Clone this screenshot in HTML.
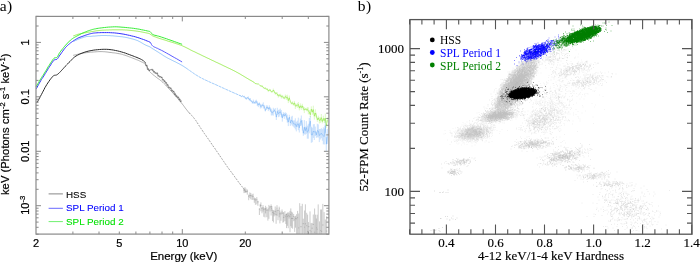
<!DOCTYPE html>
<html><head><meta charset="utf-8"><style>
html,body{margin:0;padding:0;background:#fff;width:700px;height:262px;overflow:hidden}
svg{display:block;filter:blur(0.3px)}
</style></head><body>
<svg width="700" height="262" viewBox="0 0 700 262">
<rect width="700" height="262" fill="#fff"/>
<polyline points="73.3,41.5 74.3,41.1 75.3,40.6 76.3,40.2 77.3,39.7 78.3,39.3 79.3,38.9 80.3,38.5 81.3,38.1 82.3,37.8 83.3,37.4 84.3,37.1 85.3,36.9 86.3,36.6 87.3,36.5 88.3,36.4 89.3,36.4 90.3,36.4 91.3,36.3 92.3,36.2 93.3,36.1 94.3,36.1 95.3,36.0 96.3,35.9 97.3,35.8 98.3,35.7 99.3,35.7 100.3,35.6 101.3,35.5 102.3,35.5 103.3,35.5 104.3,35.5 105.3,35.5 106.3,35.5 107.3,35.6 108.3,35.6 109.3,35.6 110.3,35.7 111.3,35.8 112.3,35.8 113.3,35.9 114.3,36.0 115.3,36.1 116.3,36.2 117.3,36.3 118.3,36.4 119.3,36.5 120.3,36.6 121.3,36.7 122.3,36.8 123.3,37.0 124.3,37.1 125.3,37.3 126.3,37.5 127.3,37.7 128.3,37.9 129.3,38.2 130.3,38.4 131.3,38.7 132.3,38.9 133.3,39.2 134.3,39.5 135.3,39.8 136.3,40.2 137.3,40.5 138.3,41.0 139.3,41.5 140.3,42.0 141.3,42.6 142.3,43.2 143.3,43.8 144.3,44.4 145.3,44.9 146.3,45.4 147.3,45.8 148.3,46.2 149.3,46.6 150.3,47.1 151.3,47.8 152.3,48.5 153.3,49.1 154.3,49.7 155.3,50.4 156.3,51.0 157.3,51.6 158.3,52.2 159.3,52.9 160.3,53.5 161.3,54.1 162.3,54.8 163.3,55.5 164.3,56.1 165.3,56.7 166.3,57.3 167.3,57.9 168.3,58.4 169.3,58.9 170.3,59.4 171.3,59.9 172.3,60.4 173.3,60.9 174.3,61.4 175.3,61.8 176.3,62.4 177.3,62.9 178.3,63.4 179.3,63.9 180.3,64.5 181.3,65.0 182.3,65.6 183.3,66.2 184.3,66.9 185.3,67.5 186.3,68.2" fill="none" stroke="#4c9cf4" stroke-width="0.7" stroke-opacity="0.8"/><polyline points="186.3,68.2 187.3,68.9 188.3,69.6 189.3,70.3 190.3,71.0 191.3,71.7 192.3,72.4 193.3,73.1 194.3,73.8 195.3,74.5 196.3,75.1 197.3,75.7 198.3,76.3 199.3,76.9 200.3,77.5 201.3,78.0 202.3,78.5 203.3,79.0 204.3,79.5 205.3,80.0 206.3,80.4 207.3,80.9 208.3,81.4 209.3,81.8 210.3,82.3 211.3,82.7 212.3,83.2 213.3,83.6 214.3,84.0 215.3,84.5 216.3,84.9 217.3,85.4 218.3,85.8 219.3,86.3 220.3,86.8 221.3,87.2 222.3,87.7 223.3,88.1 224.3,88.6 225.3,89.0 226.3,89.5 227.3,89.9 228.3,90.4 229.3,90.8 230.3,91.3 231.3,91.7 232.3,92.2 233.3,92.6 234.3,93.1 235.3,93.5 236.3,93.9 237.3,94.4 238.3,94.8 239.3,95.3 240.3,95.5" fill="none" stroke="#4c9cf4" stroke-width="0.7" stroke-opacity="0.8" stroke-dasharray="3 0.7"/><polyline points="240.3,95.5 241.3,96.9 242.3,95.8 243.3,96.7 244.3,96.6 245.3,98.1 246.3,98.6 247.3,97.8 248.3,97.9 249.3,99.5 250.3,99.7 251.3,101.0 252.3,102.5 253.3,101.6 254.3,102.8 255.3,102.2 256.3,101.4 257.3,103.7 258.3,105.1 259.3,103.5 260.3,106.2 261.3,106.4 262.3,105.1 263.3,105.4 264.3,106.7 265.3,110.5 266.3,107.6 267.3,107.1 268.3,109.1 269.3,107.5 270.3,109.6 271.3,112.1 272.3,113.0 273.3,111.7 274.3,110.4 275.3,111.3 276.3,117.1 277.3,111.4 278.3,113.5 279.3,113.0 280.3,111.7 281.3,113.6 282.3,117.9 283.3,114.4 284.3,115.8 285.3,114.3 286.3,116.3 287.3,118.6 288.3,122.1 289.3,117.1 290.3,122.9 291.3,120.5 292.3,120.7 293.3,123.6 294.3,124.1 295.3,123.9 296.3,126.6 297.3,124.0 298.3,123.9 299.3,127.8 300.3,122.3 301.3,120.5 302.3,125.4 303.3,133.2 304.3,127.2 305.3,130.7 306.3,127.5 307.3,132.2 308.3,131.3 309.3,125.7 310.3,121.2 311.3,134.8 312.3,135.0 313.3,131.1 314.3,132.1 315.3,131.3 316.3,134.9 317.3,130.6 318.3,130.9 319.3,135.6 320.3,134.3 321.3,133.2 322.3,134.9 323.3,135.8 324.3,136.5 325.3,125.6 326.3,144.2 327.3,136.4" fill="none" stroke="#4c9cf4" stroke-width="0.59" stroke-opacity="0.60"/><path d="M240.3 95.0V95.9M241.3 96.7V97.2M242.3 95.3V96.3M243.3 96.3V97.2M244.3 95.8V97.4M245.3 97.3V98.9M246.3 97.5V99.8M247.3 97.0V98.6M248.3 96.4V99.4M249.3 98.3V100.7M250.3 98.0V101.4M251.3 100.3V101.7M252.3 101.2V103.7M253.3 99.6V103.6M254.3 101.8V103.8M255.3 100.5V103.9M256.3 99.7V103.1M257.3 101.3V106.0M258.3 103.1V107.1M259.3 102.3V104.7M260.3 103.8V108.5M261.3 104.7V108.2M262.3 103.8V106.3M263.3 102.4V108.5M264.3 104.9V108.5M265.3 109.5V111.5M266.3 105.4V109.9M267.3 105.4V108.8M268.3 107.2V111.1M269.3 105.3V109.7M270.3 107.4V111.7M271.3 108.7V115.5M272.3 110.7V115.3M273.3 107.8V115.6M274.3 108.9V111.9M275.3 108.1V114.4M276.3 114.2V120.0M277.3 107.8V115.0M278.3 109.9V117.2M279.3 109.5V116.6M280.3 108.6V114.8M281.3 110.0V117.3M282.3 114.2V121.6M283.3 112.1V116.7M284.3 112.9V118.8M285.3 112.3V116.3M286.3 112.9V119.8M287.3 114.6V122.6M288.3 118.0V126.1M289.3 114.8V119.4M290.3 119.8V125.9M291.3 116.6V124.4M292.3 115.8V125.7M293.3 120.5V126.6M294.3 120.4V127.8M295.3 118.3V129.4M296.3 121.8V131.4M297.3 120.7V127.2M298.3 117.7V130.2M299.3 123.2V132.5M300.3 118.6V126.0M301.3 115.5V125.5M302.3 120.2V130.7M303.3 130.5V135.8M304.3 120.1V134.4M305.3 126.7V134.7M306.3 121.1V133.8M307.3 125.7V138.7M308.3 123.8V138.7M309.3 118.0V133.3M310.3 115.9V126.5M311.3 126.8V142.8M312.3 127.7V142.2M313.3 124.3V137.9M314.3 124.1V140.0M315.3 126.6V136.0M316.3 132.1V137.8M317.3 123.8V137.4M318.3 124.4V137.5M319.3 129.0V142.1M320.3 129.0V139.5M321.3 128.1V138.2M322.3 129.2V140.7M323.3 127.3V144.3M324.3 128.5V144.5M325.3 118.4V132.8M326.3 137.2V151.3M327.3 128.9V143.9" stroke="#4c9cf4" stroke-width="0.4" stroke-opacity="0.75" fill="none"/>
<polyline points="73.3,35.9 74.3,35.6 75.3,35.2 76.3,34.9 77.3,34.5 78.3,34.2 79.3,34.0 80.3,33.7 81.3,33.5 82.3,33.3 83.3,33.1 84.3,32.9 85.3,32.8 86.3,32.6 87.3,32.4 88.3,32.2 89.3,32.1 90.3,31.9 91.3,31.7 92.3,31.5 93.3,31.4 94.3,31.2 95.3,31.0 96.3,30.8 97.3,30.7 98.3,30.6 99.3,30.5 100.3,30.4 101.3,30.3 102.3,30.2 103.3,30.2 104.3,30.1 105.3,30.1 106.3,30.0 107.3,30.0 108.3,30.0 109.3,29.9 110.3,29.9 111.3,29.9 112.3,29.8 113.3,29.8 114.3,29.8 115.3,29.8 116.3,29.8 117.3,29.8 118.3,29.8 119.3,29.8 120.3,29.8 121.3,29.8 122.3,29.8 123.3,29.9 124.3,29.9 125.3,30.0 126.3,30.0 127.3,30.1 128.3,30.2 129.3,30.3 130.3,30.4 131.3,30.5 132.3,30.6 133.3,30.7 134.3,30.8 135.3,30.9 136.3,31.1 137.3,31.2 138.3,31.4 139.3,31.5 140.3,31.7 141.3,31.9 142.3,32.1 143.3,32.3 144.3,32.5 145.3,32.7 146.3,32.9 147.3,33.1 148.3,33.3 149.3,33.6 150.3,34.0 151.3,35.0 152.3,35.7 153.3,36.2 154.3,36.6 155.3,36.9 156.3,37.3 157.3,37.7 158.3,38.0 159.3,38.4 160.3,38.7 161.3,39.0 162.3,39.3 163.3,39.6 164.3,39.9 165.3,40.2 166.3,40.5 167.3,40.9 168.3,41.2 169.3,41.5 170.3,41.8 171.3,42.1 172.3,42.4 173.3,42.7 174.3,43.0 175.3,43.3 176.3,43.7 177.3,44.0 178.3,44.3 179.3,44.7 180.3,45.0 181.3,45.4 182.3,45.8 183.3,46.3 184.3,46.7 185.3,47.2 186.3,47.7 187.3,48.2 188.3,48.7 189.3,49.2 190.3,49.8 191.3,50.3 192.3,50.8 193.3,51.3 194.3,51.7 195.3,52.2 196.3,52.7 197.3,53.2 198.3,53.7 199.3,54.1 200.3,54.6 201.3,55.1 202.3,55.6 203.3,56.1 204.3,56.5 205.3,57.0 206.3,57.5 207.3,58.0 208.3,58.4 209.3,58.9 210.3,59.4 211.3,59.9 212.3,60.4 213.3,60.8 214.3,61.3 215.3,61.8 216.3,62.3 217.3,62.7 218.3,63.2 219.3,63.7 220.3,64.1 221.3,64.6 222.3,65.1 223.3,65.6 224.3,66.1 225.3,66.5 226.3,67.0 227.3,67.5 228.3,68.0 229.3,68.4 230.3,68.9 231.3,69.4 232.3,69.9 233.3,70.4 234.3,70.9 235.3,71.4 236.3,72.0 237.3,72.5 238.3,73.1 239.3,73.6 240.3,74.2 241.3,74.8 242.3,75.4 243.3,76.0 244.3,76.6 245.3,77.2 246.3,77.8 247.3,78.4 248.3,79.0 249.3,79.6 250.3,80.2 251.3,80.7 252.3,81.3 253.3,81.9 254.3,82.5 255.3,83.6" fill="none" stroke="#8ee83c" stroke-width="0.85" stroke-opacity="1.0"/><polyline points="255.3,83.6 256.3,83.7 257.3,84.0 258.3,83.9 259.3,84.8 260.3,85.8 261.3,86.1 262.3,86.2 263.3,87.5 264.3,88.3 265.3,88.2 266.3,89.1 267.3,89.1 268.3,91.0 269.3,90.0 270.3,90.1 271.3,91.8 272.3,91.7 273.3,90.0 274.3,91.9 275.3,93.4 276.3,93.2 277.3,94.1 278.3,95.9 279.3,95.3 280.3,95.4 281.3,96.7 282.3,96.4 283.3,97.4 284.3,98.4 285.3,96.4 286.3,97.7 287.3,97.0 288.3,100.7 289.3,97.8 290.3,101.4 291.3,103.5 292.3,102.6 293.3,104.5 294.3,102.8 295.3,106.1 296.3,105.5 297.3,105.5 298.3,104.4 299.3,108.1 300.3,105.8 301.3,107.6 302.3,105.9 303.3,108.4 304.3,110.1 305.3,109.0 306.3,109.6 307.3,109.2 308.3,110.9 309.3,112.0 310.3,114.8 311.3,109.1 312.3,112.1 313.3,109.6 314.3,116.2 315.3,113.0 316.3,115.4 317.3,119.8 318.3,117.9 319.3,120.4 320.3,120.2 321.3,117.6 322.3,121.6 323.3,118.4 324.3,120.6 325.3,118.1 326.3,125.9 327.3,119.9" fill="none" stroke="#8ee83c" stroke-width="0.72" stroke-opacity="0.75"/><path d="M255.3 83.4V83.9M256.3 83.3V84.2M257.3 83.5V84.4M258.3 83.6V84.2M259.3 84.5V85.1M260.3 85.2V86.4M261.3 85.4V86.7M262.3 85.3V87.2M263.3 86.7V88.3M264.3 87.7V88.8M265.3 87.1V89.4M266.3 88.4V89.7M267.3 88.2V90.0M268.3 89.8V92.1M269.3 88.9V91.1M270.3 89.0V91.2M271.3 91.1V92.5M272.3 90.9V92.5M273.3 88.6V91.3M274.3 90.4V93.4M275.3 92.0V94.7M276.3 92.2V94.3M277.3 92.4V95.9M278.3 94.1V97.6M279.3 94.0V96.5M280.3 93.8V97.0M281.3 94.8V98.6M282.3 94.9V97.9M283.3 95.8V99.0M284.3 97.4V99.3M285.3 94.5V98.4M286.3 95.4V99.9M287.3 94.7V99.2M288.3 98.2V103.1M289.3 95.6V100.0M290.3 100.5V102.2M291.3 102.6V104.5M292.3 101.3V103.8M293.3 103.4V105.6M294.3 100.9V104.6M295.3 103.2V109.0M296.3 104.1V106.8M297.3 103.1V107.9M298.3 102.0V106.9M299.3 105.9V110.4M300.3 103.4V108.3M301.3 105.4V109.9M302.3 103.8V108.1M303.3 106.2V110.5M304.3 107.2V113.1M305.3 107.9V110.0M306.3 108.1V111.2M307.3 107.2V111.3M308.3 107.4V114.4M309.3 110.0V114.0M310.3 112.3V117.2M311.3 106.4V111.7M312.3 109.4V114.9M313.3 105.7V113.5M314.3 112.9V119.6M315.3 109.4V116.6M316.3 112.8V118.1M317.3 117.8V121.8M318.3 115.7V120.1M319.3 117.3V123.5M320.3 117.5V122.9M321.3 114.0V121.1M322.3 119.7V123.4M323.3 115.7V121.0M324.3 118.1V123.0M325.3 113.6V122.6M326.3 124.0V127.8M327.3 117.3V122.5" stroke="#8ee83c" stroke-width="0.4" stroke-opacity="0.75" fill="none"/>
<polyline points="73.0,55.4 73.4,55.3 74.0,55.2 74.6,55.0 75.3,54.9 76.1,54.7 76.9,54.5 77.7,54.3 78.5,54.1 79.3,54.0 80.0,53.8 80.7,53.7 81.3,53.5 81.9,53.4 82.5,53.3 83.1,53.2 83.8,53.0 84.5,52.9 85.2,52.8 86.1,52.7 87.0,52.6 88.1,52.5 89.3,52.4 90.6,52.2 91.9,52.1 93.3,52.0 94.7,51.9 96.1,51.8 97.5,51.7 98.8,51.6 100.0,51.6 101.1,51.6 102.2,51.6 103.2,51.7 104.1,51.7 105.1,51.8 106.0,51.9 107.0,52.0 108.0,52.1 109.0,52.3 110.0,52.4 111.1,52.5 112.2,52.7 113.3,52.8 114.5,52.9 115.6,53.1 116.8,53.3 117.9,53.5 119.1,53.7 120.2,53.9 121.4,54.2 122.6,54.5 123.7,54.9 124.9,55.2 126.1,55.6 127.2,56.0 128.4,56.5 129.5,56.9 130.7,57.3 131.8,57.8 132.9,58.2 134.0,58.6 135.2,59.1 136.3,59.6 137.5,60.0 138.6,60.5 139.7,61.0 140.7,61.5 141.6,61.9 142.5,62.3 143.2,62.7 143.8,63.0 144.2,63.3 144.6,63.6 144.9,63.9 145.1,64.1 145.3,64.4 145.4,64.6 145.6,64.9 145.8,65.2 146.0,65.5 146.3,65.9 146.5,66.2 146.8,66.7 147.1,67.1 147.3,67.5 147.6,68.0 147.8,68.4 148.1,68.8 148.3,69.2 148.5,69.5 148.7,69.8 148.8,70.1 148.9,70.3 149.0,70.5 149.0,70.7 149.1,70.9 149.3,71.1 149.4,71.4 149.7,71.7 150.0,72.0 150.4,72.4 150.9,72.8 151.4,73.3 152.0,73.8 152.7,74.3 153.3,74.9 154.0,75.4 154.7,75.9 155.3,76.5 156.0,77.0 156.6,77.5 157.3,78.0 157.9,78.5 158.6,78.9 159.3,79.4 159.9,79.9 160.6,80.5 161.4,81.0 162.1,81.7 162.9,82.4 163.7,83.2 164.6,84.0 165.5,84.9 166.4,85.9 167.3,86.9 168.2,87.9 169.2,88.9 170.1,89.9 171.1,91.0 172.0,92.0 172.9,93.0 173.9,94.1 174.9,95.3 175.9,96.4 176.9,97.5 177.8,98.7 178.8,99.8 179.7,100.9 180.6,101.9 181.4,102.9 182.2,103.9 182.9,104.8 183.6,105.7 184.2,106.5 184.8,107.4 185.4,108.2 186.0,109.0 186.7,109.8 187.3,110.6 187.9,111.4 188.5,112.1 189.2,112.8 189.8,113.5" fill="none" stroke="#a0a0a0" stroke-width="0.85"/>
<polyline points="189.2,112.8 189.8,113.5 190.4,114.1 191.0,114.8 191.7,115.4 192.3,116.1 192.9,116.8 193.6,117.6 194.3,118.5 195.0,119.5 195.8,120.5 196.5,121.6 197.3,122.8 198.1,124.0 198.8,125.2 199.6,126.4 200.4,127.6 201.2,128.8 202.0,130.0 202.8,131.1 203.5,132.3 204.3,133.4 205.1,134.5 205.9,135.6 206.6,136.7 207.4,137.8 208.3,139.0 209.1,140.2 210.0,141.5 210.9,142.8 211.9,144.3 212.9,145.8 214.0,147.3 215.1,148.8 216.1,150.4 217.2,151.9 218.2,153.3 219.1,154.7 220.0,156.0 220.8,157.2 221.6,158.4 222.4,159.5 223.1,160.6 223.8,161.6 224.5,162.6 225.2,163.6 225.8,164.5 226.5,165.5 227.1,166.4 227.7,167.3 228.3,168.1 228.9,168.9 229.5,169.7 230.0,170.4 230.5,171.1 231.1,171.9 231.7,172.6 232.3,173.4 232.9,174.3 233.6,175.2 234.3,176.2 235.0,177.2 235.7,178.2 236.5,179.2 237.2,180.2 237.9,181.2 238.6,182.2 239.3,183.1 240.0,184.0 240.7,184.9 241.3,185.7 242.0,186.6 242.7,187.5 243.3,188.3 243.9,189.1 244.5,189.8 244.9,190.4 245.4,191.0 245.7,191.4" fill="none" stroke="#8c8c8c" stroke-width="0.8" stroke-dasharray="2 1.1"/>
<path d="M243.5 190.4h1.1M244.0 187.8V193.1M244.5 190.8h1.1M245.0 187.2V192.9M245.3 191.5h1.4M246.0 188.6V193.0M246.6 191.2h1.4M247.3 189.5V194.7M248.1 196.2h1.2M248.7 194.6V200.2M249.3 195.6h1.0M249.8 192.4V198.1M250.1 195.6h1.4M250.8 193.0V199.3M251.5 196.1h1.1M252.1 194.4V200.0M252.5 196.6h1.2M253.1 193.7V199.7M253.7 199.2h1.2M254.3 197.5V202.8M254.7 199.9h1.4M255.4 198.1V204.8M256.2 199.8h1.2M256.8 197.1V204.4M257.1 201.9h1.6M257.9 200.8V205.8M258.9 209.3h0.9M259.4 208.1V215.0M259.8 205.3h0.8M260.2 204.2V207.3M260.4 205.5h1.1M260.9 202.4V211.3M261.4 208.6h1.1M262.0 207.2V213.3M262.6 207.6h0.8M263.0 205.1V211.6M263.2 209.2h1.2M263.8 207.5V216.8M264.6 209.3h0.7M265.0 208.0V217.4M265.0 208.9h1.2M265.6 205.8V213.4M266.1 210.2h1.2M266.8 207.3V217.2M267.5 210.2h1.0M267.9 209.1V220.6M268.3 208.8h1.2M268.9 204.9V218.8M269.4 207.1h1.2M270.0 206.0V211.5M270.7 206.5h0.8M271.1 204.4V215.5M271.4 208.3h0.8M271.8 206.0V211.1M272.1 212.4h0.9M272.6 209.6V221.0M273.1 212.8h0.7M273.4 210.3V222.4M273.5 213.8h1.2M274.1 210.4V216.4M274.7 211.5h1.0M275.2 206.5V215.4M275.7 214.6h0.9M276.1 209.5V223.8M276.4 208.2h1.1M277.0 205.2V215.9M277.4 210.5h1.2M278.0 209.5V220.2M278.9 208.8h0.7M279.2 206.7V217.3M279.3 213.8h1.2M279.9 210.5V223.4M280.5 213.9h1.1M281.0 212.0V220.8M281.6 211.8h1.0M282.0 209.4V214.1M282.5 213.3h0.8M282.9 212.2V222.7M283.1 217.4h1.3M283.7 212.2V222.1M284.5 215.8h0.9M284.9 211.1V221.1M285.4 216.7h0.7M285.8 214.1V224.0M286.0 214.5h0.9M286.5 213.5V228.1M286.9 216.4h0.9M287.4 212.7V225.8M287.8 215.3h0.9M288.2 212.3V228.2M288.7 216.2h0.9M289.1 212.7V218.6M289.6 216.2h0.8M290.0 210.9V232.2M290.3 214.5h0.8M290.8 208.4V226.2M291.0 218.5h1.1M291.6 211.7V227.9M292.0 218.5h1.2M292.6 212.5V228.7M293.2 216.5h1.1M293.7 214.0V221.2M294.3 219.8h0.9M294.7 216.6V231.9M295.0 218.4h1.2M295.5 215.8V227.7M296.1 218.8h1.0M296.6 214.2V234.0M297.0 217.7h1.1M297.6 210.9V234.0M298.2 227.9h1.0M298.7 213.5V234.0M299.7 203.2V234.0M300.3 226.7h1.4M301.0 206.1V234.0M302.3 203.8V234.0M302.6 223.7h1.4M303.3 218.7V233.7M304.2 227.2h0.8M304.6 210.5V234.0M304.8 223.8h1.3M305.4 204.3V233.8M306.2 225.7h1.0M306.7 212.8V234.0M307.1 231.4h1.0M307.6 214.6V234.0M307.9 226.7h1.5M308.6 222.1V234.0M309.4 230.4h1.2M310.0 211.4V234.0M310.5 231.8h1.1M311.1 223.1V234.0M311.5 228.2h1.3M312.1 222.9V234.0M312.6 224.4h1.4M313.3 214.5V234.0M314.1 232.2h1.1M314.6 208.5V234.0M315.6 214.7V234.0M316.0 227.8h0.8M316.4 218.5V234.0M316.7 229.2h1.0M317.2 214.7V234.0M318.2 204.4V234.0M319.5 221.4V234.0M320.2 230.4h0.9M320.6 209.5V234.0M320.8 231.3h1.4M321.5 209.5V234.0M322.1 225.0h1.4M322.8 203.9V234.0M324.1 212.1V234.0M325.4 219.5V234.0M325.9 231.1h1.4M326.6 216.2V234.0" stroke="#8c8c8c" stroke-width="0.45" fill="none"/>
<path d="M146.5 64.6V66.3M148.0 68.4V69.7M149.5 69.6V71.0M151.0 69.1V69.9M152.5 68.8V70.9M154.0 70.8V72.6M155.5 72.3V73.6M157.0 72.1V74.6M158.5 75.3V76.2M160.0 76.2V77.2M161.5 76.6V77.9M163.0 79.3V80.1M164.5 80.0V82.1M166.0 82.1V83.5M167.5 84.1V85.6M169.0 86.9V87.6M170.5 87.6V88.6M172.0 89.8V90.9M173.5 90.8V92.3M175.0 92.8V95.4M176.5 95.1V97.0M178.0 96.5V98.0M179.5 98.2V100.4M181.0 100.5V102.0" stroke="#777" stroke-width="0.45" fill="none"/>
<polyline points="145.5,63.0 145.9,65.8 147.1,65.2 147.4,69.5 148.6,68.9 148.9,70.7 150.1,70.1 150.4,69.9 151.6,69.3 151.9,70.3 153.1,69.7 153.4,72.1 154.6,71.5 154.9,73.3 156.1,72.7 156.4,73.7 157.6,73.1 157.9,76.2 159.1,75.6 159.4,77.1 160.6,76.5 160.9,77.7 162.1,77.1 162.4,80.1 163.6,79.5 163.9,81.5 165.1,80.9 165.4,83.2 166.6,82.6 166.9,85.3 168.1,84.7 168.4,87.7 169.6,87.1 169.9,88.5 171.1,87.9 171.4,90.8 172.6,90.2 172.9,92.0 174.1,91.4 174.4,94.5 175.6,93.9 175.9,96.4 177.1,95.8 177.4,97.6 178.6,97.0 178.9,99.7 180.1,99.1 180.4,101.6 181.6,101.0" fill="none" stroke="#555" stroke-width="0.65"/>
<polyline points="36.3,88.8 36.7,88.1 37.2,87.1 37.9,85.8 38.6,84.5 39.3,83.2 40.0,82.0 40.7,80.8 41.4,79.6 42.2,78.4 43.0,77.2 43.7,76.0 44.5,74.8 45.2,73.6 46.0,72.4 46.7,71.2 47.5,69.9 48.2,68.7 49.0,67.5 49.8,66.2 50.7,64.9 51.5,63.5 52.4,62.2 53.2,61.1 53.9,60.3 54.5,59.8 55.1,59.6 55.6,59.6 56.0,59.6 56.5,59.5 57.0,59.2 57.5,58.7 57.9,58.2 58.3,57.5 58.8,56.8 59.3,55.9 60.0,55.0 60.8,53.9 61.7,52.6 62.7,51.2 63.7,49.8 64.7,48.5 65.7,47.3 66.7,46.3 67.6,45.4 68.6,44.5 69.6,43.7 70.5,42.9 71.5,42.2 72.5,41.5 73.4,40.8 74.4,40.2 75.3,39.6 76.3,39.0 77.2,38.5 78.1,38.0 79.1,37.6 80.0,37.2 81.0,36.9 81.9,36.5 82.9,36.2 83.9,35.8 84.8,35.5 85.8,35.1 86.8,34.8 87.7,34.5 88.7,34.2 89.6,33.9 90.5,33.7 91.4,33.5 92.3,33.3 93.3,33.1 94.4,33.0 95.6,32.9 96.9,32.8 98.3,32.7 99.7,32.7 101.3,32.6 102.9,32.6 104.6,32.6 106.5,32.6 108.4,32.6 110.4,32.7 112.4,32.8 114.3,32.9 116.2,33.1 118.1,33.3 120.0,33.6 122.0,33.9 123.9,34.2 125.8,34.6 127.7,35.0 129.6,35.4 131.5,35.9 133.4,36.3 135.3,36.8 137.2,37.4 139.2,38.0 141.4,38.8 143.5,39.5 145.5,40.3 147.2,41.0 148.6,41.5 149.5,41.9 150.0,42.1 150.2,42.2 150.2,42.4 150.3,42.5 150.5,42.8 150.8,43.2" fill="none" stroke="#3030ff" stroke-width="1.0"/>
<polyline points="150.5,42.8 150.8,43.2 151.0,43.6 151.2,44.0 151.5,44.5 151.7,44.9 152.0,45.3 152.3,45.6 152.5,45.8 152.7,46.0 153.0,46.2 153.4,46.5 154.0,46.8 154.7,47.2 155.6,47.5 156.5,48.0 157.6,48.4 158.7,49.0 160.0,49.6 161.4,50.3 163.0,51.1 164.6,52.0 166.4,53.0 168.2,54.0 170.0,55.0 172.0,56.2 174.3,57.5 176.7,58.8 178.9,60.1 180.8,61.2 182.1,62.0" fill="none" stroke="#4040ff" stroke-width="0.85"/>
<polyline points="36.1,86.8 36.5,86.1 37.1,85.0 37.8,83.8 38.5,82.5 39.3,81.2 40.0,80.0 40.7,78.9 41.5,77.7 42.2,76.5 43.0,75.4 43.7,74.2 44.5,73.0 45.2,71.8 46.0,70.5 46.7,69.3 47.5,68.0 48.2,66.7 49.0,65.5 49.8,64.2 50.7,62.9 51.5,61.6 52.4,60.3 53.2,59.2 53.9,58.4 54.5,57.9 55.1,57.7 55.6,57.7 56.0,57.7 56.5,57.6 57.0,57.3 57.5,56.7 57.9,56.0 58.3,55.1 58.8,54.2 59.3,53.2 60.0,52.2 60.8,51.1 61.7,49.9 62.7,48.7 63.7,47.4 64.7,46.2 65.7,45.1 66.7,44.0 67.6,43.0 68.6,42.0 69.6,41.0 70.5,40.1 71.5,39.3 72.5,38.6 73.4,38.0 74.4,37.4 75.3,36.9 76.3,36.4 77.2,35.9 78.1,35.4 79.1,34.9 80.0,34.4 81.0,33.9 81.9,33.4 82.9,33.0 83.9,32.6 84.8,32.2 85.8,31.8 86.8,31.4 87.7,31.0 88.7,30.7 89.6,30.4 90.5,30.1 91.4,29.8 92.3,29.5 93.3,29.3 94.4,29.0 95.6,28.8 96.9,28.5 98.3,28.3 99.7,28.1 101.3,27.9 102.9,27.7 104.6,27.5 106.5,27.3 108.4,27.1 110.4,27.0 112.4,26.9 114.3,26.8 116.2,26.8 118.1,26.9 120.0,27.0 122.0,27.2 123.9,27.3 125.8,27.5 127.7,27.7 129.6,27.9 131.5,28.1 133.4,28.3 135.3,28.6 137.2,28.9 139.2,29.2 141.4,29.7 143.5,30.1 145.5,30.5 147.2,30.9 148.6,31.2 149.5,31.4 149.9,31.5 150.1,31.6 150.2,31.7 150.3,31.8 150.5,32.0 150.8,32.3 151.1,32.8 151.4,33.2 151.8,33.7 152.3,34.2 153.0,34.6 153.9,35.0 154.9,35.3 156.0,35.5 157.3,35.9 158.6,36.2 160.0,36.6 161.5,37.1 163.0,37.6 164.7,38.2 166.4,38.7 168.2,39.4 170.0,40.0 172.0,40.7 174.3,41.5 176.7,42.4 178.9,43.2 180.8,43.8 182.1,44.3" fill="none" stroke="#38ee38" stroke-width="1.0"/>
<polyline points="36.9,102.8 37.4,101.9 38.1,100.7 38.9,99.2 39.7,97.6 40.6,96.0 41.5,94.4 42.3,92.8 43.2,91.1 44.1,89.4 44.9,87.7 45.9,86.1 46.8,84.5 47.8,83.0 48.9,81.4 50.0,79.8 51.1,78.4 52.1,77.2 52.9,76.3 53.5,75.7 54.0,75.4 54.5,75.3 54.8,75.3 55.1,75.3 55.5,75.2 55.8,75.1 56.1,75.0 56.4,75.0 56.7,74.9 57.0,74.7 57.5,74.4 58.1,73.9 58.9,73.2 59.7,72.4 60.5,71.6 61.3,70.7 62.0,70.0 62.6,69.3 63.2,68.7 63.7,68.1 64.2,67.5 64.8,66.9 65.4,66.2 66.1,65.5 66.8,64.7 67.5,64.0 68.3,63.2 69.1,62.3 70.0,61.5 70.9,60.6 71.7,59.7 72.6,58.7 73.6,57.8 74.7,56.9 76.0,56.0 77.5,55.2 79.2,54.3 81.0,53.5 83.0,52.8 84.9,52.1 86.9,51.5 88.9,51.0 91.1,50.6 93.2,50.2 95.4,49.9 97.5,49.7 99.5,49.5 101.4,49.4 103.1,49.3 104.8,49.3 106.5,49.3 108.2,49.4 110.0,49.6 111.8,49.8 113.7,50.1 115.6,50.5 117.6,50.9 119.5,51.4 121.4,51.9 123.4,52.5 125.4,53.1 127.4,53.9 129.4,54.6 131.2,55.3 132.9,55.9 134.4,56.5 135.7,57.0 137.0,57.5 138.1,58.0 139.1,58.4 140.0,58.8 140.8,59.2 141.4,59.5 141.9,59.7 142.3,60.0 142.8,60.3 143.2,60.6 143.6,61.0 144.1,61.3 144.5,61.7 144.8,62.1 145.2,62.5 145.5,63.0" fill="none" stroke="#2a2a2a" stroke-width="1.0"/>
<rect x="36.0" y="16.4" width="292.9" height="217.7" fill="none" stroke="#8a8a8a" stroke-width="1.2"/>
<path d="M72.9 234.1v-2.6M72.9 16.4v2.6M99.0 234.1v-2.6M99.0 16.4v2.6M119.3 234.1v-2.6M119.3 16.4v2.6M135.9 234.1v-2.6M135.9 16.4v2.6M149.9 234.1v-2.6M149.9 16.4v2.6M162.0 234.1v-2.6M162.0 16.4v2.6M172.7 234.1v-2.6M172.7 16.4v2.6M182.3 234.1v-5M182.3 16.4v5M245.3 234.1v-2.6M245.3 16.4v2.6M282.2 234.1v-2.6M282.2 16.4v2.6M308.3 234.1v-2.6M308.3 16.4v2.6M36.0 234.2h2.6M328.9 234.2h-2.6M36.0 227.3h2.6M328.9 227.3h-2.6M36.0 222.1h2.6M328.9 222.1h-2.6M36.0 217.8h2.6M328.9 217.8h-2.6M36.0 214.1h2.6M328.9 214.1h-2.6M36.0 211.0h2.6M328.9 211.0h-2.6M36.0 208.2h2.6M328.9 208.2h-2.6M36.0 205.7h5M328.9 205.7h-5M36.0 189.3h2.6M328.9 189.3h-2.6M36.0 179.7h2.6M328.9 179.7h-2.6M36.0 172.9h2.6M328.9 172.9h-2.6M36.0 167.6h2.6M328.9 167.6h-2.6M36.0 163.3h2.6M328.9 163.3h-2.6M36.0 159.7h2.6M328.9 159.7h-2.6M36.0 156.5h2.6M328.9 156.5h-2.6M36.0 153.8h2.6M328.9 153.8h-2.6M36.0 151.3h5M328.9 151.3h-5M36.0 134.9h2.6M328.9 134.9h-2.6M36.0 125.3h2.6M328.9 125.3h-2.6M36.0 118.5h2.6M328.9 118.5h-2.6M36.0 113.2h2.6M328.9 113.2h-2.6M36.0 108.9h2.6M328.9 108.9h-2.6M36.0 105.3h2.6M328.9 105.3h-2.6M36.0 102.1h2.6M328.9 102.1h-2.6M36.0 99.3h2.6M328.9 99.3h-2.6M36.0 96.8h5M328.9 96.8h-5M36.0 80.4h2.6M328.9 80.4h-2.6M36.0 70.9h2.6M328.9 70.9h-2.6M36.0 64.1h2.6M328.9 64.1h-2.6M36.0 58.8h2.6M328.9 58.8h-2.6M36.0 54.5h2.6M328.9 54.5h-2.6M36.0 50.8h2.6M328.9 50.8h-2.6M36.0 47.7h2.6M328.9 47.7h-2.6M36.0 44.9h2.6M328.9 44.9h-2.6M36.0 42.4h5M328.9 42.4h-5M36.0 26.0h2.6M328.9 26.0h-2.6M36.0 16.4h2.6M328.9 16.4h-2.6" stroke="#8a8a8a" stroke-width="1" fill="none"/>
<g transform="scale(0.5)"><path d="M1076 112h2m-9 3h2m-10 2h2m0 0h2m-5 1h2m-9 1h2m0 0h2m1 0h2m3 0h2m0 0h2m1 0h2m-28 1h2m17 0h2m-1 0h2m3 0h2m-12 1h2m3 0h2m-2 0h2m2 0h2m0 0h2m5 0h2m-26 1h2m5 0h2m1 0h2m-1 0h2m-1 0h2m-22 1h2m-1 0h2m0 0h2m-1 0h2m-1 0h2m1 0h2m1 0h2m10 0h2m1 0h2m-19 1h2m6 0h2m0 0h2m0 0h2m1 0h2m-16 1h2m1 0h2m3 0h2m-1 0h2m4 0h2m6 0h2m-39 1h2m5 0h2m0 0h2m1 0h2m0 0h2m0 0h2m6 0h2m3 0h2m1 0h2m2 0h2m-35 1h2m-1 0h2m4 0h2m-1 0h2m0 0h2m-2 0h2m18 0h2m-18 1h2m3 0h2m0 0h2m6 0h2m5 0h2m-38 1h2m3 0h2m0 0h2m5 0h2m4 0h2m2 0h2m-2 0h2m3 0h2m-19 1h2m5 0h2m2 0h2m1 0h2m-29 1h2m3 0h2m4 0h2m0 0h2m1 0h2m0 0h2m-2 0h2m-1 0h2m2 0h2m2 0h2m0 0h2m-32 1h2m0 0h2m-1 0h2m7 0h2m2 0h2m-1 0h2m-1 0h2m-1 0h2m-1 0h2m-2 0h2m2 0h2m-1 0h2m-1 0h2m2 0h2m1 0h2m-40 1h2m0 0h2m-2 0h2m4 0h2m4 0h2m1 0h2m-1 0h2m5 0h2m6 0h2m-2 0h2m-1 0h2m-26 1h2m2 0h2m1 0h2m6 0h2m0 0h2m4 0h2m-1 0h2m3 0h2m-39 1h2m-1 0h2m1 0h2m2 0h2m0 0h2m0 0h2m0 0h2m2 0h2m-1 0h2m-1 0h2m-1 0h2m0 0h2m0 0h2m1 0h2m7 0h2m0 0h2m-53 1h2m15 0h2m6 0h2m3 0h2m2 0h2m-1 0h2m5 0h2m-2 0h2m4 0h2m-38 1h2m-1 0h2m7 0h2m3 0h2m8 0h2m-1 0h2m5 0h2m-37 1h2m-2 0h2m-2 0h2m6 0h2m-1 0h2m-1 0h2m-2 0h2m5 0h2m-2 0h2m1 0h2m-2 0h2m2 0h2m2 0h2m-23 1h2m-1 0h2m1 0h2m2 0h2m3 0h2m0 0h2m4 0h2m0 0h2m-2 0h2m3 0h2m-2 0h2m-1 0h2m-44 1h2m-1 0h2m7 0h2m3 0h2m-1 0h2m3 0h2m0 0h2m-2 0h2m1 0h2m1 0h2m-2 0h2m1 0h2m1 0h2m-1 0h2m-39 1h2m9 0h2m-1 0h2m-2 0h2m11 0h2m-1 0h2m-2 0h2m0 0h2m-2 0h2m-1 0h2m8 0h2m-36 1h2m1 0h2m7 0h2m-1 0h2m0 0h2m4 0h2m0 0h2m-1 0h2m-1 0h2m-2 0h2m-1 0h2m-1 0h2m-2 0h2m-1 0h2m-2 0h2m-30 1h2m-2 0h2m1 0h2m1 0h2m0 0h2m-1 0h2m0 0h2m2 0h2m-2 0h2m0 0h2m2 0h2m-38 1h2m4 0h2m0 0h2m-2 0h2m0 0h2m0 0h2m10 0h2m-1 0h2m6 0h2m-2 0h2m3 0h2m10 0h2m-2 0h2m-1 0h2m-1 0h2m-47 1h2m2 0h2m3 0h2m-1 0h2m2 0h2m-1 0h2m3 0h2m1 0h2m1 0h2m-2 0h2m5 0h2m0 0h2m1 0h2m0 0h2m-1 0h2m3 0h2m-51 1h2m-1 0h2m1 0h2m0 0h2m3 0h2m1 0h2m-1 0h2m4 0h2m7 0h2m-1 0h2m-1 0h2m-2 0h2m3 0h2m-2 0h2m5 0h2m-47 1h2m12 0h2m8 0h2m1 0h2m4 0h2m2 0h2m5 0h2m1 0h2m-50 1h2m5 0h2m1 0h2m2 0h2m-2 0h2m-2 0h2m2 0h2m0 0h2m-2 0h2m-1 0h2m0 0h2m3 0h2m4 0h2m-1 0h2m0 0h2m3 0h2m-1 0h2m-46 1h2m4 0h2m-2 0h2m1 0h2m0 0h2m-1 0h2m1 0h2m2 0h2m0 0h2m0 0h2m11 0h2m-1 0h2m1 0h2m-2 0h2m6 0h2m-44 1h2m-1 0h2m6 0h2m-1 0h2m2 0h2m-1 0h2m0 0h2m9 0h2m-2 0h2m0 0h2m4 0h2m-40 1h2m-1 0h2m1 0h2m2 0h2m-2 0h2m1 0h2m-1 0h2m-2 0h2m-2 0h2m-1 0h2m-1 0h2m-2 0h2m-1 0h2m-1 0h2m1 0h2m-1 0h2m0 0h2m0 0h2m-1 0h2m4 0h2m0 0h2m-2 0h2m4 0h2m-1 0h2m1 0h2m-52 1h2m5 0h2m0 0h2m-1 0h2m-1 0h2m0 0h2m10 0h2m-1 0h2m1 0h2m13 0h2m2 0h2m0 0h2m-37 1h2m0 0h2m0 0h2m-2 0h2m-1 0h2m-2 0h2m-1 0h2m-1 0h2m-1 0h2m-2 0h2m-1 0h2m4 0h2m4 0h2m0 0h2m0 0h2m1 0h2m0 0h2m-45 1h2m7 0h2m4 0h2m-2 0h2m-1 0h2m-2 0h2m2 0h2m-2 0h2m2 0h2m-2 0h2m-1 0h2m-1 0h2m-2 0h2m-1 0h2m-1 0h2m-1 0h2m0 0h2m0 0h2m8 0h2m2 0h2m-50 1h2m7 0h2m4 0h2m-1 0h2m0 0h2m1 0h2m1 0h2m-1 0h2m-1 0h2m-1 0h2m2 0h2m-1 0h2m6 0h2m2 0h2m0 0h2m-49 1h2m-1 0h2m1 0h2m0 0h2m-2 0h2m1 0h2m6 0h2m-2 0h2m-1 0h2m-1 0h2m-1 0h2m-1 0h2m2 0h2m-1 0h2m1 0h2m3 0h2m0 0h2m4 0h2m2 0h2m-1 0h2m-1 0h2m-54 1h2m7 0h2m1 0h2m5 0h2m1 0h2m-2 0h2m0 0h2m0 0h2m3 0h2m-2 0h2m0 0h2m0 0h2m9 0h2m2 0h2m-49 1h2m6 0h2m1 0h2m-2 0h2m-1 0h2m-1 0h2m-1 0h2m-1 0h2m-2 0h2m-1 0h2m-1 0h2m0 0h2m-1 0h2m-1 0h2m-1 0h2m-1 0h2m-2 0h2m0 0h2m4 0h2m2 0h2m2 0h2m2 0h2m1 0h2m4 0h2m-48 1h2m-1 0h2m2 0h2m-1 0h2m-2 0h2m0 0h2m-2 0h2m1 0h2m1 0h2m0 0h2m-1 0h2m0 0h2m2 0h2m1 0h2m-1 0h2m0 0h2m-1 0h2m-1 0h2m4 0h2m5 0h2m-58 1h2m2 0h2m1 0h2m6 0h2m2 0h2m-1 0h2m1 0h2m-2 0h2m-1 0h2m-1 0h2m-2 0h2m-2 0h2m-1 0h2m-1 0h2m-1 0h2m-1 0h2m2 0h2m-1 0h2m-2 0h2m-2 0h2m-1 0h2m-2 0h2m-1 0h2m0 0h2m1 0h2m0 0h2m-1 0h2m-2 0h2m6 0h2m-50 1h2m0 0h2m-1 0h2m2 0h2m0 0h2m7 0h2m-2 0h2m-1 0h2m0 0h2m0 0h2m0 0h2m-1 0h2m2 0h2m0 0h2m-1 0h2m9 0h2m-48 1h2m7 0h2m-1 0h2m0 0h2m0 0h2m0 0h2m1 0h2m-1 0h2m-1 0h2m-1 0h2m-1 0h2m0 0h2m2 0h2m0 0h2m-1 0h2m-1 0h2m-1 0h2m1 0h2m1 0h2m-2 0h2m2 0h2m0 0h2m-2 0h2m-44 1h2m3 0h2m1 0h2m6 0h2m-2 0h2m2 0h2m0 0h2m1 0h2m-1 0h2m-2 0h2m-2 0h2m0 0h2m-2 0h2m10 0h2m-38 1h2m-2 0h2m3 0h2m2 0h2m-1 0h2m-2 0h2m-1 0h2m-1 0h2m-2 0h2m0 0h2m6 0h2m2 0h2m1 0h2m0 0h2m-2 0h2m2 0h2m-1 0h2m5 0h2m-2 0h2m-53 1h2m3 0h2m1 0h2m0 0h2m1 0h2m1 0h2m-1 0h2m-1 0h2m0 0h2m-1 0h2m-2 0h2m-2 0h2m-2 0h2m-2 0h2m-1 0h2m-2 0h2m-1 0h2m-1 0h2m-1 0h2m0 0h2m4 0h2m4 0h2m-1 0h2m-1 0h2m1 0h2m-2 0h2m4 0h2m-58 1h2m0 0h2m1 0h2m0 0h2m6 0h2m-1 0h2m-2 0h2m-2 0h2m0 0h2m-2 0h2m-1 0h2m1 0h2m1 0h2m0 0h2m-1 0h2m-2 0h2m-1 0h2m-1 0h2m-2 0h2m2 0h2m-2 0h2m1 0h2m-1 0h2m-2 0h2m-1 0h2m0 0h2m-1 0h2m-1 0h2m0 0h2m-43 1h2m4 0h2m-1 0h2m3 0h2m-1 0h2m-1 0h2m0 0h2m-2 0h2m-2 0h2m3 0h2m-2 0h2m-1 0h2m1 0h2m-1 0h2m-2 0h2m3 0h2m12 0h2m3 0h2m-50 1h2m-1 0h2m2 0h2m0 0h2m4 0h2m-1 0h2m2 0h2m-1 0h2m-1 0h2m-1 0h2m-2 0h2m0 0h2m3 0h2m2 0h2m0 0h2m-2 0h2m1 0h2m-2 0h2m2 0h2m-1 0h2m1 0h2m3 0h2m-53 1h2m4 0h2m-2 0h2m2 0h2m2 0h2m-1 0h2m-1 0h2m-1 0h2m-1 0h2m-1 0h2m-2 0h2m-1 0h2m-2 0h2m-1 0h2m6 0h2m-2 0h2m-1 0h2m1 0h2m-1 0h2m-2 0h2m3 0h2m-2 0h2m-1 0h2m-48 1h2m7 0h2m1 0h2m2 0h2m-2 0h2m0 0h2m-2 0h2m0 0h2m2 0h2m-1 0h2m-1 0h2m-2 0h2m0 0h2m-1 0h2m-1 0h2m-1 0h2m-2 0h2m-2 0h2m-1 0h2m5 0h2m0 0h2m0 0h2m-1 0h2m-2 0h2m0 0h2m-46 1h2m10 0h2m4 0h2m0 0h2m1 0h2m-2 0h2m-1 0h2m-1 0h2m0 0h2m0 0h2m0 0h2m-2 0h2m0 0h2m-2 0h2m-2 0h2m2 0h2m0 0h2m-2 0h2m-1 0h2m-2 0h2m-43 1h2m4 0h2m0 0h2m3 0h2m-2 0h2m-1 0h2m-1 0h2m-1 0h2m4 0h2m-2 0h2m1 0h2m-2 0h2m-2 0h2m-1 0h2m-2 0h2m-2 0h2m2 0h2m7 0h2m8 0h2m-48 1h2m-1 0h2m5 0h2m-1 0h2m-1 0h2m-1 0h2m-1 0h2m5 0h2m-2 0h2m-1 0h2m-1 0h2m0 0h2m-2 0h2m2 0h2m-1 0h2m0 0h2m-1 0h2m9 0h2m-44 1h2m3 0h2m1 0h2m0 0h2m-1 0h2m1 0h2m-1 0h2m-1 0h2m0 0h2m2 0h2m-1 0h2m-1 0h2m-2 0h2m-1 0h2m-1 0h2m0 0h2m0 0h2m0 0h2m-1 0h2m8 0h2m-46 1h2m2 0h2m3 0h2m0 0h2m-1 0h2m-2 0h2m0 0h2m0 0h2m-1 0h2m1 0h2m-1 0h2m-1 0h2m-2 0h2m1 0h2m1 0h2m1 0h2m-1 0h2m2 0h2m2 0h2m0 0h2m-2 0h2m-48 1h2m-2 0h2m1 0h2m4 0h2m0 0h2m2 0h2m-1 0h2m-1 0h2m-2 0h2m-1 0h2m-1 0h2m-1 0h2m-1 0h2m-1 0h2m-1 0h2m-2 0h2m0 0h2m3 0h2m-1 0h2m6 0h2m1 0h2m-1 0h2m-2 0h2m-1 0h2m-2 0h2m-47 1h2m-1 0h2m4 0h2m-1 0h2m-1 0h2m1 0h2m0 0h2m3 0h2m-2 0h2m3 0h2m0 0h2m0 0h2m-2 0h2m0 0h2m0 0h2m4 0h2m-1 0h2m6 0h2m-49 1h2m0 0h2m-2 0h2m0 0h2m-2 0h2m3 0h2m1 0h2m0 0h2m2 0h2m0 0h2m-2 0h2m-2 0h2m0 0h2m-1 0h2m0 0h2m4 0h2m9 0h2m4 0h2m0 0h2m-52 1h2m-1 0h2m8 0h2m-1 0h2m-1 0h2m-2 0h2m-1 0h2m-1 0h2m0 0h2m0 0h2m0 0h2m1 0h2m-2 0h2m-2 0h2m-1 0h2m0 0h2m0 0h2m1 0h2m4 0h2m7 0h2m-54 1h2m3 0h2m-2 0h2m0 0h2m-2 0h2m0 0h2m-2 0h2m5 0h2m-1 0h2m0 0h2m0 0h2m-1 0h2m-1 0h2m1 0h2m0 0h2m-1 0h2m-1 0h2m2 0h2m2 0h2m0 0h2m0 0h2m-1 0h2m5 0h2m-1 0h2m-42 1h2m0 0h2m-2 0h2m-1 0h2m-2 0h2m5 0h2m-1 0h2m-2 0h2m0 0h2m-2 0h2m1 0h2m1 0h2m1 0h2m-1 0h2m-1 0h2m-2 0h2m-1 0h2m0 0h2m2 0h2m-1 0h2m1 0h2m-1 0h2m-47 1h2m0 0h2m-1 0h2m0 0h2m-2 0h2m1 0h2m-1 0h2m-2 0h2m-1 0h2m-1 0h2m0 0h2m4 0h2m-2 0h2m2 0h2m-2 0h2m-2 0h2m-2 0h2m0 0h2m4 0h2m-2 0h2m0 0h2m-1 0h2m-1 0h2m1 0h2m0 0h2m4 0h2m-2 0h2m-49 1h2m10 0h2m4 0h2m-1 0h2m0 0h2m-1 0h2m-1 0h2m-1 0h2m2 0h2m-1 0h2m-2 0h2m5 0h2m0 0h2m-1 0h2m-41 1h2m2 0h2m-1 0h2m-2 0h2m2 0h2m2 0h2m1 0h2m0 0h2m2 0h2m-2 0h2m0 0h2m-2 0h2m-1 0h2m2 0h2m1 0h2m1 0h2m5 0h2m3 0h2m-44 1h2m-1 0h2m10 0h2m-1 0h2m0 0h2m-2 0h2m3 0h2m-2 0h2m0 0h2m1 0h2m2 0h2m4 0h2m2 0h2m0 0h2m-1 0h2m-54 1h2m1 0h2m2 0h2m-1 0h2m0 0h2m0 0h2m1 0h2m5 0h2m-1 0h2m0 0h2m-1 0h2m0 0h2m-2 0h2m-1 0h2m-1 0h2m0 0h2m0 0h2m-1 0h2m1 0h2m-2 0h2m0 0h2m0 0h2m6 0h2m-44 1h2m1 0h2m-2 0h2m2 0h2m1 0h2m-2 0h2m1 0h2m-1 0h2m-1 0h2m-2 0h2m5 0h2m1 0h2m-2 0h2m5 0h2m4 0h2m-31 1h2m1 0h2m2 0h2m-1 0h2m0 0h2m0 0h2m0 0h2m12 0h2m0 0h2m6 0h2m-47 1h2m-1 0h2m3 0h2m3 0h2m0 0h2m-2 0h2m0 0h2m-1 0h2m0 0h2m1 0h2m-1 0h2m-1 0h2m-1 0h2m8 0h2m-2 0h2m6 0h2m-44 1h2m-1 0h2m0 0h2m-1 0h2m1 0h2m4 0h2m-1 0h2m-2 0h2m-1 0h2m1 0h2m0 0h2m0 0h2m1 0h2m1 0h2m-2 0h2m3 0h2m-1 0h2m-41 1h2m-1 0h2m2 0h2m1 0h2m-1 0h2m1 0h2m5 0h2m-1 0h2m-2 0h2m0 0h2m0 0h2m-2 0h2m-1 0h2m0 0h2m-1 0h2m3 0h2m2 0h2m-1 0h2m-1 0h2m-1 0h2m-1 0h2m-46 1h2m2 0h2m-1 0h2m1 0h2m-1 0h2m1 0h2m-1 0h2m0 0h2m0 0h2m1 0h2m0 0h2m-1 0h2m2 0h2m-2 0h2m1 0h2m0 0h2m1 0h2m-1 0h2m1 0h2m-2 0h2m-33 1h2m0 0h2m0 0h2m-1 0h2m0 0h2m-1 0h2m5 0h2m10 0h2m-1 0h2m0 0h2m-42 1h2m-2 0h2m16 0h2m4 0h2m-1 0h2m2 0h2m2 0h2m4 0h2m1 0h2m-1 0h2m-35 1h2m-1 0h2m2 0h2m-1 0h2m-2 0h2m0 0h2m7 0h2m-2 0h2m0 0h2m-1 0h2m-2 0h2m-1 0h2m-1 0h2m0 0h2m-1 0h2m-2 0h2m2 0h2m-2 0h2m-38 1h2m-2 0h2m-2 0h2m3 0h2m4 0h2m1 0h2m0 0h2m-2 0h2m0 0h2m9 0h2m3 0h2m0 0h2m1 0h2m-49 1h2m9 0h2m1 0h2m-1 0h2m-1 0h2m0 0h2m-1 0h2m-2 0h2m-1 0h2m-2 0h2m-1 0h2m-1 0h2m-1 0h2m1 0h2m0 0h2m3 0h2m1 0h2m0 0h2m3 0h2m1 0h2m-2 0h2m-48 1h2m2 0h2m1 0h2m1 0h2m5 0h2m-1 0h2m-1 0h2m4 0h2m0 0h2m3 0h2m2 0h2m0 0h2m-1 0h2m-1 0h2m8 0h2m-44 1h2m12 0h2m0 0h2m2 0h2m10 0h2m0 0h2m-45 1h2m5 0h2m7 0h2m6 0h2m8 0h2m-1 0h2m0 0h2m0 0h2m1 0h2m-41 1h2m4 0h2m7 0h2m-1 0h2m0 0h2m-2 0h2m1 0h2m-1 0h2m2 0h2m-1 0h2m6 0h2m-33 1h2m-1 0h2m-1 0h2m1 0h2m12 0h2m0 0h2m1 0h2m2 0h2m-2 0h2m4 0h2m-35 1h2m2 0h2m4 0h2m3 0h2m2 0h2m2 0h2m0 0h2m2 0h2m1 0h2m-32 1h2m-1 0h2m5 0h2m0 0h2m0 0h2m-15 1h2m5 0h2m-2 0h2m0 0h2m-1 0h2m0 0h2m-2 0h2m1 0h2m0 0h2m-28 1h2m7 0h2m0 0h2m-1 0h2m1 0h2m1 0h2m5 0h2m15 0h2m-37 1h2m8 0h2m-1 0h2m-1 0h2m5 0h2m-2 0h2m0 0h2m-1 0h2m0 0h2m-2 0h2m-1 0h2m-1 0h2m-33 1h2m8 0h2m1 0h2m0 0h2m3 0h2m2 0h2m5 0h2m-1 0h2m-36 1h2m7 0h2m1 0h2m18 0h2m0 0h2m-39 1h2m6 0h2m16 0h2m0 0h2m1 0h2m-24 1h2m0 0h2m3 0h2m-1 0h2m0 0h2m0 0h2m0 0h2m0 0h2m7 0h2m0 0h2m-29 1h2m11 0h2m5 0h2m-19 1h2m-2 0h2m2 0h2m-1 0h2m2 0h2m0 0h2m-20 1h2m5 0h2m7 0h2m6 0h2m-24 1h2m2 0h2m-2 0h2m10 0h2m0 0h2m0 0h2m-24 1h2m1 0h2m3 0h2m-2 0h2m9 0h2m-1 0h2m4 0h2m-29 1h2m7 0h2m11 0h2m-17 1h2m1 0h2m0 0h2m5 0h2m-15 1h2m1 0h2m6 0h2m0 0h2m-16 2h2m-1 1h2m-2 1h2m-1 3h2" stroke="#bfbfbf" stroke-opacity="0.16" stroke-width="2.0" fill="none"/><path d="M1061 112h2m2 2h2m-8 2h2m2 0h2m3 0h2m-20 1h2m8 0h2m8 0h2m-13 1h2m0 0h2m6 0h2m4 0h2m-28 2h2m14 0h2m1 0h2m6 0h2m-25 1h2m5 0h2m2 0h2m0 0h2m3 0h2m-23 1h2m1 0h2m4 0h2m2 0h2m4 0h2m-2 0h2m-27 1h2m7 0h2m-1 0h2m10 0h2m11 0h2m-34 1h2m22 0h2m-29 1h2m4 0h2m10 0h2m-1 0h2m1 0h2m-25 1h2m12 0h2m1 0h2m1 0h2m2 0h2m-23 1h2m4 0h2m0 0h2m3 0h2m-19 1h2m1 0h2m-1 0h2m4 0h2m2 0h2m3 0h2m-1 0h2m2 0h2m0 0h2m-28 1h2m-1 0h2m2 0h2m1 0h2m1 0h2m0 0h2m-1 0h2m3 0h2m0 0h2m-24 1h2m4 0h2m-2 0h2m0 0h2m-1 0h2m1 0h2m5 0h2m0 0h2m4 0h2m-1 0h2m-37 1h2m11 0h2m3 0h2m-2 0h2m-1 0h2m-2 0h2m1 0h2m-2 0h2m1 0h2m0 0h2m2 0h2m-1 0h2m1 0h2m-2 0h2m0 0h2m-2 0h2m-40 1h2m2 0h2m-1 0h2m5 0h2m0 0h2m9 0h2m5 0h2m-1 0h2m-37 1h2m15 0h2m7 0h2m1 0h2m7 0h2m-39 1h2m3 0h2m-1 0h2m1 0h2m4 0h2m2 0h2m-2 0h2m6 0h2m-2 0h2m2 0h2m1 0h2m0 0h2m-1 0h2m-1 0h2m-34 1h2m5 0h2m0 0h2m-2 0h2m-1 0h2m-1 0h2m0 0h2m3 0h2m-2 0h2m0 0h2m0 0h2m-1 0h2m0 0h2m1 0h2m0 0h2m2 0h2m0 0h2m-43 1h2m-2 0h2m-1 0h2m0 0h2m7 0h2m3 0h2m4 0h2m6 0h2m-1 0h2m0 0h2m-2 0h2m-35 1h2m1 0h2m-2 0h2m-1 0h2m0 0h2m7 0h2m-1 0h2m1 0h2m2 0h2m-1 0h2m5 0h2m1 0h2m-29 1h2m2 0h2m-2 0h2m0 0h2m-2 0h2m-2 0h2m0 0h2m7 0h2m0 0h2m2 0h2m-2 0h2m2 0h2m0 0h2m-37 1h2m0 0h2m0 0h2m2 0h2m-1 0h2m1 0h2m-1 0h2m-2 0h2m-2 0h2m5 0h2m3 0h2m4 0h2m-2 0h2m2 0h2m-38 1h2m5 0h2m5 0h2m10 0h2m13 0h2m-46 1h2m1 0h2m7 0h2m-1 0h2m8 0h2m-1 0h2m0 0h2m7 0h2m-39 1h2m3 0h2m-1 0h2m10 0h2m0 0h2m-1 0h2m3 0h2m0 0h2m1 0h2m-2 0h2m1 0h2m1 0h2m-44 1h2m9 0h2m-1 0h2m0 0h2m1 0h2m3 0h2m1 0h2m1 0h2m-1 0h2m-2 0h2m0 0h2m2 0h2m5 0h2m3 0h2m-49 1h2m5 0h2m1 0h2m-1 0h2m-1 0h2m2 0h2m-1 0h2m0 0h2m-1 0h2m-1 0h2m0 0h2m2 0h2m-1 0h2m-2 0h2m-1 0h2m-1 0h2m1 0h2m4 0h2m-2 0h2m7 0h2m-52 1h2m6 0h2m-2 0h2m-1 0h2m5 0h2m-2 0h2m-2 0h2m14 0h2m2 0h2m4 0h2m-30 1h2m-1 0h2m-1 0h2m8 0h2m1 0h2m0 0h2m0 0h2m4 0h2m-36 1h2m3 0h2m3 0h2m4 0h2m2 0h2m-1 0h2m-1 0h2m-1 0h2m2 0h2m1 0h2m4 0h2m5 0h2m-51 1h2m6 0h2m1 0h2m7 0h2m-1 0h2m0 0h2m1 0h2m8 0h2m-1 0h2m-1 0h2m2 0h2m-1 0h2m-45 1h2m3 0h2m-1 0h2m-1 0h2m-2 0h2m1 0h2m-1 0h2m3 0h2m0 0h2m4 0h2m0 0h2m0 0h2m-1 0h2m0 0h2m-2 0h2m0 0h2m-1 0h2m0 0h2m-2 0h2m1 0h2m-27 1h2m0 0h2m1 0h2m-2 0h2m1 0h2m4 0h2m1 0h2m-1 0h2m-1 0h2m3 0h2m1 0h2m-41 1h2m0 0h2m3 0h2m1 0h2m3 0h2m-1 0h2m-1 0h2m1 0h2m-2 0h2m-1 0h2m1 0h2m-2 0h2m2 0h2m2 0h2m-1 0h2m-2 0h2m4 0h2m-1 0h2m-1 0h2m-44 1h2m0 0h2m3 0h2m0 0h2m6 0h2m-2 0h2m0 0h2m2 0h2m-1 0h2m-2 0h2m1 0h2m2 0h2m-2 0h2m-1 0h2m-1 0h2m-1 0h2m4 0h2m1 0h2m-2 0h2m-43 1h2m1 0h2m2 0h2m-1 0h2m2 0h2m-2 0h2m1 0h2m-2 0h2m1 0h2m1 0h2m3 0h2m-1 0h2m-1 0h2m-1 0h2m-2 0h2m0 0h2m-1 0h2m-1 0h2m8 0h2m-1 0h2m-52 1h2m-2 0h2m-2 0h2m1 0h2m-1 0h2m1 0h2m4 0h2m-1 0h2m-2 0h2m2 0h2m-1 0h2m-1 0h2m-1 0h2m-2 0h2m0 0h2m-1 0h2m4 0h2m-2 0h2m-1 0h2m-2 0h2m-2 0h2m-1 0h2m8 0h2m5 0h2m-53 1h2m4 0h2m9 0h2m1 0h2m-2 0h2m-1 0h2m0 0h2m9 0h2m0 0h2m3 0h2m-42 1h2m2 0h2m3 0h2m2 0h2m-2 0h2m0 0h2m1 0h2m-1 0h2m-2 0h2m-1 0h2m-2 0h2m-2 0h2m-1 0h2m0 0h2m-2 0h2m-2 0h2m3 0h2m0 0h2m-2 0h2m-1 0h2m-2 0h2m2 0h2m0 0h2m2 0h2m-48 1h2m12 0h2m0 0h2m5 0h2m-1 0h2m-1 0h2m0 0h2m4 0h2m0 0h2m0 0h2m-2 0h2m2 0h2m-2 0h2m5 0h2m-1 0h2m-49 1h2m-2 0h2m2 0h2m2 0h2m0 0h2m0 0h2m-2 0h2m5 0h2m-1 0h2m2 0h2m0 0h2m-1 0h2m-2 0h2m6 0h2m2 0h2m-1 0h2m6 0h2m-49 1h2m-1 0h2m0 0h2m1 0h2m0 0h2m5 0h2m-1 0h2m0 0h2m1 0h2m-1 0h2m-2 0h2m2 0h2m-1 0h2m0 0h2m-2 0h2m-1 0h2m2 0h2m0 0h2m1 0h2m5 0h2m-37 1h2m1 0h2m-1 0h2m0 0h2m-1 0h2m-1 0h2m-1 0h2m-2 0h2m-2 0h2m-1 0h2m0 0h2m-1 0h2m1 0h2m-1 0h2m0 0h2m5 0h2m1 0h2m0 0h2m-46 1h2m1 0h2m-1 0h2m0 0h2m4 0h2m-1 0h2m-1 0h2m-2 0h2m-2 0h2m-1 0h2m2 0h2m-1 0h2m3 0h2m-1 0h2m0 0h2m6 0h2m0 0h2m-2 0h2m-1 0h2m5 0h2m-48 1h2m11 0h2m-1 0h2m-1 0h2m-1 0h2m-1 0h2m-2 0h2m-1 0h2m0 0h2m-1 0h2m-1 0h2m-2 0h2m-1 0h2m-1 0h2m-2 0h2m-2 0h2m0 0h2m-2 0h2m1 0h2m5 0h2m2 0h2m0 0h2m-2 0h2m1 0h2m1 0h2m-49 1h2m-1 0h2m1 0h2m6 0h2m1 0h2m0 0h2m-2 0h2m0 0h2m-1 0h2m-2 0h2m0 0h2m-2 0h2m-2 0h2m-1 0h2m-1 0h2m-1 0h2m-1 0h2m-2 0h2m-1 0h2m-1 0h2m0 0h2m1 0h2m-1 0h2m-1 0h2m3 0h2m-2 0h2m4 0h2m-50 1h2m0 0h2m4 0h2m1 0h2m-1 0h2m0 0h2m-1 0h2m0 0h2m0 0h2m0 0h2m1 0h2m-1 0h2m-2 0h2m-2 0h2m-1 0h2m-1 0h2m1 0h2m-2 0h2m5 0h2m4 0h2m-1 0h2m2 0h2m-43 1h2m3 0h2m0 0h2m-1 0h2m-1 0h2m-2 0h2m0 0h2m-2 0h2m0 0h2m-1 0h2m-2 0h2m-2 0h2m2 0h2m0 0h2m0 0h2m2 0h2m-1 0h2m2 0h2m-1 0h2m1 0h2m-1 0h2m-46 1h2m4 0h2m3 0h2m-2 0h2m-1 0h2m2 0h2m-1 0h2m1 0h2m-2 0h2m-1 0h2m-2 0h2m-2 0h2m-2 0h2m-1 0h2m-1 0h2m-1 0h2m-2 0h2m-2 0h2m-2 0h2m-1 0h2m-2 0h2m-1 0h2m1 0h2m0 0h2m0 0h2m6 0h2m8 0h2m-58 1h2m10 0h2m-1 0h2m4 0h2m-2 0h2m-1 0h2m-1 0h2m-2 0h2m-1 0h2m-2 0h2m-1 0h2m-1 0h2m-1 0h2m-2 0h2m-1 0h2m1 0h2m-2 0h2m1 0h2m-2 0h2m-1 0h2m-2 0h2m-2 0h2m-2 0h2m-1 0h2m-1 0h2m-2 0h2m2 0h2m0 0h2m0 0h2m4 0h2m2 0h2m1 0h2m-53 1h2m1 0h2m1 0h2m-2 0h2m-2 0h2m8 0h2m2 0h2m0 0h2m0 0h2m-2 0h2m1 0h2m-1 0h2m-2 0h2m4 0h2m1 0h2m1 0h2m-2 0h2m-1 0h2m1 0h2m-1 0h2m-47 1h2m3 0h2m1 0h2m0 0h2m-1 0h2m-1 0h2m-1 0h2m-2 0h2m-1 0h2m-1 0h2m-2 0h2m0 0h2m-1 0h2m-2 0h2m2 0h2m-2 0h2m-2 0h2m-1 0h2m-2 0h2m0 0h2m-2 0h2m-1 0h2m-2 0h2m-1 0h2m-1 0h2m-2 0h2m6 0h2m-2 0h2m-1 0h2m-1 0h2m-2 0h2m-2 0h2m0 0h2m1 0h2m0 0h2m-51 1h2m3 0h2m3 0h2m-1 0h2m0 0h2m-1 0h2m0 0h2m1 0h2m-1 0h2m0 0h2m1 0h2m-2 0h2m-2 0h2m-1 0h2m-1 0h2m-2 0h2m1 0h2m-1 0h2m2 0h2m-2 0h2m-1 0h2m-2 0h2m2 0h2m-1 0h2m0 0h2m-41 1h2m-1 0h2m1 0h2m0 0h2m2 0h2m0 0h2m0 0h2m-1 0h2m-2 0h2m0 0h2m-2 0h2m1 0h2m-2 0h2m0 0h2m1 0h2m-1 0h2m0 0h2m-2 0h2m-1 0h2m3 0h2m-2 0h2m2 0h2m-1 0h2m-1 0h2m2 0h2m-52 1h2m8 0h2m-1 0h2m-2 0h2m1 0h2m0 0h2m-2 0h2m2 0h2m2 0h2m2 0h2m-1 0h2m0 0h2m-2 0h2m3 0h2m-1 0h2m-1 0h2m3 0h2m0 0h2m-1 0h2m-2 0h2m-48 1h2m-1 0h2m2 0h2m-1 0h2m-2 0h2m-1 0h2m1 0h2m1 0h2m0 0h2m0 0h2m-1 0h2m-1 0h2m1 0h2m-2 0h2m-1 0h2m-1 0h2m-1 0h2m-2 0h2m-1 0h2m-2 0h2m7 0h2m0 0h2m0 0h2m1 0h2m3 0h2m1 0h2m-54 1h2m9 0h2m6 0h2m1 0h2m-1 0h2m-1 0h2m-1 0h2m-1 0h2m0 0h2m0 0h2m-2 0h2m-1 0h2m-2 0h2m-1 0h2m-1 0h2m0 0h2m-2 0h2m-2 0h2m-2 0h2m7 0h2m-1 0h2m-50 1h2m-1 0h2m10 0h2m4 0h2m-1 0h2m-2 0h2m-2 0h2m0 0h2m1 0h2m0 0h2m0 0h2m0 0h2m-1 0h2m-1 0h2m3 0h2m3 0h2m0 0h2m4 0h2m1 0h2m-53 1h2m0 0h2m2 0h2m-1 0h2m-1 0h2m4 0h2m0 0h2m1 0h2m-2 0h2m-1 0h2m-1 0h2m0 0h2m1 0h2m1 0h2m0 0h2m0 0h2m3 0h2m0 0h2m0 0h2m-2 0h2m1 0h2m0 0h2m-2 0h2m-47 1h2m-1 0h2m8 0h2m1 0h2m-2 0h2m2 0h2m0 0h2m-1 0h2m-2 0h2m0 0h2m-1 0h2m0 0h2m-2 0h2m0 0h2m0 0h2m-2 0h2m-1 0h2m-1 0h2m1 0h2m2 0h2m-1 0h2m2 0h2m-49 1h2m2 0h2m2 0h2m-1 0h2m5 0h2m-1 0h2m2 0h2m-2 0h2m-2 0h2m-1 0h2m3 0h2m0 0h2m-1 0h2m-2 0h2m-1 0h2m-1 0h2m-1 0h2m2 0h2m0 0h2m-1 0h2m2 0h2m0 0h2m2 0h2m-52 1h2m2 0h2m3 0h2m0 0h2m1 0h2m-2 0h2m0 0h2m-1 0h2m1 0h2m-2 0h2m-1 0h2m-2 0h2m-2 0h2m-1 0h2m0 0h2m-2 0h2m-1 0h2m2 0h2m7 0h2m4 0h2m-1 0h2m0 0h2m-48 1h2m-1 0h2m2 0h2m-1 0h2m-1 0h2m0 0h2m-2 0h2m6 0h2m-1 0h2m-2 0h2m1 0h2m-1 0h2m-1 0h2m0 0h2m-1 0h2m1 0h2m0 0h2m-2 0h2m2 0h2m0 0h2m1 0h2m1 0h2m-36 1h2m-1 0h2m0 0h2m-2 0h2m1 0h2m2 0h2m-2 0h2m0 0h2m0 0h2m-1 0h2m-2 0h2m-1 0h2m-1 0h2m2 0h2m1 0h2m5 0h2m-1 0h2m-49 1h2m1 0h2m-2 0h2m-1 0h2m7 0h2m-2 0h2m-2 0h2m-1 0h2m0 0h2m-2 0h2m-1 0h2m-1 0h2m0 0h2m0 0h2m-1 0h2m-2 0h2m-1 0h2m-1 0h2m2 0h2m-2 0h2m-1 0h2m-1 0h2m-2 0h2m2 0h2m0 0h2m4 0h2m-1 0h2m-1 0h2m-41 1h2m5 0h2m2 0h2m-2 0h2m-1 0h2m-1 0h2m1 0h2m-1 0h2m-1 0h2m-2 0h2m4 0h2m-1 0h2m-30 1h2m2 0h2m-2 0h2m10 0h2m3 0h2m0 0h2m-2 0h2m-2 0h2m-1 0h2m1 0h2m2 0h2m-1 0h2m4 0h2m0 0h2m-1 0h2m0 0h2m-2 0h2m-52 1h2m5 0h2m3 0h2m1 0h2m1 0h2m2 0h2m0 0h2m0 0h2m-2 0h2m2 0h2m-1 0h2m1 0h2m-1 0h2m2 0h2m0 0h2m8 0h2m-49 1h2m19 0h2m0 0h2m0 0h2m5 0h2m0 0h2m-1 0h2m0 0h2m4 0h2m-46 1h2m1 0h2m0 0h2m9 0h2m-2 0h2m-1 0h2m2 0h2m1 0h2m2 0h2m3 0h2m0 0h2m0 0h2m4 0h2m0 0h2m-43 1h2m0 0h2m0 0h2m4 0h2m0 0h2m0 0h2m-2 0h2m-1 0h2m-1 0h2m1 0h2m-2 0h2m0 0h2m0 0h2m-1 0h2m-1 0h2m-2 0h2m-2 0h2m-1 0h2m5 0h2m4 0h2m-39 1h2m4 0h2m1 0h2m7 0h2m1 0h2m2 0h2m1 0h2m0 0h2m0 0h2m-2 0h2m0 0h2m-39 1h2m-1 0h2m-1 0h2m9 0h2m-2 0h2m-1 0h2m2 0h2m6 0h2m-1 0h2m0 0h2m3 0h2m-1 0h2m7 0h2m-43 1h2m0 0h2m5 0h2m1 0h2m0 0h2m0 0h2m2 0h2m2 0h2m0 0h2m1 0h2m4 0h2m3 0h2m-46 1h2m0 0h2m-2 0h2m1 0h2m1 0h2m0 0h2m2 0h2m-1 0h2m1 0h2m2 0h2m-1 0h2m0 0h2m-1 0h2m6 0h2m-1 0h2m-38 1h2m0 0h2m5 0h2m2 0h2m4 0h2m8 0h2m2 0h2m4 0h2m-1 0h2m-46 1h2m-1 0h2m-1 0h2m4 0h2m-2 0h2m-1 0h2m0 0h2m6 0h2m10 0h2m3 0h2m-32 1h2m-1 0h2m6 0h2m-1 0h2m0 0h2m2 0h2m1 0h2m2 0h2m-29 1h2m-2 0h2m4 0h2m0 0h2m6 0h2m2 0h2m3 0h2m3 0h2m0 0h2m2 0h2m-39 1h2m0 0h2m-1 0h2m0 0h2m-2 0h2m1 0h2m-1 0h2m-2 0h2m-1 0h2m-1 0h2m-2 0h2m-2 0h2m2 0h2m0 0h2m0 0h2m-2 0h2m7 0h2m-2 0h2m-1 0h2m0 0h2m-1 0h2m1 0h2m-34 1h2m3 0h2m2 0h2m0 0h2m4 0h2m-2 0h2m4 0h2m-2 0h2m-1 0h2m0 0h2m3 0h2m-2 0h2m-36 1h2m2 0h2m0 0h2m0 0h2m0 0h2m-2 0h2m-1 0h2m-1 0h2m4 0h2m-1 0h2m-2 0h2m1 0h2m-1 0h2m1 0h2m-1 0h2m-1 0h2m7 0h2m-34 1h2m7 0h2m-1 0h2m-2 0h2m-2 0h2m1 0h2m-1 0h2m-1 0h2m0 0h2m6 0h2m0 0h2m1 0h2m-33 1h2m2 0h2m2 0h2m7 0h2m9 0h2m-33 1h2m1 0h2m-1 0h2m0 0h2m0 0h2m-1 0h2m-2 0h2m1 0h2m9 0h2m3 0h2m0 0h2m0 0h2m-33 1h2m3 0h2m1 0h2m-1 0h2m-1 0h2m2 0h2m3 0h2m0 0h2m1 0h2m-1 0h2m-1 0h2m-35 1h2m2 0h2m4 0h2m1 0h2m1 0h2m10 0h2m6 0h2m-1 0h2m-44 1h2m2 0h2m4 0h2m8 0h2m2 0h2m0 0h2m2 0h2m0 0h2m-2 0h2m-1 0h2m0 0h2m-26 1h2m9 0h2m2 0h2m0 0h2m-1 0h2m4 0h2m6 0h2m-39 1h2m1 0h2m-1 0h2m3 0h2m4 0h2m-2 0h2m-2 0h2m0 0h2m-20 1h2m7 0h2m-1 0h2m0 0h2m-2 0h2m-2 0h2m5 0h2m-2 0h2m1 0h2m0 0h2m6 0h2m-32 1h2m4 0h2m0 0h2m2 0h2m-2 0h2m5 0h2m-2 0h2m2 0h2m-1 0h2m1 0h2m-24 1h2m2 0h2m2 0h2m6 0h2m-2 0h2m2 0h2m1 0h2m0 0h2m-29 1h2m5 0h2m2 0h2m1 0h2m0 0h2m2 0h2m2 0h2m-1 0h2m-28 1h2m2 0h2m1 0h2m-1 0h2m-1 0h2m0 0h2m0 0h2m4 0h2m-2 0h2m-1 0h2m-1 0h2m-24 1h2m0 0h2m16 0h2m-8 1h2m12 0h2m-21 1h2m-1 0h2m6 0h2m-1 0h2m-2 0h2m-6 1h2m4 0h2m-2 0h2m-20 1h2m0 0h2m-2 0h2m1 0h2m-2 0h2m-1 0h2m0 0h2m0 1h2m-1 2h2m-3 1h2m-7 2h2m-3 1h2" stroke="#bfbfbf" stroke-opacity="0.16" stroke-width="2.0" fill="none"/><path d="M1065 113h2m-3 3h2m5 0h2m1 1h2m-18 1h2m3 0h2m1 0h2m1 0h2m-12 1h2m0 1h2m0 0h2m-19 1h2m7 0h2m8 0h2m0 0h2m4 0h2m-25 1h2m3 0h2m4 0h2m-1 0h2m6 0h2m4 0h2m-27 1h2m1 0h2m13 0h2m-28 1h2m7 0h2m2 0h2m0 0h2m1 0h2m0 0h2m-2 0h2m1 0h2m-1 0h2m-2 0h2m8 0h2m-25 1h2m1 0h2m-1 0h2m0 0h2m1 0h2m-1 0h2m-1 0h2m1 0h2m-1 0h2m-25 1h2m1 0h2m4 0h2m-2 0h2m0 0h2m2 0h2m0 0h2m4 0h2m4 0h2m-41 1h2m0 0h2m8 0h2m1 0h2m5 0h2m0 0h2m1 0h2m-24 1h2m2 0h2m5 0h2m1 0h2m0 0h2m2 0h2m3 0h2m0 0h2m1 0h2m-1 0h2m-35 1h2m5 0h2m3 0h2m4 0h2m11 0h2m-1 0h2m-1 0h2m-37 1h2m6 0h2m0 0h2m6 0h2m5 0h2m3 0h2m-34 1h2m3 0h2m8 0h2m-2 0h2m0 0h2m2 0h2m1 0h2m12 0h2m-35 1h2m6 0h2m0 0h2m3 0h2m-2 0h2m4 0h2m-1 0h2m0 0h2m-1 0h2m2 0h2m-2 0h2m-1 0h2m-1 0h2m-36 1h2m0 0h2m7 0h2m-1 0h2m2 0h2m-1 0h2m-2 0h2m-1 0h2m0 0h2m6 0h2m-27 1h2m1 0h2m3 0h2m-1 0h2m-1 0h2m1 0h2m2 0h2m-2 0h2m0 0h2m-2 0h2m-1 0h2m5 0h2m6 0h2m-44 1h2m0 0h2m5 0h2m3 0h2m-2 0h2m5 0h2m0 0h2m8 0h2m7 0h2m-45 1h2m6 0h2m3 0h2m1 0h2m3 0h2m5 0h2m-29 1h2m12 0h2m5 0h2m2 0h2m-1 0h2m-27 1h2m3 0h2m2 0h2m-1 0h2m0 0h2m-2 0h2m0 0h2m6 0h2m0 0h2m-1 0h2m-2 0h2m0 0h2m-1 0h2m3 0h2m-36 1h2m-1 0h2m3 0h2m1 0h2m2 0h2m2 0h2m-2 0h2m2 0h2m3 0h2m7 0h2m0 0h2m0 0h2m-39 1h2m-1 0h2m-2 0h2m0 0h2m12 0h2m0 0h2m-1 0h2m1 0h2m2 0h2m-1 0h2m-1 0h2m0 0h2m1 0h2m-43 1h2m4 0h2m0 0h2m0 0h2m-1 0h2m1 0h2m-1 0h2m-1 0h2m-1 0h2m-1 0h2m3 0h2m8 0h2m0 0h2m-1 0h2m1 0h2m3 0h2m-43 1h2m-1 0h2m1 0h2m-2 0h2m6 0h2m-1 0h2m-1 0h2m-1 0h2m-1 0h2m-1 0h2m10 0h2m4 0h2m-38 1h2m4 0h2m-2 0h2m-1 0h2m-1 0h2m2 0h2m3 0h2m4 0h2m-1 0h2m-2 0h2m2 0h2m-1 0h2m8 0h2m-45 1h2m4 0h2m9 0h2m4 0h2m7 0h2m0 0h2m-1 0h2m2 0h2m-42 1h2m0 0h2m-1 0h2m0 0h2m5 0h2m-2 0h2m6 0h2m3 0h2m-1 0h2m2 0h2m4 0h2m-1 0h2m1 0h2m-43 1h2m3 0h2m-1 0h2m2 0h2m-2 0h2m-2 0h2m-1 0h2m-1 0h2m4 0h2m-1 0h2m2 0h2m2 0h2m0 0h2m1 0h2m-2 0h2m1 0h2m-2 0h2m2 0h2m-1 0h2m-2 0h2m0 0h2m1 0h2m4 0h2m-52 1h2m-1 0h2m12 0h2m6 0h2m-2 0h2m0 0h2m3 0h2m0 0h2m2 0h2m0 0h2m-1 0h2m-48 1h2m4 0h2m1 0h2m0 0h2m2 0h2m-2 0h2m-2 0h2m-1 0h2m-2 0h2m2 0h2m1 0h2m-2 0h2m3 0h2m1 0h2m-2 0h2m0 0h2m-1 0h2m1 0h2m-1 0h2m2 0h2m-1 0h2m5 0h2m0 0h2m-54 1h2m0 0h2m2 0h2m-1 0h2m2 0h2m0 0h2m-1 0h2m4 0h2m-2 0h2m6 0h2m-2 0h2m-2 0h2m0 0h2m1 0h2m-1 0h2m0 0h2m0 0h2m0 0h2m-1 0h2m1 0h2m4 0h2m-48 1h2m2 0h2m0 0h2m4 0h2m-1 0h2m-2 0h2m0 0h2m0 0h2m-2 0h2m2 0h2m-2 0h2m-2 0h2m-1 0h2m0 0h2m2 0h2m-2 0h2m-2 0h2m-1 0h2m2 0h2m7 0h2m0 0h2m0 0h2m-50 1h2m0 0h2m1 0h2m-1 0h2m-1 0h2m0 0h2m-2 0h2m-2 0h2m1 0h2m2 0h2m2 0h2m0 0h2m-2 0h2m1 0h2m3 0h2m3 0h2m9 0h2m-48 1h2m-1 0h2m3 0h2m0 0h2m2 0h2m3 0h2m1 0h2m-1 0h2m1 0h2m-1 0h2m0 0h2m1 0h2m-1 0h2m3 0h2m0 0h2m0 0h2m-2 0h2m-2 0h2m4 0h2m-1 0h2m-47 1h2m0 0h2m2 0h2m2 0h2m-1 0h2m-1 0h2m0 0h2m-1 0h2m0 0h2m2 0h2m-1 0h2m-1 0h2m-1 0h2m5 0h2m2 0h2m-1 0h2m4 0h2m0 0h2m-48 1h2m4 0h2m4 0h2m-1 0h2m2 0h2m-2 0h2m-1 0h2m-1 0h2m-2 0h2m0 0h2m1 0h2m0 0h2m-2 0h2m1 0h2m-1 0h2m-2 0h2m3 0h2m0 0h2m2 0h2m-46 1h2m2 0h2m2 0h2m2 0h2m1 0h2m-2 0h2m0 0h2m-2 0h2m1 0h2m7 0h2m3 0h2m-2 0h2m-1 0h2m1 0h2m8 0h2m-49 1h2m0 0h2m4 0h2m-2 0h2m3 0h2m1 0h2m-2 0h2m-2 0h2m-1 0h2m-1 0h2m-2 0h2m5 0h2m-1 0h2m-1 0h2m0 0h2m0 0h2m2 0h2m0 0h2m0 0h2m-1 0h2m1 0h2m-47 1h2m0 0h2m-1 0h2m1 0h2m0 0h2m-2 0h2m-2 0h2m-1 0h2m3 0h2m-1 0h2m0 0h2m-1 0h2m-1 0h2m-1 0h2m0 0h2m0 0h2m-1 0h2m-1 0h2m-2 0h2m-1 0h2m1 0h2m-2 0h2m-2 0h2m-1 0h2m8 0h2m0 0h2m-50 1h2m3 0h2m2 0h2m2 0h2m0 0h2m0 0h2m-1 0h2m6 0h2m1 0h2m-2 0h2m-2 0h2m0 0h2m-2 0h2m-1 0h2m-2 0h2m-1 0h2m7 0h2m-40 1h2m10 0h2m3 0h2m4 0h2m-1 0h2m-1 0h2m-1 0h2m-2 0h2m-2 0h2m-1 0h2m-1 0h2m4 0h2m0 0h2m4 0h2m-2 0h2m-44 1h2m0 0h2m-1 0h2m-1 0h2m10 0h2m2 0h2m2 0h2m-2 0h2m-1 0h2m1 0h2m1 0h2m-2 0h2m0 0h2m-2 0h2m-2 0h2m-1 0h2m0 0h2m2 0h2m-1 0h2m-2 0h2m0 0h2m1 0h2m-54 1h2m8 0h2m-1 0h2m-2 0h2m-1 0h2m-2 0h2m-2 0h2m0 0h2m-1 0h2m1 0h2m-1 0h2m-1 0h2m0 0h2m3 0h2m-1 0h2m1 0h2m0 0h2m1 0h2m3 0h2m3 0h2m-2 0h2m-43 1h2m5 0h2m-2 0h2m0 0h2m-1 0h2m1 0h2m-2 0h2m-1 0h2m-1 0h2m-2 0h2m-2 0h2m1 0h2m-1 0h2m1 0h2m-1 0h2m-2 0h2m0 0h2m-2 0h2m-2 0h2m-1 0h2m-2 0h2m-1 0h2m5 0h2m-1 0h2m-2 0h2m5 0h2m-1 0h2m1 0h2m-51 1h2m2 0h2m-1 0h2m3 0h2m5 0h2m-1 0h2m-2 0h2m4 0h2m-1 0h2m1 0h2m-2 0h2m-1 0h2m0 0h2m-1 0h2m-1 0h2m0 0h2m5 0h2m0 0h2m-2 0h2m-1 0h2m-44 1h2m4 0h2m-1 0h2m-1 0h2m-2 0h2m2 0h2m-1 0h2m-2 0h2m-2 0h2m-1 0h2m-2 0h2m1 0h2m1 0h2m-1 0h2m-1 0h2m-1 0h2m-2 0h2m0 0h2m0 0h2m0 0h2m4 0h2m0 0h2m2 0h2m3 0h2m-56 1h2m7 0h2m1 0h2m6 0h2m0 0h2m3 0h2m-1 0h2m1 0h2m4 0h2m-2 0h2m-1 0h2m-1 0h2m-2 0h2m1 0h2m1 0h2m0 0h2m-1 0h2m-47 1h2m6 0h2m2 0h2m-2 0h2m-2 0h2m2 0h2m-1 0h2m0 0h2m-1 0h2m0 0h2m-1 0h2m0 0h2m-2 0h2m0 0h2m-1 0h2m4 0h2m0 0h2m0 0h2m0 0h2m7 0h2m-48 1h2m-2 0h2m0 0h2m5 0h2m-1 0h2m-2 0h2m-1 0h2m1 0h2m-1 0h2m-1 0h2m-1 0h2m0 0h2m-2 0h2m-1 0h2m-1 0h2m-1 0h2m-2 0h2m3 0h2m-2 0h2m-1 0h2m0 0h2m0 0h2m0 0h2m4 0h2m-2 0h2m1 0h2m0 0h2m0 0h2m-49 1h2m1 0h2m0 0h2m-2 0h2m3 0h2m0 0h2m1 0h2m0 0h2m-2 0h2m1 0h2m-1 0h2m-2 0h2m0 0h2m-1 0h2m-2 0h2m-2 0h2m-1 0h2m1 0h2m2 0h2m5 0h2m0 0h2m-48 1h2m-1 0h2m-1 0h2m5 0h2m1 0h2m3 0h2m1 0h2m0 0h2m-2 0h2m-1 0h2m-2 0h2m0 0h2m1 0h2m-1 0h2m-2 0h2m1 0h2m4 0h2m-1 0h2m-39 1h2m1 0h2m-2 0h2m2 0h2m-2 0h2m-1 0h2m2 0h2m4 0h2m-1 0h2m-2 0h2m-1 0h2m-1 0h2m-1 0h2m-1 0h2m7 0h2m-2 0h2m0 0h2m3 0h2m-40 1h2m3 0h2m1 0h2m0 0h2m0 0h2m2 0h2m0 0h2m-1 0h2m-2 0h2m-1 0h2m-2 0h2m-2 0h2m-2 0h2m0 0h2m-2 0h2m-2 0h2m0 0h2m-2 0h2m-2 0h2m2 0h2m4 0h2m0 0h2m1 0h2m-2 0h2m6 0h2m-1 0h2m-54 1h2m1 0h2m0 0h2m-1 0h2m0 0h2m1 0h2m4 0h2m-1 0h2m0 0h2m0 0h2m1 0h2m-2 0h2m-2 0h2m1 0h2m0 0h2m-1 0h2m-1 0h2m-2 0h2m4 0h2m3 0h2m2 0h2m-47 1h2m0 0h2m8 0h2m1 0h2m-2 0h2m0 0h2m-2 0h2m5 0h2m2 0h2m-1 0h2m0 0h2m2 0h2m-2 0h2m0 0h2m-2 0h2m3 0h2m4 0h2m-55 1h2m5 0h2m1 0h2m1 0h2m0 0h2m-1 0h2m0 0h2m-1 0h2m-2 0h2m0 0h2m2 0h2m-2 0h2m-2 0h2m-2 0h2m-1 0h2m1 0h2m-2 0h2m-1 0h2m-1 0h2m1 0h2m-1 0h2m0 0h2m4 0h2m3 0h2m5 0h2m-58 1h2m0 0h2m0 0h2m9 0h2m0 0h2m3 0h2m-1 0h2m-1 0h2m0 0h2m-2 0h2m0 0h2m-1 0h2m-1 0h2m-2 0h2m-1 0h2m-1 0h2m-1 0h2m-1 0h2m-1 0h2m3 0h2m-2 0h2m0 0h2m-2 0h2m6 0h2m4 0h2m-60 1h2m6 0h2m-2 0h2m-1 0h2m3 0h2m-1 0h2m-1 0h2m-1 0h2m-2 0h2m2 0h2m0 0h2m-1 0h2m-1 0h2m-1 0h2m-2 0h2m-2 0h2m0 0h2m-2 0h2m-1 0h2m0 0h2m-2 0h2m-1 0h2m4 0h2m-1 0h2m4 0h2m0 0h2m3 0h2m-47 1h2m5 0h2m-1 0h2m4 0h2m0 0h2m-1 0h2m-2 0h2m3 0h2m-2 0h2m-1 0h2m-2 0h2m0 0h2m-1 0h2m-2 0h2m0 0h2m1 0h2m-2 0h2m2 0h2m-1 0h2m-2 0h2m-1 0h2m2 0h2m-53 1h2m9 0h2m-1 0h2m0 0h2m1 0h2m-2 0h2m0 0h2m1 0h2m-1 0h2m0 0h2m3 0h2m2 0h2m-1 0h2m-1 0h2m-1 0h2m-2 0h2m-2 0h2m-1 0h2m-1 0h2m-1 0h2m2 0h2m-2 0h2m4 0h2m-45 1h2m-1 0h2m1 0h2m-1 0h2m0 0h2m1 0h2m2 0h2m4 0h2m-1 0h2m-1 0h2m-1 0h2m-1 0h2m-1 0h2m-2 0h2m-1 0h2m0 0h2m-2 0h2m5 0h2m1 0h2m-1 0h2m3 0h2m-47 1h2m0 0h2m1 0h2m-2 0h2m0 0h2m-2 0h2m2 0h2m-1 0h2m5 0h2m-1 0h2m-2 0h2m0 0h2m0 0h2m0 0h2m-1 0h2m-1 0h2m-2 0h2m-1 0h2m-2 0h2m3 0h2m-1 0h2m4 0h2m-38 1h2m-1 0h2m-2 0h2m-1 0h2m-2 0h2m-1 0h2m0 0h2m0 0h2m1 0h2m0 0h2m0 0h2m-2 0h2m1 0h2m-2 0h2m1 0h2m-1 0h2m4 0h2m9 0h2m2 0h2m-52 1h2m-1 0h2m-2 0h2m3 0h2m4 0h2m0 0h2m5 0h2m0 0h2m-2 0h2m0 0h2m2 0h2m-1 0h2m-32 1h2m-1 0h2m14 0h2m2 0h2m-1 0h2m0 0h2m0 0h2m-1 0h2m-1 0h2m-1 0h2m8 0h2m2 0h2m-1 0h2m-47 1h2m1 0h2m0 0h2m3 0h2m0 0h2m3 0h2m-1 0h2m1 0h2m-2 0h2m-1 0h2m-1 0h2m-2 0h2m-1 0h2m0 0h2m4 0h2m-2 0h2m0 0h2m-2 0h2m0 0h2m-1 0h2m4 0h2m-43 1h2m0 0h2m9 0h2m-2 0h2m-1 0h2m-1 0h2m0 0h2m5 0h2m1 0h2m2 0h2m-2 0h2m1 0h2m10 0h2m-56 1h2m0 0h2m4 0h2m1 0h2m1 0h2m-2 0h2m3 0h2m-2 0h2m0 0h2m-1 0h2m-1 0h2m1 0h2m0 0h2m0 0h2m-2 0h2m-2 0h2m5 0h2m7 0h2m-40 1h2m0 0h2m-2 0h2m13 0h2m4 0h2m-1 0h2m1 0h2m-1 0h2m3 0h2m-2 0h2m-1 0h2m2 0h2m-2 0h2m0 0h2m-45 1h2m2 0h2m-1 0h2m2 0h2m0 0h2m6 0h2m-2 0h2m0 0h2m3 0h2m0 0h2m-2 0h2m-1 0h2m5 0h2m0 0h2m1 0h2m-1 0h2m-43 1h2m2 0h2m14 0h2m-1 0h2m-2 0h2m-1 0h2m0 0h2m1 0h2m-1 0h2m1 0h2m7 0h2m2 0h2m-41 1h2m-1 0h2m-2 0h2m-1 0h2m3 0h2m8 0h2m2 0h2m-2 0h2m0 0h2m-1 0h2m0 0h2m4 0h2m-33 1h2m3 0h2m12 0h2m2 0h2m-2 0h2m-1 0h2m1 0h2m-1 0h2m-1 0h2m0 0h2m-39 1h2m3 0h2m-1 0h2m2 0h2m0 0h2m0 0h2m9 0h2m2 0h2m0 0h2m-1 0h2m3 0h2m3 0h2m-46 1h2m0 0h2m-1 0h2m0 0h2m0 0h2m-2 0h2m2 0h2m-2 0h2m4 0h2m-1 0h2m6 0h2m-1 0h2m-1 0h2m3 0h2m0 0h2m-1 0h2m-1 0h2m-40 1h2m5 0h2m1 0h2m0 0h2m6 0h2m1 0h2m-1 0h2m2 0h2m6 0h2m0 0h2m3 0h2m-41 1h2m2 0h2m-1 0h2m8 0h2m2 0h2m0 0h2m-2 0h2m3 0h2m3 0h2m-1 0h2m5 0h2m-46 1h2m-2 0h2m8 0h2m3 0h2m5 0h2m-2 0h2m3 0h2m-1 0h2m-2 0h2m5 0h2m-1 0h2m-40 1h2m-1 0h2m4 0h2m-1 0h2m-1 0h2m1 0h2m0 0h2m13 0h2m5 0h2m-38 1h2m1 0h2m9 0h2m0 0h2m0 0h2m6 0h2m0 0h2m2 0h2m4 0h2m0 0h2m-40 1h2m0 0h2m-1 0h2m-2 0h2m-2 0h2m0 0h2m13 0h2m5 0h2m-1 0h2m-1 0h2m3 0h2m2 0h2m-39 1h2m-1 0h2m5 0h2m0 0h2m8 0h2m0 0h2m0 0h2m2 0h2m-33 1h2m4 0h2m0 0h2m-1 0h2m-1 0h2m-1 0h2m4 0h2m5 0h2m0 0h2m3 0h2m-2 0h2m0 0h2m-1 0h2m-1 0h2m-2 0h2m0 0h2m-1 0h2m-43 1h2m2 0h2m-2 0h2m1 0h2m-2 0h2m0 0h2m1 0h2m3 0h2m1 0h2m0 0h2m0 0h2m1 0h2m2 0h2m-1 0h2m7 0h2m-36 1h2m0 0h2m-1 0h2m1 0h2m1 0h2m-1 0h2m1 0h2m21 0h2m-43 1h2m-1 0h2m1 0h2m-1 0h2m-1 0h2m1 0h2m11 0h2m1 0h2m-18 1h2m0 0h2m-2 0h2m1 0h2m3 0h2m1 0h2m-2 0h2m11 0h2m-39 1h2m-1 0h2m2 0h2m3 0h2m-1 0h2m-1 0h2m-1 0h2m1 0h2m5 0h2m-2 0h2m-1 0h2m0 0h2m-28 1h2m2 0h2m7 0h2m1 0h2m0 0h2m-1 0h2m3 0h2m-1 0h2m2 0h2m6 0h2m-37 1h2m0 0h2m-1 0h2m1 0h2m-1 0h2m10 0h2m0 0h2m4 0h2m0 0h2m-32 1h2m-1 0h2m1 0h2m-2 0h2m6 0h2m1 0h2m0 0h2m-2 0h2m-1 0h2m2 0h2m0 0h2m0 0h2m-29 1h2m1 0h2m4 0h2m1 0h2m0 0h2m-2 0h2m-1 0h2m-2 0h2m2 0h2m1 0h2m0 0h2m2 0h2m-22 1h2m-2 0h2m13 0h2m6 0h2m-1 0h2m0 0h2m-30 1h2m6 0h2m0 0h2m-1 0h2m6 0h2m-1 0h2m5 0h2m-29 1h2m6 0h2m-1 0h2m-18 1h2m0 0h2m3 0h2m-1 0h2m15 0h2m-23 1h2m0 0h2m6 0h2m-1 0h2m-8 1h2m1 0h2m-1 0h2m9 0h2m-17 1h2m4 0h2m0 0h2m2 0h2m4 0h2m-23 1h2m-2 0h2m-7 1h2m0 0h2m2 0h2m-1 0h2m2 0h2m-5 1h2m1 1h2m-4 1h2m5 0h2" stroke="#bfbfbf" stroke-opacity="0.16" stroke-width="2.0" fill="none"/><path d="M1054 115h2m-1 1h2m0 0h2m9 0h2m1 0h2m-26 1h2m8 0h2m3 0h2m6 1h2m0 0h2m-1 1h2m-13 1h2m3 0h2m5 0h2m-22 1h2m-1 0h2m-1 0h2m-1 0h2m2 0h2m-1 0h2m-11 1h2m-2 0h2m-2 0h2m0 0h2m-1 0h2m0 0h2m7 0h2m-2 0h2m0 0h2m-5 1h2m-1 0h2m3 0h2m-33 1h2m9 0h2m0 0h2m8 0h2m-24 1h2m0 0h2m5 0h2m-1 0h2m9 0h2m-1 0h2m1 0h2m-21 1h2m0 0h2m3 0h2m2 0h2m6 0h2m-28 1h2m1 0h2m1 0h2m3 0h2m10 0h2m-2 0h2m2 0h2m-2 0h2m2 0h2m-24 1h2m-1 0h2m-2 0h2m-1 0h2m-1 0h2m-1 0h2m0 0h2m-2 0h2m-1 0h2m-2 0h2m0 0h2m0 0h2m-1 0h2m1 0h2m5 0h2m-26 1h2m3 0h2m6 0h2m-1 0h2m-2 0h2m-2 0h2m4 0h2m-29 1h2m0 0h2m1 0h2m2 0h2m-2 0h2m0 0h2m4 0h2m12 0h2m-30 1h2m4 0h2m10 0h2m-1 0h2m-1 0h2m-1 0h2m1 0h2m-29 1h2m9 0h2m-2 0h2m4 0h2m1 0h2m-29 1h2m2 0h2m3 0h2m-1 0h2m-1 0h2m0 0h2m3 0h2m1 0h2m13 0h2m-41 1h2m1 0h2m1 0h2m0 0h2m4 0h2m-2 0h2m-2 0h2m5 0h2m8 0h2m3 0h2m-1 0h2m3 0h2m-33 1h2m0 0h2m0 0h2m0 0h2m0 0h2m0 0h2m1 0h2m-2 0h2m6 0h2m0 0h2m5 0h2m-38 1h2m1 0h2m2 0h2m-1 0h2m2 0h2m1 0h2m1 0h2m-2 0h2m1 0h2m2 0h2m-1 0h2m-2 0h2m5 0h2m-2 0h2m-2 0h2m1 0h2m-42 1h2m-1 0h2m3 0h2m-1 0h2m4 0h2m6 0h2m2 0h2m0 0h2m1 0h2m1 0h2m0 0h2m0 0h2m-1 0h2m-41 1h2m9 0h2m-1 0h2m5 0h2m-1 0h2m11 0h2m-1 0h2m-2 0h2m0 0h2m-40 1h2m2 0h2m3 0h2m-1 0h2m3 0h2m3 0h2m1 0h2m0 0h2m-1 0h2m6 0h2m-41 1h2m11 0h2m0 0h2m2 0h2m-2 0h2m-1 0h2m-2 0h2m1 0h2m-2 0h2m-2 0h2m2 0h2m3 0h2m1 0h2m-1 0h2m-2 0h2m0 0h2m-41 1h2m1 0h2m3 0h2m2 0h2m1 0h2m-2 0h2m-1 0h2m0 0h2m2 0h2m0 0h2m-1 0h2m0 0h2m0 0h2m-1 0h2m0 0h2m1 0h2m-1 0h2m6 0h2m-44 1h2m5 0h2m5 0h2m-2 0h2m2 0h2m-1 0h2m4 0h2m-2 0h2m-2 0h2m0 0h2m0 0h2m2 0h2m1 0h2m2 0h2m-1 0h2m-1 0h2m-38 1h2m3 0h2m1 0h2m-1 0h2m0 0h2m1 0h2m0 0h2m-1 0h2m0 0h2m6 0h2m-2 0h2m0 0h2m-2 0h2m4 0h2m-38 1h2m-1 0h2m3 0h2m-2 0h2m0 0h2m-1 0h2m-2 0h2m3 0h2m-2 0h2m2 0h2m1 0h2m5 0h2m-1 0h2m1 0h2m-1 0h2m-1 0h2m-1 0h2m-1 0h2m-43 1h2m10 0h2m0 0h2m-1 0h2m-1 0h2m-1 0h2m-1 0h2m-1 0h2m2 0h2m1 0h2m0 0h2m-1 0h2m0 0h2m1 0h2m-1 0h2m5 0h2m-41 1h2m7 0h2m2 0h2m3 0h2m2 0h2m-1 0h2m0 0h2m0 0h2m3 0h2m3 0h2m3 0h2m-41 1h2m3 0h2m2 0h2m-1 0h2m2 0h2m-2 0h2m0 0h2m-1 0h2m1 0h2m-2 0h2m3 0h2m-2 0h2m0 0h2m0 0h2m-2 0h2m-1 0h2m-2 0h2m0 0h2m-48 1h2m-1 0h2m-1 0h2m2 0h2m4 0h2m2 0h2m0 0h2m0 0h2m1 0h2m-2 0h2m0 0h2m-1 0h2m-2 0h2m6 0h2m0 0h2m-1 0h2m5 0h2m2 0h2m-2 0h2m-44 1h2m2 0h2m2 0h2m1 0h2m-1 0h2m-2 0h2m0 0h2m-2 0h2m2 0h2m1 0h2m-1 0h2m0 0h2m2 0h2m-1 0h2m1 0h2m3 0h2m-2 0h2m-2 0h2m-46 1h2m1 0h2m1 0h2m-2 0h2m0 0h2m1 0h2m0 0h2m2 0h2m1 0h2m-1 0h2m-2 0h2m3 0h2m-1 0h2m-2 0h2m3 0h2m-1 0h2m-2 0h2m-1 0h2m-1 0h2m15 0h2m-45 1h2m-1 0h2m-1 0h2m-1 0h2m6 0h2m1 0h2m0 0h2m-1 0h2m3 0h2m0 0h2m-2 0h2m-2 0h2m-2 0h2m1 0h2m-1 0h2m-2 0h2m-1 0h2m2 0h2m0 0h2m-44 1h2m4 0h2m4 0h2m-1 0h2m-2 0h2m3 0h2m0 0h2m0 0h2m-2 0h2m-1 0h2m6 0h2m2 0h2m1 0h2m2 0h2m2 0h2m1 0h2m-51 1h2m-2 0h2m0 0h2m-2 0h2m0 0h2m2 0h2m-1 0h2m7 0h2m2 0h2m4 0h2m-1 0h2m-1 0h2m0 0h2m2 0h2m-1 0h2m-41 1h2m6 0h2m-1 0h2m-1 0h2m-1 0h2m0 0h2m5 0h2m-1 0h2m-2 0h2m2 0h2m-2 0h2m-2 0h2m-1 0h2m-1 0h2m-2 0h2m0 0h2m0 0h2m-2 0h2m1 0h2m0 0h2m3 0h2m2 0h2m-2 0h2m-46 1h2m-1 0h2m4 0h2m-2 0h2m0 0h2m-1 0h2m-2 0h2m8 0h2m-1 0h2m-2 0h2m-1 0h2m-2 0h2m0 0h2m-1 0h2m-1 0h2m1 0h2m1 0h2m-1 0h2m0 0h2m6 0h2m-39 1h2m1 0h2m-1 0h2m-2 0h2m-1 0h2m1 0h2m0 0h2m1 0h2m0 0h2m-2 0h2m-1 0h2m-1 0h2m-1 0h2m-1 0h2m1 0h2m-2 0h2m3 0h2m1 0h2m-2 0h2m-1 0h2m2 0h2m-2 0h2m-43 1h2m13 0h2m-2 0h2m-2 0h2m0 0h2m0 0h2m0 0h2m-1 0h2m-2 0h2m4 0h2m6 0h2m0 0h2m-1 0h2m0 0h2m-52 1h2m3 0h2m0 0h2m-1 0h2m3 0h2m-2 0h2m-2 0h2m-1 0h2m-2 0h2m1 0h2m3 0h2m1 0h2m0 0h2m-1 0h2m-2 0h2m2 0h2m-1 0h2m10 0h2m-1 0h2m-2 0h2m2 0h2m-45 1h2m4 0h2m-1 0h2m2 0h2m-1 0h2m2 0h2m3 0h2m-2 0h2m-1 0h2m1 0h2m-2 0h2m0 0h2m1 0h2m-2 0h2m4 0h2m1 0h2m-44 1h2m5 0h2m-1 0h2m0 0h2m1 0h2m-1 0h2m-2 0h2m0 0h2m0 0h2m-2 0h2m3 0h2m-1 0h2m1 0h2m-2 0h2m-2 0h2m-1 0h2m-1 0h2m0 0h2m2 0h2m-2 0h2m-1 0h2m3 0h2m4 0h2m-2 0h2m-50 1h2m1 0h2m-2 0h2m0 0h2m-1 0h2m5 0h2m-2 0h2m0 0h2m-2 0h2m6 0h2m-1 0h2m-1 0h2m-1 0h2m-1 0h2m-2 0h2m-1 0h2m0 0h2m-2 0h2m3 0h2m2 0h2m10 0h2m-46 1h2m-1 0h2m2 0h2m2 0h2m-2 0h2m-1 0h2m-2 0h2m-1 0h2m0 0h2m-2 0h2m-2 0h2m-1 0h2m0 0h2m1 0h2m-1 0h2m-2 0h2m-2 0h2m-1 0h2m-2 0h2m1 0h2m0 0h2m-2 0h2m-1 0h2m-1 0h2m2 0h2m0 0h2m0 0h2m-1 0h2m4 0h2m-51 1h2m-2 0h2m0 0h2m5 0h2m-2 0h2m-2 0h2m0 0h2m0 0h2m-1 0h2m-1 0h2m0 0h2m0 0h2m-2 0h2m-1 0h2m-1 0h2m2 0h2m-1 0h2m-1 0h2m3 0h2m0 0h2m-1 0h2m-2 0h2m-1 0h2m3 0h2m-1 0h2m1 0h2m-47 1h2m-1 0h2m2 0h2m1 0h2m2 0h2m-1 0h2m6 0h2m-2 0h2m2 0h2m2 0h2m2 0h2m-1 0h2m13 0h2m-40 1h2m-2 0h2m0 0h2m1 0h2m-1 0h2m-2 0h2m-2 0h2m-1 0h2m0 0h2m-2 0h2m-1 0h2m-2 0h2m-1 0h2m-2 0h2m2 0h2m0 0h2m12 0h2m1 0h2m-2 0h2m-45 1h2m1 0h2m-2 0h2m3 0h2m2 0h2m0 0h2m1 0h2m0 0h2m-2 0h2m-2 0h2m-1 0h2m-2 0h2m-1 0h2m0 0h2m-2 0h2m-2 0h2m0 0h2m7 0h2m3 0h2m1 0h2m-42 1h2m1 0h2m-2 0h2m-2 0h2m0 0h2m-2 0h2m-1 0h2m-1 0h2m-1 0h2m1 0h2m-1 0h2m-1 0h2m-2 0h2m0 0h2m-2 0h2m-2 0h2m-1 0h2m-2 0h2m-2 0h2m3 0h2m-1 0h2m1 0h2m-1 0h2m3 0h2m3 0h2m1 0h2m-46 1h2m1 0h2m5 0h2m2 0h2m-1 0h2m1 0h2m-1 0h2m-1 0h2m-2 0h2m-2 0h2m-1 0h2m-1 0h2m-2 0h2m-2 0h2m-2 0h2m1 0h2m-2 0h2m22 0h2m-61 1h2m0 0h2m5 0h2m-2 0h2m0 0h2m-1 0h2m1 0h2m0 0h2m-1 0h2m1 0h2m-2 0h2m-1 0h2m-1 0h2m0 0h2m-1 0h2m-1 0h2m-1 0h2m-1 0h2m-1 0h2m0 0h2m-1 0h2m-2 0h2m-2 0h2m0 0h2m-2 0h2m-1 0h2m-2 0h2m1 0h2m-2 0h2m-1 0h2m-1 0h2m3 0h2m10 0h2m-57 1h2m6 0h2m0 0h2m2 0h2m-1 0h2m3 0h2m-1 0h2m0 0h2m-1 0h2m0 0h2m-1 0h2m-2 0h2m0 0h2m-2 0h2m-1 0h2m-2 0h2m-1 0h2m1 0h2m-1 0h2m-2 0h2m-2 0h2m-2 0h2m-2 0h2m0 0h2m1 0h2m-1 0h2m5 0h2m0 0h2m-48 1h2m6 0h2m0 0h2m-1 0h2m-2 0h2m0 0h2m1 0h2m0 0h2m0 0h2m-1 0h2m-2 0h2m1 0h2m-1 0h2m-1 0h2m3 0h2m-2 0h2m-2 0h2m-1 0h2m2 0h2m-2 0h2m0 0h2m-48 1h2m2 0h2m0 0h2m-1 0h2m1 0h2m0 0h2m-1 0h2m0 0h2m-1 0h2m-1 0h2m-1 0h2m2 0h2m-1 0h2m-1 0h2m0 0h2m1 0h2m1 0h2m-1 0h2m-2 0h2m0 0h2m1 0h2m-2 0h2m0 0h2m-1 0h2m5 0h2m-2 0h2m0 0h2m-1 0h2m-47 1h2m-2 0h2m0 0h2m-2 0h2m6 0h2m7 0h2m-1 0h2m-2 0h2m1 0h2m0 0h2m-1 0h2m-2 0h2m-1 0h2m11 0h2m-1 0h2m5 0h2m-53 1h2m3 0h2m-1 0h2m-1 0h2m1 0h2m-1 0h2m-1 0h2m0 0h2m2 0h2m-2 0h2m-1 0h2m-1 0h2m-1 0h2m-2 0h2m-2 0h2m1 0h2m-1 0h2m2 0h2m-1 0h2m-2 0h2m0 0h2m15 0h2m1 0h2m-1 0h2m-52 1h2m6 0h2m-1 0h2m1 0h2m0 0h2m-1 0h2m-1 0h2m-1 0h2m2 0h2m1 0h2m1 0h2m-1 0h2m10 0h2m-2 0h2m3 0h2m-44 1h2m6 0h2m1 0h2m1 0h2m1 0h2m-2 0h2m-1 0h2m-1 0h2m-2 0h2m-1 0h2m-1 0h2m-2 0h2m1 0h2m5 0h2m1 0h2m0 0h2m-1 0h2m-41 1h2m-1 0h2m-2 0h2m2 0h2m4 0h2m-2 0h2m0 0h2m-1 0h2m0 0h2m0 0h2m1 0h2m-1 0h2m-2 0h2m-1 0h2m-1 0h2m-1 0h2m1 0h2m-2 0h2m1 0h2m-1 0h2m-1 0h2m-2 0h2m-1 0h2m-2 0h2m-28 1h2m1 0h2m-1 0h2m1 0h2m1 0h2m-2 0h2m-1 0h2m-2 0h2m-2 0h2m-1 0h2m3 0h2m-1 0h2m4 0h2m2 0h2m-47 1h2m2 0h2m0 0h2m7 0h2m1 0h2m1 0h2m-2 0h2m-1 0h2m-1 0h2m-1 0h2m-2 0h2m0 0h2m-2 0h2m2 0h2m-1 0h2m4 0h2m-1 0h2m-1 0h2m3 0h2m-40 1h2m1 0h2m0 0h2m4 0h2m4 0h2m-2 0h2m0 0h2m10 0h2m-2 0h2m3 0h2m-1 0h2m0 0h2m-2 0h2m0 0h2m1 0h2m-2 0h2m-1 0h2m-1 0h2m-54 1h2m4 0h2m8 0h2m-1 0h2m-1 0h2m0 0h2m0 0h2m-1 0h2m-1 0h2m-1 0h2m0 0h2m0 0h2m9 0h2m-2 0h2m2 0h2m6 0h2m-56 1h2m1 0h2m0 0h2m3 0h2m4 0h2m1 0h2m0 0h2m0 0h2m-1 0h2m5 0h2m-2 0h2m1 0h2m3 0h2m-1 0h2m8 0h2m-39 1h2m0 0h2m7 0h2m-2 0h2m1 0h2m-2 0h2m0 0h2m-2 0h2m-1 0h2m-1 0h2m0 0h2m0 0h2m-2 0h2m-1 0h2m2 0h2m0 0h2m1 0h2m2 0h2m0 0h2m-52 1h2m4 0h2m-1 0h2m6 0h2m-2 0h2m1 0h2m1 0h2m-1 0h2m-2 0h2m-1 0h2m5 0h2m0 0h2m0 0h2m13 0h2m-49 1h2m-1 0h2m-1 0h2m-1 0h2m0 0h2m3 0h2m-1 0h2m7 0h2m-2 0h2m0 0h2m0 0h2m-1 0h2m0 0h2m-2 0h2m8 0h2m1 0h2m-43 1h2m1 0h2m5 0h2m-2 0h2m-2 0h2m1 0h2m-1 0h2m9 0h2m-1 0h2m2 0h2m0 0h2m1 0h2m-1 0h2m-1 0h2m0 0h2m1 0h2m-47 1h2m8 0h2m0 0h2m-1 0h2m7 0h2m8 0h2m-1 0h2m13 0h2m-52 1h2m0 0h2m0 0h2m-1 0h2m-1 0h2m0 0h2m0 0h2m-1 0h2m2 0h2m2 0h2m4 0h2m1 0h2m0 0h2m-2 0h2m8 0h2m-2 0h2m0 0h2m-2 0h2m6 0h2m-50 1h2m-1 0h2m0 0h2m6 0h2m0 0h2m-1 0h2m-2 0h2m2 0h2m-2 0h2m5 0h2m0 0h2m-2 0h2m-1 0h2m-2 0h2m0 0h2m-1 0h2m-1 0h2m5 0h2m-36 1h2m2 0h2m10 0h2m-1 0h2m1 0h2m0 0h2m4 0h2m4 0h2m7 0h2m1 0h2m-49 1h2m-1 0h2m-1 0h2m0 0h2m-1 0h2m-1 0h2m0 0h2m-1 0h2m20 0h2m2 0h2m2 0h2m-36 1h2m1 0h2m-1 0h2m-1 0h2m-2 0h2m-2 0h2m-2 0h2m1 0h2m2 0h2m-2 0h2m0 0h2m4 0h2m2 0h2m-2 0h2m6 0h2m-1 0h2m-2 0h2m-1 0h2m-44 1h2m-1 0h2m-2 0h2m-1 0h2m-1 0h2m0 0h2m-1 0h2m3 0h2m1 0h2m-1 0h2m0 0h2m0 0h2m3 0h2m-1 0h2m-1 0h2m3 0h2m-1 0h2m0 0h2m-34 1h2m3 0h2m0 0h2m-1 0h2m1 0h2m1 0h2m0 0h2m-2 0h2m2 0h2m0 0h2m6 0h2m-2 0h2m1 0h2m0 0h2m-2 0h2m-37 1h2m-1 0h2m-1 0h2m5 0h2m-2 0h2m-2 0h2m-1 0h2m-2 0h2m-2 0h2m-1 0h2m-2 0h2m0 0h2m-2 0h2m6 0h2m1 0h2m2 0h2m4 0h2m0 0h2m-44 1h2m3 0h2m0 0h2m3 0h2m2 0h2m-1 0h2m2 0h2m-1 0h2m1 0h2m-25 1h2m5 0h2m3 0h2m1 0h2m9 0h2m0 0h2m0 0h2m4 0h2m-1 0h2m-35 1h2m14 0h2m-2 0h2m2 0h2m-2 0h2m-1 0h2m1 0h2m1 0h2m6 0h2m-49 1h2m0 0h2m4 0h2m0 0h2m1 0h2m2 0h2m-2 0h2m0 0h2m-2 0h2m0 0h2m8 0h2m2 0h2m10 0h2m-1 0h2m-47 1h2m3 0h2m4 0h2m3 0h2m-1 0h2m-1 0h2m1 0h2m1 0h2m-2 0h2m-1 0h2m0 0h2m-2 0h2m-1 0h2m1 0h2m7 0h2m-44 1h2m5 0h2m6 0h2m1 0h2m5 0h2m-1 0h2m5 0h2m-1 0h2m-2 0h2m-1 0h2m0 0h2m1 0h2m-31 1h2m-1 0h2m-2 0h2m0 0h2m5 0h2m-1 0h2m6 0h2m-2 0h2m-1 0h2m0 0h2m6 0h2m-34 1h2m14 0h2m1 0h2m0 0h2m3 0h2m-31 1h2m4 0h2m-1 0h2m-2 0h2m1 0h2m-2 0h2m-2 0h2m1 0h2m0 0h2m0 0h2m1 0h2m-1 0h2m12 0h2m0 0h2m-41 1h2m5 0h2m-1 0h2m0 0h2m6 0h2m-1 0h2m-2 0h2m1 0h2m7 0h2m0 0h2m-38 1h2m2 0h2m2 0h2m-1 0h2m-2 0h2m1 0h2m7 0h2m4 0h2m1 0h2m7 0h2m-29 1h2m4 0h2m2 0h2m3 0h2m4 0h2m-29 1h2m1 0h2m3 0h2m5 0h2m5 0h2m3 0h2m-1 0h2m-28 1h2m0 0h2m3 0h2m1 0h2m-1 0h2m-1 0h2m-19 1h2m1 0h2m2 0h2m-2 0h2m7 0h2m1 0h2m12 0h2m-32 1h2m-2 0h2m5 0h2m6 0h2m-1 0h2m0 0h2m-18 1h2m0 0h2m-1 0h2m1 0h2m2 0h2m1 0h2m-2 0h2m-1 0h2m6 0h2m-22 1h2m10 0h2m-21 1h2m3 0h2m1 0h2m8 0h2m-2 0h2m3 0h2m-1 0h2m1 0h2m-29 1h2m9 0h2m5 0h2m3 1h2m3 0h2m-18 1h2m1 0h2m3 0h2m3 0h2m-19 1h2m-1 0h2m-8 1h2m8 0h2m1 0h2m-23 1h2m8 2h2m1 0h2m-4 1h2m-11 2h2" stroke="#bfbfbf" stroke-opacity="0.16" stroke-width="2.0" fill="none"/><path d="M1070 113h2m3 0h2m-18 1h2m6 2h2m-10 1h2m0 0h2m7 0h2m-20 1h2m10 0h2m-1 0h2m0 0h2m6 0h2m-29 1h2m11 0h2m-13 1h2m15 0h2m-13 1h2m-1 0h2m1 0h2m1 0h2m-1 0h2m4 0h2m-19 1h2m3 0h2m-1 0h2m3 0h2m7 0h2m0 0h2m-31 1h2m0 0h2m2 0h2m-1 0h2m6 0h2m11 0h2m-26 1h2m2 0h2m0 0h2m-1 0h2m-2 0h2m-1 0h2m1 0h2m0 0h2m13 0h2m-38 1h2m8 0h2m0 0h2m4 0h2m-1 0h2m3 0h2m-29 1h2m2 0h2m5 0h2m0 0h2m1 0h2m2 0h2m0 0h2m3 0h2m4 0h2m-24 1h2m5 0h2m1 0h2m5 0h2m-1 0h2m-2 0h2m3 0h2m-24 1h2m-1 0h2m6 0h2m-21 1h2m0 0h2m-2 0h2m2 0h2m25 0h2m-36 1h2m-1 0h2m0 0h2m-2 0h2m-1 0h2m12 0h2m0 0h2m7 0h2m4 0h2m-38 1h2m8 0h2m4 0h2m0 0h2m7 0h2m2 0h2m-30 1h2m0 0h2m8 0h2m-1 0h2m3 0h2m0 0h2m-1 0h2m-1 0h2m0 0h2m-1 0h2m1 0h2m3 0h2m-42 1h2m10 0h2m-1 0h2m-1 0h2m-1 0h2m8 0h2m0 0h2m0 0h2m-1 0h2m-2 0h2m0 0h2m-27 1h2m14 0h2m-1 0h2m0 0h2m1 0h2m5 0h2m-1 0h2m-38 1h2m2 0h2m1 0h2m4 0h2m1 0h2m3 0h2m1 0h2m0 0h2m6 0h2m-27 1h2m3 0h2m3 0h2m0 0h2m-1 0h2m-1 0h2m1 0h2m1 0h2m-1 0h2m1 0h2m-39 1h2m5 0h2m-2 0h2m4 0h2m0 0h2m0 0h2m3 0h2m2 0h2m0 0h2m1 0h2m-1 0h2m-1 0h2m5 0h2m5 0h2m-48 1h2m2 0h2m-1 0h2m0 0h2m-1 0h2m-2 0h2m-1 0h2m-1 0h2m6 0h2m-1 0h2m-2 0h2m8 0h2m-1 0h2m5 0h2m-1 0h2m-44 1h2m-1 0h2m1 0h2m1 0h2m1 0h2m4 0h2m0 0h2m5 0h2m0 0h2m-2 0h2m5 0h2m-1 0h2m-1 0h2m2 0h2m-40 1h2m5 0h2m-2 0h2m-1 0h2m-2 0h2m0 0h2m5 0h2m1 0h2m2 0h2m-2 0h2m-1 0h2m-1 0h2m-1 0h2m2 0h2m1 0h2m-2 0h2m-2 0h2m-42 1h2m1 0h2m4 0h2m-1 0h2m3 0h2m1 0h2m0 0h2m-2 0h2m1 0h2m0 0h2m5 0h2m-1 0h2m3 0h2m0 0h2m0 0h2m-43 1h2m1 0h2m1 0h2m2 0h2m6 0h2m-1 0h2m0 0h2m-1 0h2m0 0h2m10 0h2m4 0h2m-48 1h2m1 0h2m1 0h2m7 0h2m0 0h2m2 0h2m-2 0h2m-1 0h2m0 0h2m4 0h2m-1 0h2m5 0h2m0 0h2m-1 0h2m4 0h2m3 0h2m-57 1h2m21 0h2m1 0h2m0 0h2m-2 0h2m-1 0h2m10 0h2m3 0h2m-1 0h2m-40 1h2m5 0h2m-2 0h2m-1 0h2m2 0h2m-1 0h2m2 0h2m1 0h2m-1 0h2m0 0h2m-2 0h2m-1 0h2m3 0h2m-36 1h2m0 0h2m2 0h2m2 0h2m2 0h2m0 0h2m1 0h2m4 0h2m5 0h2m4 0h2m-2 0h2m5 0h2m-2 0h2m-43 1h2m-1 0h2m1 0h2m2 0h2m0 0h2m0 0h2m0 0h2m-2 0h2m-2 0h2m0 0h2m2 0h2m1 0h2m4 0h2m2 0h2m3 0h2m-2 0h2m4 0h2m-54 1h2m7 0h2m1 0h2m0 0h2m-1 0h2m6 0h2m-1 0h2m-1 0h2m1 0h2m-1 0h2m7 0h2m3 0h2m-1 0h2m7 0h2m-55 1h2m0 0h2m0 0h2m0 0h2m2 0h2m8 0h2m2 0h2m-2 0h2m-2 0h2m4 0h2m-1 0h2m0 0h2m0 0h2m-1 0h2m1 0h2m5 0h2m-49 1h2m0 0h2m1 0h2m1 0h2m6 0h2m0 0h2m0 0h2m-1 0h2m0 0h2m0 0h2m0 0h2m-2 0h2m1 0h2m-2 0h2m0 0h2m-1 0h2m0 0h2m1 0h2m-2 0h2m-1 0h2m0 0h2m-1 0h2m-1 0h2m-1 0h2m-1 0h2m-48 1h2m1 0h2m14 0h2m1 0h2m3 0h2m0 0h2m-1 0h2m3 0h2m0 0h2m1 0h2m0 0h2m1 0h2m-1 0h2m-39 1h2m1 0h2m-1 0h2m-1 0h2m-2 0h2m3 0h2m-2 0h2m1 0h2m-1 0h2m-1 0h2m-1 0h2m0 0h2m3 0h2m5 0h2m0 0h2m1 0h2m-42 1h2m3 0h2m6 0h2m1 0h2m0 0h2m-1 0h2m0 0h2m0 0h2m-2 0h2m7 0h2m2 0h2m3 0h2m0 0h2m-2 0h2m-50 1h2m6 0h2m-1 0h2m-2 0h2m2 0h2m-1 0h2m0 0h2m-1 0h2m0 0h2m0 0h2m4 0h2m-2 0h2m-1 0h2m1 0h2m-1 0h2m0 0h2m0 0h2m3 0h2m-2 0h2m8 0h2m-2 0h2m-52 1h2m5 0h2m5 0h2m5 0h2m3 0h2m3 0h2m-1 0h2m-1 0h2m1 0h2m0 0h2m-1 0h2m2 0h2m-46 1h2m0 0h2m4 0h2m-2 0h2m5 0h2m-2 0h2m5 0h2m6 0h2m-1 0h2m-1 0h2m1 0h2m0 0h2m3 0h2m0 0h2m-48 1h2m3 0h2m0 0h2m1 0h2m2 0h2m1 0h2m-1 0h2m0 0h2m0 0h2m0 0h2m-2 0h2m-1 0h2m-2 0h2m2 0h2m-1 0h2m2 0h2m10 0h2m-2 0h2m3 0h2m-51 1h2m0 0h2m-1 0h2m-2 0h2m5 0h2m1 0h2m3 0h2m1 0h2m-1 0h2m0 0h2m-2 0h2m-1 0h2m-2 0h2m-2 0h2m0 0h2m3 0h2m3 0h2m0 0h2m-1 0h2m-1 0h2m5 0h2m-48 1h2m0 0h2m-1 0h2m0 0h2m0 0h2m-2 0h2m-1 0h2m1 0h2m-1 0h2m1 0h2m-2 0h2m0 0h2m0 0h2m-2 0h2m-1 0h2m-2 0h2m-1 0h2m-2 0h2m0 0h2m2 0h2m-1 0h2m-2 0h2m0 0h2m-1 0h2m0 0h2m-1 0h2m3 0h2m-43 1h2m-1 0h2m0 0h2m-1 0h2m2 0h2m1 0h2m-1 0h2m-1 0h2m0 0h2m-1 0h2m0 0h2m-2 0h2m9 0h2m-2 0h2m3 0h2m0 0h2m-1 0h2m1 0h2m-46 1h2m1 0h2m11 0h2m-1 0h2m-2 0h2m3 0h2m-1 0h2m0 0h2m1 0h2m2 0h2m1 0h2m-2 0h2m-1 0h2m-1 0h2m-39 1h2m7 0h2m2 0h2m1 0h2m-2 0h2m0 0h2m0 0h2m-2 0h2m3 0h2m-1 0h2m-2 0h2m1 0h2m-1 0h2m-1 0h2m-1 0h2m3 0h2m1 0h2m-2 0h2m-1 0h2m-44 1h2m1 0h2m4 0h2m-1 0h2m-1 0h2m2 0h2m4 0h2m-2 0h2m-1 0h2m-1 0h2m-2 0h2m-2 0h2m-2 0h2m0 0h2m-1 0h2m-2 0h2m0 0h2m-1 0h2m-1 0h2m1 0h2m-1 0h2m2 0h2m-1 0h2m-1 0h2m2 0h2m-41 1h2m3 0h2m-2 0h2m-1 0h2m-2 0h2m0 0h2m1 0h2m2 0h2m-2 0h2m-2 0h2m-2 0h2m-1 0h2m-2 0h2m-1 0h2m-1 0h2m-1 0h2m-2 0h2m-1 0h2m-2 0h2m-2 0h2m0 0h2m2 0h2m0 0h2m-1 0h2m9 0h2m5 0h2m-56 1h2m-2 0h2m0 0h2m2 0h2m2 0h2m1 0h2m4 0h2m0 0h2m0 0h2m2 0h2m-1 0h2m-1 0h2m1 0h2m0 0h2m-2 0h2m6 0h2m2 0h2m-1 0h2m-1 0h2m-57 1h2m10 0h2m-2 0h2m1 0h2m-1 0h2m-1 0h2m-2 0h2m-1 0h2m2 0h2m2 0h2m2 0h2m0 0h2m-1 0h2m-2 0h2m-1 0h2m-1 0h2m-1 0h2m-1 0h2m-1 0h2m0 0h2m2 0h2m4 0h2m1 0h2m2 0h2m-46 1h2m-1 0h2m-2 0h2m1 0h2m2 0h2m-1 0h2m-2 0h2m-2 0h2m0 0h2m-2 0h2m-2 0h2m0 0h2m1 0h2m-2 0h2m-1 0h2m0 0h2m-2 0h2m2 0h2m-2 0h2m0 0h2m-2 0h2m-1 0h2m0 0h2m-2 0h2m-1 0h2m-1 0h2m-2 0h2m-2 0h2m-1 0h2m-2 0h2m-2 0h2m-1 0h2m0 0h2m-38 1h2m1 0h2m1 0h2m-1 0h2m1 0h2m-1 0h2m-2 0h2m-1 0h2m-1 0h2m0 0h2m-2 0h2m-2 0h2m-1 0h2m-1 0h2m-2 0h2m-2 0h2m-1 0h2m1 0h2m-1 0h2m-2 0h2m3 0h2m-1 0h2m3 0h2m-1 0h2m3 0h2m-1 0h2m5 0h2m-59 1h2m1 0h2m1 0h2m1 0h2m2 0h2m2 0h2m-1 0h2m-1 0h2m2 0h2m-2 0h2m-2 0h2m-1 0h2m0 0h2m-1 0h2m0 0h2m-1 0h2m-2 0h2m-2 0h2m1 0h2m-1 0h2m-1 0h2m0 0h2m-2 0h2m1 0h2m-2 0h2m0 0h2m7 0h2m-50 1h2m6 0h2m5 0h2m-2 0h2m0 0h2m0 0h2m-2 0h2m2 0h2m-1 0h2m2 0h2m0 0h2m-1 0h2m5 0h2m1 0h2m0 0h2m-40 1h2m-2 0h2m-2 0h2m1 0h2m-2 0h2m-1 0h2m-1 0h2m1 0h2m2 0h2m-2 0h2m2 0h2m-2 0h2m-1 0h2m-2 0h2m-1 0h2m3 0h2m-1 0h2m0 0h2m-1 0h2m5 0h2m4 0h2m-47 1h2m-1 0h2m0 0h2m0 0h2m0 0h2m1 0h2m1 0h2m-1 0h2m3 0h2m-2 0h2m-2 0h2m-1 0h2m-1 0h2m-1 0h2m1 0h2m-1 0h2m-2 0h2m0 0h2m-2 0h2m-2 0h2m-1 0h2m-2 0h2m0 0h2m-2 0h2m3 0h2m2 0h2m6 0h2m-1 0h2m-54 1h2m5 0h2m2 0h2m-2 0h2m-2 0h2m-1 0h2m-1 0h2m-2 0h2m3 0h2m-1 0h2m-1 0h2m-1 0h2m0 0h2m-2 0h2m-1 0h2m-1 0h2m-1 0h2m-2 0h2m1 0h2m0 0h2m-1 0h2m0 0h2m2 0h2m0 0h2m-2 0h2m-35 1h2m-2 0h2m4 0h2m-1 0h2m0 0h2m1 0h2m-1 0h2m4 0h2m-1 0h2m-1 0h2m-2 0h2m5 0h2m-1 0h2m-1 0h2m8 0h2m2 0h2m-49 1h2m-2 0h2m-2 0h2m-2 0h2m3 0h2m6 0h2m0 0h2m-2 0h2m-1 0h2m-1 0h2m-1 0h2m-2 0h2m-2 0h2m1 0h2m0 0h2m-2 0h2m-1 0h2m-1 0h2m-2 0h2m-1 0h2m-2 0h2m0 0h2m0 0h2m-1 0h2m6 0h2m1 0h2m2 0h2m-43 1h2m0 0h2m0 0h2m0 0h2m1 0h2m0 0h2m-1 0h2m-1 0h2m3 0h2m-1 0h2m-1 0h2m-1 0h2m0 0h2m-1 0h2m-1 0h2m1 0h2m1 0h2m2 0h2m-43 1h2m-2 0h2m-1 0h2m-1 0h2m0 0h2m0 0h2m-2 0h2m-1 0h2m-1 0h2m3 0h2m-1 0h2m5 0h2m0 0h2m-1 0h2m1 0h2m0 0h2m1 0h2m1 0h2m-1 0h2m1 0h2m0 0h2m-49 1h2m4 0h2m5 0h2m-2 0h2m0 0h2m0 0h2m0 0h2m-1 0h2m0 0h2m1 0h2m-1 0h2m-1 0h2m1 0h2m-1 0h2m3 0h2m-1 0h2m3 0h2m4 0h2m-53 1h2m15 0h2m-1 0h2m1 0h2m-1 0h2m-1 0h2m-1 0h2m4 0h2m-2 0h2m-2 0h2m-1 0h2m-1 0h2m-2 0h2m3 0h2m-2 0h2m0 0h2m-1 0h2m2 0h2m-1 0h2m5 0h2m-2 0h2m-39 1h2m-1 0h2m2 0h2m1 0h2m-1 0h2m-2 0h2m3 0h2m0 0h2m-1 0h2m-1 0h2m-2 0h2m3 0h2m-1 0h2m0 0h2m-2 0h2m1 0h2m0 0h2m-36 1h2m0 0h2m0 0h2m-2 0h2m5 0h2m-2 0h2m-2 0h2m0 0h2m1 0h2m-2 0h2m-2 0h2m0 0h2m-1 0h2m-2 0h2m0 0h2m-1 0h2m0 0h2m-2 0h2m-2 0h2m0 0h2m0 0h2m2 0h2m-33 1h2m-1 0h2m3 0h2m-1 0h2m0 0h2m-2 0h2m-1 0h2m0 0h2m2 0h2m0 0h2m0 0h2m4 0h2m-2 0h2m-2 0h2m5 0h2m0 0h2m-42 1h2m1 0h2m7 0h2m2 0h2m2 0h2m1 0h2m-1 0h2m-1 0h2m2 0h2m0 0h2m0 0h2m10 0h2m-55 1h2m1 0h2m1 0h2m-2 0h2m4 0h2m1 0h2m1 0h2m0 0h2m-2 0h2m3 0h2m-1 0h2m-1 0h2m2 0h2m1 0h2m-1 0h2m-1 0h2m4 0h2m-2 0h2m-2 0h2m-44 1h2m2 0h2m0 0h2m1 0h2m0 0h2m-1 0h2m1 0h2m1 0h2m5 0h2m-1 0h2m-1 0h2m0 0h2m-1 0h2m-1 0h2m-1 0h2m3 0h2m3 0h2m-1 0h2m-44 1h2m3 0h2m-1 0h2m6 0h2m3 0h2m-2 0h2m0 0h2m-1 0h2m-1 0h2m-1 0h2m-1 0h2m-1 0h2m3 0h2m4 0h2m7 0h2m-52 1h2m4 0h2m-1 0h2m4 0h2m3 0h2m0 0h2m11 0h2m3 0h2m1 0h2m-2 0h2m4 0h2m-1 0h2m-2 0h2m-44 1h2m1 0h2m8 0h2m-1 0h2m-2 0h2m0 0h2m1 0h2m-1 0h2m-1 0h2m0 0h2m10 0h2m0 0h2m5 0h2m-1 0h2m0 0h2m-59 1h2m6 0h2m0 0h2m0 0h2m2 0h2m-2 0h2m-2 0h2m-1 0h2m0 0h2m0 0h2m7 0h2m-1 0h2m1 0h2m-1 0h2m0 0h2m0 0h2m-1 0h2m0 0h2m2 0h2m2 0h2m-51 1h2m10 0h2m4 0h2m0 0h2m-1 0h2m-1 0h2m0 0h2m5 0h2m3 0h2m0 0h2m-1 0h2m-1 0h2m-37 1h2m7 0h2m-2 0h2m-1 0h2m2 0h2m-2 0h2m-1 0h2m6 0h2m0 0h2m2 0h2m-1 0h2m-2 0h2m-1 0h2m-1 0h2m1 0h2m2 0h2m-2 0h2m-41 1h2m5 0h2m-1 0h2m1 0h2m-1 0h2m2 0h2m-1 0h2m0 0h2m3 0h2m2 0h2m3 0h2m5 0h2m1 0h2m-1 0h2m-43 1h2m4 0h2m-1 0h2m-2 0h2m12 0h2m13 0h2m0 0h2m-1 0h2m1 0h2m-53 1h2m11 0h2m-1 0h2m-2 0h2m0 0h2m0 0h2m-2 0h2m1 0h2m8 0h2m-2 0h2m6 0h2m1 0h2m1 0h2m3 0h2m3 0h2m-51 1h2m5 0h2m-1 0h2m0 0h2m-1 0h2m-1 0h2m12 0h2m2 0h2m6 0h2m-1 0h2m1 0h2m-43 1h2m5 0h2m0 0h2m3 0h2m4 0h2m-1 0h2m-2 0h2m1 0h2m3 0h2m4 0h2m-1 0h2m2 0h2m4 0h2m-52 1h2m4 0h2m-2 0h2m-2 0h2m0 0h2m-2 0h2m-2 0h2m7 0h2m-2 0h2m4 0h2m0 0h2m3 0h2m-1 0h2m5 0h2m0 0h2m3 0h2m-51 1h2m1 0h2m8 0h2m11 0h2m0 0h2m-2 0h2m0 0h2m-1 0h2m-2 0h2m-1 0h2m5 0h2m-36 1h2m4 0h2m-1 0h2m-1 0h2m-1 0h2m6 0h2m0 0h2m-1 0h2m-1 0h2m-2 0h2m-1 0h2m-2 0h2m-2 0h2m-2 0h2m5 0h2m10 0h2m-46 1h2m6 0h2m-1 0h2m1 0h2m1 0h2m0 0h2m-2 0h2m5 0h2m1 0h2m3 0h2m2 0h2m-1 0h2m1 0h2m-39 1h2m2 0h2m6 0h2m-1 0h2m10 0h2m3 0h2m-1 0h2m-2 0h2m-1 0h2m-2 0h2m-2 0h2m-1 0h2m-1 0h2m-1 0h2m-1 0h2m2 0h2m-43 1h2m0 0h2m1 0h2m0 0h2m1 0h2m-1 0h2m3 0h2m3 0h2m-1 0h2m14 0h2m-41 1h2m-1 0h2m0 0h2m-1 0h2m1 0h2m4 0h2m-1 0h2m-1 0h2m1 0h2m21 0h2m-50 1h2m7 0h2m1 0h2m1 0h2m9 0h2m1 0h2m-2 0h2m-2 0h2m-2 0h2m-1 0h2m3 0h2m-2 0h2m0 0h2m0 0h2m1 0h2m1 0h2m-39 1h2m0 0h2m7 0h2m0 0h2m2 0h2m4 0h2m-1 0h2m1 0h2m-29 1h2m0 0h2m-2 0h2m13 0h2m10 0h2m-32 1h2m4 0h2m0 0h2m7 0h2m-2 0h2m0 0h2m-2 0h2m2 0h2m-1 0h2m0 0h2m5 0h2m-15 1h2m5 0h2m5 0h2m-42 1h2m4 0h2m-1 0h2m11 0h2m4 0h2m7 0h2m-2 0h2m-25 1h2m0 0h2m0 0h2m12 0h2m3 0h2m-34 1h2m8 0h2m1 0h2m15 0h2m-2 0h2m-33 1h2m1 0h2m1 0h2m-1 0h2m2 0h2m-1 0h2m-1 0h2m0 0h2m-2 1h2m4 0h2m-1 0h2m9 0h2m-32 1h2m2 0h2m-2 0h2m3 0h2m4 0h2m-1 0h2m5 0h2m-24 1h2m7 0h2m0 0h2m-16 1h2m2 0h2m-2 0h2m-1 0h2m-2 0h2m0 0h2m2 0h2m2 0h2m-9 1h2m-1 0h2m2 0h2m-2 0h2m2 0h2m0 0h2m-17 1h2m11 0h2m2 1h2m-17 1h2m14 0h2m-24 1h2m12 2h2m4 1h2m-17 5h2" stroke="#bfbfbf" stroke-opacity="0.16" stroke-width="2.0" fill="none"/></g>
<g transform="scale(0.5)"><path d="M1045 133h2m16 0h2m2 2h2m-22 1h2m-2 0h2m2 0h2m14 3h2m-31 2h2m2 0h2m-6 1h2m17 1h2m-16 1h2m26 0h2m-25 1h2m1 0h2m-5 1h2m5 0h2m-15 1h2m-2 0h2m4 0h2m2 0h2m6 0h2m6 0h2m-29 1h2m2 0h2m-30 1h2m24 0h2m1 0h2m4 0h2m-1 1h2m-20 1h2m12 0h2m-2 0h2m-2 0h2m0 0h2m13 0h2m-41 1h2m-1 0h2m1 0h2m0 0h2m3 0h2m-2 0h2m-1 0h2m0 0h2m1 0h2m2 0h2m8 0h2m-45 1h2m22 0h2m1 0h2m-1 0h2m3 0h2m15 0h2m-1 0h2m-30 1h2m-1 0h2m20 0h2m-40 1h2m5 0h2m4 0h2m0 0h2m18 0h2m7 0h2m-44 1h2m19 0h2m-14 1h2m2 0h2m6 0h2m-17 1h2m-2 0h2m6 0h2m1 0h2m4 0h2m-22 1h2m0 0h2m3 0h2m12 0h2m2 0h2m-33 1h2m20 0h2m-25 1h2m7 0h2m2 0h2m-1 0h2m9 0h2m-21 1h2m1 0h2m3 0h2m-1 0h2m0 0h2m3 0h2m-1 0h2m-18 1h2m1 0h2m12 0h2m1 0h2m4 0h2m-45 1h2m5 0h2m-1 0h2m14 0h2m2 0h2m10 0h2m2 0h2m-52 1h2m9 0h2m7 0h2m-2 0h2m0 0h2m2 0h2m-11 1h2m0 0h2m1 0h2m-2 0h2m3 0h2m3 0h2m-1 0h2m-2 0h2m-17 1h2m-1 0h2m9 0h2m-1 0h2m4 0h2m0 0h2m-44 1h2m10 0h2m-1 0h2m-2 0h2m6 0h2m-1 0h2m4 0h2m1 0h2m6 0h2m4 0h2m-42 1h2m0 0h2m5 0h2m1 0h2m3 0h2m0 0h2m6 0h2m1 0h2m0 0h2m-27 1h2m-1 0h2m5 0h2m2 0h2m1 0h2m7 0h2m-25 1h2m1 0h2m2 0h2m-1 0h2m2 0h2m11 0h2m-43 1h2m2 0h2m9 0h2m1 0h2m0 0h2m2 0h2m-14 2h2m2 0h2m20 0h2m0 0h2m4 0h2m11 0h2m-57 1h2m10 0h2m4 0h2m-2 0h2m4 0h2m-18 1h2m1 0h2m-2 0h2m-2 0h2m8 0h2m-1 0h2m3 0h2m1 0h2m-1 0h2m4 0h2m-38 1h2m6 0h2m14 0h2m8 0h2m-27 1h2m4 0h2m0 0h2m1 0h2m7 0h2m-23 1h2m-1 0h2m27 0h2m-38 1h2m2 0h2m-1 0h2m12 0h2m2 1h2m1 0h2m11 0h2m-54 1h2m5 0h2m11 0h2m5 0h2m2 0h2m5 0h2m-1 0h2m-11 1h2m1 0h2m-41 1h2m31 0h2m2 0h2m-18 3h2m17 1h2m1 0h2m-27 1h2m7 0h2m5 0h2m-21 2h2m2 2h2m7 0h2m6 0h2m-23 1h2m24 2h2" stroke="#bfbfbf" stroke-opacity="0.25" stroke-width="2.0" fill="none"/><path d="M1071 132h2m-18 4h2m16 0h2m-21 1h2m-18 2h2m-11 1h2m20 0h2m-10 1h2m14 0h2m-31 1h2m3 0h2m17 0h2m-16 1h2m-4 1h2m4 1h2m2 0h2m-8 1h2m-10 1h2m2 0h2m11 0h2m-24 3h2m7 0h2m4 0h2m7 0h2m-25 1h2m2 0h2m3 0h2m18 0h2m11 0h2m-33 1h2m0 0h2m-1 0h2m0 0h2m-4 1h2m-17 1h2m17 0h2m-21 1h2m0 0h2m2 0h2m10 0h2m-21 1h2m11 0h2m3 0h2m2 0h2m-33 1h2m16 0h2m16 0h2m-36 1h2m-1 0h2m5 0h2m1 0h2m1 0h2m5 0h2m-40 1h2m17 0h2m-2 0h2m3 0h2m-1 0h2m-1 0h2m4 0h2m3 0h2m-1 0h2m0 0h2m10 0h2m4 0h2m-42 1h2m24 0h2m1 0h2m3 0h2m-48 1h2m21 0h2m17 0h2m-48 1h2m18 0h2m-2 0h2m5 0h2m0 0h2m0 0h2m-1 0h2m18 0h2m-47 1h2m5 0h2m5 0h2m0 0h2m-1 0h2m-1 0h2m-2 0h2m-1 0h2m-2 0h2m-1 0h2m1 0h2m0 0h2m-1 0h2m-21 1h2m0 0h2m6 0h2m-1 0h2m7 0h2m9 0h2m-44 1h2m15 0h2m3 0h2m3 0h2m-1 0h2m3 0h2m-34 1h2m9 0h2m11 0h2m2 0h2m-24 1h2m9 0h2m1 0h2m0 0h2m-2 0h2m0 0h2m-1 0h2m1 0h2m2 0h2m-26 1h2m-1 0h2m1 0h2m0 0h2m-2 0h2m8 0h2m0 0h2m2 0h2m4 0h2m-25 1h2m-1 0h2m2 0h2m1 0h2m0 0h2m-35 1h2m5 0h2m1 0h2m-2 0h2m2 0h2m4 0h2m-1 0h2m7 0h2m4 0h2m-1 0h2m0 0h2m-1 0h2m0 0h2m-32 1h2m4 0h2m15 0h2m-20 1h2m3 0h2m6 0h2m1 0h2m-1 0h2m2 0h2m-2 0h2m-17 1h2m-2 0h2m18 0h2m-28 1h2m-1 0h2m2 0h2m-2 0h2m12 0h2m1 0h2m3 0h2m-31 1h2m-1 0h2m4 0h2m-1 0h2m1 0h2m-27 1h2m13 0h2m-1 0h2m-1 0h2m0 0h2m10 0h2m12 0h2m-50 1h2m15 0h2m0 0h2m-1 0h2m1 0h2m1 0h2m0 1h2m-2 0h2m0 0h2m0 0h2m-1 0h2m-31 1h2m8 0h2m5 0h2m15 0h2m-15 1h2m0 0h2m5 0h2m-30 1h2m4 0h2m4 0h2m-1 0h2m7 0h2m3 0h2m6 0h2m0 0h2m-36 1h2m-1 0h2m-3 1h2m3 0h2m14 0h2m-14 1h2m35 0h2m-35 1h2m18 0h2m-28 2h2m-9 1h2m5 0h2m-3 1h2m-11 1h2m11 0h2m-14 1h2m14 2h2m-12 3h2m6 4h2m16 1h2m-45 1h2m16 1h2" stroke="#bfbfbf" stroke-opacity="0.25" stroke-width="2.0" fill="none"/><path d="M1051 128h2m-19 6h2m12 2h2m-12 3h2m3 0h2m15 0h2m-12 2h2m-20 2h2m5 0h2m2 0h2m13 0h2m-1 0h2m-31 1h2m3 0h2m5 1h2m-2 0h2m3 0h2m1 0h2m-17 1h2m6 0h2m7 2h2m-2 0h2m13 0h2m-28 1h2m5 1h2m9 0h2m-39 1h2m5 0h2m12 0h2m-30 1h2m19 0h2m-2 0h2m7 0h2m0 0h2m-1 0h2m-23 1h2m3 0h2m2 0h2m0 0h2m3 0h2m10 0h2m2 0h2m-30 1h2m2 0h2m0 0h2m8 0h2m-23 1h2m18 0h2m3 0h2m-21 1h2m2 0h2m0 0h2m-2 0h2m5 0h2m1 0h2m3 0h2m-35 1h2m8 0h2m-1 0h2m5 0h2m-2 0h2m-1 0h2m3 0h2m2 0h2m3 0h2m-26 1h2m0 0h2m1 0h2m5 0h2m-10 1h2m0 0h2m10 0h2m0 0h2m2 0h2m-48 1h2m20 0h2m4 0h2m-2 0h2m-2 0h2m13 0h2m-26 1h2m1 0h2m0 0h2m4 0h2m-26 1h2m7 0h2m5 0h2m-1 0h2m8 0h2m5 0h2m9 0h2m-49 1h2m2 0h2m7 0h2m-1 0h2m-1 0h2m-1 0h2m7 0h2m-14 1h2m-1 0h2m6 0h2m-1 0h2m0 0h2m0 0h2m3 0h2m-1 0h2m8 0h2m-40 1h2m3 0h2m-1 0h2m4 0h2m-1 0h2m4 0h2m4 0h2m4 0h2m0 0h2m-30 1h2m0 0h2m11 0h2m0 0h2m3 0h2m-1 0h2m-42 1h2m7 0h2m22 0h2m10 0h2m-25 1h2m0 0h2m-1 0h2m0 0h2m-1 0h2m-2 0h2m7 0h2m14 0h2m-36 1h2m1 0h2m-2 0h2m-1 0h2m1 0h2m16 0h2m-50 1h2m6 0h2m17 0h2m1 0h2m15 0h2m-47 1h2m18 0h2m5 0h2m0 0h2m-25 1h2m16 0h2m1 0h2m9 0h2m-24 1h2m12 0h2m-22 1h2m9 0h2m17 0h2m-20 1h2m3 0h2m2 0h2m4 0h2m-1 0h2m-26 1h2m3 0h2m0 0h2m-1 0h2m0 0h2m7 0h2m5 0h2m-40 1h2m4 0h2m1 0h2m-2 0h2m4 0h2m5 0h2m5 0h2m-33 1h2m4 0h2m1 0h2m0 0h2m0 0h2m24 0h2m-37 1h2m12 0h2m3 0h2m-2 0h2m3 0h2m1 0h2m1 0h2m3 0h2m-39 1h2m14 0h2m-18 1h2m9 0h2m1 0h2m3 1h2m7 0h2m-27 1h2m9 0h2m10 0h2m-8 1h2m-16 1h2m3 0h2m0 0h2m25 0h2m-27 1h2m8 0h2m4 0h2m-37 1h2m20 0h2m21 0h2m-49 1h2m24 0h2m1 0h2m-28 1h2m5 1h2m0 0h2m22 0h2m-41 1h2m12 1h2m-7 2h2m11 2h2m-12 2h2m-7 3h2" stroke="#bfbfbf" stroke-opacity="0.25" stroke-width="2.0" fill="none"/><path d="M1070 126h2m-15 8h2m-8 2h2m0 0h2m10 2h2m-30 3h2m3 1h2m15 0h2m-46 2h2m31 0h2m1 0h2m-24 1h2m4 0h2m28 0h2m-8 1h2m-1 0h2m-45 1h2m18 0h2m-1 0h2m3 0h2m2 0h2m-1 0h2m5 0h2m-1 0h2m-29 1h2m3 0h2m7 0h2m3 0h2m-33 1h2m2 0h2m7 0h2m20 0h2m-17 1h2m-2 0h2m6 0h2m-18 1h2m2 0h2m14 0h2m2 0h2m-24 1h2m11 0h2m7 0h2m-23 1h2m2 0h2m9 0h2m-12 1h2m9 0h2m-18 1h2m6 0h2m14 0h2m-29 1h2m1 0h2m2 0h2m-1 0h2m7 0h2m4 0h2m-26 1h2m0 0h2m8 0h2m0 0h2m-30 1h2m16 0h2m8 0h2m19 0h2m-2 0h2m-64 1h2m23 0h2m7 0h2m-2 0h2m18 0h2m-48 1h2m11 0h2m4 0h2m5 0h2m0 0h2m0 0h2m-1 0h2m-29 1h2m1 0h2m3 0h2m-2 0h2m8 0h2m6 0h2m14 0h2m-31 1h2m-1 0h2m-1 0h2m-1 0h2m-1 0h2m2 0h2m7 0h2m-25 1h2m3 0h2m-1 0h2m5 0h2m-1 0h2m6 0h2m-18 1h2m3 0h2m3 0h2m0 0h2m6 0h2m4 0h2m3 0h2m-40 1h2m-1 0h2m8 0h2m-1 0h2m-1 0h2m-1 0h2m1 0h2m-1 0h2m1 0h2m0 0h2m-2 0h2m6 0h2m-1 0h2m0 0h2m-1 0h2m-40 1h2m5 0h2m-1 0h2m5 0h2m1 0h2m6 0h2m-33 1h2m5 0h2m7 0h2m-1 0h2m3 0h2m1 0h2m5 0h2m-1 0h2m-1 0h2m-31 1h2m4 0h2m2 0h2m5 0h2m14 0h2m11 0h2m-52 1h2m12 0h2m-1 0h2m-22 1h2m-1 0h2m3 0h2m0 0h2m2 0h2m2 0h2m4 0h2m-2 0h2m-2 0h2m7 0h2m-1 0h2m-33 1h2m8 1h2m-1 0h2m5 0h2m1 0h2m-2 0h2m4 0h2m-31 1h2m16 0h2m0 0h2m1 0h2m3 0h2m4 0h2m-33 2h2m-1 0h2m2 0h2m13 0h2m11 0h2m-28 1h2m8 0h2m-37 1h2m13 0h2m5 0h2m6 0h2m-1 0h2m4 0h2m2 0h2m-24 1h2m16 0h2m0 0h2m-19 1h2m3 0h2m-32 1h2m12 0h2m14 0h2m2 0h2m4 0h2m4 0h2m-2 0h2m-20 1h2m12 0h2m-3 1h2m-1 0h2m-1 0h2m-22 1h2m-1 0h2m-1 0h2m-16 1h2m8 0h2m1 0h2m6 0h2m-9 1h2m1 1h2m-12 1h2m11 0h2m-40 1h2m42 1h2m-23 1h2m34 0h2m-21 1h2m1 0h2m6 1h2m-27 1h2m-14 1h2m-1 0h2m3 0h2m17 0h2m-13 1h2m8 3h2m-8 3h2m-2 3h2" stroke="#bfbfbf" stroke-opacity="0.25" stroke-width="2.0" fill="none"/></g>
<g transform="scale(0.5)"><path d="M1057 110h2m8 0h2m-1 5h2m-6 1h2m4 1h2m-22 5h2m14 4h2m-6 2h2m-18 2h2m9 0h2m1 1h2m-1 0h2m-3 1h2m-3 2h2m-12 1h2m4 0h2m2 0h2m-2 1h2m-13 1h2m2 1h2m-9 2h2m5 1h2m3 0h2m-25 1h2m4 0h2m2 1h2m10 0h2m0 0h2m0 0h2m-33 2h2m6 0h2m23 0h2m-15 1h2m5 0h2m-19 2h2m0 0h2m0 0h2m3 0h2m-7 1h2m14 0h2m0 0h2m-12 1h2m-18 1h2m9 0h2m-24 3h2m14 0h2m-13 1h2m-1 0h2m0 0h2m-13 1h2m11 0h2m-12 1h2m17 0h2m0 0h2m5 0h2m-18 1h2m2 0h2m-2 0h2m-11 1h2m0 0h2m-11 1h2m0 1h2m17 0h2m-24 4h2m0 0h2m8 0h2m4 1h2m7 0h2m-42 1h2m16 0h2m4 0h2m-20 2h2m8 0h2m-4 2h2m-3 4h2" stroke="#bfbfbf" stroke-opacity="0.25" stroke-width="2.0" fill="none"/><path d="M1068 105h2m-17 11h2m21 1h2m-13 2h2m-17 5h2m4 0h2m-11 1h2m15 0h2m5 1h2m-32 5h2m4 0h2m17 0h2m2 0h2m-11 1h2m-1 2h2m-19 1h2m-1 0h2m13 0h2m-17 1h2m-2 0h2m1 0h2m4 0h2m6 1h2m-26 1h2m11 0h2m-1 0h2m-11 1h2m6 1h2m7 0h2m9 0h2m-28 1h2m1 0h2m5 0h2m-1 0h2m-15 1h2m-1 0h2m7 0h2m1 0h2m4 0h2m-37 1h2m4 2h2m0 0h2m11 0h2m4 0h2m-21 1h2m8 0h2m2 0h2m3 0h2m-12 1h2m-4 1h2m10 0h2m-12 1h2m4 1h2m-6 1h2m0 1h2m-4 1h2m-6 1h2m1 0h2m-6 2h2m-1 0h2m-2 0h2m0 0h2m-16 4h2m2 0h2m1 0h2m-8 1h2m10 2h2m-13 1h2m-5 2h2m-6 3h2m-2 1h2m-11 8h2m3 2h2m11 3h2m-33 2h2" stroke="#bfbfbf" stroke-opacity="0.25" stroke-width="2.0" fill="none"/><path d="M1054 117h2m-1 0h2m-7 2h2m14 2h2m-17 3h2m3 2h2m-14 1h2m16 0h2m-20 1h2m8 0h2m2 1h2m-5 1h2m-12 2h2m7 1h2m-2 1h2m-12 1h2m10 0h2m-11 1h2m-5 1h2m6 0h2m5 0h2m-34 1h2m16 0h2m15 0h2m-22 1h2m17 0h2m-20 2h2m-11 1h2m2 1h2m0 0h2m10 0h2m-19 1h2m6 0h2m4 0h2m-7 1h2m6 0h2m-19 1h2m3 1h2m-2 0h2m1 0h2m9 1h2m-22 1h2m10 0h2m-29 1h2m21 0h2m3 1h2m3 0h2m-23 1h2m0 0h2m14 0h2m-22 1h2m4 0h2m-2 1h2m2 0h2m0 0h2m-19 1h2m3 1h2m9 1h2m-8 1h2m15 0h2m-26 1h2m10 0h2m2 0h2m4 1h2m-27 1h2m16 0h2m-6 3h2m-4 1h2m-12 1h2m2 1h2m8 0h2m8 0h2m-23 4h2m1 1h2m-13 4h2" stroke="#bfbfbf" stroke-opacity="0.25" stroke-width="2.0" fill="none"/><path d="M1049 116h2m3 3h2m3 0h2m17 1h2m-16 1h2m-16 1h2m19 0h2m-28 2h2m-3 1h2m14 0h2m-11 1h2m10 0h2m-9 1h2m5 1h2m1 1h2m3 1h2m-19 1h2m9 1h2m-14 1h2m2 0h2m9 0h2m-13 2h2m0 0h2m-22 1h2m6 1h2m16 0h2m-16 1h2m-6 1h2m-1 0h2m-11 1h2m-9 1h2m5 0h2m4 0h2m15 0h2m-20 1h2m2 0h2m0 0h2m-3 1h2m-15 1h2m11 0h2m-13 1h2m10 0h2m-12 2h2m21 0h2m-23 1h2m5 0h2m0 0h2m1 0h2m-18 1h2m2 0h2m-15 1h2m8 0h2m-14 1h2m10 0h2m2 0h2m0 0h2m-17 2h2m-3 2h2m12 0h2m1 0h2m2 0h2m-25 1h2m5 0h2m-9 1h2m3 0h2m7 0h2m6 2h2m-25 1h2m-1 2h2m-1 0h2m-9 2h2m-2 2h2m-1 0h2m13 3h2m-12 9h2" stroke="#bfbfbf" stroke-opacity="0.25" stroke-width="2.0" fill="none"/></g>
<g transform="scale(0.5)"><path d="M1029 174h2m15 0h2m13 2h2m-32 1h2m3 0h2m24 1h2m0 0h2m-39 4h2m-11 1h2m59 0h2m-36 1h2m15 0h2m-40 1h2m5 0h2m9 0h2m2 0h2m-31 1h2m5 0h2m22 0h2m12 0h2m-23 1h2m9 0h2m-40 1h2m34 0h2m-24 1h2m2 0h2m-27 1h2m36 0h2m1 0h2m-34 1h2m12 0h2m23 0h2m-25 1h2m0 0h2m4 0h2m0 0h2m5 0h2m-22 1h2m0 0h2m-25 1h2m11 0h2m-2 0h2m-1 0h2m1 0h2m3 0h2m-16 1h2m3 0h2m14 0h2m3 0h2m-40 1h2m17 0h2m-2 0h2m6 0h2m11 0h2m-35 1h2m0 0h2m-1 0h2m10 0h2m13 0h2m5 0h2m-41 1h2m4 0h2m8 0h2m-1 0h2m-1 0h2m0 0h2m-1 0h2m2 0h2m3 0h2m-22 1h2m7 0h2m0 0h2m-1 0h2m-1 0h2m20 0h2m-52 1h2m10 0h2m-1 0h2m-1 0h2m-1 0h2m-2 0h2m2 0h2m0 0h2m1 0h2m10 0h2m-32 1h2m2 0h2m-2 0h2m5 0h2m9 0h2m6 0h2m-38 1h2m8 0h2m-1 0h2m6 0h2m0 0h2m-1 0h2m9 0h2m1 0h2m-39 1h2m1 0h2m0 0h2m0 0h2m6 0h2m1 0h2m-1 0h2m-1 0h2m7 0h2m4 0h2m-58 1h2m20 0h2m10 0h2m5 0h2m-1 0h2m2 0h2m-27 1h2m6 0h2m5 0h2m3 0h2m-2 0h2m-1 0h2m-29 1h2m-2 0h2m7 0h2m-1 0h2m10 0h2m-2 0h2m-1 0h2m0 0h2m22 0h2m-50 1h2m13 0h2m-1 0h2m1 0h2m-1 0h2m1 0h2m-2 0h2m16 0h2m-44 1h2m6 0h2m-1 0h2m-1 0h2m-2 0h2m8 0h2m0 0h2m0 0h2m-2 0h2m4 0h2m-37 1h2m5 0h2m2 0h2m3 0h2m0 0h2m-2 0h2m5 0h2m5 0h2m-2 0h2m2 0h2m13 0h2m-61 1h2m3 0h2m6 0h2m2 0h2m2 0h2m21 0h2m11 0h2m-45 1h2m11 0h2m8 0h2m-30 1h2m2 0h2m7 0h2m1 0h2m-22 1h2m9 0h2m-35 1h2m22 0h2m10 0h2m12 0h2m-2 0h2m0 0h2m3 0h2m-15 1h2m8 0h2m-33 1h2m1 0h2m18 0h2m-37 1h2m5 1h2m4 0h2m2 1h2m27 0h2m-34 1h2m-8 1h2m11 0h2m-8 1h2m8 0h2m14 0h2m-18 1h2m-16 17h2" stroke="#bfbfbf" stroke-opacity="0.3" stroke-width="2.0" fill="none"/><path d="M1051 168h2m-33 3h2m19 6h2m-11 1h2m41 0h2m-29 1h2m6 1h2m-25 1h2m23 0h2m-20 3h2m-40 1h2m18 0h2m3 1h2m29 0h2m-58 1h2m26 0h2m2 0h2m1 0h2m-12 1h2m7 0h2m8 0h2m0 0h2m-1 0h2m-26 1h2m12 0h2m-25 1h2m12 0h2m7 0h2m7 0h2m-46 1h2m27 0h2m-15 1h2m3 0h2m6 0h2m1 0h2m0 0h2m-22 1h2m4 0h2m1 0h2m-1 0h2m4 0h2m8 0h2m-35 1h2m1 0h2m2 0h2m-1 0h2m7 0h2m2 0h2m-1 0h2m-2 0h2m3 0h2m8 0h2m-54 1h2m26 0h2m-2 0h2m7 0h2m-1 0h2m3 0h2m1 0h2m-19 1h2m-1 0h2m-2 0h2m2 0h2m4 0h2m-1 0h2m-24 1h2m9 0h2m8 0h2m11 0h2m-47 1h2m2 0h2m11 0h2m-2 0h2m1 0h2m0 0h2m-26 1h2m16 0h2m1 0h2m18 0h2m-38 1h2m7 0h2m-2 0h2m0 0h2m0 0h2m1 0h2m-1 0h2m6 0h2m0 0h2m10 0h2m-33 1h2m-2 0h2m1 0h2m-2 0h2m-1 0h2m1 0h2m-1 0h2m-35 1h2m6 0h2m40 0h2m-34 1h2m12 0h2m9 0h2m-1 0h2m-2 0h2m0 0h2m-41 1h2m0 0h2m0 0h2m7 0h2m4 0h2m5 0h2m-1 0h2m-1 0h2m-1 0h2m-27 1h2m6 0h2m-2 0h2m4 0h2m5 0h2m13 0h2m0 0h2m-44 1h2m-2 0h2m-1 0h2m-2 0h2m9 0h2m2 0h2m9 0h2m2 0h2m4 0h2m-54 1h2m4 0h2m15 0h2m1 0h2m5 0h2m7 0h2m-2 0h2m15 0h2m-30 1h2m5 0h2m0 0h2m-2 0h2m-42 1h2m19 0h2m3 0h2m0 0h2m0 0h2m0 0h2m6 0h2m9 0h2m6 0h2m-39 1h2m9 0h2m1 0h2m1 0h2m-2 0h2m-33 1h2m0 0h2m1 0h2m-1 0h2m10 0h2m3 0h2m20 0h2m-53 1h2m6 0h2m0 0h2m3 0h2m14 0h2m4 0h2m-22 1h2m5 0h2m5 0h2m-24 2h2m2 0h2m12 0h2m-1 0h2m5 0h2m8 0h2m-24 1h2m-30 1h2m9 0h2m19 0h2m7 0h2m-28 1h2m8 0h2m-5 1h2m12 0h2m-17 1h2m-32 1h2m33 0h2m27 0h2m-66 1h2m25 0h2m-27 1h2m31 0h2m-27 1h2m4 0h2m30 3h2m-29 1h2m-4 11h2" stroke="#bfbfbf" stroke-opacity="0.3" stroke-width="2.0" fill="none"/><path d="M1022 172h2m11 3h2m-3 2h2m-32 2h2m19 0h2m12 1h2m14 0h2m-3 1h2m-4 1h2m-25 2h2m-1 1h2m12 0h2m11 0h2m-41 1h2m21 0h2m7 0h2m-36 2h2m9 0h2m4 0h2m23 0h2m-60 1h2m56 0h2m-46 1h2m5 0h2m10 0h2m-17 1h2m9 0h2m13 0h2m-33 1h2m13 0h2m27 0h2m-76 1h2m33 0h2m3 0h2m-2 0h2m1 0h2m24 0h2m-27 1h2m16 0h2m17 0h2m-63 1h2m7 0h2m0 0h2m0 0h2m1 0h2m2 0h2m7 0h2m2 0h2m-2 0h2m-1 0h2m-36 1h2m1 0h2m9 0h2m-2 0h2m-2 0h2m8 0h2m7 0h2m6 0h2m-63 1h2m28 0h2m-2 0h2m12 0h2m4 0h2m4 0h2m-2 0h2m1 0h2m-34 1h2m10 0h2m-16 1h2m3 0h2m0 0h2m1 0h2m2 0h2m0 0h2m1 0h2m1 0h2m2 0h2m-1 0h2m5 0h2m-66 1h2m27 0h2m10 0h2m-2 0h2m0 0h2m10 0h2m-51 1h2m9 0h2m0 0h2m-1 0h2m3 0h2m21 0h2m7 0h2m16 0h2m-54 1h2m17 0h2m0 0h2m-18 1h2m13 0h2m1 0h2m-24 1h2m14 0h2m-16 1h2m0 0h2m2 0h2m-2 0h2m2 0h2m-1 0h2m2 0h2m3 0h2m9 0h2m-29 1h2m1 0h2m7 0h2m17 0h2m-44 1h2m27 0h2m2 0h2m0 0h2m5 0h2m-46 1h2m-2 0h2m-1 0h2m0 0h2m2 0h2m8 0h2m6 0h2m1 0h2m3 0h2m3 0h2m-60 1h2m21 0h2m0 0h2m5 0h2m-1 0h2m17 0h2m-44 1h2m2 0h2m6 0h2m14 0h2m1 0h2m9 0h2m4 0h2m-34 1h2m4 0h2m2 0h2m4 0h2m11 0h2m-57 1h2m24 0h2m6 0h2m9 0h2m-28 1h2m8 0h2m0 0h2m1 0h2m5 0h2m0 0h2m-18 1h2m2 0h2m3 0h2m2 0h2m9 0h2m6 0h2m-49 1h2m21 0h2m4 0h2m3 0h2m-38 1h2m7 0h2m5 0h2m0 0h2m0 0h2m2 0h2m-28 1h2m4 0h2m23 0h2m19 0h2m-42 1h2m0 0h2m10 0h2m8 0h2m23 0h2m-64 1h2m24 0h2m-14 1h2m12 0h2m7 0h2m-30 2h2m7 0h2m-6 1h2m14 0h2m-1 1h2m-20 2h2m-17 3h2m1 0h2m32 0h2m-29 2h2m-22 1h2m23 2h2m-3 3h2" stroke="#bfbfbf" stroke-opacity="0.3" stroke-width="2.0" fill="none"/><path d="M1045 167h2m-6 9h2m-7 1h2m-5 2h2m1 1h2m-5 2h2m7 0h2m-21 1h2m6 0h2m0 0h2m9 0h2m-24 2h2m9 0h2m3 0h2m7 0h2m1 0h2m-43 1h2m11 0h2m2 0h2m3 0h2m18 0h2m-29 2h2m4 0h2m1 1h2m1 0h2m-1 0h2m-1 0h2m8 0h2m3 0h2m-30 1h2m6 0h2m21 0h2m-47 1h2m8 0h2m-20 1h2m10 0h2m2 0h2m3 0h2m1 0h2m13 0h2m-23 1h2m3 0h2m2 0h2m0 1h2m7 0h2m9 0h2m-1 0h2m1 0h2m2 0h2m-40 1h2m7 0h2m2 0h2m0 0h2m0 0h2m18 0h2m-62 1h2m37 0h2m3 0h2m-45 1h2m1 0h2m6 0h2m-1 0h2m10 0h2m-1 0h2m13 0h2m-48 1h2m8 0h2m2 0h2m-1 0h2m-1 0h2m8 0h2m2 0h2m9 0h2m5 0h2m16 0h2m-66 1h2m4 0h2m21 0h2m-1 0h2m5 0h2m11 0h2m-47 1h2m2 0h2m4 0h2m6 0h2m1 0h2m2 0h2m23 0h2m-47 1h2m3 0h2m4 0h2m6 0h2m0 0h2m6 0h2m-27 1h2m0 0h2m1 0h2m-2 0h2m-1 0h2m0 0h2m-1 0h2m1 0h2m1 0h2m11 0h2m10 0h2m-51 1h2m0 0h2m1 0h2m1 0h2m7 0h2m1 0h2m1 0h2m7 0h2m-46 1h2m7 0h2m3 0h2m-1 0h2m-1 0h2m8 0h2m-14 1h2m5 0h2m5 0h2m-2 0h2m5 0h2m2 0h2m-25 1h2m7 0h2m1 0h2m0 0h2m0 0h2m43 0h2m-81 1h2m11 0h2m-1 0h2m4 0h2m17 0h2m-19 1h2m4 0h2m20 0h2m-45 1h2m2 0h2m11 0h2m7 0h2m1 0h2m0 0h2m10 0h2m-30 1h2m0 0h2m5 0h2m3 0h2m0 0h2m1 0h2m1 0h2m1 0h2m-20 1h2m20 0h2m-50 1h2m-1 0h2m22 0h2m0 0h2m-25 1h2m15 0h2m16 0h2m-1 0h2m-41 1h2m8 0h2m2 0h2m0 0h2m6 0h2m-23 1h2m0 0h2m0 0h2m2 0h2m30 0h2m-47 1h2m-18 1h2m12 0h2m22 0h2m0 0h2m-2 0h2m-19 1h2m6 0h2m2 0h2m0 0h2m3 0h2m-33 1h2m13 0h2m2 0h2m-21 1h2m21 0h2m-10 1h2m2 0h2m-31 1h2m24 0h2m-2 1h2m6 0h2m0 1h2m-39 1h2m1 10h2m35 1h2" stroke="#bfbfbf" stroke-opacity="0.3" stroke-width="2.0" fill="none"/></g>
<g transform="scale(0.5)"><path d="M1010 214h2m2 2h2m10 1h2m6 0h2m-68 1h2m43 0h2m-19 1h2m3 0h2m-2 0h2m3 0h2m16 0h2m-49 1h2m9 0h2m4 0h2m-2 0h2m5 0h2m2 0h2m3 0h2m8 0h2m1 0h2m-45 1h2m6 0h2m3 0h2m-2 0h2m8 0h2m3 0h2m12 0h2m1 0h2m-43 1h2m3 0h2m4 0h2m-1 0h2m2 0h2m-1 0h2m-2 0h2m-1 0h2m-1 0h2m1 0h2m-2 0h2m-2 0h2m1 0h2m0 0h2m2 0h2m-42 1h2m6 0h2m15 0h2m2 0h2m-1 0h2m0 0h2m-1 0h2m2 0h2m0 0h2m-1 0h2m10 0h2m13 0h2m-62 1h2m0 0h2m3 0h2m-2 0h2m-2 0h2m0 0h2m2 0h2m-2 0h2m0 0h2m-1 0h2m3 0h2m0 0h2m-1 0h2m0 0h2m-1 0h2m2 0h2m2 0h2m6 0h2m5 0h2m-77 1h2m17 0h2m1 0h2m8 0h2m-1 0h2m-1 0h2m6 0h2m-2 0h2m2 0h2m-1 0h2m-2 0h2m-1 0h2m-2 0h2m-1 0h2m-1 0h2m-1 0h2m-2 0h2m0 0h2m-1 0h2m-1 0h2m2 0h2m-1 0h2m-2 0h2m-2 0h2m-2 0h2m-1 0h2m-1 0h2m4 0h2m1 0h2m-52 1h2m0 0h2m2 0h2m3 0h2m6 0h2m0 0h2m-2 0h2m-2 0h2m0 0h2m-1 0h2m0 0h2m-2 0h2m4 0h2m-2 0h2m-1 0h2m-2 0h2m-1 0h2m-2 0h2m-2 0h2m-2 0h2m0 0h2m3 0h2m0 0h2m-2 0h2m-1 0h2m8 0h2m7 0h2m-81 1h2m3 0h2m8 0h2m3 0h2m11 0h2m-2 0h2m-1 0h2m-1 0h2m0 0h2m-2 0h2m-1 0h2m-2 0h2m4 0h2m-2 0h2m-2 0h2m-1 0h2m-2 0h2m-2 0h2m0 0h2m0 0h2m-1 0h2m-2 0h2m-1 0h2m-2 0h2m-1 0h2m-2 0h2m0 0h2m-2 0h2m-1 0h2m-1 0h2m2 0h2m-61 1h2m0 0h2m1 0h2m5 0h2m0 0h2m0 0h2m-1 0h2m1 0h2m-1 0h2m-1 0h2m0 0h2m0 0h2m-2 0h2m0 0h2m-1 0h2m-1 0h2m-2 0h2m0 0h2m-2 0h2m-1 0h2m0 0h2m-1 0h2m-1 0h2m-2 0h2m-1 0h2m-1 0h2m1 0h2m-1 0h2m-1 0h2m0 0h2m-2 0h2m-2 0h2m-1 0h2m-1 0h2m-1 0h2m3 0h2m2 0h2m1 0h2m-1 0h2m-53 1h2m10 0h2m2 0h2m0 0h2m-1 0h2m-1 0h2m-1 0h2m-1 0h2m-1 0h2m1 0h2m-2 0h2m0 0h2m-2 0h2m-1 0h2m-2 0h2m-2 0h2m-2 0h2m-2 0h2m0 0h2m0 0h2m-2 0h2m-2 0h2m-1 0h2m-1 0h2m-1 0h2m-1 0h2m1 0h2m-1 0h2m-1 0h2m-1 0h2m-1 0h2m2 0h2m7 0h2m16 0h2m-85 1h2m4 0h2m1 0h2m0 0h2m-1 0h2m-1 0h2m2 0h2m-2 0h2m-1 0h2m-2 0h2m-1 0h2m-1 0h2m-1 0h2m0 0h2m0 0h2m-1 0h2m-2 0h2m-1 0h2m-1 0h2m-1 0h2m-1 0h2m-1 0h2m-2 0h2m-1 0h2m0 0h2m-2 0h2m-2 0h2m-1 0h2m1 0h2m0 0h2m-1 0h2m4 0h2m0 0h2m3 0h2m-50 1h2m-1 0h2m1 0h2m-2 0h2m0 0h2m1 0h2m1 0h2m-1 0h2m-1 0h2m0 0h2m-2 0h2m-1 0h2m-2 0h2m-2 0h2m-2 0h2m-1 0h2m-2 0h2m-1 0h2m-1 0h2m-1 0h2m-1 0h2m-1 0h2m-2 0h2m-1 0h2m-1 0h2m-2 0h2m-1 0h2m-1 0h2m-2 0h2m-1 0h2m-2 0h2m-1 0h2m-2 0h2m-2 0h2m-1 0h2m-2 0h2m-2 0h2m-2 0h2m-1 0h2m-1 0h2m-2 0h2m-1 0h2m2 0h2m-2 0h2m-2 0h2m0 0h2m-1 0h2m-2 0h2m-2 0h2m-2 0h2m-1 0h2m-1 0h2m3 0h2m12 0h2m-60 1h2m-1 0h2m-1 0h2m-1 0h2m2 0h2m-2 0h2m-1 0h2m-1 0h2m-1 0h2m-2 0h2m-1 0h2m-2 0h2m0 0h2m-1 0h2m-2 0h2m-2 0h2m-2 0h2m0 0h2m-2 0h2m-2 0h2m-1 0h2m-2 0h2m1 0h2m-1 0h2m2 0h2m-2 0h2m-1 0h2m-1 0h2m0 0h2m-1 0h2m-1 0h2m-2 0h2m0 0h2m1 0h2m1 0h2m6 0h2m4 0h2m-68 1h2m0 0h2m-1 0h2m0 0h2m0 0h2m6 0h2m-1 0h2m-1 0h2m-1 0h2m-2 0h2m0 0h2m-1 0h2m0 0h2m1 0h2m0 0h2m-2 0h2m0 0h2m-2 0h2m-1 0h2m4 0h2m-2 0h2m-1 0h2m1 0h2m-1 0h2m14 0h2m0 0h2m5 0h2m-69 1h2m1 0h2m-2 0h2m2 0h2m2 0h2m0 0h2m-1 0h2m-1 0h2m-1 0h2m-1 0h2m1 0h2m-2 0h2m-1 0h2m-2 0h2m-1 0h2m-2 0h2m-1 0h2m0 0h2m-2 0h2m3 0h2m-1 0h2m-1 0h2m-1 0h2m-2 0h2m-1 0h2m-1 0h2m-1 0h2m-1 0h2m-1 0h2m-1 0h2m0 0h2m0 0h2m0 0h2m-2 0h2m-1 0h2m-1 0h2m-1 0h2m13 0h2m-69 1h2m0 0h2m5 0h2m2 0h2m-1 0h2m0 0h2m0 0h2m-1 0h2m-2 0h2m-1 0h2m0 0h2m-2 0h2m-1 0h2m-2 0h2m1 0h2m-2 0h2m2 0h2m1 0h2m-1 0h2m-1 0h2m2 0h2m1 0h2m-1 0h2m-2 0h2m-1 0h2m-1 0h2m-2 0h2m-1 0h2m-2 0h2m-1 0h2m-2 0h2m-2 0h2m-1 0h2m-1 0h2m0 0h2m1 0h2m0 0h2m-1 0h2m-2 0h2m-1 0h2m7 0h2m-59 1h2m1 0h2m2 0h2m-1 0h2m1 0h2m-1 0h2m-1 0h2m1 0h2m1 0h2m-2 0h2m0 0h2m-2 0h2m2 0h2m-1 0h2m0 0h2m1 0h2m0 0h2m3 0h2m3 0h2m5 0h2m-53 1h2m4 0h2m0 0h2m0 0h2m0 0h2m-1 0h2m-1 0h2m-1 0h2m-2 0h2m0 0h2m-1 0h2m-2 0h2m-2 0h2m-2 0h2m-2 0h2m2 0h2m0 0h2m-2 0h2m0 0h2m-1 0h2m-1 0h2m-1 0h2m0 0h2m-1 0h2m-1 0h2m2 0h2m0 0h2m1 0h2m0 0h2m1 0h2m0 0h2m-51 1h2m1 0h2m1 0h2m5 0h2m-2 0h2m0 0h2m-1 0h2m2 0h2m-2 0h2m-1 0h2m-1 0h2m3 0h2m2 0h2m-1 0h2m1 0h2m5 0h2m1 0h2m-1 0h2m0 0h2m-1 0h2m-44 1h2m-2 0h2m-2 0h2m1 0h2m1 0h2m-2 0h2m-1 0h2m1 0h2m1 0h2m6 0h2m3 0h2m-2 0h2m-1 0h2m1 0h2m-1 0h2m10 0h2m-2 0h2m-58 1h2m6 0h2m5 0h2m-1 0h2m2 0h2m-1 0h2m2 0h2m-2 0h2m3 0h2m0 0h2m-2 0h2m28 0h2m-66 1h2m-2 0h2m4 0h2m9 0h2m0 0h2m1 0h2m-1 0h2m-1 0h2m-1 0h2m2 0h2m-2 0h2m4 0h2m-2 0h2m5 0h2m0 0h2m15 0h2m-67 1h2m-2 0h2m18 0h2m7 0h2m2 0h2m0 0h2m2 0h2m11 0h2m-39 1h2m2 0h2m-1 0h2m3 0h2m-1 0h2m5 0h2m-27 1h2m13 0h2m11 0h2m-16 2h2m12 0h2" stroke="#bfbfbf" stroke-opacity="0.2" stroke-width="2.0" fill="none"/><path d="M1022 211h2m-13 2h2m22 0h2m-54 2h2m25 0h2m9 0h2m0 0h2m1 1h2m-16 1h2m-17 1h2m5 0h2m4 0h2m32 0h2m-52 1h2m4 0h2m1 0h2m5 0h2m13 0h2m10 0h2m-52 1h2m13 0h2m10 0h2m2 0h2m5 0h2m1 0h2m-1 0h2m-51 1h2m9 0h2m-2 0h2m12 0h2m-2 0h2m0 0h2m-1 0h2m6 0h2m-2 0h2m-1 0h2m-2 0h2m2 0h2m5 0h2m0 0h2m-58 1h2m6 0h2m11 0h2m-1 0h2m-2 0h2m1 0h2m2 0h2m5 0h2m-1 0h2m-1 0h2m-1 0h2m3 0h2m1 0h2m-43 1h2m4 0h2m1 0h2m0 0h2m-2 0h2m-1 0h2m-1 0h2m-1 0h2m3 0h2m0 0h2m3 0h2m-2 0h2m-1 0h2m1 0h2m-2 0h2m3 0h2m-2 0h2m21 0h2m-57 1h2m-2 0h2m-2 0h2m2 0h2m-2 0h2m0 0h2m2 0h2m-2 0h2m2 0h2m1 0h2m0 0h2m4 0h2m-2 0h2m3 0h2m2 0h2m-2 0h2m-53 1h2m8 0h2m6 0h2m-2 0h2m2 0h2m-2 0h2m-2 0h2m-1 0h2m-1 0h2m0 0h2m0 0h2m3 0h2m-1 0h2m-1 0h2m-2 0h2m-1 0h2m-2 0h2m0 0h2m2 0h2m-1 0h2m-1 0h2m6 0h2m-2 0h2m2 0h2m1 0h2m-2 0h2m-55 1h2m-2 0h2m4 0h2m3 0h2m-2 0h2m-1 0h2m0 0h2m-2 0h2m-1 0h2m0 0h2m-2 0h2m2 0h2m0 0h2m-1 0h2m-1 0h2m-1 0h2m1 0h2m-1 0h2m-1 0h2m-2 0h2m0 0h2m-1 0h2m-2 0h2m-2 0h2m1 0h2m-2 0h2m-1 0h2m-2 0h2m-1 0h2m-1 0h2m-2 0h2m-2 0h2m0 0h2m7 0h2m-1 0h2m1 0h2m0 0h2m-61 1h2m5 0h2m0 0h2m4 0h2m0 0h2m-2 0h2m-2 0h2m-1 0h2m-2 0h2m0 0h2m3 0h2m-1 0h2m-1 0h2m-2 0h2m-1 0h2m-1 0h2m-2 0h2m-1 0h2m-2 0h2m-2 0h2m-1 0h2m-2 0h2m-1 0h2m0 0h2m-1 0h2m-1 0h2m-2 0h2m2 0h2m-2 0h2m-1 0h2m-2 0h2m0 0h2m0 0h2m-1 0h2m-1 0h2m5 0h2m-58 1h2m7 0h2m2 0h2m1 0h2m-1 0h2m2 0h2m-1 0h2m-2 0h2m0 0h2m-2 0h2m-1 0h2m0 0h2m-2 0h2m-1 0h2m-2 0h2m-1 0h2m0 0h2m-1 0h2m-2 0h2m-1 0h2m-2 0h2m-2 0h2m2 0h2m-1 0h2m-1 0h2m-1 0h2m-2 0h2m0 0h2m-2 0h2m0 0h2m-2 0h2m-1 0h2m-1 0h2m-1 0h2m1 0h2m-1 0h2m-1 0h2m1 0h2m-2 0h2m6 0h2m0 0h2m-77 1h2m8 0h2m11 0h2m2 0h2m-1 0h2m-2 0h2m-1 0h2m0 0h2m-1 0h2m1 0h2m1 0h2m-2 0h2m-1 0h2m-2 0h2m0 0h2m-2 0h2m-2 0h2m-1 0h2m-1 0h2m-1 0h2m2 0h2m-1 0h2m2 0h2m-1 0h2m0 0h2m-1 0h2m1 0h2m-2 0h2m-1 0h2m0 0h2m1 0h2m2 0h2m-61 1h2m4 0h2m1 0h2m-1 0h2m-2 0h2m0 0h2m1 0h2m0 0h2m0 0h2m-2 0h2m1 0h2m-1 0h2m-1 0h2m-1 0h2m-1 0h2m-2 0h2m1 0h2m-1 0h2m-2 0h2m-1 0h2m0 0h2m0 0h2m4 0h2m5 0h2m-2 0h2m-1 0h2m-2 0h2m-1 0h2m0 0h2m0 0h2m-2 0h2m10 0h2m4 0h2m-76 1h2m0 0h2m4 0h2m-1 0h2m-1 0h2m3 0h2m-2 0h2m-1 0h2m-2 0h2m-1 0h2m5 0h2m-1 0h2m-1 0h2m-2 0h2m-2 0h2m-2 0h2m1 0h2m-2 0h2m-1 0h2m1 0h2m-1 0h2m-2 0h2m-2 0h2m-1 0h2m-1 0h2m-2 0h2m0 0h2m-2 0h2m16 0h2m16 0h2m-75 1h2m5 0h2m-1 0h2m-1 0h2m-1 0h2m-1 0h2m-1 0h2m4 0h2m-2 0h2m-1 0h2m-1 0h2m-2 0h2m-2 0h2m0 0h2m-2 0h2m-2 0h2m-1 0h2m0 0h2m-2 0h2m-2 0h2m1 0h2m-1 0h2m-2 0h2m-1 0h2m0 0h2m-2 0h2m0 0h2m-1 0h2m-1 0h2m-1 0h2m0 0h2m-2 0h2m-1 0h2m-2 0h2m0 0h2m-2 0h2m-1 0h2m2 0h2m7 0h2m-2 0h2m-71 1h2m20 0h2m-2 0h2m2 0h2m-1 0h2m-2 0h2m-1 0h2m-1 0h2m-1 0h2m-1 0h2m-1 0h2m-1 0h2m-1 0h2m-1 0h2m-1 0h2m-2 0h2m0 0h2m0 0h2m-1 0h2m-2 0h2m-1 0h2m-2 0h2m0 0h2m-2 0h2m-2 0h2m2 0h2m5 0h2m-1 0h2m-2 0h2m-1 0h2m1 0h2m-45 1h2m-1 0h2m8 0h2m-1 0h2m-1 0h2m-2 0h2m0 0h2m0 0h2m0 0h2m-2 0h2m-1 0h2m-2 0h2m0 0h2m-1 0h2m0 0h2m-1 0h2m2 0h2m-2 0h2m-2 0h2m-1 0h2m-1 0h2m-2 0h2m-1 0h2m2 0h2m-1 0h2m-1 0h2m0 0h2m-1 0h2m0 0h2m1 0h2m0 0h2m-1 0h2m-57 1h2m6 0h2m-2 0h2m-1 0h2m-2 0h2m0 0h2m0 0h2m-1 0h2m-1 0h2m-1 0h2m-1 0h2m0 0h2m0 0h2m0 0h2m-1 0h2m-2 0h2m-1 0h2m0 0h2m1 0h2m-2 0h2m2 0h2m-1 0h2m-2 0h2m-2 0h2m-1 0h2m7 0h2m-1 0h2m3 0h2m3 0h2m1 0h2m-1 0h2m-65 1h2m1 0h2m2 0h2m0 0h2m-1 0h2m1 0h2m-2 0h2m-1 0h2m0 0h2m-2 0h2m2 0h2m1 0h2m-1 0h2m2 0h2m1 0h2m-1 0h2m-1 0h2m0 0h2m-1 0h2m-2 0h2m-1 0h2m-1 0h2m0 0h2m-2 0h2m1 0h2m-2 0h2m1 0h2m-1 0h2m5 0h2m-54 1h2m2 0h2m-1 0h2m-2 0h2m4 0h2m-2 0h2m1 0h2m-2 0h2m-1 0h2m-1 0h2m-1 0h2m-2 0h2m0 0h2m4 0h2m1 0h2m-2 0h2m-1 0h2m1 0h2m-2 0h2m1 0h2m0 0h2m2 0h2m-2 0h2m-1 0h2m-2 0h2m-1 0h2m1 0h2m2 0h2m-56 1h2m-1 0h2m2 0h2m5 0h2m-2 0h2m-1 0h2m0 0h2m-2 0h2m-1 0h2m0 0h2m-2 0h2m-1 0h2m-2 0h2m6 0h2m-1 0h2m-1 0h2m-2 0h2m-1 0h2m3 0h2m-1 0h2m-2 0h2m-1 0h2m2 0h2m6 0h2m0 0h2m-1 0h2m-47 1h2m0 0h2m-1 0h2m4 0h2m11 0h2m5 0h2m0 0h2m-2 0h2m-1 0h2m0 0h2m9 0h2m-2 0h2m0 0h2m-48 1h2m1 0h2m13 0h2m-2 0h2m3 0h2m0 0h2m2 0h2m4 0h2m4 0h2m1 0h2m-59 1h2m1 0h2m0 0h2m-2 0h2m11 0h2m1 0h2m-1 0h2m-1 0h2m-1 0h2m-1 0h2m8 0h2m3 0h2m9 0h2m-47 1h2m5 0h2m0 0h2m-1 0h2m-1 0h2m0 0h2m0 0h2m-1 0h2m7 0h2m2 0h2m-2 0h2m-19 1h2m1 0h2m-2 0h2m6 0h2m2 0h2m4 0h2m-35 1h2m1 0h2m35 0h2m-23 1h2m16 0h2m-23 1h2m27 0h2m-58 1h2" stroke="#bfbfbf" stroke-opacity="0.2" stroke-width="2.0" fill="none"/><path d="M1006 215h2m15 0h2m-54 1h2m28 1h2m33 0h2m-60 1h2m27 0h2m14 0h2m-33 1h2m2 0h2m16 0h2m5 0h2m-41 1h2m6 0h2m6 0h2m-1 0h2m9 0h2m1 0h2m-35 1h2m11 0h2m2 0h2m-1 0h2m4 0h2m-1 0h2m0 0h2m0 0h2m-1 0h2m-2 0h2m3 0h2m10 0h2m3 0h2m-59 1h2m12 0h2m6 0h2m6 0h2m7 0h2m1 0h2m4 0h2m-47 1h2m5 0h2m3 0h2m1 0h2m5 0h2m-2 0h2m5 0h2m4 0h2m-2 0h2m8 0h2m-1 0h2m-47 1h2m0 0h2m0 0h2m3 0h2m0 0h2m1 0h2m-1 0h2m-2 0h2m2 0h2m2 0h2m2 0h2m3 0h2m-1 0h2m0 0h2m8 0h2m0 0h2m14 0h2m-63 1h2m2 0h2m0 0h2m-1 0h2m-2 0h2m1 0h2m-1 0h2m-1 0h2m1 0h2m1 0h2m-1 0h2m-2 0h2m-1 0h2m0 0h2m-1 0h2m0 0h2m-1 0h2m-1 0h2m-2 0h2m1 0h2m0 0h2m-1 0h2m0 0h2m3 0h2m-2 0h2m3 0h2m2 0h2m-79 1h2m18 0h2m-1 0h2m7 0h2m2 0h2m-2 0h2m0 0h2m6 0h2m-1 0h2m-1 0h2m-2 0h2m-2 0h2m-2 0h2m-2 0h2m0 0h2m1 0h2m0 0h2m-1 0h2m-2 0h2m0 0h2m-2 0h2m-2 0h2m1 0h2m2 0h2m3 0h2m2 0h2m0 0h2m7 0h2m-69 1h2m-2 0h2m-1 0h2m7 0h2m0 0h2m3 0h2m1 0h2m0 0h2m-2 0h2m0 0h2m-1 0h2m2 0h2m-1 0h2m-1 0h2m-1 0h2m-1 0h2m-2 0h2m0 0h2m-1 0h2m-1 0h2m-2 0h2m-1 0h2m-1 0h2m-2 0h2m-1 0h2m-2 0h2m-1 0h2m-1 0h2m0 0h2m1 0h2m4 0h2m1 0h2m-2 0h2m-1 0h2m15 0h2m-71 1h2m-1 0h2m1 0h2m-2 0h2m-1 0h2m0 0h2m-1 0h2m0 0h2m-2 0h2m0 0h2m-1 0h2m1 0h2m5 0h2m-2 0h2m0 0h2m1 0h2m1 0h2m-1 0h2m-2 0h2m-1 0h2m0 0h2m-1 0h2m0 0h2m-2 0h2m-2 0h2m-1 0h2m-1 0h2m-1 0h2m3 0h2m-1 0h2m-1 0h2m-2 0h2m9 0h2m-1 0h2m-69 1h2m-1 0h2m-1 0h2m2 0h2m-2 0h2m2 0h2m-1 0h2m0 0h2m2 0h2m-1 0h2m-2 0h2m0 0h2m-1 0h2m-2 0h2m0 0h2m-2 0h2m-1 0h2m-2 0h2m-1 0h2m-2 0h2m-1 0h2m0 0h2m-1 0h2m0 0h2m-2 0h2m-2 0h2m1 0h2m-2 0h2m0 0h2m0 0h2m-2 0h2m0 0h2m-2 0h2m-2 0h2m-2 0h2m-1 0h2m-2 0h2m-1 0h2m-1 0h2m-1 0h2m-1 0h2m-2 0h2m0 0h2m-1 0h2m-1 0h2m-1 0h2m2 0h2m-1 0h2m-1 0h2m5 0h2m6 0h2m-69 1h2m1 0h2m0 0h2m0 0h2m5 0h2m-2 0h2m0 0h2m-2 0h2m-2 0h2m-2 0h2m-2 0h2m-1 0h2m-1 0h2m-1 0h2m-1 0h2m0 0h2m-1 0h2m-1 0h2m-1 0h2m-1 0h2m-2 0h2m0 0h2m-1 0h2m-1 0h2m-2 0h2m-1 0h2m-2 0h2m-1 0h2m0 0h2m-1 0h2m0 0h2m0 0h2m-2 0h2m-1 0h2m1 0h2m-1 0h2m-2 0h2m-2 0h2m0 0h2m3 0h2m-1 0h2m1 0h2m1 0h2m-67 1h2m-1 0h2m1 0h2m1 0h2m-1 0h2m1 0h2m-2 0h2m-1 0h2m2 0h2m-2 0h2m-2 0h2m-1 0h2m-2 0h2m-2 0h2m-1 0h2m-2 0h2m-2 0h2m0 0h2m-1 0h2m-2 0h2m2 0h2m-2 0h2m-1 0h2m-1 0h2m0 0h2m0 0h2m-2 0h2m-1 0h2m-2 0h2m-2 0h2m0 0h2m1 0h2m-2 0h2m-1 0h2m-2 0h2m-1 0h2m0 0h2m-1 0h2m-1 0h2m-1 0h2m-1 0h2m1 0h2m4 0h2m4 0h2m0 0h2m-62 1h2m4 0h2m-2 0h2m-2 0h2m-1 0h2m0 0h2m-1 0h2m-1 0h2m-1 0h2m0 0h2m-2 0h2m-1 0h2m-2 0h2m-2 0h2m0 0h2m-1 0h2m-2 0h2m0 0h2m-2 0h2m-1 0h2m-1 0h2m-1 0h2m-1 0h2m-2 0h2m-1 0h2m-1 0h2m-2 0h2m2 0h2m-2 0h2m-2 0h2m0 0h2m-1 0h2m0 0h2m0 0h2m-1 0h2m-1 0h2m6 0h2m7 0h2m8 0h2m-69 1h2m-2 0h2m5 0h2m-2 0h2m-1 0h2m0 0h2m4 0h2m-2 0h2m-1 0h2m-1 0h2m0 0h2m-2 0h2m4 0h2m-1 0h2m-1 0h2m-2 0h2m-2 0h2m-1 0h2m-1 0h2m-2 0h2m-1 0h2m-1 0h2m0 0h2m0 0h2m-2 0h2m-1 0h2m-2 0h2m2 0h2m-2 0h2m-2 0h2m0 0h2m-1 0h2m-2 0h2m-2 0h2m-2 0h2m-1 0h2m0 0h2m-2 0h2m-1 0h2m-1 0h2m0 0h2m5 0h2m1 0h2m-56 1h2m6 0h2m-2 0h2m-1 0h2m1 0h2m-1 0h2m-2 0h2m-1 0h2m-2 0h2m-1 0h2m-2 0h2m-2 0h2m1 0h2m-2 0h2m-2 0h2m-2 0h2m-2 0h2m2 0h2m0 0h2m-2 0h2m-1 0h2m-2 0h2m-1 0h2m-2 0h2m1 0h2m-1 0h2m-1 0h2m0 0h2m-1 0h2m-1 0h2m0 0h2m5 0h2m12 0h2m-74 1h2m2 0h2m4 0h2m-2 0h2m11 0h2m0 0h2m0 0h2m1 0h2m-1 0h2m-1 0h2m-2 0h2m0 0h2m-1 0h2m-1 0h2m-1 0h2m-2 0h2m0 0h2m-2 0h2m-2 0h2m-1 0h2m0 0h2m-2 0h2m-1 0h2m-1 0h2m-2 0h2m-1 0h2m0 0h2m-2 0h2m4 0h2m0 0h2m0 0h2m-1 0h2m2 0h2m-57 1h2m5 0h2m1 0h2m0 0h2m-1 0h2m-2 0h2m-1 0h2m-2 0h2m-1 0h2m-1 0h2m0 0h2m0 0h2m-1 0h2m0 0h2m0 0h2m-1 0h2m-2 0h2m0 0h2m2 0h2m2 0h2m3 0h2m2 0h2m6 0h2m-1 0h2m1 0h2m0 0h2m-80 1h2m28 0h2m3 0h2m-2 0h2m-2 0h2m2 0h2m0 0h2m-1 0h2m0 0h2m-2 0h2m-2 0h2m-1 0h2m-1 0h2m4 0h2m2 0h2m2 0h2m-2 0h2m3 0h2m-1 0h2m0 0h2m1 0h2m3 0h2m-63 1h2m0 0h2m4 0h2m9 0h2m2 0h2m-2 0h2m3 0h2m0 0h2m4 0h2m3 0h2m-1 0h2m4 0h2m4 0h2m-65 1h2m1 0h2m-2 0h2m-1 0h2m2 0h2m3 0h2m-2 0h2m0 0h2m7 0h2m-2 0h2m2 0h2m1 0h2m2 0h2m-1 0h2m2 0h2m2 0h2m12 0h2m-48 1h2m17 0h2m-1 0h2m-1 0h2m-1 0h2m1 0h2m1 0h2m3 0h2m6 0h2m1 0h2m1 0h2m1 0h2m-65 1h2m16 0h2m0 0h2m-1 0h2m4 0h2m-1 0h2m1 0h2m-1 0h2m0 0h2m4 0h2m4 0h2m5 0h2m-1 0h2m-41 1h2m7 0h2m7 0h2m4 0h2m4 0h2m1 0h2m-2 0h2m-36 1h2m5 0h2m3 0h2m4 0h2m13 0h2m-1 0h2m-36 1h2m15 0h2m5 0h2m-5 1h2m-21 1h2m36 0h2m-27 1h2" stroke="#bfbfbf" stroke-opacity="0.2" stroke-width="2.0" fill="none"/><path d="M1004 214h2m-1 1h2m8 0h2m-36 1h2m16 0h2m12 0h2m-31 1h2m47 0h2m11 0h2m-48 1h2m3 0h2m1 0h2m6 0h2m5 0h2m-2 0h2m12 0h2m-42 1h2m10 0h2m3 0h2m5 0h2m5 0h2m-1 0h2m-1 0h2m-52 1h2m10 0h2m0 0h2m2 0h2m2 0h2m-1 0h2m2 0h2m-2 0h2m2 0h2m1 0h2m-21 1h2m8 0h2m6 0h2m0 0h2m0 0h2m0 0h2m-2 0h2m-1 0h2m-52 1h2m17 0h2m-1 0h2m-2 0h2m3 0h2m3 0h2m1 0h2m-1 0h2m0 0h2m-1 0h2m-1 0h2m5 0h2m2 0h2m2 0h2m20 0h2m-71 1h2m1 0h2m1 0h2m-1 0h2m4 0h2m5 0h2m2 0h2m-1 0h2m0 0h2m3 0h2m-2 0h2m2 0h2m21 0h2m-1 0h2m-49 1h2m-2 0h2m-2 0h2m-1 0h2m2 0h2m2 0h2m0 0h2m-2 0h2m-1 0h2m10 0h2m-1 0h2m-2 0h2m1 0h2m1 0h2m-1 0h2m-2 0h2m10 0h2m-55 1h2m0 0h2m2 0h2m-1 0h2m-2 0h2m-2 0h2m0 0h2m0 0h2m2 0h2m-2 0h2m-1 0h2m-2 0h2m-2 0h2m-2 0h2m-1 0h2m-2 0h2m0 0h2m-1 0h2m1 0h2m-2 0h2m-1 0h2m-2 0h2m0 0h2m0 0h2m2 0h2m4 0h2m-1 0h2m-1 0h2m-1 0h2m-2 0h2m-1 0h2m1 0h2m10 0h2m-64 1h2m5 0h2m2 0h2m-1 0h2m-2 0h2m1 0h2m-2 0h2m1 0h2m-2 0h2m1 0h2m-1 0h2m-2 0h2m-1 0h2m2 0h2m-1 0h2m0 0h2m-2 0h2m-2 0h2m-1 0h2m1 0h2m-1 0h2m-1 0h2m7 0h2m-2 0h2m7 0h2m-65 1h2m10 0h2m3 0h2m-1 0h2m0 0h2m-1 0h2m0 0h2m-1 0h2m-2 0h2m-2 0h2m1 0h2m1 0h2m-2 0h2m-1 0h2m-2 0h2m1 0h2m0 0h2m1 0h2m-1 0h2m0 0h2m-2 0h2m-1 0h2m2 0h2m-1 0h2m-2 0h2m1 0h2m-1 0h2m0 0h2m-1 0h2m1 0h2m-2 0h2m-50 1h2m2 0h2m-1 0h2m-1 0h2m2 0h2m-2 0h2m-1 0h2m2 0h2m-2 0h2m0 0h2m-1 0h2m0 0h2m-1 0h2m-1 0h2m-2 0h2m-1 0h2m-1 0h2m0 0h2m1 0h2m-2 0h2m-1 0h2m2 0h2m-2 0h2m1 0h2m-1 0h2m1 0h2m0 0h2m0 0h2m3 0h2m-63 1h2m4 0h2m-1 0h2m4 0h2m2 0h2m1 0h2m-2 0h2m-2 0h2m0 0h2m-2 0h2m-2 0h2m0 0h2m-1 0h2m2 0h2m-2 0h2m-1 0h2m-2 0h2m-2 0h2m2 0h2m-1 0h2m1 0h2m-1 0h2m-2 0h2m-2 0h2m-1 0h2m-2 0h2m2 0h2m-2 0h2m-1 0h2m-2 0h2m-2 0h2m-1 0h2m0 0h2m-1 0h2m-1 0h2m0 0h2m0 0h2m-1 0h2m1 0h2m-1 0h2m-2 0h2m-58 1h2m8 0h2m0 0h2m0 0h2m-1 0h2m-1 0h2m2 0h2m0 0h2m-2 0h2m-1 0h2m-1 0h2m-1 0h2m-2 0h2m0 0h2m1 0h2m-2 0h2m-1 0h2m-2 0h2m0 0h2m-2 0h2m-2 0h2m-1 0h2m0 0h2m-2 0h2m-1 0h2m-2 0h2m-1 0h2m-2 0h2m-2 0h2m-2 0h2m0 0h2m-1 0h2m2 0h2m3 0h2m2 0h2m1 0h2m-1 0h2m-68 1h2m8 0h2m-2 0h2m0 0h2m2 0h2m-1 0h2m0 0h2m-1 0h2m7 0h2m-1 0h2m-1 0h2m-2 0h2m-2 0h2m-2 0h2m-1 0h2m1 0h2m-1 0h2m-1 0h2m0 0h2m-2 0h2m-1 0h2m-1 0h2m-1 0h2m3 0h2m-1 0h2m-2 0h2m-1 0h2m-2 0h2m-2 0h2m-1 0h2m3 0h2m1 0h2m11 0h2m7 0h2m-78 1h2m1 0h2m1 0h2m4 0h2m0 0h2m-1 0h2m2 0h2m-1 0h2m-2 0h2m-1 0h2m-2 0h2m-1 0h2m-1 0h2m-1 0h2m2 0h2m-1 0h2m-2 0h2m-1 0h2m-1 0h2m2 0h2m-1 0h2m-1 0h2m-1 0h2m-1 0h2m0 0h2m-1 0h2m1 0h2m-1 0h2m2 0h2m0 0h2m1 0h2m-1 0h2m0 0h2m9 0h2m-73 1h2m12 0h2m-1 0h2m0 0h2m3 0h2m-2 0h2m-2 0h2m-1 0h2m-1 0h2m-2 0h2m-1 0h2m0 0h2m-2 0h2m0 0h2m-1 0h2m-2 0h2m0 0h2m-2 0h2m-1 0h2m-2 0h2m4 0h2m-2 0h2m-2 0h2m-1 0h2m-2 0h2m0 0h2m-1 0h2m-2 0h2m1 0h2m-2 0h2m-1 0h2m-2 0h2m-1 0h2m8 0h2m4 0h2m-71 1h2m9 0h2m-1 0h2m-1 0h2m-1 0h2m-1 0h2m0 0h2m-1 0h2m-1 0h2m-2 0h2m-2 0h2m-2 0h2m1 0h2m-2 0h2m-1 0h2m-2 0h2m-1 0h2m1 0h2m-2 0h2m-1 0h2m-1 0h2m1 0h2m-2 0h2m-1 0h2m-1 0h2m-1 0h2m0 0h2m0 0h2m-2 0h2m-1 0h2m0 0h2m-2 0h2m0 0h2m-2 0h2m-1 0h2m-1 0h2m1 0h2m-2 0h2m0 0h2m-1 0h2m-2 0h2m2 0h2m-1 0h2m3 0h2m2 0h2m9 0h2m-85 1h2m17 0h2m1 0h2m-1 0h2m-2 0h2m-1 0h2m-2 0h2m-2 0h2m1 0h2m-1 0h2m1 0h2m-2 0h2m-1 0h2m-2 0h2m-1 0h2m-1 0h2m2 0h2m-1 0h2m-2 0h2m-1 0h2m-2 0h2m-1 0h2m2 0h2m-2 0h2m-1 0h2m-1 0h2m-2 0h2m-2 0h2m-1 0h2m0 0h2m-2 0h2m3 0h2m-2 0h2m-1 0h2m-1 0h2m0 0h2m0 0h2m-2 0h2m4 0h2m-1 0h2m10 0h2m-85 1h2m4 0h2m0 0h2m-1 0h2m4 0h2m-1 0h2m4 0h2m2 0h2m7 0h2m0 0h2m-2 0h2m-2 0h2m-1 0h2m2 0h2m0 0h2m0 0h2m-2 0h2m1 0h2m-2 0h2m-1 0h2m-1 0h2m-1 0h2m-2 0h2m-1 0h2m-1 0h2m-2 0h2m0 0h2m-2 0h2m0 0h2m0 0h2m-1 0h2m4 0h2m4 0h2m-1 0h2m-42 1h2m6 0h2m-2 0h2m3 0h2m4 0h2m-1 0h2m2 0h2m0 0h2m-1 0h2m0 0h2m-2 0h2m-44 1h2m-1 0h2m7 0h2m3 0h2m2 0h2m1 0h2m-1 0h2m0 0h2m-1 0h2m4 0h2m8 0h2m18 0h2m-80 1h2m16 0h2m1 0h2m-1 0h2m5 0h2m-1 0h2m0 0h2m-1 0h2m2 0h2m-1 0h2m2 0h2m-1 0h2m-2 0h2m19 0h2m-56 1h2m0 0h2m1 0h2m6 0h2m1 0h2m1 0h2m2 0h2m2 0h2m-1 0h2m0 0h2m6 0h2m8 0h2m-75 1h2m20 0h2m1 0h2m4 0h2m0 0h2m3 0h2m-1 0h2m3 0h2m1 0h2m0 0h2m-1 0h2m2 0h2m-2 0h2m-1 0h2m-51 1h2m21 0h2m10 0h2m4 0h2m13 0h2m-34 1h2m1 0h2m0 0h2m2 0h2m-1 0h2m2 0h2m1 0h2m11 0h2m0 0h2m-22 1h2m-1 0h2m7 0h2m1 0h2m3 0h2m-47 1h2m27 0h2m-1 0h2m-1 0h2m-14 1h2m2 1h2m1 0h2m16 0h2m-15 1h2m-4 1h2m-14 2h2" stroke="#bfbfbf" stroke-opacity="0.2" stroke-width="2.0" fill="none"/></g>
<g transform="scale(0.5)"><path d="M944 243h2m23 1h2m-33 3h2m1 0h2m5 0h2m-23 1h2m1 0h2m25 0h2m3 0h2m3 0h2m-23 1h2m12 0h2m-39 1h2m7 0h2m31 0h2m6 0h2m13 0h2m-60 1h2m11 0h2m0 0h2m42 0h2m-51 1h2m7 0h2m5 0h2m-1 0h2m16 0h2m6 0h2m-56 1h2m0 0h2m18 0h2m6 0h2m-14 1h2m4 0h2m16 0h2m1 0h2m-1 0h2m-38 1h2m3 0h2m-2 0h2m19 0h2m4 0h2m2 0h2m4 0h2m-73 1h2m16 0h2m7 0h2m-1 0h2m5 0h2m-2 0h2m-1 0h2m0 0h2m1 0h2m-2 0h2m3 0h2m1 0h2m0 0h2m9 0h2m4 0h2m-1 0h2m-76 1h2m19 0h2m14 0h2m-2 0h2m-1 0h2m-2 0h2m-1 0h2m5 0h2m2 0h2m-2 0h2m9 0h2m1 0h2m-55 1h2m9 0h2m0 0h2m6 0h2m0 0h2m-1 0h2m1 0h2m3 0h2m6 0h2m-2 0h2m0 0h2m1 0h2m0 0h2m10 0h2m3 0h2m-63 1h2m9 0h2m-1 0h2m-1 0h2m-1 0h2m-1 0h2m0 0h2m-1 0h2m1 0h2m-1 0h2m-1 0h2m0 0h2m-1 0h2m-2 0h2m0 0h2m1 0h2m-1 0h2m1 0h2m1 0h2m1 0h2m-2 0h2m-1 0h2m-1 0h2m5 0h2m-1 0h2m1 0h2m-2 0h2m-1 0h2m27 0h2m-82 1h2m5 0h2m0 0h2m1 0h2m-1 0h2m4 0h2m3 0h2m-1 0h2m0 0h2m-2 0h2m-2 0h2m-1 0h2m0 0h2m1 0h2m-1 0h2m0 0h2m1 0h2m3 0h2m2 0h2m-2 0h2m-1 0h2m6 0h2m2 0h2m-69 1h2m4 0h2m5 0h2m2 0h2m-2 0h2m0 0h2m-1 0h2m-1 0h2m-2 0h2m-1 0h2m4 0h2m-2 0h2m-2 0h2m-1 0h2m1 0h2m2 0h2m18 0h2m1 0h2m4 0h2m-62 1h2m0 0h2m1 0h2m0 0h2m4 0h2m0 0h2m5 0h2m2 0h2m0 0h2m0 0h2m-1 0h2m3 0h2m-1 0h2m10 0h2m2 0h2m-64 1h2m13 0h2m1 0h2m3 0h2m-2 0h2m3 0h2m-2 0h2m-1 0h2m0 0h2m-2 0h2m1 0h2m-2 0h2m-2 0h2m0 0h2m-2 0h2m-1 0h2m-1 0h2m-1 0h2m-1 0h2m1 0h2m2 0h2m0 0h2m3 0h2m3 0h2m1 0h2m2 0h2m-63 1h2m9 0h2m10 0h2m0 0h2m-1 0h2m-1 0h2m0 0h2m0 0h2m1 0h2m-2 0h2m-1 0h2m0 0h2m-1 0h2m-2 0h2m0 0h2m8 0h2m-71 1h2m22 0h2m3 0h2m2 0h2m-1 0h2m-1 0h2m-2 0h2m1 0h2m2 0h2m-1 0h2m5 0h2m-1 0h2m-1 0h2m-2 0h2m-1 0h2m-1 0h2m-1 0h2m0 0h2m0 0h2m0 0h2m-1 0h2m-2 0h2m-1 0h2m2 0h2m7 0h2m-74 1h2m15 0h2m3 0h2m3 0h2m1 0h2m-1 0h2m0 0h2m4 0h2m0 0h2m-1 0h2m2 0h2m-2 0h2m1 0h2m-2 0h2m1 0h2m6 0h2m-1 0h2m-1 0h2m-2 0h2m0 0h2m9 0h2m3 0h2m-70 1h2m1 0h2m14 0h2m-1 0h2m-1 0h2m-1 0h2m-1 0h2m0 0h2m-1 0h2m3 0h2m-1 0h2m-1 0h2m3 0h2m-1 0h2m-1 0h2m-1 0h2m1 0h2m7 0h2m3 0h2m3 0h2m-62 1h2m3 0h2m-1 0h2m4 0h2m0 0h2m-2 0h2m3 0h2m0 0h2m-1 0h2m0 0h2m-2 0h2m0 0h2m3 0h2m-1 0h2m-2 0h2m-1 0h2m-1 0h2m-1 0h2m1 0h2m0 0h2m-1 0h2m-2 0h2m-2 0h2m-1 0h2m5 0h2m3 0h2m-55 1h2m0 0h2m-1 0h2m-2 0h2m5 0h2m-2 0h2m1 0h2m0 0h2m-1 0h2m0 0h2m1 0h2m0 0h2m-2 0h2m-1 0h2m-2 0h2m-2 0h2m0 0h2m1 0h2m-1 0h2m-2 0h2m-1 0h2m-1 0h2m-2 0h2m9 0h2m9 0h2m-72 1h2m10 0h2m1 0h2m3 0h2m-2 0h2m2 0h2m0 0h2m5 0h2m0 0h2m-2 0h2m-2 0h2m-1 0h2m-1 0h2m0 0h2m1 0h2m3 0h2m2 0h2m1 0h2m-1 0h2m-1 0h2m-2 0h2m-1 0h2m-1 0h2m3 0h2m-2 0h2m-2 0h2m-1 0h2m-56 1h2m-2 0h2m0 0h2m5 0h2m-1 0h2m0 0h2m-1 0h2m-2 0h2m2 0h2m3 0h2m0 0h2m3 0h2m2 0h2m-2 0h2m-2 0h2m-2 0h2m-1 0h2m-1 0h2m1 0h2m1 0h2m0 0h2m-1 0h2m0 0h2m-2 0h2m0 0h2m-40 1h2m-1 0h2m1 0h2m-1 0h2m1 0h2m2 0h2m-1 0h2m2 0h2m-1 0h2m-1 0h2m-1 0h2m-1 0h2m0 0h2m1 0h2m1 0h2m-1 0h2m0 0h2m0 0h2m8 0h2m-1 0h2m1 0h2m5 0h2m-77 1h2m15 0h2m6 0h2m5 0h2m-2 0h2m3 0h2m1 0h2m-1 0h2m-1 0h2m7 0h2m-1 0h2m-1 0h2m0 0h2m2 0h2m14 0h2m-70 1h2m1 0h2m4 0h2m-2 0h2m7 0h2m0 0h2m-1 0h2m2 0h2m1 0h2m2 0h2m4 0h2m11 0h2m-2 0h2m5 0h2m1 0h2m1 0h2m-64 1h2m3 0h2m4 0h2m2 0h2m2 0h2m0 0h2m-1 0h2m13 0h2m-1 0h2m3 0h2m4 0h2m5 0h2m-40 1h2m4 0h2m7 0h2m-1 0h2m0 0h2m11 0h2m10 0h2m-52 1h2m3 0h2m8 0h2m-1 0h2m12 0h2m-28 1h2m6 0h2m-1 0h2m7 0h2m5 0h2m1 0h2m7 0h2m-39 1h2m-2 0h2m9 0h2m6 0h2m7 0h2m-2 0h2m-38 1h2m-2 0h2m4 0h2m1 0h2m5 0h2m-2 0h2m15 0h2m1 0h2m-36 1h2m21 0h2m5 0h2m10 0h2m-54 1h2m20 0h2m-1 0h2m-2 0h2m3 1h2m-9 1h2m2 0h2m13 0h2m16 0h2m-59 2h2m11 0h2m-12 2h2m5 2h2m19 2h2" stroke="#bfbfbf" stroke-opacity="0.16" stroke-width="2.0" fill="none"/><path d="M938 244h2m21 0h2m1 0h2m12 1h2m-19 3h2m-2 0h2m2 0h2m-13 1h2m8 0h2m-14 1h2m13 0h2m12 0h2m3 0h2m0 0h2m-63 1h2m0 0h2m14 0h2m13 0h2m-21 1h2m1 0h2m-2 0h2m1 0h2m0 0h2m4 0h2m3 0h2m-1 0h2m5 0h2m-31 1h2m2 0h2m6 0h2m2 0h2m2 0h2m7 0h2m-1 0h2m-38 1h2m10 0h2m3 0h2m1 0h2m4 0h2m4 0h2m-1 0h2m4 0h2m0 0h2m-62 1h2m11 0h2m5 0h2m2 0h2m-1 0h2m0 0h2m-1 0h2m2 0h2m0 0h2m-2 0h2m0 0h2m-1 0h2m-2 0h2m8 0h2m23 0h2m-44 1h2m-2 0h2m13 0h2m4 0h2m0 0h2m16 0h2m-1 0h2m-64 1h2m8 0h2m6 0h2m0 0h2m-1 0h2m7 0h2m-2 0h2m1 0h2m-1 0h2m2 0h2m-2 0h2m4 0h2m1 0h2m-1 0h2m4 0h2m-61 1h2m8 0h2m3 0h2m1 0h2m-1 0h2m3 0h2m-2 0h2m-1 0h2m3 0h2m-2 0h2m3 0h2m1 0h2m1 0h2m-1 0h2m0 0h2m-1 0h2m6 0h2m9 0h2m-54 1h2m-2 0h2m-2 0h2m1 0h2m-1 0h2m2 0h2m-1 0h2m2 0h2m4 0h2m0 0h2m1 0h2m1 0h2m0 0h2m-2 0h2m0 0h2m-2 0h2m4 0h2m9 0h2m5 0h2m-63 1h2m6 0h2m3 0h2m-1 0h2m0 0h2m0 0h2m0 0h2m-1 0h2m0 0h2m-2 0h2m0 0h2m-2 0h2m0 0h2m0 0h2m3 0h2m3 0h2m2 0h2m8 0h2m-53 1h2m4 0h2m0 0h2m0 0h2m-1 0h2m1 0h2m2 0h2m-1 0h2m7 0h2m8 0h2m6 0h2m39 0h2m-103 1h2m-1 0h2m6 0h2m4 0h2m1 0h2m-1 0h2m0 0h2m7 0h2m1 0h2m0 0h2m-1 0h2m-1 0h2m-2 0h2m-2 0h2m2 0h2m-1 0h2m-1 0h2m0 0h2m-2 0h2m-2 0h2m4 0h2m0 0h2m-47 1h2m6 0h2m-2 0h2m-2 0h2m2 0h2m4 0h2m5 0h2m-2 0h2m-1 0h2m0 0h2m-2 0h2m2 0h2m-2 0h2m2 0h2m-1 0h2m-2 0h2m0 0h2m6 0h2m4 0h2m0 0h2m-78 1h2m23 0h2m3 0h2m-1 0h2m0 0h2m-1 0h2m-2 0h2m-2 0h2m0 0h2m0 0h2m-2 0h2m-1 0h2m4 0h2m5 0h2m-2 0h2m-2 0h2m-1 0h2m0 0h2m1 0h2m0 0h2m-1 0h2m-1 0h2m2 0h2m0 0h2m-62 1h2m6 0h2m0 0h2m4 0h2m6 0h2m0 0h2m-2 0h2m-2 0h2m0 0h2m-1 0h2m-1 0h2m-1 0h2m-1 0h2m1 0h2m-1 0h2m2 0h2m-1 0h2m-2 0h2m-1 0h2m0 0h2m-2 0h2m1 0h2m0 0h2m2 0h2m-1 0h2m-1 0h2m-2 0h2m11 0h2m2 0h2m-64 1h2m3 0h2m1 0h2m-1 0h2m-1 0h2m0 0h2m-1 0h2m7 0h2m4 0h2m-2 0h2m0 0h2m-2 0h2m-1 0h2m0 0h2m-2 0h2m5 0h2m-2 0h2m-1 0h2m1 0h2m1 0h2m-2 0h2m5 0h2m0 0h2m0 0h2m-77 1h2m0 0h2m6 0h2m5 0h2m5 0h2m-1 0h2m0 0h2m0 0h2m2 0h2m1 0h2m2 0h2m-1 0h2m-1 0h2m-1 0h2m1 0h2m-1 0h2m0 0h2m-2 0h2m-1 0h2m-2 0h2m1 0h2m-1 0h2m0 0h2m-2 0h2m-1 0h2m-2 0h2m-2 0h2m2 0h2m15 0h2m17 0h2m-113 1h2m21 0h2m4 0h2m5 0h2m-2 0h2m-1 0h2m4 0h2m-2 0h2m-1 0h2m-2 0h2m-2 0h2m1 0h2m0 0h2m-1 0h2m-1 0h2m-1 0h2m-1 0h2m-2 0h2m0 0h2m4 0h2m3 0h2m-1 0h2m-2 0h2m0 0h2m-2 0h2m0 0h2m0 0h2m1 0h2m-2 0h2m7 0h2m-2 0h2m-48 1h2m3 0h2m-2 0h2m-1 0h2m0 0h2m0 0h2m-2 0h2m-1 0h2m-2 0h2m-2 0h2m1 0h2m1 0h2m-1 0h2m-1 0h2m2 0h2m2 0h2m-1 0h2m-1 0h2m-2 0h2m1 0h2m-1 0h2m2 0h2m1 0h2m1 0h2m-49 1h2m-1 0h2m0 0h2m1 0h2m-2 0h2m-1 0h2m3 0h2m-1 0h2m2 0h2m0 0h2m0 0h2m0 0h2m0 0h2m-2 0h2m2 0h2m-1 0h2m1 0h2m-2 0h2m-1 0h2m-1 0h2m0 0h2m4 0h2m6 0h2m-72 1h2m17 0h2m-1 0h2m-1 0h2m3 0h2m2 0h2m0 0h2m-2 0h2m0 0h2m0 0h2m-1 0h2m1 0h2m-1 0h2m2 0h2m-1 0h2m-2 0h2m1 0h2m-1 0h2m2 0h2m-1 0h2m0 0h2m-2 0h2m5 0h2m9 0h2m-60 1h2m-1 0h2m1 0h2m3 0h2m-1 0h2m7 0h2m-1 0h2m-2 0h2m2 0h2m-1 0h2m1 0h2m-1 0h2m-2 0h2m9 0h2m-2 0h2m-1 0h2m2 0h2m-56 1h2m9 0h2m4 0h2m-1 0h2m2 0h2m-2 0h2m-1 0h2m-2 0h2m0 0h2m-2 0h2m0 0h2m2 0h2m4 0h2m3 0h2m1 0h2m12 0h2m2 0h2m6 0h2m-62 1h2m-1 0h2m-2 0h2m-1 0h2m4 0h2m0 0h2m1 0h2m5 0h2m3 0h2m-2 0h2m4 0h2m2 0h2m1 0h2m1 0h2m10 0h2m-69 1h2m20 0h2m5 0h2m1 0h2m-2 0h2m1 0h2m-2 0h2m-1 0h2m1 0h2m2 0h2m0 0h2m5 0h2m-40 1h2m2 0h2m-1 0h2m9 0h2m33 0h2m-51 1h2m4 0h2m-1 0h2m2 0h2m8 0h2m6 0h2m15 0h2m-43 1h2m2 0h2m-2 0h2m9 0h2m-1 0h2m-34 1h2m6 0h2m10 0h2m1 0h2m10 0h2m-1 0h2m-27 1h2m15 0h2m10 0h2m-42 1h2m1 0h2m20 0h2m10 0h2m12 0h2m-53 1h2m-7 1h2m4 0h2m23 0h2m4 0h2m7 0h2m27 0h2m-68 3h2m9 2h2" stroke="#bfbfbf" stroke-opacity="0.16" stroke-width="2.0" fill="none"/><path d="M956 235h2m-6 6h2m20 1h2m-43 2h2m15 1h2m2 1h2m15 0h2m8 0h2m-25 1h2m1 0h2m6 0h2m-25 1h2m-1 0h2m15 0h2m7 0h2m-32 1h2m-7 1h2m1 0h2m26 0h2m-34 1h2m-1 0h2m9 0h2m4 0h2m9 0h2m6 0h2m-30 1h2m0 0h2m6 0h2m28 0h2m-43 1h2m0 0h2m-1 0h2m5 0h2m-31 1h2m20 0h2m10 0h2m4 0h2m-2 0h2m5 0h2m14 0h2m-71 1h2m21 0h2m1 0h2m9 0h2m11 0h2m3 0h2m12 0h2m-76 1h2m20 0h2m2 0h2m0 0h2m1 0h2m-2 0h2m7 0h2m-1 0h2m0 0h2m1 0h2m-2 0h2m-1 0h2m11 0h2m1 0h2m-50 1h2m1 0h2m-1 0h2m-1 0h2m-2 0h2m-1 0h2m-2 0h2m2 0h2m-1 0h2m0 0h2m0 0h2m2 0h2m0 0h2m2 0h2m-2 0h2m2 0h2m8 0h2m7 0h2m0 0h2m-1 0h2m-66 1h2m6 0h2m8 0h2m-1 0h2m0 0h2m-1 0h2m3 0h2m0 0h2m0 0h2m-1 0h2m2 0h2m6 0h2m2 0h2m-1 0h2m-2 0h2m5 0h2m-1 0h2m-1 0h2m-50 1h2m-2 0h2m8 0h2m1 0h2m0 0h2m-2 0h2m1 0h2m2 0h2m2 0h2m1 0h2m3 0h2m-1 0h2m-1 0h2m2 0h2m3 0h2m-60 1h2m1 0h2m3 0h2m-1 0h2m0 0h2m-2 0h2m8 0h2m-1 0h2m-1 0h2m5 0h2m-1 0h2m-1 0h2m-2 0h2m0 0h2m1 0h2m-2 0h2m-2 0h2m-1 0h2m-2 0h2m0 0h2m-1 0h2m6 0h2m-1 0h2m8 0h2m-44 1h2m7 0h2m-1 0h2m1 0h2m-1 0h2m-2 0h2m-1 0h2m2 0h2m3 0h2m-1 0h2m-1 0h2m1 0h2m6 0h2m12 0h2m-1 0h2m-71 1h2m-1 0h2m8 0h2m3 0h2m-1 0h2m-1 0h2m0 0h2m3 0h2m-1 0h2m-2 0h2m3 0h2m4 0h2m4 0h2m-1 0h2m-1 0h2m3 0h2m4 0h2m2 0h2m-70 1h2m14 0h2m6 0h2m0 0h2m-1 0h2m-1 0h2m-2 0h2m-1 0h2m-1 0h2m-1 0h2m-2 0h2m0 0h2m-1 0h2m0 0h2m0 0h2m1 0h2m-1 0h2m-2 0h2m0 0h2m0 0h2m1 0h2m-1 0h2m-2 0h2m0 0h2m1 0h2m0 0h2m-1 0h2m0 0h2m5 0h2m23 0h2m-79 1h2m0 0h2m2 0h2m10 0h2m0 0h2m1 0h2m2 0h2m-1 0h2m-2 0h2m0 0h2m3 0h2m-1 0h2m-1 0h2m-2 0h2m7 0h2m-1 0h2m2 0h2m1 0h2m-1 0h2m-68 1h2m0 0h2m2 0h2m2 0h2m2 0h2m1 0h2m2 0h2m-2 0h2m0 0h2m3 0h2m2 0h2m1 0h2m-2 0h2m-2 0h2m-1 0h2m-2 0h2m-2 0h2m1 0h2m0 0h2m1 0h2m3 0h2m-2 0h2m2 0h2m3 0h2m-50 1h2m-2 0h2m6 0h2m1 0h2m-1 0h2m0 0h2m3 0h2m-1 0h2m-2 0h2m0 0h2m1 0h2m4 0h2m0 0h2m-2 0h2m3 0h2m1 0h2m8 0h2m5 0h2m-71 1h2m4 0h2m1 0h2m-1 0h2m1 0h2m-1 0h2m-1 0h2m5 0h2m-1 0h2m-2 0h2m0 0h2m1 0h2m-1 0h2m1 0h2m1 0h2m1 0h2m0 0h2m0 0h2m0 0h2m0 0h2m-1 0h2m0 0h2m-1 0h2m2 0h2m-1 0h2m1 0h2m3 0h2m-54 1h2m2 0h2m-1 0h2m-1 0h2m4 0h2m-1 0h2m1 0h2m-1 0h2m-1 0h2m3 0h2m1 0h2m-2 0h2m-1 0h2m-1 0h2m-1 0h2m-2 0h2m0 0h2m0 0h2m1 0h2m4 0h2m0 0h2m-2 0h2m-2 0h2m3 0h2m11 0h2m-62 1h2m-1 0h2m-1 0h2m-1 0h2m1 0h2m0 0h2m-1 0h2m-1 0h2m1 0h2m4 0h2m0 0h2m-2 0h2m-1 0h2m-2 0h2m-1 0h2m-2 0h2m1 0h2m1 0h2m-1 0h2m-1 0h2m-2 0h2m-1 0h2m4 0h2m7 0h2m-55 1h2m8 0h2m-1 0h2m7 0h2m-2 0h2m1 0h2m4 0h2m7 0h2m3 0h2m8 0h2m2 0h2m-2 0h2m-61 1h2m0 0h2m-2 0h2m0 0h2m-2 0h2m-1 0h2m0 0h2m9 0h2m1 0h2m5 0h2m-1 0h2m1 0h2m-2 0h2m3 0h2m-2 0h2m5 0h2m12 0h2m9 0h2m-78 1h2m1 0h2m7 0h2m1 0h2m-1 0h2m3 0h2m1 0h2m0 0h2m-1 0h2m0 0h2m0 0h2m-1 0h2m2 0h2m3 0h2m0 0h2m-1 0h2m1 0h2m-1 0h2m0 0h2m6 0h2m7 0h2m-69 1h2m4 0h2m-1 0h2m-2 0h2m3 0h2m4 0h2m0 0h2m-1 0h2m-1 0h2m4 0h2m-2 0h2m-1 0h2m-2 0h2m3 0h2m0 0h2m-1 0h2m3 0h2m-2 0h2m-1 0h2m-1 0h2m1 0h2m-2 0h2m13 0h2m-55 1h2m-2 0h2m0 0h2m8 0h2m1 0h2m-2 0h2m0 0h2m-2 0h2m0 0h2m0 0h2m-1 0h2m0 0h2m8 0h2m-2 0h2m4 0h2m2 0h2m0 0h2m1 0h2m6 0h2m1 0h2m-71 1h2m5 0h2m-1 0h2m0 0h2m-1 0h2m3 0h2m9 0h2m0 0h2m-2 0h2m-1 0h2m0 0h2m1 0h2m0 0h2m11 0h2m1 0h2m-1 0h2m-2 0h2m0 0h2m-49 1h2m1 0h2m2 0h2m2 0h2m3 0h2m0 0h2m4 0h2m1 0h2m-1 0h2m-1 0h2m5 0h2m2 0h2m-2 0h2m0 0h2m0 0h2m2 0h2m-43 1h2m3 0h2m3 0h2m5 0h2m2 0h2m-1 0h2m1 0h2m15 0h2m11 0h2m-41 1h2m-2 0h2m1 0h2m0 0h2m0 0h2m6 0h2m6 0h2m-50 1h2m8 0h2m6 0h2m18 0h2m-61 1h2m11 0h2m39 0h2m3 0h2m0 0h2m-32 2h2m37 0h2m-43 1h2m13 0h2m-4 1h2m3 0h2m34 1h2m-36 1h2m-12 3h2" stroke="#bfbfbf" stroke-opacity="0.16" stroke-width="2.0" fill="none"/><path d="M956 243h2m21 0h2m-56 2h2m21 0h2m21 1h2m3 1h2m-38 2h2m-1 0h2m12 0h2m-17 1h2m23 0h2m19 0h2m-57 1h2m1 0h2m18 0h2m-22 1h2m0 0h2m6 0h2m8 0h2m5 0h2m4 0h2m2 0h2m7 0h2m-61 1h2m3 0h2m4 0h2m6 0h2m4 0h2m4 0h2m6 0h2m19 0h2m0 0h2m-51 1h2m5 0h2m0 0h2m0 0h2m5 0h2m-1 0h2m1 0h2m0 0h2m-1 0h2m5 0h2m-53 1h2m12 0h2m4 0h2m8 0h2m0 0h2m4 0h2m13 0h2m0 0h2m7 0h2m-2 0h2m0 0h2m6 0h2m-57 1h2m6 0h2m1 0h2m0 0h2m2 0h2m0 0h2m-1 0h2m2 0h2m-1 0h2m-2 0h2m5 0h2m0 0h2m0 0h2m4 0h2m4 0h2m-65 1h2m-1 0h2m2 0h2m13 0h2m0 0h2m1 0h2m0 0h2m3 0h2m2 0h2m-1 0h2m-1 0h2m14 0h2m-45 1h2m-2 0h2m0 0h2m3 0h2m0 0h2m-2 0h2m5 0h2m-1 0h2m4 0h2m-2 0h2m0 0h2m1 0h2m-1 0h2m1 0h2m8 0h2m-54 1h2m15 0h2m-1 0h2m0 0h2m0 0h2m0 0h2m2 0h2m5 0h2m1 0h2m-1 0h2m0 0h2m3 0h2m0 0h2m19 0h2m-76 1h2m-1 0h2m12 0h2m0 0h2m-1 0h2m0 0h2m-1 0h2m-1 0h2m1 0h2m-1 0h2m0 0h2m2 0h2m0 0h2m2 0h2m5 0h2m-1 0h2m3 0h2m-1 0h2m6 0h2m4 0h2m-94 1h2m8 0h2m20 0h2m-2 0h2m5 0h2m1 0h2m-2 0h2m3 0h2m0 0h2m0 0h2m-1 0h2m-1 0h2m-1 0h2m-1 0h2m2 0h2m-2 0h2m1 0h2m-2 0h2m-1 0h2m4 0h2m2 0h2m-2 0h2m1 0h2m-2 0h2m1 0h2m2 0h2m13 0h2m4 0h2m-85 1h2m3 0h2m2 0h2m4 0h2m2 0h2m0 0h2m6 0h2m-1 0h2m-2 0h2m0 0h2m0 0h2m1 0h2m-2 0h2m-2 0h2m2 0h2m8 0h2m0 0h2m1 0h2m4 0h2m-2 0h2m0 0h2m3 0h2m-61 1h2m1 0h2m-1 0h2m5 0h2m-2 0h2m8 0h2m1 0h2m0 0h2m-1 0h2m-2 0h2m1 0h2m-2 0h2m0 0h2m-2 0h2m5 0h2m-1 0h2m-1 0h2m9 0h2m9 0h2m-59 1h2m4 0h2m0 0h2m-2 0h2m-1 0h2m1 0h2m1 0h2m0 0h2m-1 0h2m4 0h2m0 0h2m-1 0h2m-1 0h2m-2 0h2m0 0h2m-2 0h2m0 0h2m-1 0h2m0 0h2m-1 0h2m0 0h2m-1 0h2m-1 0h2m3 0h2m2 0h2m-2 0h2m-64 1h2m18 0h2m-1 0h2m-1 0h2m-1 0h2m0 0h2m1 0h2m-1 0h2m-1 0h2m-1 0h2m0 0h2m0 0h2m3 0h2m0 0h2m2 0h2m-2 0h2m-1 0h2m7 0h2m1 0h2m6 0h2m-1 0h2m-82 1h2m23 0h2m2 0h2m1 0h2m-1 0h2m-1 0h2m-1 0h2m1 0h2m3 0h2m-1 0h2m2 0h2m6 0h2m-1 0h2m0 0h2m3 0h2m1 0h2m14 0h2m-96 1h2m22 0h2m2 0h2m-1 0h2m0 0h2m1 0h2m1 0h2m7 0h2m0 0h2m0 0h2m0 0h2m3 0h2m3 0h2m-2 0h2m-2 0h2m-1 0h2m0 0h2m0 0h2m-1 0h2m-2 0h2m-1 0h2m1 0h2m0 0h2m-1 0h2m-1 0h2m4 0h2m-2 0h2m-61 1h2m6 0h2m2 0h2m1 0h2m1 0h2m-2 0h2m-1 0h2m4 0h2m-1 0h2m-2 0h2m-2 0h2m2 0h2m0 0h2m1 0h2m0 0h2m-1 0h2m4 0h2m9 0h2m8 0h2m-70 1h2m8 0h2m11 0h2m0 0h2m1 0h2m-1 0h2m1 0h2m2 0h2m1 0h2m0 0h2m0 0h2m-2 0h2m-1 0h2m-2 0h2m-2 0h2m-1 0h2m2 0h2m-1 0h2m3 0h2m6 0h2m2 0h2m-53 1h2m2 0h2m-2 0h2m-1 0h2m-2 0h2m0 0h2m-2 0h2m-1 0h2m3 0h2m-1 0h2m0 0h2m-1 0h2m3 0h2m-2 0h2m-1 0h2m2 0h2m-2 0h2m-1 0h2m0 0h2m5 0h2m-47 1h2m2 0h2m1 0h2m-2 0h2m-2 0h2m2 0h2m-2 0h2m2 0h2m2 0h2m-2 0h2m2 0h2m-2 0h2m-1 0h2m5 0h2m1 0h2m2 0h2m1 0h2m2 0h2m2 0h2m5 0h2m-68 1h2m1 0h2m2 0h2m1 0h2m12 0h2m3 0h2m-1 0h2m-2 0h2m3 0h2m1 0h2m3 0h2m1 0h2m6 0h2m1 0h2m-58 1h2m6 0h2m3 0h2m2 0h2m-2 0h2m1 0h2m-2 0h2m4 0h2m-2 0h2m3 0h2m-2 0h2m0 0h2m2 0h2m-2 0h2m-1 0h2m-2 0h2m-1 0h2m-1 0h2m1 0h2m0 0h2m0 0h2m6 0h2m-1 0h2m-2 0h2m-54 1h2m5 0h2m1 0h2m8 0h2m0 0h2m0 0h2m1 0h2m-1 0h2m3 0h2m6 0h2m1 0h2m3 0h2m-53 1h2m15 0h2m-2 0h2m5 0h2m6 0h2m2 0h2m3 0h2m0 0h2m-45 1h2m5 0h2m2 0h2m0 0h2m-1 0h2m-1 0h2m-1 0h2m0 0h2m0 0h2m3 0h2m0 0h2m1 0h2m-2 0h2m4 0h2m-1 0h2m6 0h2m-1 0h2m3 0h2m-1 0h2m3 0h2m-53 1h2m2 0h2m4 0h2m0 0h2m5 0h2m0 0h2m-1 0h2m0 0h2m0 0h2m7 0h2m-2 0h2m-37 1h2m3 0h2m7 0h2m-1 0h2m9 0h2m4 0h2m2 0h2m-2 0h2m-18 1h2m1 0h2m-1 0h2m18 0h2m-2 0h2m-52 1h2m3 0h2m7 0h2m1 0h2m12 0h2m0 0h2m4 0h2m12 0h2m-36 1h2m-1 0h2m7 0h2m14 0h2m13 0h2m-32 1h2m5 0h2m-1 0h2m21 0h2m-65 1h2m42 0h2m-53 1h2m-2 0h2m43 0h2m28 0h2m-52 1h2m21 0h2m0 1h2m-55 3h2m48 1h2" stroke="#bfbfbf" stroke-opacity="0.16" stroke-width="2.0" fill="none"/></g>
<g transform="scale(0.5)"><path d="M1095 210h2m-33 4h2m0 6h2m37 0h2m-17 1h2m-43 3h2m51 0h2m-21 3h2m-41 1h2m28 0h2m2 0h2m6 0h2m2 0h2m23 0h2m-49 2h2m9 0h2m5 0h2m5 0h2m6 0h2m-21 1h2m29 0h2m-68 1h2m12 0h2m16 0h2m-6 1h2m0 0h2m32 0h2m-34 1h2m5 0h2m3 0h2m10 0h2m-27 1h2m9 0h2m3 0h2m0 0h2m-51 1h2m29 0h2m25 0h2m-59 1h2m23 0h2m3 0h2m-10 1h2m1 0h2m6 0h2m0 0h2m-6 1h2m0 0h2m-1 1h2m1 0h2m23 0h2m-63 1h2m16 0h2m-2 0h2m-1 0h2m5 0h2m11 0h2m-26 1h2m3 0h2m0 1h2m30 0h2m-47 1h2m9 0h2m10 0h2m10 0h2m-32 1h2m1 0h2m-13 1h2m-1 0h2m10 0h2m19 0h2m6 0h2m2 0h2m-39 1h2m-2 0h2m0 0h2m0 0h2m-2 0h2m4 0h2m-2 0h2m-2 0h2m29 0h2m-45 1h2m2 0h2m7 1h2m-1 0h2m-20 1h2m2 1h2m-12 1h2m21 0h2m-12 1h2m4 0h2m-4 1h2m4 0h2m37 0h2m-76 2h2m24 0h2m3 0h2m15 0h2m-22 1h2m4 1h2m5 0h2m2 1h2m-5 1h2m-24 1h2m15 0h2m-10 1h2m-23 1h2m26 0h2m-21 1h2m17 0h2m8 1h2m-35 9h2m35 2h2" stroke="#bfbfbf" stroke-opacity="0.22" stroke-width="2.0" fill="none"/><path d="M1076 209h2m39 9h2m-49 2h2m16 2h2m-13 1h2m-7 1h2m-4 1h2m7 0h2m0 0h2m0 0h2m-4 1h2m-7 1h2m-8 1h2m-1 0h2m-1 0h2m8 0h2m18 0h2m-10 1h2m5 0h2m-30 1h2m26 0h2m-16 1h2m15 0h2m-35 1h2m6 0h2m-5 1h2m13 0h2m-9 1h2m3 0h2m-20 1h2m-5 1h2m-2 0h2m-5 1h2m11 0h2m4 0h2m3 0h2m-27 1h2m4 0h2m7 0h2m5 0h2m-33 1h2m8 0h2m18 0h2m10 0h2m-40 1h2m11 0h2m0 0h2m18 0h2m6 0h2m2 0h2m-48 1h2m11 0h2m12 0h2m25 0h2m-61 1h2m27 0h2m-33 1h2m15 0h2m-1 0h2m6 0h2m4 0h2m-24 1h2m13 0h2m8 0h2m-21 1h2m-1 0h2m1 0h2m1 0h2m-1 0h2m-29 1h2m14 1h2m10 0h2m6 0h2m-25 1h2m21 0h2m-15 1h2m21 0h2m3 0h2m-39 1h2m3 0h2m6 0h2m-38 1h2m31 0h2m23 0h2m-44 1h2m18 0h2m-14 1h2m3 1h2m1 0h2m15 0h2m-55 1h2m3 0h2m14 1h2m8 0h2m-2 0h2m-18 1h2m4 0h2m18 1h2m-1 0h2m17 0h2m-34 1h2m6 0h2m24 0h2m-28 1h2m11 2h2m3 0h2m6 1h2m-52 1h2m16 2h2m19 0h2m-29 2h2m23 1h2m16 7h2" stroke="#bfbfbf" stroke-opacity="0.22" stroke-width="2.0" fill="none"/><path d="M1086 219h2m20 0h2m-6 1h2m6 0h2m6 0h2m-57 1h2m34 0h2m-68 1h2m7 1h2m18 0h2m31 2h2m-38 1h2m28 1h2m5 1h2m-31 1h2m-25 1h2m61 0h2m-28 1h2m-26 1h2m25 0h2m-27 1h2m11 0h2m37 0h2m2 0h2m-41 1h2m4 0h2m32 1h2m-59 1h2m23 0h2m18 0h2m-33 1h2m7 0h2m2 0h2m0 0h2m7 0h2m-32 1h2m20 0h2m-1 0h2m-1 0h2m4 0h2m-18 1h2m9 0h2m6 0h2m-42 1h2m2 0h2m-1 0h2m10 1h2m0 0h2m10 0h2m15 0h2m-43 1h2m8 0h2m6 0h2m-34 1h2m9 0h2m-1 0h2m5 0h2m1 0h2m42 0h2m-59 1h2m0 0h2m0 0h2m14 0h2m-6 1h2m14 0h2m-54 1h2m13 0h2m4 0h2m0 0h2m-10 1h2m22 0h2m8 0h2m11 0h2m-41 2h2m0 0h2m2 0h2m10 0h2m-21 1h2m1 0h2m1 0h2m-1 0h2m11 1h2m-34 1h2m10 0h2m10 0h2m18 0h2m-22 1h2m26 0h2m-51 1h2m24 0h2m10 0h2m-22 1h2m-1 0h2m34 1h2m-37 1h2m-19 1h2m6 0h2m12 1h2m-2 0h2m-41 1h2m17 0h2m-5 1h2m-1 1h2m10 0h2m-4 2h2m-4 1h2m-8 1h2m7 1h2m-33 7h2m0 3h2m5 0h2m-19 2h2" stroke="#bfbfbf" stroke-opacity="0.22" stroke-width="2.0" fill="none"/><path d="M1108 209h2m-28 9h2m-4 2h2m6 1h2m0 1h2m-18 2h2m15 0h2m10 0h2m2 1h2m-8 3h2m-33 1h2m13 1h2m-42 1h2m33 0h2m6 0h2m-1 0h2m0 0h2m-1 0h2m-30 1h2m9 0h2m-8 2h2m59 0h2m-53 1h2m25 0h2m-50 2h2m17 0h2m4 0h2m-15 2h2m-1 0h2m13 0h2m0 0h2m-18 1h2m0 0h2m5 0h2m6 0h2m-39 1h2m3 0h2m4 0h2m9 0h2m-21 1h2m23 0h2m9 0h2m-26 1h2m37 0h2m-48 1h2m11 0h2m6 0h2m-2 0h2m0 0h2m-1 0h2m0 0h2m-1 0h2m1 0h2m-30 1h2m8 0h2m5 0h2m-2 0h2m23 0h2m-41 1h2m6 0h2m18 0h2m1 0h2m12 0h2m-46 1h2m-2 0h2m-13 1h2m1 0h2m1 0h2m2 0h2m12 0h2m4 0h2m-32 1h2m12 0h2m7 0h2m-1 0h2m7 0h2m-1 0h2m-23 1h2m18 0h2m-1 0h2m8 0h2m-47 1h2m2 0h2m1 0h2m18 0h2m0 0h2m-13 1h2m6 0h2m-36 1h2m52 0h2m-44 1h2m7 0h2m15 0h2m-15 1h2m4 0h2m2 0h2m0 0h2m-2 1h2m-6 1h2m-49 1h2m7 0h2m6 0h2m7 0h2m6 0h2m-31 1h2m52 0h2m-53 1h2m2 0h2m45 0h2m-43 1h2m13 5h2m-10 7h2" stroke="#bfbfbf" stroke-opacity="0.22" stroke-width="2.0" fill="none"/></g>
<g transform="scale(0.5)"><path d="M1122 196h2m-7 8h2m-20 2h2m12 4h2m-15 1h2m13 4h2m17 0h2m5 0h2m-32 1h2m-4 3h2m40 0h2m-33 2h2m8 2h2m-8 1h2m3 1h2m-18 1h2m18 0h2m28 0h2m-68 1h2m-29 1h2m26 1h2m-26 2h2m39 0h2m68 3h2m-93 2h2m28 0h2m5 2h2m-69 2h2m34 1h2m26 0h2m6 0h2m0 0h2m-6 1h2m2 0h2m-39 5h2m83 0h2m-115 1h2m4 0h2m47 2h2m-36 2h2m8 1h2m-23 1h2m5 0h2m16 3h2m6 3h2m10 9h2m-11 5h2m3 9h2m-29 2h2m31 1h2" stroke="#bfbfbf" stroke-opacity="0.18" stroke-width="2.0" fill="none"/><path d="M1101 183h2m-11 10h2m22 0h2m-5 1h2m-3 1h2m-54 4h2m61 3h2m0 3h2m-34 3h2m31 2h2m-28 3h2m-37 1h2m33 0h2m9 0h2m52 0h2m-85 3h2m24 0h2m6 0h2m13 2h2m-48 1h2m3 0h2m4 0h2m4 2h2m11 0h2m-40 1h2m20 1h2m20 1h2m-3 2h2m3 1h2m8 0h2m-14 1h2m-27 2h2m7 1h2m-1 1h2m19 0h2m-45 3h2m28 0h2m-18 3h2m12 0h2m-26 3h2m28 3h2m-33 1h2m21 1h2m30 1h2m-60 2h2m33 10h2m-5 3h2m34 0h2m-72 1h2m20 11h2" stroke="#bfbfbf" stroke-opacity="0.18" stroke-width="2.0" fill="none"/><path d="M1100 196h2m14 3h2m-46 1h2m41 0h2m-12 3h2m12 1h2m1 1h2m5 1h2m-16 2h2m9 2h2m4 0h2m-27 2h2m19 2h2m12 3h2m-42 1h2m-7 1h2m7 1h2m-13 1h2m9 0h2m-40 1h2m51 0h2m-8 1h2m2 0h2m4 0h2m28 0h2m-45 1h2m16 2h2m14 0h2m-44 1h2m33 1h2m10 1h2m-47 3h2m-20 2h2m34 0h2m-71 2h2m53 1h2m-4 4h2m-20 1h2m-31 1h2m35 0h2m-1 0h2m-28 1h2m9 1h2m2 1h2m29 1h2m-19 2h2m18 2h2m-20 3h2m-21 1h2m7 4h2" stroke="#bfbfbf" stroke-opacity="0.18" stroke-width="2.0" fill="none"/><path d="M1036 183h2m102 0h2m-44 4h2m19 2h2m-4 4h2m-18 2h2m-3 1h2m38 7h2m-18 4h2m-16 1h2m-11 2h2m20 0h2m13 0h2m-30 1h2m-11 6h2m-9 1h2m6 7h2m13 0h2m27 5h2m-70 1h2m45 2h2m28 0h2m-62 1h2m29 0h2m-30 1h2m56 1h2m-69 2h2m2 1h2m8 0h2m31 0h2m-26 1h2m6 0h2m-45 1h2m20 1h2m58 0h2m-58 5h2m-17 1h2m-13 1h2m33 4h2m2 0h2m-33 1h2m28 1h2m-4 2h2m4 0h2m-14 1h2m0 0h2m-42 4h2m28 5h2m1 2h2m23 12h2" stroke="#bfbfbf" stroke-opacity="0.18" stroke-width="2.0" fill="none"/></g>
<g transform="scale(0.5)"><path d="M1061 279h2m-3 1h2m12 0h2m-25 1h2m17 0h2m3 0h2m-9 1h2m2 0h2m17 0h2m-64 1h2m8 0h2m-1 0h2m20 0h2m0 0h2m5 0h2m1 0h2m11 0h2m15 0h2m-56 1h2m4 0h2m2 0h2m1 0h2m10 0h2m8 0h2m-1 0h2m3 0h2m-35 1h2m0 0h2m1 0h2m2 0h2m16 0h2m-1 0h2m-2 0h2m-27 1h2m6 0h2m14 0h2m12 0h2m5 0h2m-70 1h2m8 0h2m2 0h2m4 0h2m0 0h2m-1 0h2m-2 0h2m2 0h2m2 0h2m1 0h2m6 0h2m1 0h2m-2 0h2m17 0h2m-69 1h2m10 0h2m14 0h2m6 0h2m-1 0h2m5 0h2m5 0h2m18 0h2m-53 1h2m0 0h2m5 0h2m-1 0h2m0 0h2m0 0h2m0 0h2m-32 1h2m12 0h2m-1 0h2m3 0h2m7 0h2m0 0h2m1 0h2m-38 1h2m-1 0h2m7 0h2m1 0h2m3 0h2m2 0h2m4 0h2m12 0h2m2 0h2m-38 1h2m6 0h2m4 0h2m-43 1h2m14 0h2m22 0h2m1 0h2m0 0h2m1 0h2m8 0h2m-41 1h2m14 0h2m25 0h2m-1 0h2m-59 1h2m9 0h2m20 0h2m-1 0h2m12 0h2m13 0h2m17 0h2m-70 1h2m2 0h2m8 0h2m15 0h2m3 0h2m-16 1h2m-45 1h2m51 0h2m-33 4h2" stroke="#bfbfbf" stroke-opacity="0.3" stroke-width="2.0" fill="none"/><path d="M1058 277h2m24 2h2m-29 2h2m-2 0h2m24 0h2m0 0h2m8 0h2m-29 1h2m5 0h2m9 0h2m-48 1h2m9 0h2m12 0h2m2 0h2m15 0h2m17 0h2m-65 1h2m15 0h2m-2 0h2m0 0h2m4 0h2m4 0h2m12 0h2m-57 1h2m13 0h2m1 0h2m1 0h2m2 0h2m0 0h2m1 0h2m6 0h2m3 0h2m0 0h2m10 0h2m-34 1h2m3 0h2m-2 0h2m1 0h2m2 0h2m2 0h2m0 0h2m4 0h2m-39 1h2m2 0h2m5 0h2m1 0h2m3 0h2m2 0h2m-2 0h2m5 0h2m-1 0h2m12 0h2m-55 1h2m22 0h2m-1 0h2m-1 0h2m4 0h2m-1 0h2m-1 0h2m1 0h2m19 0h2m10 0h2m-66 1h2m13 0h2m5 0h2m5 0h2m-43 1h2m17 0h2m12 0h2m-1 0h2m1 0h2m4 0h2m3 0h2m1 0h2m-30 1h2m3 0h2m7 0h2m0 0h2m2 0h2m-1 0h2m7 0h2m-45 1h2m22 0h2m0 0h2m2 0h2m6 0h2m-2 0h2m13 0h2m-1 0h2m0 0h2m-62 1h2m7 0h2m1 0h2m2 0h2m4 0h2m2 0h2m11 0h2m3 0h2m4 0h2m11 0h2m15 0h2m-73 1h2m11 0h2m2 0h2m-25 1h2m-1 0h2m20 0h2m-2 0h2m-15 1h2m5 0h2m23 0h2m2 0h2m-40 2h2" stroke="#bfbfbf" stroke-opacity="0.3" stroke-width="2.0" fill="none"/><path d="M1089 276h2m2 0h2m1 0h2m-25 2h2m37 1h2m-48 1h2m2 0h2m7 0h2m21 0h2m-56 1h2m3 0h2m5 0h2m-2 0h2m35 0h2m-36 1h2m9 0h2m3 0h2m-1 0h2m-39 1h2m3 0h2m11 0h2m12 0h2m0 0h2m3 0h2m5 0h2m-56 1h2m9 0h2m11 0h2m1 0h2m8 0h2m2 0h2m11 0h2m-51 1h2m6 0h2m17 0h2m5 0h2m2 0h2m41 0h2m-87 1h2m13 0h2m-1 0h2m4 0h2m4 0h2m8 0h2m0 0h2m7 0h2m7 0h2m0 0h2m-1 0h2m-56 1h2m7 0h2m-1 0h2m4 0h2m4 0h2m4 0h2m9 0h2m0 0h2m-22 1h2m-1 0h2m-2 0h2m3 0h2m25 0h2m-1 0h2m-68 1h2m9 0h2m6 0h2m1 0h2m1 0h2m0 0h2m-1 0h2m0 0h2m1 0h2m-1 0h2m1 0h2m6 0h2m24 0h2m-55 1h2m-1 0h2m1 0h2m-1 0h2m0 0h2m4 0h2m0 0h2m3 0h2m20 0h2m-42 1h2m25 0h2m-43 1h2m9 0h2m1 0h2m4 0h2m8 0h2m-28 1h2m6 0h2m1 0h2m2 0h2m-1 0h2m-23 1h2m-1 0h2m29 0h2m19 0h2m-37 1h2m5 0h2m2 0h2m4 0h2m-38 1h2m4 0h2m2 0h2m1 0h2m-8 1h2m19 0h2m9 2h2" stroke="#bfbfbf" stroke-opacity="0.3" stroke-width="2.0" fill="none"/><path d="M1082 277h2m-22 1h2m-12 1h2m15 0h2m5 0h2m5 1h2m-16 1h2m12 0h2m-35 2h2m5 0h2m15 0h2m3 0h2m-32 1h2m4 0h2m7 0h2m8 0h2m4 0h2m7 0h2m0 0h2m-2 0h2m-1 0h2m-30 1h2m-2 0h2m3 0h2m11 0h2m-1 0h2m4 0h2m-1 0h2m-21 1h2m3 0h2m-2 0h2m2 0h2m-1 0h2m-2 0h2m1 0h2m1 0h2m2 0h2m5 0h2m3 0h2m-60 1h2m1 0h2m1 0h2m-1 0h2m0 0h2m18 0h2m5 0h2m12 0h2m-56 1h2m5 0h2m2 0h2m5 0h2m1 0h2m1 0h2m-2 0h2m1 0h2m4 0h2m1 0h2m15 0h2m-52 1h2m-18 1h2m3 0h2m6 0h2m1 0h2m-1 0h2m3 0h2m3 0h2m10 0h2m3 0h2m-2 0h2m-1 0h2m0 0h2m1 0h2m0 0h2m8 0h2m3 0h2m1 0h2m-71 1h2m6 0h2m16 0h2m-1 0h2m1 0h2m0 0h2m10 0h2m1 0h2m14 0h2m-70 1h2m17 0h2m1 0h2m7 0h2m0 0h2m8 0h2m6 0h2m0 0h2m-33 1h2m8 0h2m-1 0h2m-1 0h2m11 0h2m-1 0h2m13 0h2m-42 1h2m-12 1h2m19 0h2m9 0h2m1 0h2m5 0h2m-29 1h2m-15 1h2m7 0h2m33 0h2m-20 5h2m-14 1h2" stroke="#bfbfbf" stroke-opacity="0.3" stroke-width="2.0" fill="none"/></g>
<g transform="scale(0.5)"><path d="M1163 290h2m-38 5h2m32 0h2m-31 1h2m23 0h2m-1 1h2m19 0h2m-50 2h2m21 0h2m27 0h2m-34 1h2m3 0h2m-1 0h2m-17 1h2m35 0h2m-21 1h2m-38 1h2m8 0h2m3 0h2m-19 1h2m15 0h2m9 0h2m11 0h2m-52 1h2m23 0h2m0 0h2m11 0h2m-48 1h2m0 0h2m24 0h2m1 0h2m-2 0h2m-2 0h2m-1 0h2m-1 0h2m21 0h2m6 0h2m-59 1h2m0 0h2m11 0h2m5 0h2m0 0h2m0 0h2m6 0h2m15 0h2m-72 1h2m10 0h2m2 0h2m-19 1h2m32 0h2m11 0h2m0 0h2m-1 0h2m2 0h2m5 0h2m-52 1h2m0 0h2m-1 0h2m6 0h2m5 0h2m6 0h2m-2 0h2m19 0h2m3 0h2m-2 0h2m-1 0h2m-62 1h2m1 0h2m0 0h2m2 0h2m6 0h2m7 0h2m14 0h2m5 0h2m0 0h2m-34 1h2m-1 0h2m1 0h2m7 0h2m0 0h2m-1 0h2m3 0h2m-2 0h2m4 0h2m0 0h2m28 0h2m-64 1h2m4 0h2m3 0h2m1 0h2m0 0h2m-1 0h2m-14 1h2m5 0h2m1 0h2m8 0h2m-43 1h2m-2 0h2m1 0h2m15 0h2m0 0h2m-1 0h2m1 0h2m6 0h2m4 0h2m7 0h2m-76 1h2m7 0h2m24 0h2m-1 0h2m1 0h2m6 0h2m9 0h2m1 0h2m-1 0h2m12 0h2m-33 1h2m5 0h2m9 0h2m0 0h2m7 0h2m-1 0h2m-48 1h2m5 0h2m4 0h2m4 0h2m6 0h2m5 0h2m-38 1h2m1 0h2m0 0h2m6 0h2m-1 0h2m-1 0h2m18 0h2m-1 0h2m1 0h2m-43 1h2m17 0h2m6 0h2m-13 1h2m-1 0h2m1 0h2m0 0h2m-23 1h2m0 0h2m-1 0h2m8 1h2m14 0h2m-31 1h2m4 0h2m8 0h2m-23 1h2m4 1h2m-2 0h2m10 0h2m-37 1h2m25 0h2m-11 2h2m5 0h2m16 0h2m-14 1h2m-5 2h2" stroke="#bfbfbf" stroke-opacity="0.3" stroke-width="2.0" fill="none"/><path d="M1160 287h2m-41 5h2m5 2h2m22 3h2m14 1h2m4 0h2m-60 1h2m36 0h2m-32 2h2m5 0h2m10 0h2m-4 1h2m1 0h2m9 0h2m-1 0h2m0 0h2m-53 1h2m14 0h2m14 0h2m1 0h2m9 0h2m-44 1h2m8 0h2m15 0h2m29 1h2m-52 1h2m9 0h2m2 0h2m12 0h2m6 0h2m-1 0h2m-59 1h2m9 0h2m16 0h2m2 0h2m1 0h2m11 0h2m-43 1h2m0 0h2m19 0h2m-2 0h2m6 0h2m7 0h2m1 0h2m7 0h2m-49 1h2m5 0h2m13 0h2m21 0h2m-48 1h2m13 0h2m-1 0h2m-1 0h2m14 0h2m-30 1h2m0 0h2m-2 0h2m3 0h2m6 0h2m1 0h2m2 0h2m0 0h2m-1 0h2m2 0h2m-59 1h2m-2 0h2m26 0h2m0 0h2m5 0h2m6 0h2m3 0h2m13 0h2m-61 1h2m14 0h2m13 0h2m3 0h2m3 0h2m3 0h2m3 0h2m11 0h2m-52 1h2m7 0h2m6 0h2m1 0h2m-1 0h2m1 0h2m-1 0h2m3 0h2m3 0h2m6 0h2m13 0h2m-58 1h2m5 0h2m-2 0h2m14 0h2m-2 0h2m19 0h2m-60 1h2m3 0h2m16 0h2m1 0h2m8 0h2m-2 0h2m-2 0h2m9 0h2m-43 1h2m1 0h2m-1 0h2m12 0h2m1 0h2m4 0h2m6 0h2m4 0h2m2 0h2m-1 0h2m0 0h2m-41 1h2m4 0h2m18 0h2m12 0h2m-74 1h2m2 0h2m3 0h2m9 0h2m0 0h2m2 0h2m1 0h2m17 0h2m50 0h2m-76 1h2m-2 0h2m5 0h2m6 0h2m7 0h2m18 0h2m-49 1h2m20 0h2m4 0h2m9 0h2m-45 1h2m10 0h2m9 0h2m7 0h2m-38 1h2m1 0h2m30 0h2m2 0h2m2 0h2m-11 1h2m6 0h2m7 0h2m-14 1h2m-50 1h2m6 0h2m25 0h2m-43 1h2m5 1h2m4 0h2m8 0h2m5 0h2m0 0h2m-5 2h2m-18 1h2" stroke="#bfbfbf" stroke-opacity="0.3" stroke-width="2.0" fill="none"/><path d="M1178 289h2m-45 6h2m13 0h2m-11 2h2m17 0h2m-32 1h2m-26 2h2m25 0h2m-2 0h2m29 0h2m4 0h2m3 0h2m-42 1h2m-3 1h2m-10 1h2m13 0h2m15 0h2m-71 1h2m43 0h2m7 0h2m-29 1h2m0 0h2m35 0h2m2 0h2m-49 1h2m0 0h2m2 0h2m7 0h2m-1 0h2m12 0h2m3 0h2m-45 1h2m-2 0h2m12 0h2m18 0h2m0 0h2m7 0h2m25 0h2m-73 1h2m1 0h2m0 0h2m1 0h2m23 0h2m-2 0h2m-1 0h2m-29 1h2m-1 0h2m3 0h2m0 0h2m4 0h2m3 0h2m25 0h2m-40 1h2m0 0h2m2 0h2m16 0h2m4 0h2m8 0h2m-69 1h2m11 0h2m9 0h2m-1 0h2m-1 0h2m-1 0h2m2 0h2m-1 0h2m3 0h2m-1 0h2m-1 0h2m3 0h2m-2 0h2m3 0h2m1 0h2m18 0h2m-48 1h2m2 0h2m1 0h2m5 0h2m-1 0h2m9 0h2m-41 1h2m4 0h2m1 0h2m-1 0h2m10 0h2m-1 0h2m0 0h2m1 0h2m5 0h2m4 0h2m-64 1h2m21 0h2m3 0h2m1 0h2m5 0h2m-1 0h2m2 0h2m4 0h2m-1 0h2m2 0h2m8 0h2m-47 1h2m1 0h2m6 0h2m-1 0h2m-1 0h2m4 0h2m-2 0h2m-1 0h2m3 0h2m-2 0h2m19 0h2m0 0h2m-48 1h2m9 0h2m5 0h2m0 0h2m0 0h2m0 0h2m2 0h2m-1 0h2m-42 1h2m5 0h2m-1 0h2m2 0h2m2 0h2m-2 0h2m5 0h2m5 0h2m-19 1h2m2 0h2m5 0h2m4 0h2m-24 1h2m1 0h2m8 0h2m21 0h2m4 0h2m-44 1h2m0 0h2m9 0h2m3 0h2m-37 1h2m15 0h2m3 0h2m23 0h2m23 0h2m-36 1h2m14 2h2m2 0h2m-12 1h2m11 0h2m-68 2h2m21 0h2m-12 1h2m2 0h2m-10 1h2m-18 1h2m8 0h2m18 2h2m6 1h2m-36 1h2" stroke="#bfbfbf" stroke-opacity="0.3" stroke-width="2.0" fill="none"/><path d="M1163 292h2m-2 2h2m-35 2h2m49 2h2m-24 2h2m-47 2h2m22 0h2m4 0h2m-26 1h2m26 0h2m8 0h2m-1 0h2m-51 1h2m28 0h2m2 0h2m12 0h2m4 0h2m2 0h2m5 0h2m-56 1h2m3 0h2m2 0h2m14 0h2m5 0h2m0 0h2m-38 1h2m13 0h2m-34 1h2m12 0h2m21 0h2m3 0h2m7 0h2m1 0h2m-26 1h2m-1 0h2m-31 1h2m-1 0h2m3 0h2m11 0h2m2 0h2m3 0h2m7 0h2m-1 0h2m10 0h2m-46 1h2m2 0h2m0 0h2m-1 0h2m6 0h2m0 0h2m10 0h2m-20 1h2m-2 0h2m2 0h2m4 0h2m24 0h2m-51 1h2m-1 0h2m13 0h2m-2 0h2m-1 0h2m-1 0h2m1 0h2m-1 0h2m-1 0h2m6 0h2m5 0h2m-54 1h2m5 0h2m6 0h2m10 0h2m3 0h2m0 0h2m8 0h2m-61 1h2m36 0h2m-2 0h2m4 0h2m0 0h2m8 0h2m-2 0h2m1 0h2m-44 1h2m11 0h2m7 0h2m0 0h2m0 0h2m-2 0h2m0 0h2m4 0h2m3 0h2m2 0h2m4 0h2m7 0h2m-63 1h2m3 0h2m-1 0h2m12 0h2m1 0h2m5 0h2m0 0h2m-2 0h2m-2 0h2m1 0h2m3 0h2m-1 0h2m-2 0h2m0 0h2m-27 1h2m-1 0h2m7 0h2m6 0h2m0 0h2m1 0h2m1 0h2m11 0h2m-32 1h2m0 0h2m2 0h2m-2 0h2m1 0h2m22 0h2m-55 1h2m4 0h2m9 0h2m17 0h2m4 0h2m7 0h2m-51 1h2m3 0h2m-1 0h2m-1 0h2m1 0h2m7 0h2m6 0h2m-47 1h2m16 0h2m-1 0h2m2 0h2m-2 0h2m13 0h2m11 0h2m-2 0h2m-50 1h2m17 0h2m2 0h2m-2 0h2m-1 0h2m11 0h2m-2 0h2m11 1h2m-32 1h2m10 0h2m1 0h2m-24 1h2m-1 1h2m-13 2h2m15 0h2m-1 0h2m4 0h2m-20 2h2m27 1h2" stroke="#bfbfbf" stroke-opacity="0.3" stroke-width="2.0" fill="none"/></g>
<g transform="scale(0.5)"><path d="M1117 326h2m46 3h2m-24 1h2m4 0h2m0 0h2m13 0h2m-1 1h2m0 1h2m-32 2h2m1 0h2m11 0h2m2 0h2m2 0h2m-25 1h2m-1 0h2m12 0h2m9 0h2m-28 1h2m5 0h2m8 0h2m-2 0h2m28 0h2m-53 1h2m9 0h2m2 0h2m0 0h2m2 0h2m2 0h2m-8 1h2m-20 1h2m12 0h2m4 0h2m3 0h2m9 0h2m-44 1h2m13 0h2m8 0h2m7 0h2" stroke="#bfbfbf" stroke-opacity="0.3" stroke-width="2.0" fill="none"/><path d="M1156 328h2m-13 2h2m23 0h2m-36 1h2m-1 0h2m7 1h2m14 0h2m4 0h2m6 0h2m-40 1h2m15 0h2m12 0h2m-12 1h2m5 0h2m-40 1h2m1 0h2m10 0h2m1 0h2m11 1h2m-2 0h2m1 0h2m3 0h2m-27 1h2m-7 1h2m-1 0h2m11 0h2m-2 0h2m9 0h2m3 0h2m-27 1h2m11 0h2m-2 0h2m-1 0h2m3 0h2m4 0h2m-20 1h2m7 2h2m4 0h2" stroke="#bfbfbf" stroke-opacity="0.3" stroke-width="2.0" fill="none"/><path d="M1142 329h2m6 0h2m-27 2h2m25 0h2m0 0h2m-19 1h2m21 0h2m-25 1h2m-9 1h2m24 0h2m0 0h2m9 0h2m-19 1h2m0 0h2m-1 0h2m2 0h2m11 0h2m0 0h2m0 0h2m-1 0h2m-38 1h2m7 0h2m7 0h2m3 0h2m-1 0h2m-2 0h2m11 0h2m-33 1h2m8 0h2m2 0h2m-11 1h2m6 0h2m-7 1h2m-13 1h2m5 0h2m25 2h2m-25 1h2" stroke="#bfbfbf" stroke-opacity="0.3" stroke-width="2.0" fill="none"/><path d="M1151 330h2m5 0h2m19 1h2m-23 1h2m-28 1h2m2 0h2m1 0h2m33 0h2m-2 0h2m-44 1h2m21 0h2m0 0h2m-2 0h2m9 0h2m-39 1h2m20 0h2m7 0h2m-23 1h2m7 0h2m4 0h2m4 0h2m-35 1h2m9 0h2m0 0h2m43 0h2m-46 1h2m3 0h2m25 0h2m-38 1h2m23 0h2m-36 1h2m15 2h2m4 0h2m2 0h2m-1 0h2m8 0h2m-14 2h2" stroke="#bfbfbf" stroke-opacity="0.3" stroke-width="2.0" fill="none"/></g>
<g transform="scale(0.5)"><path d="M1216 341h2m15 3h2m-56 2h2m-4 1h2m10 1h2m1 0h2m7 0h2m-33 1h2m28 0h2m0 0h2m14 0h2m-61 1h2m7 0h2m21 0h2m2 0h2m-10 1h2m-2 0h2m10 0h2m-31 1h2m13 0h2m2 0h2m2 0h2m14 0h2m4 0h2m-34 1h2m8 0h2m4 1h2m-1 0h2m-36 1h2m18 0h2m8 0h2m-31 1h2m-2 0h2m16 0h2m-2 0h2m21 0h2m-32 1h2m3 0h2m4 0h2m-8 1h2" stroke="#bfbfbf" stroke-opacity="0.3" stroke-width="2.0" fill="none"/><path d="M1212 343h2m-11 2h2m-23 1h2m-5 1h2m11 0h2m12 0h2m-28 1h2m15 0h2m-26 1h2m7 0h2m2 0h2m0 0h2m8 0h2m16 0h2m-65 1h2m4 1h2m21 0h2m0 0h2m0 0h2m0 0h2m5 0h2m13 0h2m-47 1h2m21 0h2m1 0h2m-27 1h2m6 1h2m7 0h2m0 0h2m4 0h2m-15 1h2m0 0h2m35 0h2m-34 1h2m4 0h2m-17 1h2m5 0h2m1 0h2m-7 1h2m-34 3h2" stroke="#bfbfbf" stroke-opacity="0.3" stroke-width="2.0" fill="none"/><path d="M1162 345h2m30 1h2m19 0h2m3 0h2m-32 1h2m16 1h2m-2 0h2m-24 1h2m25 0h2m-50 1h2m8 0h2m1 0h2m-2 0h2m15 0h2m-24 1h2m13 0h2m-33 1h2m31 0h2m-18 1h2m21 0h2m9 0h2m-24 1h2m-1 0h2m0 0h2m-1 0h2m9 0h2m2 0h2m9 0h2m-48 1h2m-2 0h2m7 0h2m3 0h2m23 0h2m-14 1h2m4 1h2m-44 1h2m12 0h2m16 0h2m13 0h2m-37 1h2" stroke="#bfbfbf" stroke-opacity="0.3" stroke-width="2.0" fill="none"/><path d="M1203 344h2m-4 1h2m1 0h2m3 0h2m-36 2h2m10 1h2m10 0h2m-2 0h2m3 0h2m0 0h2m3 0h2m-7 2h2m-35 1h2m-1 0h2m4 0h2m2 0h2m11 0h2m4 0h2m2 0h2m-34 1h2m24 0h2m-30 1h2m4 0h2m4 0h2m1 0h2m27 0h2m-58 1h2m3 0h2m10 0h2m1 0h2m0 0h2m-31 2h2m19 0h2m11 0h2m-3 1h2m-24 2h2m19 0h2m15 0h2m-31 4h2m-10 1h2" stroke="#bfbfbf" stroke-opacity="0.3" stroke-width="2.0" fill="none"/></g>
<g transform="scale(0.5)"><path d="M1217 363h2m-3 1h2m25 0h2m-20 1h2m-20 1h2m22 0h2m26 0h2m-54 2h2m10 0h2m-21 1h2m13 0h2m16 0h2m3 0h2m-31 1h2m11 0h2m0 0h2m-1 0h2m-19 1h2m5 0h2m11 0h2m-37 1h2m11 0h2m11 0h2m2 0h2m11 0h2m2 0h2m14 0h2m-66 1h2m30 1h2m5 0h2" stroke="#bfbfbf" stroke-opacity="0.3" stroke-width="2.0" fill="none"/><path d="M1213 359h2m10 4h2m2 0h2m1 1h2m-27 1h2m25 0h2m-20 1h2m-9 1h2m16 0h2m2 0h2m-1 0h2m9 0h2m-36 1h2m1 0h2m2 0h2m16 0h2m1 0h2m-2 0h2m1 0h2m-24 1h2m0 0h2m-1 1h2m-15 1h2m3 0h2m21 0h2m14 0h2m-31 1h2m36 0h2m-62 1h2m0 4h2" stroke="#bfbfbf" stroke-opacity="0.3" stroke-width="2.0" fill="none"/><path d="M1229 358h2m-19 4h2m-1 1h2m3 1h2m19 0h2m-2 0h2m-49 1h2m69 0h2m-67 1h2m43 0h2m-1 0h2m-47 1h2m29 0h2m3 0h2m-22 1h2m-15 1h2m26 0h2m-1 0h2m-47 1h2m36 0h2m-13 1h2m1 0h2m6 0h2m3 0h2m4 0h2m20 1h2m-39 1h2m-1 0h2m21 2h2m-28 3h2" stroke="#bfbfbf" stroke-opacity="0.3" stroke-width="2.0" fill="none"/><path d="M1232 363h2m-34 1h2m3 0h2m20 0h2m5 1h2m3 0h2m-43 1h2m10 0h2m-1 0h2m16 0h2m-14 1h2m5 0h2m0 0h2m-13 1h2m17 0h2m-1 0h2m1 0h2m7 0h2m4 0h2m-44 1h2m-1 0h2m4 0h2m-2 1h2m-13 1h2m-1 0h2m3 0h2m29 0h2m-44 1h2m17 1h2m29 1h2" stroke="#bfbfbf" stroke-opacity="0.3" stroke-width="2.0" fill="none"/></g>
<g transform="scale(0.5)"><path d="M1271 368h2m-76 1h2m9 0h2m59 3h2m16 0h2m-50 4h2m40 0h2m-58 5h2m38 0h2m71 0h2m-127 1h2m50 0h2m-47 2h2m9 1h2m50 1h2m-45 1h2m9 0h2m-41 1h2m-16 1h2m57 0h2m-43 3h2m-14 1h2m3 0h2m24 0h2m5 0h2m-16 1h2m50 0h2m-66 1h2m34 0h2m-4 1h2m18 1h2m-37 2h2m2 0h2m20 0h2m-55 1h2m1 0h2m2 0h2m8 0h2m48 0h2m-2 0h2m-65 1h2m36 0h2m17 0h2m2 0h2m-18 1h2m17 0h2m-39 1h2m-27 1h2m19 0h2m-29 1h2m93 0h2m-49 1h2m-25 1h2m-1 0h2m12 0h2m3 0h2m2 0h2m3 0h2m-29 1h2m6 0h2m0 0h2m-1 0h2m6 0h2m-3 1h2m10 0h2m0 0h2m-33 1h2m12 0h2m-8 1h2m2 0h2m-1 0h2m13 0h2m5 0h2m8 0h2m7 0h2m-51 1h2m21 0h2m14 0h2m9 0h2m-44 1h2m4 0h2m23 0h2m-77 1h2m34 0h2m28 0h2m11 0h2m-45 1h2m27 0h2m6 0h2m4 0h2m8 0h2m-103 1h2m39 0h2m4 0h2m-1 0h2m8 0h2m1 0h2m21 0h2m0 0h2m-52 1h2m33 0h2m21 0h2m-57 1h2m17 0h2m26 0h2m15 0h2m-38 1h2m-49 1h2m11 0h2m27 0h2m24 0h2m-49 1h2m37 0h2m-79 1h2m26 0h2m35 0h2m5 0h2m6 0h2m-56 1h2m33 2h2m0 0h2m-33 1h2m9 0h2m28 0h2m14 0h2m-45 1h2m13 0h2m17 0h2m-1 0h2m-53 1h2m11 0h2m28 0h2m-13 1h2m4 0h2m21 0h2m-42 1h2m3 0h2m17 0h2m-26 1h2m-76 2h2m81 0h2m-15 2h2m55 2h2m-78 1h2m19 0h2m34 0h2m5 0h2m-51 1h2m46 1h2m-15 1h2m-42 1h2m16 3h2m9 1h2m15 1h2m-48 2h2m25 0h2m-57 4h2m25 0h2m30 0h2m55 5h2m-96 3h2" stroke="#bfbfbf" stroke-opacity="0.28" stroke-width="2.0" fill="none"/><path d="M1215 361h2m29 6h2m-34 5h2m-15 6h2m42 0h2m-2 0h2m21 3h2m-8 2h2m19 1h2m-67 3h2m26 0h2m-23 1h2m26 0h2m33 0h2m-105 1h2m23 0h2m30 0h2m-20 1h2m28 1h2m50 1h2m-60 1h2m39 0h2m-96 1h2m28 0h2m-18 1h2m43 1h2m-15 2h2m8 0h2m7 0h2m-30 1h2m-26 1h2m12 0h2m5 1h2m46 0h2m-69 1h2m8 0h2m32 0h2m19 0h2m6 0h2m-38 1h2m11 0h2m3 0h2m-36 1h2m35 0h2m-40 1h2m-1 0h2m1 0h2m6 0h2m6 0h2m-67 1h2m60 0h2m8 0h2m-28 1h2m-2 0h2m-1 0h2m29 0h2m32 0h2m-48 1h2m11 0h2m22 0h2m-37 1h2m18 0h2m-32 1h2m20 0h2m1 1h2m-24 1h2m3 0h2m-30 1h2m14 0h2m11 2h2m-23 1h2m40 0h2m-31 1h2m21 0h2m25 0h2m-48 1h2m7 0h2m7 0h2m-2 0h2m-76 1h2m34 0h2m6 0h2m16 0h2m7 0h2m1 0h2m24 0h2m-71 2h2m9 0h2m33 0h2m-65 2h2m43 0h2m2 0h2m11 0h2m-7 1h2m14 0h2m1 0h2m4 1h2m-36 1h2m-1 0h2m29 0h2m9 0h2m-79 1h2m69 0h2m-39 1h2m9 0h2m5 0h2m-22 1h2m2 0h2m32 0h2m-72 1h2m17 0h2m22 0h2m3 0h2m26 0h2m21 0h2m-60 1h2m8 0h2m-52 1h2m35 0h2m6 0h2m-81 1h2m33 0h2m38 1h2m53 0h2m-41 1h2m-17 1h2m5 1h2m21 0h2m12 0h2m-55 1h2m-7 1h2m-23 1h2m1 0h2m3 0h2m28 0h2m-48 1h2m-3 2h2m30 0h2m36 0h2m24 1h2m-46 1h2m20 1h2m-54 1h2m31 0h2m17 1h2m1 0h2m4 0h2m9 1h2m16 1h2m-81 1h2m45 1h2m-33 1h2m19 1h2m-30 2h2m0 0h2m5 0h2m21 1h2m-29 4h2m3 0h2m4 1h2m44 4h2" stroke="#bfbfbf" stroke-opacity="0.28" stroke-width="2.0" fill="none"/><path d="M1253 375h2m38 4h2m-65 1h2m-2 2h2m63 1h2m-46 1h2m-54 1h2m36 3h2m59 0h2m9 0h2m-90 1h2m-13 2h2m-8 1h2m57 0h2m-22 2h2m-1 1h2m-41 1h2m26 2h2m28 0h2m11 0h2m2 0h2m-85 2h2m70 1h2m-53 1h2m11 0h2m10 0h2m-5 1h2m0 0h2m5 1h2m9 0h2m31 0h2m-77 1h2m0 0h2m13 0h2m23 0h2m-1 0h2m8 0h2m-13 1h2m-69 1h2m32 0h2m7 0h2m18 0h2m27 0h2m-37 2h2m49 0h2m-87 1h2m34 0h2m-35 2h2m11 0h2m20 0h2m15 0h2m6 0h2m23 0h2m-55 1h2m0 0h2m-2 0h2m16 0h2m9 0h2m-24 1h2m0 0h2m15 0h2m-33 1h2m8 0h2m12 0h2m-12 1h2m18 0h2m-55 1h2m2 0h2m37 1h2m4 0h2m-74 1h2m12 0h2m13 0h2m2 0h2m8 0h2m15 0h2m14 0h2m7 0h2m-45 1h2m10 0h2m33 0h2m-53 1h2m-2 0h2m-13 1h2m23 0h2m4 0h2m15 0h2m21 0h2m6 0h2m1 0h2m-59 1h2m-44 1h2m4 0h2m8 0h2m85 0h2m-101 1h2m32 1h2m16 0h2m6 0h2m-45 1h2m15 0h2m4 0h2m13 0h2m21 0h2m20 0h2m-135 1h2m25 0h2m5 0h2m24 0h2m8 0h2m21 0h2m-33 1h2m21 0h2m-11 1h2m-62 1h2m90 0h2m-73 1h2m21 0h2m-1 0h2m3 0h2m13 0h2m-47 1h2m30 0h2m6 0h2m33 0h2m3 1h2m-27 2h2m25 0h2m-30 1h2m26 1h2m-86 1h2m37 0h2m-27 1h2m52 0h2m11 0h2m-66 1h2m43 0h2m-65 1h2m62 1h2m23 0h2m-50 1h2m35 0h2m-15 1h2m-34 1h2m13 0h2m-21 1h2m1 0h2m-26 1h2m64 1h2m9 0h2m-41 2h2m-58 2h2m64 0h2m5 1h2m7 0h2m-79 2h2m36 0h2m9 0h2m22 0h2m-41 3h2m12 4h2" stroke="#bfbfbf" stroke-opacity="0.28" stroke-width="2.0" fill="none"/><path d="M1219 365h2m42 5h2m-2 0h2m-72 3h2m27 3h2m14 1h2m4 0h2m21 0h2m-59 2h2m25 0h2m-25 2h2m28 1h2m1 2h2m58 0h2m-67 1h2m-5 1h2m-25 2h2m28 0h2m7 0h2m-33 2h2m20 0h2m-7 1h2m43 1h2m-52 1h2m23 1h2m-22 2h2m2 1h2m3 0h2m-41 1h2m22 0h2m28 0h2m3 0h2m-61 2h2m42 0h2m-23 1h2m2 0h2m46 1h2m-54 1h2m8 0h2m18 0h2m-17 1h2m-33 1h2m49 0h2m4 0h2m15 0h2m-131 1h2m56 0h2m31 0h2m1 0h2m30 0h2m-64 1h2m4 0h2m-1 0h2m6 0h2m15 0h2m-15 1h2m21 0h2m-55 1h2m28 0h2m50 0h2m-13 1h2m-69 1h2m20 0h2m16 0h2m-20 1h2m22 0h2m16 0h2m0 0h2m28 0h2m-103 1h2m32 0h2m-11 1h2m-13 1h2m20 0h2m-2 0h2m7 0h2m-40 1h2m17 0h2m-1 0h2m-11 1h2m46 0h2m-1 0h2m-83 1h2m26 0h2m10 0h2m26 0h2m-1 0h2m-50 1h2m18 0h2m0 0h2m13 0h2m31 0h2m-85 2h2m16 0h2m46 0h2m-45 1h2m4 0h2m7 0h2m12 0h2m49 0h2m-59 1h2m6 0h2m40 0h2m-65 2h2m4 0h2m2 0h2m55 0h2m-73 1h2m7 0h2m4 0h2m6 0h2m-15 1h2m24 0h2m21 0h2m-62 1h2m8 0h2m10 0h2m22 0h2m-95 1h2m31 0h2m19 0h2m-1 0h2m12 1h2m47 0h2m-52 1h2m27 0h2m-23 2h2m7 0h2m0 0h2m-23 1h2m-22 1h2m-13 1h2m8 1h2m17 0h2m-7 1h2m1 0h2m20 0h2m2 0h2m-42 1h2m47 0h2m2 0h2m-51 1h2m43 1h2m-73 1h2m81 1h2m-31 1h2m20 0h2m8 0h2m-61 4h2m2 0h2m-27 1h2m63 0h2m-27 1h2m40 0h2m-93 3h2m29 0h2m42 0h2m-36 1h2m-31 2h2m46 5h2" stroke="#bfbfbf" stroke-opacity="0.28" stroke-width="2.0" fill="none"/></g>
<g transform="scale(0.5)"><path d="M938 315h2m-28 2h2m12 1h2m-1 0h2m-2 0h2m-24 1h2m28 0h2m-32 1h2m7 0h2m13 0h2m-9 1h2m8 0h2m1 0h2m-27 1h2m1 0h2m2 1h2m-14 1h2m8 0h2m2 0h2m7 0h2m9 0h2m-34 1h2m8 0h2m3 0h2m4 0h2m-26 1h2m14 0h2m5 0h2m-2 0h2m7 1h2m-29 1h2m-14 1h2m14 0h2m5 1h2m-14 1h2" stroke="#bfbfbf" stroke-opacity="0.35" stroke-width="2.0" fill="none"/><path d="M943 316h2m4 0h2m-36 2h2m9 1h2m-9 1h2m2 0h2m0 0h2m2 0h2m5 0h2m1 0h2m-22 1h2m12 0h2m-20 1h2m4 0h2m0 0h2m4 0h2m-26 1h2m19 0h2m0 1h2m1 0h2m7 0h2m-30 1h2m-26 1h2m24 0h2m12 0h2m2 0h2m-15 1h2m4 0h2m1 0h2m-23 1h2m1 1h2m7 0h2m0 1h2m-40 6h2m33 1h2" stroke="#bfbfbf" stroke-opacity="0.35" stroke-width="2.0" fill="none"/><path d="M935 318h2m10 0h2m-34 1h2m9 1h2m9 0h2m-30 1h2m13 0h2m0 0h2m4 0h2m16 0h2m-30 1h2m0 0h2m14 0h2m-51 1h2m19 0h2m-2 0h2m19 0h2m-7 1h2m1 0h2m-1 0h2m5 0h2m-41 1h2m23 0h2m-26 1h2m6 0h2m1 0h2m3 0h2m0 0h2m-1 0h2m-2 0h2m-26 1h2m9 0h2m9 0h2m7 3h2m4 3h2" stroke="#bfbfbf" stroke-opacity="0.35" stroke-width="2.0" fill="none"/><path d="M933 319h2m-10 1h2m6 0h2m-17 1h2m0 0h2m4 0h2m5 0h2m-15 1h2m4 0h2m-14 1h2m0 0h2m0 0h2m2 0h2m4 0h2m-4 1h2m-21 1h2m5 0h2m1 0h2m11 0h2m-31 1h2m22 0h2m-34 1h2m25 0h2m1 0h2m13 0h2m-58 1h2m13 0h2m4 0h2m8 0h2m7 1h2m5 0h2m-17 1h2m-10 1h2m2 0h2m23 0h2" stroke="#bfbfbf" stroke-opacity="0.35" stroke-width="2.0" fill="none"/></g>
<g transform="scale(0.5)"><path d="M903 338h2m-3 1h2m4 0h2m-10 1h2m8 0h2m2 1h2m-19 1h2m-4 1h2m8 0h2m-11 1h2m10 0h2m6 0h2m5 0h2m-25 1h2m-1 0h2m-2 2h2m-1 0h2m-2 0h2m0 0h2m-2 0h2m5 1h2m-7 1h2m10 0h2" stroke="#bfbfbf" stroke-opacity="0.35" stroke-width="2.0" fill="none"/><path d="M902 340h2m2 0h2m0 0h2m-2 1h2m9 0h2m-22 1h2m1 1h2m-2 0h2m-1 0h2m0 0h2m-10 1h2m1 0h2m2 0h2m1 0h2m12 0h2m-24 2h2m0 0h2m4 1h2m0 0h2m0 0h2m3 0h2m-11 3h2m4 0h2" stroke="#bfbfbf" stroke-opacity="0.35" stroke-width="2.0" fill="none"/><path d="M900 338h2m11 0h2m-6 2h2m1 0h2m3 0h2m-15 1h2m0 2h2m-1 0h2m-1 0h2m0 0h2m-8 1h2m1 0h2m-3 1h2m1 0h2m2 0h2m-1 0h2m-15 1h2m0 0h2m-1 0h2m10 1h2m3 0h2m-21 4h2" stroke="#bfbfbf" stroke-opacity="0.35" stroke-width="2.0" fill="none"/><path d="M902 342h2m0 1h2m3 0h2m8 0h2m-27 1h2m11 0h2m-2 0h2m-13 1h2m11 0h2m-16 1h2m3 0h2m3 0h2m3 0h2m-13 1h2m1 0h2m1 0h2m-9 1h2m7 0h2m-1 0h2m-3 1h2m3 0h2m-6 1h2" stroke="#bfbfbf" stroke-opacity="0.35" stroke-width="2.0" fill="none"/></g>
<g transform="scale(0.5)"><path d="M1149 116h2m20 10h2m22 1h2m-63 1h2m11 2h2m2 1h2m10 7h2m-19 1h2m19 3h2m-25 1h2m17 0h2m-58 1h2m60 2h2m-24 1h2m-10 1h2m39 0h2m-46 1h2m28 0h2m1 0h2m4 1h2m1 0h2m1 2h2m16 0h2m-48 1h2m23 1h2m-64 1h2m7 2h2m76 3h2m-109 1h2m79 2h2m-26 1h2m2 1h2m-54 2h2m-1 0h2m27 0h2m17 0h2m-22 3h2m13 0h2m-31 1h2m8 0h2m0 0h2m-13 1h2m0 1h2m32 1h2m-41 2h2m22 0h2m11 0h2m3 1h2m4 0h2m-38 1h2m-13 1h2m10 0h2m-41 2h2m36 0h2m57 0h2m-81 3h2m0 3h2m26 0h2m0 0h2m8 0h2m15 0h2m-12 1h2m-92 2h2m73 2h2m59 1h2m-80 3h2m5 2h2m8 0h2m-27 3h2m-20 1h2m-13 2h2m60 2h2m-35 1h2m-42 1h2m18 12h2" stroke="#bfbfbf" stroke-opacity="0.16" stroke-width="2.0" fill="none"/><path d="M1167 99h2m-37 9h2m5 19h2m15 0h2m-6 4h2m-42 4h2m42 0h2m-14 3h2m23 0h2m-71 1h2m79 0h2m-76 3h2m13 1h2m51 0h2m-3 1h2m27 1h2m-124 1h2m65 0h2m59 0h2m-78 2h2m20 0h2m-38 2h2m0 1h2m32 2h2m-27 1h2m-36 1h2m19 0h2m32 0h2m-29 1h2m-5 1h2m42 1h2m-23 2h2m-20 1h2m24 0h2m3 1h2m33 0h2m-117 1h2m43 1h2m35 2h2m4 0h2m-32 1h2m67 0h2m-75 3h2m16 0h2m-21 2h2m14 0h2m-57 3h2m27 1h2m69 0h2m-109 1h2m92 0h2m-69 1h2m38 1h2m-30 4h2m22 0h2m39 0h2m-59 4h2m-32 1h2m61 1h2m2 0h2m-40 1h2m-83 1h2m118 1h2m-33 1h2m19 5h2m6 0h2m-35 2h2m47 7h2m-47 1h2m6 1h2m40 5h2m-85 1h2m63 7h2m-64 3h2m49 13h2" stroke="#bfbfbf" stroke-opacity="0.16" stroke-width="2.0" fill="none"/><path d="M1151 100h2m-3 14h2m-11 9h2m-11 2h2m61 0h2m-63 2h2m7 0h2m46 1h2m-50 1h2m19 0h2m-7 2h2m-35 1h2m-1 1h2m49 9h2m-54 5h2m57 1h2m-49 1h2m8 1h2m-32 1h2m64 0h2m-68 1h2m8 0h2m1 0h2m-14 1h2m8 2h2m19 0h2m-24 1h2m0 0h2m0 0h2m24 1h2m-41 2h2m48 0h2m-17 1h2m15 0h2m-58 1h2m23 0h2m-1 0h2m31 0h2m-52 1h2m28 0h2m-33 1h2m11 0h2m65 0h2m-80 1h2m19 1h2m1 0h2m6 0h2m-73 1h2m7 0h2m48 0h2m1 0h2m-12 1h2m3 1h2m-1 1h2m0 1h2m-67 1h2m54 1h2m23 1h2m-8 3h2m-58 1h2m13 1h2m-8 3h2m74 1h2m-76 3h2m47 0h2m-15 2h2m9 1h2m15 0h2m-49 6h2m32 0h2m-42 1h2m-14 2h2m27 3h2m-3 2h2m-24 6h2" stroke="#bfbfbf" stroke-opacity="0.16" stroke-width="2.0" fill="none"/><path d="M1156 108h2m-25 6h2m20 0h2m-9 2h2m-36 1h2m11 0h2m33 3h2m-10 6h2m7 0h2m-40 1h2m16 0h2m4 6h2m-39 1h2m56 0h2m-57 2h2m39 1h2m-47 1h2m9 0h2m30 2h2m-7 6h2m6 2h2m-36 1h2m15 1h2m-45 1h2m22 0h2m67 4h2m-50 2h2m-11 2h2m22 1h2m-41 1h2m26 0h2m10 0h2m14 2h2m-65 1h2m39 0h2m-19 2h2m-57 1h2m85 0h2m7 0h2m-26 1h2m16 1h2m-25 1h2m31 1h2m-63 1h2m31 0h2m11 0h2m-1 0h2m8 0h2m0 0h2m-66 1h2m17 2h2m41 2h2m-87 2h2m88 0h2m-66 1h2m-2 0h2m-1 1h2m24 3h2m-16 3h2m41 0h2m-19 3h2m40 0h2m-56 1h2m-30 1h2m24 1h2m9 0h2m-21 7h2m-51 1h2m31 2h2m-12 2h2m5 1h2m73 4h2m-28 1h2m42 8h2m-88 7h2" stroke="#bfbfbf" stroke-opacity="0.16" stroke-width="2.0" fill="none"/></g>
<g transform="scale(0.5)"><path d="M1172 124h2m15 1h2m-38 2h2m3 1h2m6 0h2m2 0h2m-12 1h2m8 0h2m-15 1h2m10 0h2m8 0h2m-27 1h2m1 0h2m20 0h2m-30 1h2m-2 0h2m6 0h2m-1 0h2m12 0h2m-16 1h2m11 0h2m-42 1h2m17 0h2m18 0h2m4 0h2m-30 1h2m2 0h2m30 0h2m-20 1h2m-33 1h2m7 0h2m2 0h2m1 0h2m-1 0h2m7 0h2m2 0h2m13 0h2m-46 1h2m-2 0h2m3 0h2m-1 0h2m9 1h2m18 1h2m-71 1h2m18 0h2m6 0h2m0 0h2m-9 1h2m11 0h2m-11 1h2m12 0h2m0 0h2m1 0h2m-22 1h2m0 0h2m22 0h2m-41 1h2m18 0h2m-19 1h2m3 0h2m2 0h2m9 0h2m-4 2h2m-1 0h2m-15 1h2m6 0h2m-17 1h2m10 0h2m11 0h2m-41 8h2" stroke="#bfbfbf" stroke-opacity="0.25" stroke-width="2.0" fill="none"/><path d="M1171 124h2m-29 4h2m8 2h2m3 0h2m-32 1h2m11 0h2m27 0h2m-28 2h2m0 0h2m0 0h2m11 0h2m9 0h2m5 0h2m-44 1h2m11 0h2m-9 1h2m0 0h2m7 0h2m1 0h2m6 0h2m-34 1h2m20 0h2m3 0h2m13 0h2m-38 1h2m-12 1h2m6 0h2m36 0h2m-57 1h2m14 0h2m0 0h2m15 0h2m5 0h2m-17 1h2m0 0h2m1 0h2m-24 1h2m-1 0h2m-2 0h2m-1 0h2m23 0h2m3 0h2m6 0h2m-36 1h2m5 0h2m1 0h2m-29 1h2m25 0h2m3 0h2m-33 1h2m5 0h2m9 1h2m7 0h2m-40 1h2m4 1h2m1 0h2m2 0h2m0 1h2m-5 1h2m7 0h2m1 0h2m10 0h2m2 0h2m-23 1h2m6 1h2m-18 1h2m-14 1h2m20 0h2m-30 1h2m-13 10h2" stroke="#bfbfbf" stroke-opacity="0.25" stroke-width="2.0" fill="none"/><path d="M1173 122h2m-4 1h2m-17 1h2m5 0h2m-5 2h2m12 0h2m19 1h2m-62 2h2m18 0h2m9 0h2m-2 0h2m18 0h2m-37 2h2m4 0h2m4 0h2m15 0h2m-14 1h2m-2 0h2m-2 0h2m-41 1h2m7 1h2m6 0h2m5 0h2m1 0h2m-1 0h2m2 0h2m13 0h2m-39 1h2m0 0h2m9 0h2m-15 1h2m2 0h2m-1 0h2m0 1h2m4 0h2m0 0h2m3 0h2m1 0h2m-20 1h2m11 0h2m8 0h2m-58 1h2m22 0h2m7 0h2m22 0h2m-38 1h2m-1 0h2m0 0h2m36 0h2m-54 1h2m15 0h2m3 0h2m-19 1h2m21 0h2m-16 1h2m-27 1h2m15 0h2m23 0h2m4 0h2m5 1h2m-41 1h2m15 0h2m3 0h2m-39 2h2m15 0h2m11 0h2m-19 1h2m-13 1h2m18 2h2m-34 8h2" stroke="#bfbfbf" stroke-opacity="0.25" stroke-width="2.0" fill="none"/><path d="M1173 123h2m-7 3h2m-16 1h2m9 1h2m14 0h2m-23 1h2m3 0h2m3 1h2m6 0h2m-19 2h2m-1 0h2m-2 0h2m-29 1h2m7 0h2m-1 0h2m-12 1h2m-1 0h2m6 0h2m32 0h2m-38 1h2m-14 1h2m8 0h2m16 0h2m-28 1h2m11 0h2m-20 1h2m4 0h2m22 0h2m-11 1h2m7 0h2m-37 1h2m4 0h2m0 0h2m8 0h2m15 0h2m7 0h2m10 0h2m-33 1h2m1 0h2m-14 1h2m5 0h2m0 0h2m2 0h2m-49 1h2m25 0h2m1 0h2m5 0h2m3 0h2m-39 1h2m18 0h2m19 0h2m-30 1h2m8 0h2m-30 1h2m0 0h2m26 0h2m-6 1h2m-15 1h2m7 0h2m-26 1h2m29 0h2m-6 1h2m2 0h2m-17 1h2m-12 1h2m22 0h2m-4 2h2m-25 1h2m42 0h2m-36 5h2" stroke="#bfbfbf" stroke-opacity="0.25" stroke-width="2.0" fill="none"/></g>
<g transform="scale(0.5)"><path d="M1216 144h2m5 3h2m-53 1h2m1 1h2m8 1h2m8 1h2m-11 1h2m-5 1h2m-1 0h2m-26 1h2m31 0h2m-6 1h2m2 0h2m-26 1h2m2 0h2m27 0h2m-13 1h2m0 0h2m-32 1h2m30 0h2m-24 1h2m-5 1h2m14 0h2m11 0h2m-1 0h2m-55 1h2m11 0h2m3 0h2m25 0h2m-37 1h2m28 0h2m-15 1h2m5 0h2m14 0h2m-33 1h2m-15 1h2m14 1h2m3 0h2m2 0h2m3 0h2m-36 1h2m34 1h2m-18 1h2m10 0h2m4 0h2m-27 1h2m0 0h2m-1 0h2m3 0h2m-2 0h2m-15 1h2m43 0h2m-41 1h2m1 0h2m8 0h2m-27 2h2m28 5h2m-20 1h2" stroke="#bfbfbf" stroke-opacity="0.25" stroke-width="2.0" fill="none"/><path d="M1202 147h2m-15 3h2m-24 1h2m2 0h2m25 1h2m-9 1h2m20 0h2m-37 1h2m15 0h2m18 0h2m-48 1h2m2 0h2m15 0h2m-16 1h2m8 0h2m8 0h2m-24 1h2m3 0h2m4 0h2m-2 0h2m-20 1h2m8 0h2m5 1h2m1 0h2m3 0h2m10 0h2m-27 1h2m-26 1h2m12 0h2m18 0h2m-28 1h2m6 0h2m-15 1h2m18 0h2m15 1h2m-1 0h2m-45 1h2m11 0h2m2 0h2m7 0h2m-1 0h2m4 0h2m0 0h2m-28 1h2m7 0h2m10 0h2m-20 1h2m5 0h2m26 0h2m-52 1h2m-1 1h2m27 0h2m-28 1h2m-2 0h2m41 0h2m-36 2h2m-28 10h2m8 0h2" stroke="#bfbfbf" stroke-opacity="0.25" stroke-width="2.0" fill="none"/><path d="M1224 148h2m5 0h2m-53 2h2m12 2h2m2 0h2m3 0h2m17 1h2m-44 1h2m-6 1h2m5 0h2m-1 0h2m14 0h2m-9 1h2m-26 1h2m3 1h2m8 0h2m16 0h2m-16 1h2m16 0h2m-31 1h2m-26 2h2m25 0h2m-8 1h2m16 0h2m-37 1h2m6 0h2m-1 0h2m-1 0h2m19 0h2m-23 1h2m5 0h2m-1 0h2m3 0h2m5 0h2m23 0h2m-75 1h2m4 0h2m2 0h2m3 0h2m13 0h2m21 0h2m-4 1h2m-26 1h2m4 0h2m12 0h2m6 0h2m-38 1h2m3 0h2m3 0h2m-25 1h2m17 0h2m38 0h2m-33 1h2m-17 2h2m8 2h2m-2 3h2m-49 5h2" stroke="#bfbfbf" stroke-opacity="0.25" stroke-width="2.0" fill="none"/><path d="M1200 144h2m-11 1h2m2 1h2m-8 1h2m-11 3h2m21 1h2m0 0h2m-23 1h2m-17 1h2m34 1h2m14 0h2m-1 0h2m-68 1h2m24 0h2m-10 1h2m8 0h2m0 1h2m2 1h2m-37 1h2m48 0h2m-28 1h2m10 0h2m-37 2h2m6 0h2m5 0h2m0 0h2m4 0h2m1 0h2m3 0h2m-1 0h2m9 0h2m8 0h2m-56 1h2m15 0h2m-1 0h2m0 0h2m-20 1h2m-2 0h2m-6 1h2m6 0h2m15 0h2m-36 1h2m2 0h2m6 0h2m2 0h2m0 0h2m12 0h2m-16 1h2m-19 1h2m8 0h2m21 1h2m-37 2h2m21 0h2m-17 1h2m13 1h2m2 1h2m-5 3h2" stroke="#bfbfbf" stroke-opacity="0.25" stroke-width="2.0" fill="none"/></g>
<g transform="scale(0.5)"><path d="M1083 210h2m1 4h2m11 0h2m-11 2h2m12 1h2m-21 1h2m22 2h2m-37 1h2m-10 2h2m29 0h2m1 0h2m-29 3h2m17 0h2m2 0h2m1 1h2m-39 2h2m29 0h2m4 0h2m-55 1h2m40 0h2m18 0h2m-16 1h2m-31 1h2m28 2h2m-1 0h2m13 0h2m13 0h2m-15 1h2m15 0h2m-64 1h2m30 0h2m4 0h2m-43 1h2m25 0h2m-7 1h2m16 0h2m-18 1h2m2 0h2m-24 1h2m8 0h2m5 0h2m-1 0h2m11 0h2m9 0h2m-58 1h2m31 1h2m-2 1h2m-36 1h2m25 0h2m7 1h2m22 0h2m-21 1h2m-40 1h2m31 0h2m-5 2h2m18 0h2m-34 1h2m6 0h2m-20 4h2m0 0h2m-1 0h2m10 11h2m-4 7h2" stroke="#bfbfbf" stroke-opacity="0.2" stroke-width="2.0" fill="none"/><path d="M1111 195h2m-55 10h2m27 5h2m15 0h2m-12 2h2m7 2h2m-17 2h2m-18 1h2m34 2h2m-23 2h2m19 0h2m-55 1h2m30 1h2m8 0h2m5 0h2m-7 1h2m13 0h2m-35 1h2m1 2h2m5 0h2m14 0h2m-41 1h2m26 0h2m-51 2h2m47 0h2m23 0h2m-53 1h2m20 0h2m-32 1h2m0 0h2m5 0h2m8 0h2m-6 1h2m13 0h2m-9 1h2m-11 1h2m8 0h2m16 0h2m10 0h2m-32 1h2m-5 1h2m-1 0h2m20 2h2m2 0h2m4 0h2m5 0h2m-10 1h2m-1 0h2m0 0h2m-42 1h2m27 0h2m-34 2h2m0 0h2m20 1h2m-23 1h2m-14 1h2m14 3h2m28 3h2m-46 3h2m24 1h2m-2 1h2m-7 8h2m21 9h2" stroke="#bfbfbf" stroke-opacity="0.2" stroke-width="2.0" fill="none"/><path d="M1073 204h2m30 2h2m-26 2h2m16 4h2m-10 3h2m-12 2h2m11 0h2m4 0h2m1 1h2m-14 1h2m-15 1h2m32 0h2m-14 1h2m22 0h2m-18 1h2m-47 1h2m15 0h2m6 0h2m-22 2h2m6 2h2m13 0h2m5 0h2m2 1h2m-40 1h2m23 3h2m9 0h2m0 0h2m-24 1h2m15 0h2m5 0h2m-43 2h2m19 0h2m20 0h2m12 0h2m-34 1h2m-17 1h2m2 0h2m16 0h2m-6 1h2m-8 1h2m1 0h2m0 1h2m8 0h2m-22 1h2m-6 1h2m-7 1h2m15 0h2m5 1h2m-4 1h2m-7 1h2m-1 0h2m-21 3h2m6 2h2m39 1h2m-24 1h2m-16 1h2m25 3h2m-44 2h2m20 0h2m-16 2h2m11 1h2m10 4h2" stroke="#bfbfbf" stroke-opacity="0.2" stroke-width="2.0" fill="none"/><path d="M1061 202h2m11 5h2m26 5h2m14 0h2m-34 7h2m-7 2h2m-10 1h2m6 0h2m5 0h2m-11 1h2m-17 2h2m11 0h2m18 0h2m-1 2h2m-34 1h2m-2 0h2m54 0h2m3 0h2m-75 1h2m27 0h2m-9 1h2m-8 1h2m22 0h2m5 0h2m-40 1h2m24 0h2m12 0h2m-18 1h2m-18 1h2m-14 1h2m30 0h2m12 0h2m-50 1h2m18 0h2m10 0h2m4 1h2m-25 1h2m15 0h2m-39 1h2m11 0h2m8 0h2m24 0h2m-3 2h2m7 0h2m-5 5h2m11 0h2m-46 2h2m11 0h2m0 1h2m8 1h2m-16 2h2m-17 2h2m19 0h2m-19 1h2m16 0h2m-63 1h2m44 0h2m9 1h2m8 0h2m-44 5h2m34 3h2m9 0h2" stroke="#bfbfbf" stroke-opacity="0.2" stroke-width="2.0" fill="none"/></g>
<g transform="scale(0.5)"><path d="M1088 168h2m37 1h2m-40 2h2m16 4h2m23 0h2m-17 3h2m-1 2h2m-56 1h2m34 1h2m0 0h2m-6 2h2m5 1h2m4 0h2m-25 1h2m-1 2h2m26 0h2m0 0h2m-41 4h2m25 0h2m-25 2h2m3 0h2m27 0h2m-2 1h2m-1 0h2m-34 1h2m27 1h2m17 2h2m-58 1h2m-19 1h2m49 0h2m2 1h2m-28 1h2m8 1h2m-19 1h2m35 1h2m-53 1h2m9 1h2m5 0h2m27 0h2m12 3h2m-28 1h2m-22 3h2m23 0h2m-23 1h2m11 0h2m20 0h2m-36 2h2m41 0h2m5 1h2m-30 2h2m-25 1h2m26 0h2m-2 0h2m-14 3h2m6 0h2m-23 1h2m7 0h2m12 0h2m-21 2h2m9 1h2m-19 1h2m13 4h2m16 0h2m-26 2h2m11 1h2m10 1h2m-6 2h2m-70 1h2m35 0h2m40 0h2m12 1h2m-63 1h2m26 2h2m13 2h2m-21 3h2" stroke="#bfbfbf" stroke-opacity="0.18" stroke-width="2.0" fill="none"/><path d="M1125 152h2m-34 14h2m24 2h2m-1 7h2m-31 2h2m6 1h2m-11 3h2m17 1h2m-1 0h2m5 0h2m-31 3h2m14 3h2m2 1h2m14 3h2m-1 0h2m2 1h2m-15 1h2m-13 1h2m-12 1h2m18 0h2m-5 1h2m-13 1h2m-34 2h2m73 0h2m-65 1h2m29 0h2m4 1h2m-43 1h2m19 1h2m11 2h2m6 0h2m-48 1h2m4 0h2m23 0h2m-5 1h2m-31 1h2m48 1h2m-45 1h2m30 0h2m-34 1h2m47 0h2m-43 1h2m16 0h2m20 0h2m-15 1h2m11 1h2m-47 2h2m-1 0h2m-2 0h2m-3 1h2m16 0h2m3 0h2m4 1h2m-16 2h2m-16 3h2m18 0h2m31 0h2m-1 0h2m-23 2h2m2 0h2m-7 1h2m-43 2h2m9 1h2m13 0h2m-9 3h2m21 1h2m-6 3h2m3 4h2m-24 2h2m4 0h2m-35 1h2m7 1h2m29 0h2m-23 2h2m15 10h2" stroke="#bfbfbf" stroke-opacity="0.18" stroke-width="2.0" fill="none"/><path d="M1145 167h2m-55 2h2m18 0h2m-7 2h2m-35 3h2m51 0h2m16 7h2m-62 2h2m13 0h2m2 2h2m-25 1h2m-10 1h2m15 0h2m18 0h2m4 1h2m-13 1h2m5 1h2m-13 2h2m7 0h2m-41 1h2m1 1h2m32 1h2m7 0h2m-2 0h2m-3 2h2m-36 1h2m23 0h2m8 1h2m-30 1h2m12 0h2m-3 2h2m-25 1h2m-11 1h2m12 0h2m2 0h2m-11 1h2m8 1h2m31 0h2m-29 2h2m9 0h2m-43 1h2m30 1h2m38 0h2m-56 1h2m52 0h2m-19 2h2m-16 1h2m22 0h2m-41 1h2m7 0h2m-18 1h2m21 0h2m28 0h2m-32 1h2m-14 1h2m-7 1h2m31 0h2m-28 1h2m15 0h2m-16 2h2m16 0h2m-28 2h2m20 2h2m-21 1h2m26 2h2m-17 1h2m-24 5h2m-2 1h2m4 0h2m23 0h2m-10 9h2m-12 6h2m-3 11h2m19 0h2m-21 6h2" stroke="#bfbfbf" stroke-opacity="0.18" stroke-width="2.0" fill="none"/><path d="M1124 161h2m-7 2h2m17 3h2m-12 4h2m-16 1h2m-16 3h2m22 4h2m-34 2h2m15 2h2m-25 1h2m45 0h2m-56 4h2m11 0h2m-2 1h2m19 0h2m-22 1h2m-11 2h2m14 1h2m2 0h2m4 0h2m3 0h2m4 1h2m-7 1h2m9 1h2m-31 2h2m-11 1h2m9 1h2m1 1h2m-8 1h2m43 0h2m-41 2h2m-32 1h2m10 0h2m51 0h2m-46 1h2m-1 0h2m4 0h2m1 0h2m13 0h2m-44 1h2m20 1h2m-1 0h2m11 0h2m8 0h2m-20 1h2m-4 1h2m19 1h2m-37 1h2m-2 0h2m35 3h2m-33 1h2m35 0h2m-44 1h2m-14 1h2m9 1h2m37 0h2m-60 2h2m50 0h2m-46 1h2m23 0h2m0 0h2m1 0h2m1 1h2m1 0h2m-35 3h2m25 2h2m2 1h2m4 0h2m-48 2h2m26 0h2m-23 1h2m29 1h2m-20 7h2m-2 0h2m7 5h2" stroke="#bfbfbf" stroke-opacity="0.18" stroke-width="2.0" fill="none"/></g>
<g transform="scale(0.5)"><path d="M1118 89h2m7 0h2m-31 4h2m20 0h2m-8 3h2m29 0h2m-68 1h2m34 0h2m2 0h2m-37 1h2m49 0h2m-10 1h2m-16 1h2m11 0h2m-43 1h2m49 1h2m-46 2h2m1 0h2m4 0h2m-21 1h2m28 0h2m8 0h2m-17 1h2m-18 2h2m-3 1h2m1 0h2m-15 1h2m3 0h2m37 1h2m-34 1h2m11 0h2m3 0h2m-35 1h2m3 0h2m17 0h2m-28 1h2m12 0h2m12 0h2m-12 1h2m1 0h2m1 0h2m6 0h2m9 0h2m14 1h2m-18 1h2m-13 2h2m-15 1h2m7 0h2m-2 0h2m6 0h2m4 0h2m-22 2h2m22 0h2m-23 1h2m-29 1h2m4 0h2m19 0h2m-45 2h2m18 0h2m24 2h2m1 2h2m11 0h2m-30 6h2" stroke="#bfbfbf" stroke-opacity="0.25" stroke-width="2.0" fill="none"/><path d="M1097 86h2m23 3h2m-18 1h2m21 2h2m-32 1h2m28 2h2m-21 3h2m-10 1h2m27 0h2m7 0h2m-32 1h2m3 0h2m-27 1h2m2 0h2m18 0h2m15 0h2m-33 1h2m-12 1h2m16 1h2m2 2h2m0 0h2m-18 1h2m33 0h2m-52 1h2m7 0h2m7 0h2m10 0h2m3 0h2m2 0h2m5 0h2m-55 1h2m26 0h2m2 0h2m20 0h2m-57 4h2m9 0h2m12 0h2m-4 1h2m10 0h2m-12 1h2m-12 1h2m29 0h2m-20 1h2m12 0h2m5 0h2m-2 0h2m0 0h2m-36 1h2m19 0h2m-30 2h2m6 0h2m2 0h2m1 0h2m1 1h2m-3 1h2m3 0h2m-38 1h2m31 0h2m0 1h2m-1 4h2m-28 1h2m36 8h2m-48 4h2" stroke="#bfbfbf" stroke-opacity="0.25" stroke-width="2.0" fill="none"/><path d="M1153 86h2m-15 2h2m-46 2h2m41 0h2m-12 1h2m-11 1h2m-12 2h2m-11 1h2m21 1h2m-39 2h2m15 1h2m22 0h2m-27 1h2m3 0h2m12 1h2m-35 1h2m15 0h2m16 0h2m-36 1h2m7 0h2m-36 2h2m33 1h2m3 0h2m-2 0h2m-2 1h2m18 0h2m8 0h2m-35 1h2m4 0h2m2 0h2m-28 1h2m20 0h2m-3 1h2m3 0h2m-9 1h2m31 0h2m-22 1h2m-25 1h2m11 0h2m-13 1h2m1 0h2m32 1h2m-26 2h2m-18 1h2m14 0h2m-28 1h2m19 0h2m-23 1h2m30 0h2m-20 1h2m1 0h2m12 0h2m-41 1h2m9 0h2m-13 2h2m11 0h2m10 0h2m12 1h2m-21 2h2m4 1h2m10 2h2m-12 5h2" stroke="#bfbfbf" stroke-opacity="0.25" stroke-width="2.0" fill="none"/><path d="M1134 72h2m-1 14h2m-18 1h2m-8 3h2m-9 2h2m-16 1h2m1 4h2m32 3h2m-13 2h2m7 0h2m-21 1h2m-24 1h2m6 0h2m0 0h2m23 0h2m-31 1h2m19 1h2m-58 1h2m19 0h2m35 0h2m-1 0h2m-31 1h2m8 0h2m9 0h2m-10 2h2m26 1h2m4 0h2m-30 1h2m-34 1h2m7 0h2m8 1h2m3 0h2m5 0h2m2 0h2m18 0h2m2 1h2m-49 1h2m30 0h2m-25 1h2m0 1h2m7 0h2m-10 1h2m0 0h2m5 0h2m5 0h2m-26 1h2m-2 0h2m0 0h2m2 0h2m1 0h2m13 1h2m16 0h2m-1 0h2m-38 3h2m-23 1h2m29 0h2m-26 1h2m-1 2h2m12 0h2m-22 2h2m10 1h2m9 4h2" stroke="#bfbfbf" stroke-opacity="0.25" stroke-width="2.0" fill="none"/></g>
<g transform="scale(0.5)"><path d="M895 380h2m-29 2h2m16 2h2m-9 1h2m-2 0h2m3 0h2m5 0h2m2 0h2m8 47h2m-17 1h2m2 0h2m6 3h2m9 0h2m-35 1h2m-1 0h2m10 1h2m10 0h2m3 1h2m-14 1h2m-1 0h2m-17 15h2m-9 2h2m-14 3h2m4 0h2m-12 1h2m6 0h2m6 0h2m0 2h2" stroke="#bfbfbf" stroke-opacity="0.5" stroke-width="2.0" fill="none"/></g>
<g transform="scale(0.5)"><path d="M1040 176h2m5 0h2m1 0h2m3 0h2m-1 0h2m-23 1h2m12 0h2m-2 0h2m2 0h2m2 0h2m0 0h2m2 0h2m-1 0h2m-28 1h2m0 0h2m-1 0h2m1 0h2m-2 0h2m1 0h2m2 0h2m-2 0h2m2 0h2m-2 0h2m1 0h2m-1 0h2m6 0h2m-2 0h2m-33 1h2m6 0h2m-2 0h2m1 0h2m1 0h2m-2 0h2m-1 0h2m-2 0h2m-1 0h2m5 0h2m1 0h2m-1 0h2m0 0h2m-38 1h2m-1 0h2m-2 0h2m4 0h2m0 0h2m-1 0h2m0 0h2m-2 0h2m0 0h2m-1 0h2m-1 0h2m-2 0h2m0 0h2m-1 0h2m-1 0h2m5 0h2m-2 0h2m-1 0h2m2 0h2m-1 0h2m-1 0h2m2 0h2m-2 0h2m0 0h2m-44 1h2m3 0h2m0 0h2m-2 0h2m9 0h2m0 0h2m-2 0h2m-1 0h2m0 0h2m0 0h2m-1 0h2m-1 0h2m0 0h2m0 0h2m-1 0h2m-2 0h2m1 0h2m-1 0h2m-1 0h2m1 0h2m-43 1h2m2 0h2m1 0h2m-1 0h2m-2 0h2m-1 0h2m-2 0h2m-1 0h2m-2 0h2m-2 0h2m-1 0h2m2 0h2m-1 0h2m-2 0h2m0 0h2m-1 0h2m2 0h2m0 0h2m-2 0h2m1 0h2m0 0h2m-2 0h2m-2 0h2m1 0h2m1 0h2m1 0h2m-1 0h2m-1 0h2m-2 0h2m3 0h2m-52 1h2m-2 0h2m2 0h2m0 0h2m-2 0h2m-1 0h2m-2 0h2m1 0h2m-1 0h2m-2 0h2m-2 0h2m-1 0h2m1 0h2m2 0h2m-1 0h2m-1 0h2m0 0h2m-1 0h2m-2 0h2m2 0h2m-2 0h2m0 0h2m-2 0h2m-2 0h2m2 0h2m0 0h2m0 0h2m-1 0h2m-1 0h2m2 0h2m2 0h2m0 0h2m-47 1h2m1 0h2m-1 0h2m2 0h2m-1 0h2m-1 0h2m1 0h2m-2 0h2m-2 0h2m0 0h2m-1 0h2m-1 0h2m-2 0h2m-1 0h2m-2 0h2m0 0h2m0 0h2m-1 0h2m0 0h2m-2 0h2m0 0h2m2 0h2m-2 0h2m0 0h2m-2 0h2m0 0h2m-1 0h2m-2 0h2m1 0h2m0 0h2m0 0h2m-50 1h2m1 0h2m0 0h2m-1 0h2m-1 0h2m-2 0h2m-1 0h2m3 0h2m-2 0h2m-1 0h2m-2 0h2m-1 0h2m1 0h2m-1 0h2m-2 0h2m0 0h2m-1 0h2m-1 0h2m0 0h2m-2 0h2m-1 0h2m-1 0h2m-1 0h2m3 0h2m-1 0h2m-1 0h2m-2 0h2m-1 0h2m-1 0h2m-1 0h2m-2 0h2m-1 0h2m-1 0h2m0 0h2m0 0h2m-2 0h2m-1 0h2m-50 1h2m4 0h2m0 0h2m1 0h2m-2 0h2m-1 0h2m-1 0h2m-1 0h2m0 0h2m-1 0h2m-1 0h2m-1 0h2m-2 0h2m0 0h2m-1 0h2m-1 0h2m-2 0h2m-2 0h2m-2 0h2m-1 0h2m-2 0h2m-1 0h2m-1 0h2m-2 0h2m-1 0h2m-1 0h2m-2 0h2m-2 0h2m-1 0h2m-2 0h2m0 0h2m-2 0h2m-1 0h2m-1 0h2m0 0h2m3 0h2m3 0h2m-1 0h2m0 0h2m-1 0h2m-45 1h2m1 0h2m1 0h2m-2 0h2m0 0h2m1 0h2m0 0h2m0 0h2m-1 0h2m-2 0h2m0 0h2m-2 0h2m1 0h2m-2 0h2m1 0h2m1 0h2m0 0h2m2 0h2m-1 0h2m-2 0h2m-2 0h2m2 0h2m-2 0h2m-44 1h2m-1 0h2m-1 0h2m-1 0h2m-1 0h2m3 0h2m-2 0h2m0 0h2m0 0h2m0 0h2m-2 0h2m0 0h2m0 0h2m-2 0h2m-1 0h2m-2 0h2m-2 0h2m0 0h2m-2 0h2m0 0h2m0 0h2m0 0h2m-2 0h2m-1 0h2m4 0h2m4 0h2m-1 0h2m-1 0h2m-1 0h2m-2 0h2m-2 0h2m-44 1h2m2 0h2m-1 0h2m0 0h2m-1 0h2m-2 0h2m-1 0h2m-2 0h2m-1 0h2m-2 0h2m-1 0h2m-1 0h2m2 0h2m1 0h2m-2 0h2m-1 0h2m-2 0h2m-1 0h2m0 0h2m-1 0h2m-2 0h2m-1 0h2m-2 0h2m2 0h2m1 0h2m-2 0h2m-2 0h2m-2 0h2m0 0h2m-1 0h2m-1 0h2m-2 0h2m1 0h2m0 0h2m-2 0h2m-1 0h2m-45 1h2m-2 0h2m-1 0h2m2 0h2m-1 0h2m-1 0h2m-1 0h2m-1 0h2m-1 0h2m-2 0h2m-2 0h2m1 0h2m0 0h2m1 0h2m-1 0h2m0 0h2m2 0h2m5 0h2m-1 0h2m0 0h2m0 0h2m4 0h2m-48 1h2m-2 0h2m-2 0h2m0 0h2m-2 0h2m-1 0h2m0 0h2m-2 0h2m2 0h2m-2 0h2m-1 0h2m-2 0h2m-1 0h2m-2 0h2m-1 0h2m-1 0h2m0 0h2m-2 0h2m1 0h2m3 0h2m2 0h2m-2 0h2m0 0h2m-2 0h2m-1 0h2m-2 0h2m2 0h2m0 0h2m2 0h2m3 0h2m-1 0h2m-50 1h2m4 0h2m-2 0h2m-2 0h2m1 0h2m-1 0h2m-1 0h2m5 0h2m2 0h2m-1 0h2m-2 0h2m-1 0h2m-2 0h2m-1 0h2m-1 0h2m1 0h2m1 0h2m-1 0h2m-2 0h2m-2 0h2m1 0h2m-1 0h2m0 0h2m-1 0h2m-39 1h2m-1 0h2m1 0h2m7 0h2m0 0h2m-1 0h2m-1 0h2m1 0h2m-1 0h2m-2 0h2m-1 0h2m-1 0h2m1 0h2m-2 0h2m-2 0h2m0 0h2m0 0h2m-1 0h2m0 0h2m2 0h2m-1 0h2m-2 0h2m-37 1h2m-2 0h2m-1 0h2m0 0h2m0 0h2m1 0h2m1 0h2m0 0h2m0 0h2m-2 0h2m-1 0h2m0 0h2m0 0h2m1 0h2m-1 0h2m2 0h2m-1 0h2m3 0h2m-36 1h2m-1 0h2m-1 0h2m0 0h2m-1 0h2m-2 0h2m-2 0h2m1 0h2m-1 0h2m-1 0h2m-1 0h2m-1 0h2m-1 0h2m-2 0h2m2 0h2m-1 0h2m2 0h2m-1 0h2m2 0h2m-29 1h2m3 0h2m2 0h2m-2 0h2m1 0h2m-1 0h2m-1 0h2m-1 0h2m-2 0h2m1 0h2m-1 0h2m2 0h2m0 0h2m-21 1h2m0 0h2m1 0h2m-2 0h2m4 0h2m-1 0h2m6 0h2" stroke="#000" stroke-opacity="0.55" stroke-width="2.0" fill="none"/><path d="M1051 175h2m-11 1h2m0 0h2m-1 0h2m0 0h2m2 0h2m-1 0h2m1 0h2m0 0h2m-20 1h2m3 0h2m0 0h2m-2 0h2m0 0h2m2 0h2m-2 0h2m0 0h2m-1 0h2m4 0h2m3 0h2m-34 1h2m4 0h2m0 0h2m3 0h2m-1 0h2m-1 0h2m-1 0h2m0 0h2m-1 0h2m2 0h2m-2 0h2m3 0h2m1 0h2m-28 1h2m0 0h2m-1 0h2m1 0h2m-1 0h2m-2 0h2m-1 0h2m-2 0h2m3 0h2m-2 0h2m3 0h2m-2 0h2m6 0h2m-1 0h2m-2 0h2m2 0h2m-2 0h2m-43 1h2m2 0h2m3 0h2m1 0h2m0 0h2m-2 0h2m2 0h2m2 0h2m-2 0h2m0 0h2m2 0h2m0 0h2m-2 0h2m0 0h2m-2 0h2m-2 0h2m2 0h2m-40 1h2m-2 0h2m1 0h2m0 0h2m1 0h2m-1 0h2m-1 0h2m1 0h2m1 0h2m-1 0h2m1 0h2m-2 0h2m-1 0h2m0 0h2m0 0h2m-2 0h2m-1 0h2m3 0h2m1 0h2m-2 0h2m-1 0h2m0 0h2m-1 0h2m-1 0h2m-2 0h2m2 0h2m-46 1h2m-1 0h2m2 0h2m2 0h2m-1 0h2m1 0h2m-2 0h2m-1 0h2m0 0h2m-1 0h2m1 0h2m-2 0h2m-2 0h2m-2 0h2m-1 0h2m3 0h2m-1 0h2m-2 0h2m1 0h2m-1 0h2m1 0h2m-2 0h2m-1 0h2m-1 0h2m-1 0h2m4 0h2m-2 0h2m-52 1h2m0 0h2m0 0h2m10 0h2m2 0h2m0 0h2m-2 0h2m0 0h2m-2 0h2m-1 0h2m-1 0h2m3 0h2m1 0h2m-2 0h2m-1 0h2m-1 0h2m0 0h2m-1 0h2m-1 0h2m-1 0h2m2 0h2m1 0h2m-47 1h2m-1 0h2m-1 0h2m3 0h2m-2 0h2m1 0h2m-1 0h2m-2 0h2m2 0h2m-1 0h2m1 0h2m-1 0h2m-2 0h2m-2 0h2m0 0h2m-2 0h2m1 0h2m-1 0h2m-1 0h2m0 0h2m-1 0h2m-1 0h2m-1 0h2m-1 0h2m-1 0h2m3 0h2m-1 0h2m-2 0h2m0 0h2m-2 0h2m-2 0h2m1 0h2m2 0h2m-50 1h2m-1 0h2m0 0h2m-1 0h2m-1 0h2m-1 0h2m-1 0h2m2 0h2m-1 0h2m1 0h2m-1 0h2m-2 0h2m-1 0h2m-2 0h2m-1 0h2m0 0h2m-1 0h2m-2 0h2m-2 0h2m-1 0h2m-2 0h2m-1 0h2m0 0h2m-2 0h2m-1 0h2m-1 0h2m-1 0h2m-2 0h2m-1 0h2m-1 0h2m1 0h2m2 0h2m0 0h2m0 0h2m-1 0h2m-2 0h2m-1 0h2m-47 1h2m1 0h2m-2 0h2m1 0h2m-1 0h2m5 0h2m-1 0h2m-1 0h2m-1 0h2m1 0h2m-2 0h2m0 0h2m0 0h2m-1 0h2m3 0h2m-1 0h2m0 0h2m0 0h2m1 0h2m0 0h2m-2 0h2m-1 0h2m-2 0h2m1 0h2m-45 1h2m0 0h2m-1 0h2m-2 0h2m-1 0h2m-1 0h2m-2 0h2m0 0h2m0 0h2m-2 0h2m-1 0h2m0 0h2m0 0h2m0 0h2m-2 0h2m4 0h2m-2 0h2m-2 0h2m-1 0h2m-2 0h2m-2 0h2m1 0h2m-1 0h2m-2 0h2m5 0h2m-1 0h2m1 0h2m0 0h2m-1 0h2m1 0h2m-48 1h2m-2 0h2m-1 0h2m1 0h2m-1 0h2m2 0h2m0 0h2m-2 0h2m-2 0h2m-1 0h2m-1 0h2m-1 0h2m-1 0h2m1 0h2m-1 0h2m1 0h2m-1 0h2m-1 0h2m-2 0h2m-1 0h2m-1 0h2m0 0h2m-1 0h2m0 0h2m-2 0h2m-2 0h2m0 0h2m-1 0h2m0 0h2m-1 0h2m1 0h2m3 0h2m-1 0h2m-2 0h2m-53 1h2m4 0h2m0 0h2m0 0h2m-1 0h2m2 0h2m-1 0h2m2 0h2m-2 0h2m1 0h2m0 0h2m-2 0h2m-2 0h2m-2 0h2m-2 0h2m-1 0h2m-2 0h2m-1 0h2m-1 0h2m0 0h2m1 0h2m-2 0h2m-1 0h2m-2 0h2m0 0h2m-1 0h2m1 0h2m-1 0h2m2 0h2m-2 0h2m-1 0h2m-1 0h2m-1 0h2m2 0h2m-48 1h2m1 0h2m-1 0h2m-2 0h2m0 0h2m-1 0h2m4 0h2m3 0h2m-1 0h2m-2 0h2m-1 0h2m-2 0h2m-2 0h2m1 0h2m0 0h2m0 0h2m0 0h2m-2 0h2m0 0h2m-1 0h2m-1 0h2m4 0h2m-1 0h2m-1 0h2m-1 0h2m-2 0h2m-40 1h2m-1 0h2m0 0h2m-2 0h2m1 0h2m0 0h2m-2 0h2m-1 0h2m-2 0h2m0 0h2m1 0h2m-2 0h2m-1 0h2m2 0h2m-2 0h2m-1 0h2m1 0h2m-1 0h2m-1 0h2m-1 0h2m-1 0h2m-1 0h2m0 0h2m-2 0h2m-2 0h2m0 0h2m-2 0h2m-2 0h2m4 0h2m-47 1h2m-1 0h2m3 0h2m0 0h2m0 0h2m-2 0h2m5 0h2m-1 0h2m-2 0h2m-1 0h2m1 0h2m-1 0h2m-2 0h2m-1 0h2m-2 0h2m5 0h2m-2 0h2m3 0h2m0 0h2m-1 0h2m4 0h2m-41 1h2m-1 0h2m-2 0h2m-1 0h2m-1 0h2m-1 0h2m0 0h2m-2 0h2m-1 0h2m0 0h2m-2 0h2m0 0h2m-1 0h2m0 0h2m-2 0h2m-2 0h2m-1 0h2m-1 0h2m-2 0h2m-1 0h2m-2 0h2m-1 0h2m-2 0h2m-2 0h2m-1 0h2m-2 0h2m-1 0h2m-1 0h2m-1 0h2m0 0h2m0 0h2m-1 0h2m-1 0h2m0 0h2m0 0h2m-1 0h2m-2 0h2m-2 0h2m-1 0h2m3 0h2m-46 1h2m1 0h2m0 0h2m1 0h2m-1 0h2m0 0h2m0 0h2m-2 0h2m3 0h2m-1 0h2m0 0h2m0 0h2m-2 0h2m-1 0h2m-1 0h2m-1 0h2m-1 0h2m-2 0h2m-1 0h2m0 0h2m-1 0h2m-2 0h2m1 0h2m-1 0h2m-32 1h2m0 0h2m8 0h2m-2 0h2m-1 0h2m2 0h2m-1 0h2m-1 0h2m0 0h2m1 0h2m0 0h2m-1 0h2m1 0h2m-33 1h2m2 0h2m0 0h2m4 0h2m-1 0h2m3 0h2m-1 0h2m-1 0h2m-1 0h2m-17 1h2m1 0h2m9 0h2m4 0h2" stroke="#000" stroke-opacity="0.55" stroke-width="2.0" fill="none"/><path d="M1066 175h2m-12 1h2m-10 1h2m3 0h2m-1 0h2m6 0h2m-23 1h2m-1 0h2m0 0h2m0 0h2m-2 0h2m0 0h2m0 0h2m0 0h2m-2 0h2m-2 0h2m1 0h2m3 0h2m-1 0h2m-1 0h2m1 0h2m-35 1h2m2 0h2m3 0h2m0 0h2m-1 0h2m-1 0h2m-1 0h2m2 0h2m9 0h2m0 0h2m-1 0h2m-1 0h2m-1 0h2m-1 0h2m-1 0h2m-41 1h2m4 0h2m-2 0h2m3 0h2m-2 0h2m1 0h2m-1 0h2m0 0h2m-1 0h2m3 0h2m-2 0h2m3 0h2m-2 0h2m1 0h2m0 0h2m0 0h2m-2 0h2m1 0h2m-39 1h2m1 0h2m-2 0h2m0 0h2m3 0h2m-1 0h2m-1 0h2m-2 0h2m-2 0h2m-2 0h2m-1 0h2m0 0h2m0 0h2m-2 0h2m-2 0h2m-2 0h2m0 0h2m-2 0h2m-2 0h2m1 0h2m-1 0h2m-2 0h2m-1 0h2m-2 0h2m-1 0h2m0 0h2m3 0h2m-1 0h2m0 0h2m-2 0h2m-2 0h2m-2 0h2m-1 0h2m-1 0h2m3 0h2m-35 1h2m-1 0h2m-2 0h2m0 0h2m0 0h2m3 0h2m-1 0h2m0 0h2m-1 0h2m-2 0h2m0 0h2m-1 0h2m0 0h2m5 0h2m-2 0h2m-1 0h2m-2 0h2m-1 0h2m-1 0h2m-2 0h2m3 0h2m-48 1h2m-2 0h2m2 0h2m4 0h2m-1 0h2m0 0h2m0 0h2m0 0h2m-2 0h2m-2 0h2m0 0h2m0 0h2m-2 0h2m1 0h2m0 0h2m0 0h2m-1 0h2m-1 0h2m5 0h2m-2 0h2m-1 0h2m0 0h2m-46 1h2m1 0h2m-1 0h2m-1 0h2m-2 0h2m0 0h2m0 0h2m-2 0h2m0 0h2m-2 0h2m-1 0h2m-1 0h2m0 0h2m-1 0h2m0 0h2m-1 0h2m-1 0h2m-1 0h2m-1 0h2m-2 0h2m0 0h2m-1 0h2m0 0h2m-1 0h2m-1 0h2m-2 0h2m-1 0h2m-1 0h2m-1 0h2m-1 0h2m0 0h2m-1 0h2m0 0h2m-2 0h2m-2 0h2m0 0h2m-1 0h2m0 0h2m0 0h2m-44 1h2m-1 0h2m0 0h2m-1 0h2m2 0h2m-1 0h2m-2 0h2m-1 0h2m-2 0h2m-2 0h2m-1 0h2m0 0h2m2 0h2m-1 0h2m-2 0h2m3 0h2m-1 0h2m0 0h2m-2 0h2m-1 0h2m-1 0h2m0 0h2m-2 0h2m0 0h2m-1 0h2m0 0h2m1 0h2m0 0h2m-1 0h2m1 0h2m-49 1h2m0 0h2m0 0h2m-2 0h2m-2 0h2m0 0h2m0 0h2m-2 0h2m-1 0h2m-1 0h2m0 0h2m1 0h2m-2 0h2m0 0h2m0 0h2m0 0h2m-1 0h2m-1 0h2m0 0h2m-2 0h2m-1 0h2m-1 0h2m-1 0h2m-2 0h2m-2 0h2m-2 0h2m-1 0h2m1 0h2m-1 0h2m-1 0h2m4 0h2m-2 0h2m0 0h2m2 0h2m-53 1h2m0 0h2m1 0h2m0 0h2m0 0h2m-1 0h2m-1 0h2m-1 0h2m-2 0h2m0 0h2m-2 0h2m1 0h2m-1 0h2m-2 0h2m-2 0h2m0 0h2m0 0h2m-1 0h2m-1 0h2m-1 0h2m-1 0h2m-2 0h2m-1 0h2m-2 0h2m-2 0h2m-1 0h2m-2 0h2m0 0h2m0 0h2m-1 0h2m-1 0h2m1 0h2m0 0h2m3 0h2m-1 0h2m-1 0h2m0 0h2m0 0h2m-50 1h2m-1 0h2m2 0h2m3 0h2m3 0h2m-1 0h2m0 0h2m-2 0h2m3 0h2m2 0h2m-1 0h2m-1 0h2m1 0h2m-2 0h2m-1 0h2m1 0h2m-1 0h2m0 0h2m-1 0h2m0 0h2m0 0h2m-49 1h2m1 0h2m-1 0h2m-2 0h2m1 0h2m1 0h2m-2 0h2m-1 0h2m-2 0h2m0 0h2m-1 0h2m-2 0h2m0 0h2m-1 0h2m-2 0h2m-2 0h2m-1 0h2m1 0h2m-1 0h2m-1 0h2m0 0h2m-1 0h2m-1 0h2m0 0h2m0 0h2m0 0h2m-2 0h2m-2 0h2m-1 0h2m1 0h2m5 0h2m2 0h2m-50 1h2m-1 0h2m0 0h2m-2 0h2m2 0h2m-2 0h2m-2 0h2m-1 0h2m-2 0h2m-1 0h2m4 0h2m-2 0h2m-1 0h2m1 0h2m-1 0h2m-2 0h2m-2 0h2m-1 0h2m0 0h2m-1 0h2m0 0h2m-1 0h2m-2 0h2m1 0h2m-1 0h2m-2 0h2m0 0h2m-1 0h2m0 0h2m1 0h2m1 0h2m0 0h2m-2 0h2m0 0h2m1 0h2m-50 1h2m-2 0h2m2 0h2m-1 0h2m-1 0h2m-2 0h2m-1 0h2m0 0h2m-1 0h2m-1 0h2m-1 0h2m1 0h2m-2 0h2m-1 0h2m0 0h2m-2 0h2m-1 0h2m-1 0h2m-1 0h2m-1 0h2m-1 0h2m0 0h2m-1 0h2m1 0h2m0 0h2m-1 0h2m0 0h2m-1 0h2m-1 0h2m-2 0h2m-1 0h2m0 0h2m-36 1h2m-2 0h2m-1 0h2m-2 0h2m-1 0h2m0 0h2m0 0h2m-1 0h2m-1 0h2m3 0h2m-2 0h2m0 0h2m-1 0h2m-1 0h2m2 0h2m-2 0h2m-2 0h2m-1 0h2m-2 0h2m-2 0h2m-2 0h2m4 0h2m-2 0h2m0 0h2m-1 0h2m-1 0h2m-1 0h2m-2 0h2m3 0h2m0 0h2m-47 1h2m-1 0h2m-1 0h2m-1 0h2m-2 0h2m1 0h2m-1 0h2m-2 0h2m1 0h2m-2 0h2m-1 0h2m-2 0h2m-2 0h2m1 0h2m-1 0h2m-1 0h2m1 0h2m2 0h2m1 0h2m-2 0h2m-1 0h2m0 0h2m2 0h2m5 0h2m-38 1h2m-2 0h2m1 0h2m-2 0h2m0 0h2m-1 0h2m-1 0h2m0 0h2m-2 0h2m3 0h2m0 0h2m-1 0h2m-1 0h2m0 0h2m-2 0h2m-1 0h2m-1 0h2m2 0h2m-2 0h2m1 0h2m3 0h2m-37 1h2m3 0h2m0 0h2m0 0h2m0 0h2m-1 0h2m0 0h2m0 0h2m-2 0h2m-1 0h2m1 0h2m0 0h2m0 0h2m0 0h2m-1 0h2m-1 0h2m5 0h2m0 0h2m-39 1h2m-1 0h2m10 0h2m-2 0h2m0 0h2m2 0h2m-1 0h2m3 0h2m-2 0h2m0 0h2m-1 0h2m-1 0h2m-20 1h2m3 0h2" stroke="#000" stroke-opacity="0.55" stroke-width="2.0" fill="none"/><path d="M1048 176h2m11 0h2m-23 1h2m1 0h2m3 0h2m0 0h2m-1 0h2m0 0h2m0 0h2m-1 0h2m-2 0h2m8 0h2m-30 1h2m0 0h2m4 0h2m1 0h2m-15 1h2m2 0h2m0 0h2m2 0h2m0 0h2m0 0h2m2 0h2m0 0h2m1 0h2m-1 0h2m-1 0h2m-2 0h2m-1 0h2m-2 0h2m-1 0h2m-1 0h2m-1 0h2m-35 1h2m-1 0h2m-1 0h2m-2 0h2m-1 0h2m0 0h2m1 0h2m-2 0h2m2 0h2m-1 0h2m-2 0h2m1 0h2m-1 0h2m-1 0h2m-1 0h2m3 0h2m-2 0h2m-1 0h2m-2 0h2m-1 0h2m-2 0h2m0 0h2m-2 0h2m1 0h2m-1 0h2m0 0h2m-39 1h2m-1 0h2m8 0h2m1 0h2m-1 0h2m-2 0h2m-1 0h2m-2 0h2m5 0h2m1 0h2m1 0h2m-1 0h2m0 0h2m0 0h2m-1 0h2m2 0h2m1 0h2m-45 1h2m2 0h2m6 0h2m-2 0h2m-1 0h2m-1 0h2m-2 0h2m-1 0h2m1 0h2m0 0h2m-2 0h2m3 0h2m0 0h2m0 0h2m0 0h2m2 0h2m-1 0h2m-1 0h2m-1 0h2m-2 0h2m0 0h2m-1 0h2m1 0h2m-50 1h2m2 0h2m-2 0h2m0 0h2m-1 0h2m0 0h2m0 0h2m-2 0h2m1 0h2m-2 0h2m2 0h2m-2 0h2m-2 0h2m-1 0h2m-2 0h2m-2 0h2m5 0h2m0 0h2m0 0h2m-1 0h2m0 0h2m0 0h2m-1 0h2m-1 0h2m-42 1h2m2 0h2m2 0h2m-2 0h2m1 0h2m-2 0h2m-1 0h2m-1 0h2m-2 0h2m-1 0h2m-2 0h2m0 0h2m-2 0h2m1 0h2m1 0h2m-2 0h2m-2 0h2m-1 0h2m1 0h2m-2 0h2m0 0h2m-1 0h2m-2 0h2m0 0h2m-2 0h2m-2 0h2m-1 0h2m-2 0h2m-2 0h2m1 0h2m0 0h2m-2 0h2m2 0h2m-1 0h2m-1 0h2m-2 0h2m0 0h2m-1 0h2m0 0h2m-2 0h2m-48 1h2m-2 0h2m-1 0h2m-1 0h2m0 0h2m-1 0h2m-1 0h2m-1 0h2m-2 0h2m-2 0h2m0 0h2m-1 0h2m-2 0h2m-2 0h2m0 0h2m0 0h2m-2 0h2m0 0h2m-1 0h2m-2 0h2m0 0h2m0 0h2m-2 0h2m-1 0h2m-1 0h2m-2 0h2m0 0h2m3 0h2m0 0h2m-1 0h2m0 0h2m0 0h2m2 0h2m-2 0h2m-1 0h2m-1 0h2m-1 0h2m2 0h2m-51 1h2m0 0h2m-2 0h2m-1 0h2m0 0h2m-2 0h2m-2 0h2m-2 0h2m-1 0h2m2 0h2m-1 0h2m1 0h2m-2 0h2m1 0h2m0 0h2m-2 0h2m-2 0h2m0 0h2m-2 0h2m-1 0h2m-1 0h2m-2 0h2m-1 0h2m-2 0h2m-1 0h2m-2 0h2m-1 0h2m1 0h2m-1 0h2m5 0h2m-1 0h2m-1 0h2m-2 0h2m-1 0h2m0 0h2m-1 0h2m-1 0h2m-2 0h2m-1 0h2m-2 0h2m-2 0h2m-1 0h2m-1 0h2m-48 1h2m0 0h2m-1 0h2m0 0h2m-2 0h2m0 0h2m-1 0h2m-1 0h2m0 0h2m-2 0h2m1 0h2m1 0h2m-1 0h2m5 0h2m-1 0h2m-2 0h2m-1 0h2m-1 0h2m-1 0h2m1 0h2m-1 0h2m-2 0h2m3 0h2m5 0h2m2 0h2m-51 1h2m-2 0h2m-2 0h2m-2 0h2m0 0h2m-1 0h2m-1 0h2m-1 0h2m-1 0h2m-2 0h2m-1 0h2m-1 0h2m-2 0h2m-1 0h2m2 0h2m-2 0h2m-1 0h2m-2 0h2m-2 0h2m0 0h2m-2 0h2m1 0h2m-1 0h2m5 0h2m0 0h2m-2 0h2m-1 0h2m2 0h2m-2 0h2m-1 0h2m1 0h2m2 0h2m-2 0h2m-1 0h2m0 0h2m-52 1h2m-1 0h2m0 0h2m-2 0h2m1 0h2m-1 0h2m-1 0h2m0 0h2m-2 0h2m-1 0h2m-2 0h2m-1 0h2m1 0h2m-1 0h2m0 0h2m-2 0h2m-1 0h2m-1 0h2m-2 0h2m-1 0h2m0 0h2m0 0h2m1 0h2m1 0h2m-1 0h2m-2 0h2m0 0h2m-2 0h2m-1 0h2m-1 0h2m-1 0h2m-1 0h2m-1 0h2m0 0h2m0 0h2m0 0h2m-46 1h2m-1 0h2m0 0h2m1 0h2m0 0h2m-2 0h2m-1 0h2m-2 0h2m-2 0h2m-1 0h2m-2 0h2m-1 0h2m-2 0h2m-1 0h2m-1 0h2m-1 0h2m0 0h2m-2 0h2m0 0h2m-2 0h2m0 0h2m-2 0h2m0 0h2m-1 0h2m-1 0h2m1 0h2m0 0h2m5 0h2m0 0h2m0 0h2m0 0h2m-2 0h2m-46 1h2m-1 0h2m0 0h2m5 0h2m-2 0h2m-1 0h2m2 0h2m-1 0h2m0 0h2m3 0h2m-2 0h2m-1 0h2m0 0h2m-1 0h2m-1 0h2m-1 0h2m-1 0h2m-2 0h2m1 0h2m-1 0h2m-2 0h2m-2 0h2m3 0h2m6 0h2m2 0h2m-48 1h2m1 0h2m0 0h2m-2 0h2m-2 0h2m1 0h2m-1 0h2m-1 0h2m-2 0h2m-2 0h2m-2 0h2m-1 0h2m1 0h2m-2 0h2m4 0h2m0 0h2m0 0h2m-2 0h2m-1 0h2m0 0h2m-1 0h2m-2 0h2m-2 0h2m3 0h2m-1 0h2m-1 0h2m0 0h2m-1 0h2m2 0h2m-44 1h2m-1 0h2m-2 0h2m3 0h2m-2 0h2m-1 0h2m-1 0h2m-2 0h2m0 0h2m-1 0h2m-1 0h2m-1 0h2m-2 0h2m3 0h2m-2 0h2m1 0h2m-1 0h2m-1 0h2m-1 0h2m-1 0h2m-2 0h2m-1 0h2m1 0h2m2 0h2m2 0h2m-36 1h2m0 0h2m-1 0h2m0 0h2m2 0h2m-1 0h2m-2 0h2m-2 0h2m-1 0h2m-1 0h2m3 0h2m-1 0h2m4 0h2m4 0h2m-37 1h2m3 0h2m-1 0h2m0 0h2m0 0h2m-1 0h2m-1 0h2m-1 0h2m-1 0h2m-1 0h2m1 0h2m-1 0h2m1 0h2m-1 0h2m-1 0h2m0 0h2m-2 0h2m-2 0h2m-1 0h2m-2 0h2m-1 0h2m-24 1h2m3 0h2m-1 0h2m2 0h2m1 0h2m7 0h2m0 0h2m-25 1h2m-1 0h2m-1 0h2m6 0h2m3 0h2m-15 1h2m3 0h2" stroke="#000" stroke-opacity="0.55" stroke-width="2.0" fill="none"/></g>
<g transform="scale(0.5)"><path d="M1056 170h2m15 0h2m-30 1h2m20 1h2m-4 1h2m-9 1h2m0 0h2m-50 1h2m22 0h2m6 0h2m-1 0h2m0 0h2m-1 0h2m1 0h2m23 0h2m-36 1h2m0 0h2m9 0h2m3 0h2m4 0h2m2 0h2m-36 1h2m4 0h2m-1 0h2m4 0h2m0 0h2m5 0h2m-44 1h2m17 0h2m0 0h2m4 0h2m0 0h2m-1 0h2m0 0h2m1 0h2m0 0h2m6 0h2m-1 0h2m-1 0h2m-50 1h2m-2 0h2m18 0h2m-1 0h2m4 0h2m0 0h2m-1 0h2m-1 0h2m1 0h2m1 0h2m6 0h2m-2 0h2m13 0h2m-67 1h2m8 0h2m14 0h2m1 0h2m0 0h2m0 0h2m-1 0h2m0 0h2m-1 0h2m1 0h2m2 0h2m0 0h2m0 0h2m4 0h2m23 0h2m-58 1h2m2 0h2m-1 0h2m5 0h2m6 0h2m-2 0h2m5 0h2m-1 0h2m-2 0h2m2 0h2m-1 0h2m-1 0h2m21 0h2m-69 1h2m3 0h2m-1 0h2m-2 0h2m-1 0h2m0 0h2m0 0h2m1 0h2m-1 0h2m3 0h2m-1 0h2m-1 0h2m-2 0h2m5 0h2m-2 0h2m-1 0h2m8 0h2m1 0h2m-2 0h2m-1 0h2m-55 1h2m7 0h2m-2 0h2m13 0h2m0 0h2m0 0h2m-1 0h2m0 0h2m0 0h2m-1 0h2m-2 0h2m2 0h2m-2 0h2m-1 0h2m-1 0h2m13 0h2m-60 1h2m-2 0h2m9 0h2m3 0h2m3 0h2m2 0h2m-2 0h2m1 0h2m-1 0h2m-2 0h2m0 0h2m-2 0h2m0 0h2m-1 0h2m2 0h2m1 0h2m0 0h2m1 0h2m-2 0h2m7 0h2m-1 0h2m-59 1h2m9 0h2m-1 0h2m6 0h2m1 0h2m0 0h2m0 0h2m-1 0h2m-1 0h2m4 0h2m-2 0h2m-2 0h2m0 0h2m-1 0h2m0 0h2m-1 0h2m-1 0h2m2 0h2m3 0h2m1 0h2m-47 1h2m-2 0h2m-1 0h2m1 0h2m-1 0h2m10 0h2m-1 0h2m-2 0h2m-1 0h2m1 0h2m-1 0h2m2 0h2m1 0h2m-2 0h2m-2 0h2m0 0h2m7 0h2m2 0h2m-2 0h2m-1 0h2m-1 0h2m-2 0h2m5 0h2m0 0h2m-62 1h2m4 0h2m4 0h2m0 0h2m-2 0h2m-1 0h2m6 0h2m8 0h2m-1 0h2m-1 0h2m4 0h2m-1 0h2m-1 0h2m1 0h2m3 0h2m0 0h2m0 0h2m-67 1h2m0 0h2m5 0h2m12 0h2m-1 0h2m0 0h2m1 0h2m-2 0h2m-2 0h2m0 0h2m-1 0h2m-2 0h2m-2 0h2m-1 0h2m-1 0h2m-2 0h2m1 0h2m-2 0h2m2 0h2m-2 0h2m2 0h2m-1 0h2m-1 0h2m-1 0h2m-1 0h2m-1 0h2m-1 0h2m-2 0h2m0 0h2m-1 0h2m3 0h2m2 0h2m4 0h2m-54 1h2m1 0h2m-1 0h2m-1 0h2m4 0h2m-1 0h2m-2 0h2m2 0h2m-1 0h2m-2 0h2m-2 0h2m-2 0h2m0 0h2m2 0h2m-2 0h2m0 0h2m-1 0h2m0 0h2m0 0h2m-2 0h2m-1 0h2m0 0h2m0 0h2m2 0h2m2 0h2m-56 1h2m3 0h2m-1 0h2m9 0h2m-1 0h2m1 0h2m-2 0h2m1 0h2m0 0h2m1 0h2m-1 0h2m0 0h2m-2 0h2m-1 0h2m-2 0h2m-1 0h2m10 0h2m-2 0h2m-1 0h2m18 0h2m-57 1h2m-2 0h2m1 0h2m-2 0h2m3 0h2m6 0h2m-1 0h2m-2 0h2m0 0h2m-1 0h2m-1 0h2m0 0h2m-2 0h2m0 0h2m3 0h2m1 0h2m-1 0h2m1 0h2m12 0h2m-73 1h2m-2 0h2m5 0h2m2 0h2m3 0h2m3 0h2m-2 0h2m-1 0h2m0 0h2m1 0h2m-2 0h2m0 0h2m-1 0h2m1 0h2m-2 0h2m-2 0h2m-2 0h2m-1 0h2m-2 0h2m0 0h2m-1 0h2m6 0h2m0 0h2m1 0h2m0 0h2m-1 0h2m-58 1h2m7 0h2m3 0h2m0 0h2m-1 0h2m2 0h2m3 0h2m-2 0h2m0 0h2m7 0h2m1 0h2m-2 0h2m5 0h2m-2 0h2m0 0h2m0 0h2m-1 0h2m2 0h2m-1 0h2m-46 1h2m5 0h2m0 0h2m2 0h2m5 0h2m-1 0h2m1 0h2m0 0h2m5 0h2m2 0h2m-1 0h2m-1 0h2m-41 1h2m5 0h2m-2 0h2m-2 0h2m2 0h2m-2 0h2m0 0h2m7 0h2m0 0h2m4 0h2m3 0h2m4 0h2m-54 1h2m13 0h2m9 0h2m3 0h2m-1 0h2m-1 0h2m-2 0h2m0 0h2m0 0h2m3 0h2m2 0h2m5 0h2m-1 0h2m-52 1h2m21 0h2m-2 0h2m0 0h2m8 0h2m5 0h2m-37 1h2m16 0h2m12 0h2m-25 1h2m-1 0h2m-1 0h2m0 0h2m10 0h2m0 0h2m-11 1h2m-24 2h2m1 1h2m4 0h2m-7 1h2m15 0h2m12 2h2m-25 2h2" stroke="#000" stroke-opacity="0.4" stroke-width="2.0" fill="none"/><path d="M1054 165h2m10 0h2m-10 5h2m4 0h2m5 0h2m-20 1h2m19 0h2m-27 1h2m-13 1h2m18 0h2m30 0h2m-66 1h2m10 0h2m2 0h2m8 0h2m-1 0h2m-25 1h2m21 0h2m2 0h2m-2 0h2m17 0h2m1 0h2m2 0h2m-61 1h2m9 0h2m20 0h2m3 0h2m2 0h2m-35 1h2m-1 0h2m-1 0h2m-1 0h2m11 0h2m6 0h2m5 0h2m11 0h2m-43 1h2m2 0h2m7 0h2m2 0h2m1 0h2m2 0h2m1 0h2m1 0h2m-37 1h2m-2 0h2m5 0h2m0 0h2m3 0h2m-2 0h2m0 0h2m-1 0h2m1 0h2m-2 0h2m-2 0h2m2 0h2m-1 0h2m0 0h2m-1 0h2m2 0h2m6 0h2m-50 1h2m9 0h2m4 0h2m0 0h2m-1 0h2m-2 0h2m-1 0h2m0 0h2m-2 0h2m-1 0h2m-1 0h2m1 0h2m-2 0h2m0 0h2m0 0h2m-1 0h2m-2 0h2m-1 0h2m2 0h2m2 0h2m4 0h2m-50 1h2m-2 0h2m6 0h2m2 0h2m-1 0h2m0 0h2m0 0h2m0 0h2m2 0h2m-1 0h2m1 0h2m0 0h2m-1 0h2m0 0h2m0 0h2m3 0h2m0 0h2m-1 0h2m-1 0h2m8 0h2m-51 1h2m-1 0h2m5 0h2m-2 0h2m-2 0h2m-2 0h2m0 0h2m-1 0h2m-1 0h2m1 0h2m-1 0h2m2 0h2m-2 0h2m-1 0h2m-2 0h2m7 0h2m4 0h2m7 0h2m-62 1h2m15 0h2m2 0h2m0 0h2m1 0h2m3 0h2m-1 0h2m2 0h2m1 0h2m-2 0h2m-1 0h2m-1 0h2m-1 0h2m-2 0h2m1 0h2m-2 0h2m-1 0h2m2 0h2m0 0h2m1 0h2m-1 0h2m-1 0h2m-50 1h2m2 0h2m7 0h2m3 0h2m4 0h2m-1 0h2m1 0h2m-2 0h2m-2 0h2m6 0h2m0 0h2m-1 0h2m7 0h2m-2 0h2m-1 0h2m5 0h2m-1 0h2m-59 1h2m0 0h2m-1 0h2m-1 0h2m-2 0h2m9 0h2m3 0h2m-1 0h2m-2 0h2m-2 0h2m-1 0h2m-2 0h2m-1 0h2m-2 0h2m0 0h2m2 0h2m0 0h2m-1 0h2m-2 0h2m-1 0h2m0 0h2m-2 0h2m0 0h2m1 0h2m2 0h2m3 0h2m0 0h2m0 0h2m17 0h2m-83 1h2m14 0h2m2 0h2m1 0h2m0 0h2m9 0h2m1 0h2m3 0h2m0 0h2m-2 0h2m0 0h2m1 0h2m1 0h2m1 0h2m-1 0h2m4 0h2m-60 1h2m1 0h2m3 0h2m0 0h2m-2 0h2m-1 0h2m-1 0h2m-1 0h2m2 0h2m-2 0h2m-1 0h2m0 0h2m-1 0h2m0 0h2m0 0h2m-2 0h2m2 0h2m-2 0h2m-2 0h2m-2 0h2m6 0h2m-1 0h2m-2 0h2m4 0h2m1 0h2m1 0h2m-58 1h2m3 0h2m-1 0h2m2 0h2m5 0h2m0 0h2m-2 0h2m-2 0h2m-2 0h2m-1 0h2m0 0h2m-1 0h2m-2 0h2m-1 0h2m-1 0h2m-1 0h2m-2 0h2m-2 0h2m1 0h2m2 0h2m0 0h2m3 0h2m0 0h2m-1 0h2m-2 0h2m-2 0h2m1 0h2m5 0h2m-1 0h2m1 0h2m4 0h2m-61 1h2m3 0h2m3 0h2m2 0h2m0 0h2m-1 0h2m0 0h2m0 0h2m1 0h2m0 0h2m-2 0h2m-2 0h2m-1 0h2m0 0h2m2 0h2m0 0h2m-1 0h2m-2 0h2m0 0h2m-1 0h2m-1 0h2m-1 0h2m-1 0h2m24 0h2m-63 1h2m-1 0h2m0 0h2m0 0h2m3 0h2m1 0h2m3 0h2m1 0h2m1 0h2m-1 0h2m1 0h2m1 0h2m-2 0h2m-1 0h2m-1 0h2m-38 1h2m0 0h2m2 0h2m1 0h2m-2 0h2m-1 0h2m6 0h2m3 0h2m0 0h2m0 0h2m-1 0h2m-1 0h2m3 0h2m-1 0h2m2 0h2m0 0h2m3 0h2m-66 1h2m18 0h2m1 0h2m-1 0h2m0 0h2m-1 0h2m0 0h2m-2 0h2m-1 0h2m-2 0h2m-2 0h2m-2 0h2m-1 0h2m0 0h2m0 0h2m0 0h2m-1 0h2m3 0h2m0 0h2m2 0h2m-2 0h2m-1 0h2m-1 0h2m-1 0h2m24 0h2m-77 1h2m7 0h2m0 0h2m0 0h2m-1 0h2m-1 0h2m7 0h2m2 0h2m9 0h2m0 0h2m5 0h2m-1 0h2m2 0h2m-1 0h2m17 0h2m-58 1h2m2 0h2m0 0h2m-1 0h2m-1 0h2m1 0h2m-1 0h2m-1 0h2m1 0h2m3 0h2m-1 0h2m-2 0h2m0 0h2m5 0h2m2 0h2m26 0h2m-70 1h2m20 0h2m2 0h2m4 0h2m-47 1h2m12 0h2m6 0h2m14 0h2m-1 0h2m-18 1h2m12 0h2m1 0h2m-2 0h2m3 0h2m-37 1h2m12 0h2m0 0h2m-7 1h2m0 0h2m6 0h2m7 0h2m2 0h2m-47 1h2m29 0h2m-2 0h2m13 0h2m-9 3h2" stroke="#000" stroke-opacity="0.4" stroke-width="2.0" fill="none"/></g>
<g transform="scale(0.5)"><path d="M1082 87h2m5 1h2m-14 1h2m-7 1h2m-4 1h2m3 0h2m7 0h2m9 0h2m-23 1h2m-1 0h2m3 0h2m3 0h2m-15 1h2m0 0h2m3 0h2m-14 1h2m0 0h2m8 0h2m5 0h2m4 0h2m2 0h2m-30 1h2m2 0h2m11 0h2m-1 0h2m-1 0h2m0 0h2m-2 0h2m-20 1h2m16 0h2m0 0h2m-28 1h2m10 0h2m3 0h2m0 0h2m4 0h2m-1 0h2m0 0h2m-29 1h2m0 0h2m-9 1h2m-1 0h2m11 0h2m4 0h2m-2 0h2m1 0h2m5 0h2m3 0h2m-41 1h2m2 0h2m2 0h2m11 0h2m2 0h2m1 0h2m3 0h2m-43 1h2m7 0h2m-1 0h2m2 0h2m2 0h2m6 0h2m3 0h2m-1 0h2m2 0h2m5 0h2m-44 1h2m20 0h2m9 0h2m4 0h2m2 0h2m3 0h2m-51 1h2m1 0h2m4 0h2m2 0h2m4 0h2m0 0h2m1 0h2m0 0h2m0 0h2m-1 0h2m-1 0h2m-1 0h2m6 0h2m5 0h2m-47 1h2m16 0h2m-2 0h2m-2 0h2m16 0h2m-1 0h2m2 0h2m-35 1h2m-1 0h2m-1 0h2m8 0h2m0 0h2m1 0h2m4 0h2m2 0h2m2 0h2m3 0h2m-49 1h2m0 0h2m5 0h2m10 0h2m3 0h2m-1 0h2m9 0h2m-1 0h2m-37 1h2m0 0h2m0 0h2m2 0h2m-2 0h2m3 0h2m-1 0h2m5 0h2m-24 1h2m0 0h2m6 0h2m7 0h2m2 0h2m2 0h2m7 0h2m-39 1h2m0 0h2m0 0h2m4 0h2m8 0h2m14 0h2m-45 1h2m9 0h2m2 0h2m0 0h2m-2 0h2m-1 0h2m3 0h2m-2 0h2m1 0h2m0 0h2m-1 0h2m0 0h2m-1 0h2m7 0h2m-41 1h2m0 0h2m-1 0h2m0 0h2m8 0h2m2 0h2m-3 1h2m2 0h2m4 0h2m5 0h2m-1 0h2m-31 1h2m1 0h2m4 0h2m3 0h2m2 0h2m4 0h2m-35 1h2m-1 0h2m-2 0h2m6 0h2m1 0h2m0 0h2m-1 0h2m-2 0h2m1 0h2m2 0h2m0 0h2m-27 1h2m9 0h2m3 0h2m-2 0h2m1 0h2m3 0h2m-22 1h2m3 0h2m2 0h2m6 0h2m-1 0h2m-10 1h2m-1 0h2m1 0h2m-20 1h2m8 0h2m0 0h2m-1 0h2m13 0h2m-28 1h2m8 0h2m4 0h2m-1 0h2m-13 1h2m-1 0h2m-2 2h2m1 0h2" stroke="#0000ff" stroke-opacity="0.45" stroke-width="2.0" fill="none"/><path d="M1083 88h2m0 0h2m2 0h2m-4 1h2m-19 1h2m17 0h2m1 0h2m-16 1h2m-1 0h2m1 0h2m-2 0h2m9 0h2m-19 1h2m1 0h2m-2 0h2m-13 1h2m1 0h2m5 0h2m4 0h2m-8 1h2m8 0h2m7 0h2m-42 1h2m9 0h2m3 0h2m8 0h2m3 0h2m-1 0h2m-11 1h2m5 0h2m5 0h2m3 0h2m-2 0h2m-48 1h2m16 0h2m7 0h2m2 0h2m5 0h2m-32 1h2m6 0h2m-1 0h2m0 0h2m0 0h2m-1 0h2m-1 0h2m-1 0h2m-2 0h2m-1 0h2m4 0h2m0 0h2m5 0h2m-37 1h2m-1 0h2m0 0h2m-1 0h2m4 0h2m6 0h2m8 0h2m5 0h2m4 0h2m-40 1h2m12 0h2m3 0h2m8 0h2m0 0h2m-42 1h2m4 0h2m14 0h2m8 0h2m9 0h2m-32 1h2m-2 0h2m0 0h2m0 0h2m-1 0h2m10 0h2m-2 0h2m10 0h2m-48 1h2m-1 0h2m1 0h2m2 0h2m0 0h2m-1 0h2m7 0h2m0 0h2m-1 0h2m3 0h2m2 0h2m0 0h2m4 0h2m-2 0h2m1 0h2m-1 0h2m-35 1h2m10 0h2m-1 0h2m0 0h2m-1 0h2m-1 0h2m4 0h2m0 0h2m-1 0h2m1 0h2m-43 1h2m1 0h2m4 0h2m1 0h2m5 0h2m2 0h2m3 0h2m3 0h2m7 0h2m-43 1h2m2 0h2m7 0h2m3 0h2m0 0h2m-1 0h2m-1 0h2m1 0h2m6 0h2m3 0h2m-40 1h2m5 0h2m-1 0h2m2 0h2m4 0h2m-19 1h2m-1 0h2m3 0h2m7 0h2m-2 0h2m-1 0h2m0 0h2m-2 0h2m7 0h2m7 0h2m1 0h2m-41 1h2m0 0h2m3 0h2m3 0h2m1 0h2m1 0h2m1 0h2m14 0h2m-39 1h2m1 0h2m-1 0h2m7 0h2m6 0h2m3 0h2m0 0h2m0 0h2m-1 0h2m-44 1h2m6 0h2m17 0h2m4 0h2m-1 0h2m-26 1h2m-2 0h2m6 0h2m-2 0h2m0 0h2m-1 0h2m-18 1h2m10 0h2m-1 0h2m1 0h2m14 0h2m-30 1h2m4 0h2m2 0h2m-1 0h2m8 0h2m0 0h2m-1 0h2m-2 0h2m-24 1h2m-2 0h2m7 0h2m0 0h2m3 0h2m3 0h2m-1 0h2m-21 1h2m6 0h2m0 0h2m-2 0h2m2 0h2m4 0h2m-32 1h2m14 0h2m-8 1h2m17 0h2m-1 0h2m-21 1h2m-6 2h2" stroke="#0000ff" stroke-opacity="0.45" stroke-width="2.0" fill="none"/><path d="M1090 87h2m3 0h2m-3 1h2m-20 2h2m3 0h2m-1 0h2m0 0h2m-2 0h2m-2 0h2m-19 1h2m14 0h2m-20 1h2m-1 0h2m16 0h2m0 0h2m4 0h2m-29 1h2m1 0h2m1 0h2m-1 0h2m6 0h2m-1 0h2m3 0h2m2 0h2m4 0h2m-31 1h2m-1 0h2m13 0h2m11 0h2m-33 1h2m4 0h2m-1 0h2m-2 0h2m-1 0h2m6 0h2m1 0h2m0 0h2m0 0h2m4 0h2m-2 0h2m-42 1h2m11 0h2m5 0h2m12 0h2m-2 0h2m4 0h2m-24 1h2m3 0h2m-1 0h2m2 0h2m1 0h2m-1 0h2m-34 1h2m-1 0h2m6 0h2m7 0h2m6 0h2m-1 0h2m-23 1h2m0 0h2m4 0h2m-1 0h2m9 0h2m16 0h2m-45 1h2m13 0h2m1 0h2m0 0h2m-2 0h2m8 0h2m-1 0h2m0 0h2m0 0h2m-40 1h2m22 0h2m4 0h2m-2 0h2m4 0h2m-32 1h2m9 0h2m-2 0h2m-1 0h2m4 0h2m1 0h2m3 0h2m6 0h2m-1 0h2m-44 1h2m5 0h2m-2 0h2m4 0h2m1 0h2m-1 0h2m4 0h2m8 0h2m5 0h2m-33 1h2m-2 0h2m0 0h2m2 0h2m0 0h2m1 0h2m-2 0h2m-1 0h2m6 0h2m0 0h2m-35 1h2m2 0h2m3 0h2m0 0h2m2 0h2m1 0h2m0 0h2m-1 0h2m3 0h2m1 0h2m8 0h2m-42 1h2m0 0h2m6 0h2m-1 0h2m1 0h2m1 0h2m-1 0h2m2 0h2m11 0h2m1 0h2m-2 0h2m-37 1h2m-2 0h2m11 0h2m2 0h2m5 0h2m-2 0h2m4 0h2m-27 1h2m4 0h2m2 0h2m-2 0h2m5 0h2m0 0h2m-1 0h2m2 0h2m-1 0h2m-40 1h2m4 0h2m12 0h2m4 0h2m-2 0h2m4 0h2m-31 1h2m12 0h2m4 0h2m10 0h2m-2 0h2m-2 0h2m-36 1h2m0 0h2m-1 0h2m14 0h2m1 0h2m1 0h2m0 0h2m-2 0h2m-29 1h2m1 0h2m-1 0h2m11 0h2m10 0h2m0 0h2m4 0h2m-44 1h2m3 0h2m-1 0h2m8 0h2m4 0h2m1 0h2m3 0h2m-1 0h2m0 0h2m-1 0h2m-1 0h2m-19 1h2m8 0h2m1 0h2m-26 1h2m1 0h2m11 0h2m-2 0h2m4 1h2m-21 1h2m11 0h2m4 0h2m-24 1h2m8 0h2m-14 1h2m10 0h2m9 0h2m-21 1h2m11 1h2" stroke="#0000ff" stroke-opacity="0.45" stroke-width="2.0" fill="none"/><path d="M1079 89h2m4 0h2m7 0h2m-15 1h2m-1 0h2m2 0h2m-19 1h2m3 0h2m8 0h2m-2 0h2m2 0h2m3 0h2m-25 1h2m1 0h2m1 0h2m7 0h2m-18 1h2m6 0h2m3 0h2m-2 0h2m9 0h2m-34 1h2m10 0h2m2 0h2m2 0h2m2 0h2m0 0h2m-1 0h2m-5 1h2m-1 0h2m5 0h2m3 0h2m-11 1h2m-16 1h2m3 0h2m-1 0h2m5 0h2m-28 1h2m0 0h2m1 0h2m9 0h2m-2 0h2m0 0h2m2 0h2m0 0h2m4 0h2m-41 1h2m13 0h2m-2 0h2m0 0h2m-2 0h2m0 0h2m-1 0h2m-1 0h2m0 0h2m3 0h2m1 0h2m2 0h2m-36 1h2m3 0h2m-1 0h2m4 0h2m1 0h2m-1 0h2m9 0h2m3 0h2m0 0h2m-1 0h2m1 0h2m-39 1h2m0 0h2m0 0h2m9 0h2m3 0h2m4 0h2m4 0h2m3 0h2m-41 1h2m0 0h2m22 0h2m12 0h2m-41 1h2m-2 0h2m5 0h2m4 0h2m1 0h2m-1 0h2m1 0h2m3 0h2m-2 0h2m-22 1h2m1 0h2m-1 0h2m7 0h2m-2 0h2m-2 0h2m0 0h2m4 0h2m-2 0h2m2 0h2m8 0h2m-48 1h2m11 0h2m2 0h2m-1 0h2m1 0h2m4 0h2m3 0h2m-2 0h2m-1 0h2m0 0h2m1 0h2m2 0h2m-37 1h2m0 0h2m2 0h2m8 0h2m0 0h2m-1 0h2m-27 1h2m-1 0h2m1 0h2m-2 0h2m4 0h2m2 0h2m-1 0h2m-1 0h2m7 0h2m-1 0h2m0 0h2m1 0h2m0 0h2m-37 1h2m8 0h2m1 0h2m10 0h2m-2 0h2m8 0h2m1 0h2m2 0h2m-40 1h2m4 0h2m2 0h2m4 0h2m-1 0h2m0 0h2m3 0h2m4 0h2m-37 1h2m11 0h2m-1 0h2m3 0h2m3 0h2m-27 1h2m6 0h2m10 0h2m2 0h2m4 0h2m-1 0h2m1 0h2m-1 0h2m-2 0h2m-40 1h2m7 0h2m0 0h2m1 0h2m6 0h2m2 0h2m6 0h2m-16 1h2m3 0h2m6 0h2m3 0h2m-31 1h2m2 0h2m3 0h2m6 0h2m-26 1h2m2 0h2m3 0h2m2 0h2m-1 0h2m15 0h2m0 0h2m-38 1h2m4 0h2m0 0h2m9 0h2m11 0h2m-32 1h2m5 0h2m3 0h2m0 0h2m-2 0h2m5 0h2m-2 0h2m0 0h2m-23 1h2m8 4h2m2 0h2" stroke="#0000ff" stroke-opacity="0.45" stroke-width="2.0" fill="none"/></g>
<g transform="scale(0.5)"><path d="M1116 76h2m-7 3h2m-8 2h2m10 0h2m-16 1h2m-2 0h2m2 0h2m0 1h2m-11 1h2m-12 1h2m4 0h2m2 0h2m-1 2h2m-15 1h2m7 0h2m-1 0h2m-1 0h2m0 1h2m-1 0h2m3 0h2m-1 0h2m-33 1h2m19 0h2m-2 0h2m0 0h2m-9 1h2m-2 0h2m15 0h2m-19 1h2m-1 0h2m-9 1h2m1 0h2m2 0h2m1 0h2m4 0h2m-19 1h2m6 0h2m22 0h2m-44 1h2m4 0h2m-14 1h2m9 0h2m2 0h2m3 1h2m0 0h2m-29 1h2m8 0h2m1 0h2m-2 0h2m-1 0h2m6 0h2m-2 0h2m8 0h2m1 0h2m3 0h2m-23 1h2m6 0h2m-17 1h2m3 0h2m1 0h2m4 0h2m-11 1h2m-1 0h2m-9 2h2m9 0h2m-16 2h2m14 1h2m-2 1h2m-34 8h2m-2 1h2" stroke="#0000ff" stroke-opacity="0.4" stroke-width="2.0" fill="none"/><path d="M1116 73h2m-9 1h2m-14 2h2m3 5h2m0 0h2m17 0h2m-26 1h2m2 0h2m1 0h2m2 0h2m0 0h2m4 0h2m-26 1h2m-1 0h2m7 1h2m1 0h2m6 0h2m-32 1h2m1 0h2m17 0h2m5 0h2m-29 1h2m6 0h2m4 0h2m-1 0h2m-2 0h2m11 0h2m-26 2h2m0 0h2m3 0h2m4 0h2m-18 2h2m10 0h2m4 0h2m4 0h2m-22 1h2m-1 0h2m1 0h2m-13 1h2m0 0h2m4 0h2m1 1h2m-19 1h2m5 0h2m0 0h2m2 0h2m3 0h2m3 0h2m-22 1h2m14 0h2m6 0h2m-32 1h2m10 0h2m3 0h2m-16 1h2m0 0h2m22 0h2m-28 1h2m5 0h2m-17 2h2m19 0h2m-18 1h2m5 1h2m15 0h2m-29 1h2m1 1h2m-9 2h2m7 3h2m1 2h2m9 0h2" stroke="#0000ff" stroke-opacity="0.4" stroke-width="2.0" fill="none"/></g>
<g transform="scale(0.5)"><path d="M1116 70h2m1 6h2m-26 3h2m27 0h2m-34 2h2m1 0h2m4 0h2m-11 1h2m8 1h2m-14 1h2m21 0h2m-40 2h2m6 0h2m10 0h2m2 0h2m3 0h2m2 0h2m1 0h2m-44 1h2m13 0h2m12 0h2m0 0h2m7 0h2m-39 1h2m34 0h2m2 0h2m-35 1h2m1 0h2m8 0h2m1 0h2m-26 1h2m4 0h2m13 0h2m1 0h2m1 0h2m-1 0h2m-35 1h2m3 0h2m3 0h2m6 0h2m0 0h2m15 0h2m0 0h2m2 0h2m-40 1h2m9 0h2m-1 0h2m4 0h2m0 0h2m4 0h2m-32 1h2m1 0h2m2 0h2m-1 0h2m4 0h2m2 0h2m-1 0h2m3 0h2m-2 0h2m-27 1h2m4 0h2m1 0h2m-2 0h2m-1 0h2m5 0h2m3 0h2m4 0h2m-25 1h2m1 0h2m0 0h2m1 0h2m-2 0h2m3 0h2m0 0h2m-22 1h2m-2 0h2m7 0h2m-2 0h2m-1 0h2m5 0h2m3 0h2m-1 0h2m9 0h2m-31 1h2m0 0h2m4 0h2m1 0h2m1 0h2m-1 0h2m-16 1h2m-1 0h2m0 0h2m20 0h2m-51 1h2m21 0h2m-2 0h2m-1 0h2m3 0h2m2 0h2m5 0h2m-1 0h2m0 0h2m-1 0h2m6 0h2m-49 1h2m16 0h2m8 0h2m-1 0h2m3 0h2m0 0h2m14 0h2m-41 1h2m-1 0h2m0 0h2m-2 0h2m5 0h2m4 0h2m0 0h2m-46 1h2m15 0h2m-1 0h2m9 0h2m-1 0h2m1 0h2m4 0h2m6 0h2m-30 1h2m0 0h2m8 0h2m-1 0h2m0 0h2m1 0h2m-2 0h2m6 0h2m14 0h2m-46 1h2m4 0h2m0 0h2m1 0h2m-1 0h2m1 0h2m1 0h2m-1 0h2m3 0h2m0 0h2m1 0h2m-38 1h2m-1 0h2m-2 0h2m2 0h2m5 0h2m-2 0h2m6 0h2m6 0h2m0 0h2m8 0h2m-37 1h2m1 0h2m9 0h2m11 0h2m-21 1h2m-2 0h2m5 0h2m-2 0h2m-1 0h2m-2 0h2m8 0h2m-1 0h2m-32 1h2m-1 0h2m-1 0h2m4 0h2m0 0h2m8 0h2m0 0h2m-23 1h2m-1 0h2m13 0h2m1 0h2m-32 1h2m6 0h2m11 0h2m0 0h2m-21 1h2m7 0h2m25 0h2m-36 1h2m2 0h2m8 0h2m10 0h2m2 0h2m-21 1h2m1 0h2m4 0h2m0 0h2m-25 1h2m16 0h2m-35 1h2m13 0h2m13 0h2m2 0h2m-21 1h2m12 0h2m4 0h2m13 0h2m-29 1h2m4 0h2m10 0h2m5 0h2m-42 1h2m8 0h2m10 0h2m-15 2h2m-23 1h2m12 1h2m-7 2h2m13 0h2m-26 4h2m15 0h2m-14 3h2" stroke="#0000ff" stroke-opacity="0.45" stroke-width="2.0" fill="none"/></g>
<g transform="scale(0.5)"><path d="M1202 52h2m-20 1h2m3 0h2m-1 0h2m-14 1h2m6 0h2m0 0h2m0 0h2m-2 0h2m1 0h2m0 0h2m0 0h2m-20 1h2m5 0h2m5 0h2m4 0h2m-33 1h2m4 0h2m3 0h2m0 0h2m1 0h2m2 0h2m1 0h2m-2 0h2m4 0h2m-1 0h2m-29 1h2m-2 0h2m5 0h2m1 0h2m0 0h2m0 0h2m-2 0h2m3 0h2m0 0h2m-1 0h2m-1 0h2m0 0h2m1 0h2m-29 1h2m1 0h2m0 0h2m3 0h2m0 0h2m3 0h2m-1 0h2m-1 0h2m0 0h2m-2 0h2m-1 0h2m2 0h2m-36 1h2m-1 0h2m-2 0h2m1 0h2m0 0h2m0 0h2m-2 0h2m0 0h2m-1 0h2m-1 0h2m-1 0h2m-1 0h2m1 0h2m-2 0h2m-2 0h2m4 0h2m2 0h2m1 0h2m-2 0h2m2 0h2m-2 0h2m-40 1h2m3 0h2m3 0h2m-1 0h2m1 0h2m2 0h2m-2 0h2m0 0h2m3 0h2m-2 0h2m-2 0h2m1 0h2m1 0h2m-1 0h2m-1 0h2m-37 1h2m2 0h2m-1 0h2m4 0h2m-1 0h2m-1 0h2m6 0h2m-2 0h2m-2 0h2m0 0h2m-1 0h2m-1 0h2m-1 0h2m-1 0h2m2 0h2m4 0h2m3 0h2m-48 1h2m6 0h2m-1 0h2m0 0h2m5 0h2m-2 0h2m2 0h2m-1 0h2m-2 0h2m-1 0h2m-1 0h2m-1 0h2m-2 0h2m0 0h2m2 0h2m-2 0h2m-1 0h2m-1 0h2m2 0h2m0 0h2m-43 1h2m-2 0h2m-2 0h2m0 0h2m-2 0h2m6 0h2m-2 0h2m0 0h2m1 0h2m2 0h2m1 0h2m1 0h2m-2 0h2m-2 0h2m3 0h2m-1 0h2m-2 0h2m0 0h2m-2 0h2m4 0h2m0 0h2m-45 1h2m8 0h2m-1 0h2m0 0h2m-2 0h2m1 0h2m3 0h2m-1 0h2m0 0h2m-1 0h2m0 0h2m-2 0h2m1 0h2m-1 0h2m-1 0h2m-1 0h2m-2 0h2m-1 0h2m-1 0h2m0 0h2m-1 0h2m-1 0h2m-1 0h2m-1 0h2m-1 0h2m-1 0h2m-46 1h2m-1 0h2m-2 0h2m0 0h2m-1 0h2m0 0h2m-1 0h2m6 0h2m-1 0h2m-2 0h2m3 0h2m-1 0h2m0 0h2m0 0h2m-2 0h2m4 0h2m5 0h2m3 0h2m-2 0h2m1 0h2m-49 1h2m1 0h2m-1 0h2m7 0h2m0 0h2m-2 0h2m-2 0h2m0 0h2m-1 0h2m1 0h2m2 0h2m2 0h2m-1 0h2m1 0h2m0 0h2m0 0h2m1 0h2m0 0h2m-2 0h2m-1 0h2m-50 1h2m1 0h2m3 0h2m0 0h2m1 0h2m1 0h2m-2 0h2m1 0h2m-2 0h2m1 0h2m0 0h2m0 0h2m-1 0h2m-1 0h2m0 0h2m2 0h2m-1 0h2m-1 0h2m-2 0h2m-1 0h2m-1 0h2m-1 0h2m-1 0h2m-2 0h2m-1 0h2m-2 0h2m-1 0h2m-2 0h2m-1 0h2m-1 0h2m-1 0h2m0 0h2m-54 1h2m5 0h2m-1 0h2m-2 0h2m-1 0h2m-1 0h2m0 0h2m-2 0h2m-1 0h2m2 0h2m0 0h2m0 0h2m-1 0h2m-1 0h2m-1 0h2m-1 0h2m-2 0h2m-1 0h2m-1 0h2m1 0h2m-1 0h2m-1 0h2m-2 0h2m0 0h2m0 0h2m-1 0h2m-1 0h2m2 0h2m-1 0h2m6 0h2m-50 1h2m-1 0h2m0 0h2m-2 0h2m-2 0h2m-1 0h2m-1 0h2m0 0h2m-1 0h2m1 0h2m4 0h2m1 0h2m1 0h2m-2 0h2m-2 0h2m1 0h2m-2 0h2m-2 0h2m-2 0h2m0 0h2m-2 0h2m0 0h2m1 0h2m-1 0h2m1 0h2m-2 0h2m-1 0h2m0 0h2m-1 0h2m-1 0h2m-1 0h2m-49 1h2m1 0h2m-1 0h2m-1 0h2m-1 0h2m3 0h2m2 0h2m-2 0h2m-1 0h2m2 0h2m1 0h2m-2 0h2m-1 0h2m1 0h2m-1 0h2m4 0h2m-2 0h2m0 0h2m-1 0h2m-2 0h2m-2 0h2m-1 0h2m2 0h2m-39 1h2m1 0h2m4 0h2m-2 0h2m-2 0h2m0 0h2m-1 0h2m-2 0h2m-2 0h2m4 0h2m-2 0h2m-1 0h2m1 0h2m0 0h2m-1 0h2m-2 0h2m0 0h2m3 0h2m-2 0h2m-1 0h2m0 0h2m-2 0h2m-1 0h2m-44 1h2m-1 0h2m2 0h2m1 0h2m-1 0h2m-2 0h2m-1 0h2m-1 0h2m-1 0h2m0 0h2m-1 0h2m1 0h2m0 0h2m-1 0h2m-1 0h2m-1 0h2m0 0h2m-1 0h2m7 0h2m-1 0h2m0 0h2m-2 0h2m-1 0h2m-2 0h2m-1 0h2m1 0h2m-1 0h2m0 0h2m2 0h2m-48 1h2m-1 0h2m-2 0h2m0 0h2m-1 0h2m6 0h2m-1 0h2m1 0h2m-2 0h2m-1 0h2m0 0h2m2 0h2m5 0h2m-1 0h2m0 0h2m2 0h2m2 0h2m-47 1h2m2 0h2m2 0h2m-2 0h2m2 0h2m0 0h2m0 0h2m0 0h2m0 0h2m-2 0h2m-2 0h2m-2 0h2m0 0h2m-1 0h2m-2 0h2m0 0h2m3 0h2m2 0h2m-39 1h2m-1 0h2m-1 0h2m2 0h2m-1 0h2m3 0h2m-1 0h2m-1 0h2m0 0h2m-1 0h2m6 0h2m-2 0h2m-1 0h2m-2 0h2m-1 0h2m2 0h2m-2 0h2m-1 0h2m2 0h2m0 0h2m-41 1h2m-2 0h2m0 0h2m-1 0h2m4 0h2m5 0h2m2 0h2m-1 0h2m-1 0h2m-2 0h2m1 0h2m0 0h2m0 0h2m-2 0h2m-1 0h2m-2 0h2m0 0h2m-1 0h2m-1 0h2m-2 0h2m-2 0h2m-1 0h2m4 0h2m-1 0h2m-45 1h2m3 0h2m0 0h2m-2 0h2m0 0h2m-1 0h2m-1 0h2m3 0h2m-1 0h2m0 0h2m-1 0h2m5 0h2m0 0h2m4 0h2m-2 0h2m2 0h2m6 0h2m-50 1h2m2 0h2m3 0h2m0 0h2m3 0h2m0 0h2m2 0h2m-1 0h2m1 0h2m-2 0h2m-1 0h2m0 0h2m-2 0h2m-2 0h2m1 0h2m3 0h2m3 0h2m1 0h2m-44 1h2m2 0h2m0 0h2m1 0h2m-1 0h2m7 0h2m0 0h2m-1 0h2m7 0h2m-1 0h2m1 0h2m-2 0h2m-38 1h2m1 0h2m-2 0h2m2 0h2m0 0h2m-1 0h2m-2 0h2m-1 0h2m-1 0h2m4 0h2m0 0h2m1 0h2m-1 0h2m-1 0h2m2 0h2m1 0h2m-36 1h2m1 0h2m0 0h2m1 0h2m-2 0h2m2 0h2m-2 0h2m0 0h2m-2 0h2m3 0h2m-1 0h2m0 0h2m-2 0h2m-1 0h2m0 0h2m-1 0h2m6 0h2m-39 1h2m5 0h2m-1 0h2m-2 0h2m-2 0h2m3 0h2m5 0h2m-1 0h2m0 0h2m1 0h2m4 0h2m-1 0h2m-1 0h2m-2 0h2m-31 1h2m0 0h2m-1 0h2m-1 0h2m1 0h2m5 0h2m7 0h2m-22 1h2m-1 0h2m-1 0h2m-1 0h2m1 0h2m0 0h2m1 0h2m1 0h2m-1 0h2m-1 0h2m-1 0h2m3 0h2m-29 1h2m9 0h2m3 0h2m2 0h2" stroke="#008000" stroke-opacity="0.55" stroke-width="2.0" fill="none"/><path d="M1189 52h2m1 0h2m4 0h2m-12 1h2m-1 0h2m5 0h2m-31 1h2m15 0h2m0 0h2m-1 0h2m0 0h2m0 0h2m-1 0h2m-26 1h2m11 0h2m2 0h2m2 0h2m-1 0h2m0 0h2m4 0h2m-25 1h2m1 0h2m-2 0h2m2 0h2m0 0h2m3 0h2m-1 0h2m3 0h2m-1 0h2m-1 0h2m-2 0h2m-33 1h2m-1 0h2m4 0h2m0 0h2m3 0h2m0 0h2m0 0h2m-2 0h2m7 0h2m-1 0h2m2 0h2m-31 1h2m-1 0h2m-2 0h2m3 0h2m4 0h2m-1 0h2m0 0h2m2 0h2m1 0h2m-1 0h2m1 0h2m-2 0h2m-1 0h2m2 0h2m-35 1h2m-1 0h2m6 0h2m1 0h2m0 0h2m-1 0h2m0 0h2m1 0h2m0 0h2m-2 0h2m-1 0h2m2 0h2m-33 1h2m0 0h2m-2 0h2m6 0h2m-1 0h2m1 0h2m0 0h2m0 0h2m0 0h2m3 0h2m1 0h2m-1 0h2m-32 1h2m1 0h2m-2 0h2m-2 0h2m0 0h2m-1 0h2m0 0h2m-1 0h2m-2 0h2m0 0h2m0 0h2m2 0h2m4 0h2m-1 0h2m-1 0h2m0 0h2m1 0h2m0 0h2m0 0h2m-2 0h2m1 0h2m-42 1h2m-1 0h2m3 0h2m1 0h2m1 0h2m2 0h2m2 0h2m-1 0h2m-2 0h2m1 0h2m1 0h2m0 0h2m0 0h2m4 0h2m-1 0h2m-1 0h2m0 0h2m-46 1h2m-1 0h2m1 0h2m-2 0h2m0 0h2m3 0h2m-2 0h2m-1 0h2m2 0h2m0 0h2m0 0h2m0 0h2m2 0h2m-1 0h2m0 0h2m0 0h2m-1 0h2m-1 0h2m-1 0h2m-43 1h2m3 0h2m0 0h2m0 0h2m0 0h2m-1 0h2m2 0h2m3 0h2m-1 0h2m0 0h2m0 0h2m-2 0h2m9 0h2m-2 0h2m1 0h2m-2 0h2m-1 0h2m-43 1h2m-1 0h2m3 0h2m-1 0h2m-1 0h2m-1 0h2m1 0h2m1 0h2m-2 0h2m2 0h2m2 0h2m-1 0h2m0 0h2m-2 0h2m-1 0h2m-1 0h2m-2 0h2m-1 0h2m-1 0h2m-1 0h2m4 0h2m1 0h2m-1 0h2m-2 0h2m4 0h2m-50 1h2m-2 0h2m0 0h2m-1 0h2m0 0h2m-2 0h2m0 0h2m8 0h2m0 0h2m-1 0h2m0 0h2m0 0h2m-1 0h2m-2 0h2m-2 0h2m-2 0h2m0 0h2m-1 0h2m-1 0h2m-1 0h2m7 0h2m-1 0h2m-2 0h2m-1 0h2m-2 0h2m0 0h2m-52 1h2m-1 0h2m1 0h2m1 0h2m-2 0h2m3 0h2m-2 0h2m-1 0h2m4 0h2m-1 0h2m0 0h2m-1 0h2m-1 0h2m-2 0h2m-1 0h2m-1 0h2m2 0h2m-2 0h2m0 0h2m-1 0h2m-2 0h2m0 0h2m-2 0h2m-2 0h2m-1 0h2m-2 0h2m-2 0h2m2 0h2m-2 0h2m-1 0h2m-2 0h2m1 0h2m3 0h2m-2 0h2m-1 0h2m-47 1h2m2 0h2m0 0h2m1 0h2m1 0h2m-2 0h2m0 0h2m0 0h2m-2 0h2m3 0h2m-1 0h2m-2 0h2m-1 0h2m-2 0h2m0 0h2m-2 0h2m4 0h2m-2 0h2m2 0h2m0 0h2m-1 0h2m-1 0h2m3 0h2m-2 0h2m-47 1h2m-1 0h2m-1 0h2m1 0h2m1 0h2m-2 0h2m1 0h2m1 0h2m-2 0h2m0 0h2m-2 0h2m1 0h2m-1 0h2m-2 0h2m-1 0h2m-1 0h2m0 0h2m0 0h2m-2 0h2m-1 0h2m1 0h2m0 0h2m2 0h2m0 0h2m2 0h2m-2 0h2m-47 1h2m6 0h2m0 0h2m2 0h2m0 0h2m0 0h2m-1 0h2m-2 0h2m-2 0h2m-1 0h2m-2 0h2m-1 0h2m-1 0h2m1 0h2m0 0h2m-1 0h2m6 0h2m-2 0h2m2 0h2m-1 0h2m2 0h2m2 0h2m-59 1h2m7 0h2m1 0h2m-1 0h2m-2 0h2m4 0h2m-1 0h2m2 0h2m0 0h2m-2 0h2m-1 0h2m-1 0h2m-1 0h2m-1 0h2m1 0h2m-1 0h2m-2 0h2m0 0h2m-1 0h2m0 0h2m-1 0h2m-1 0h2m0 0h2m0 0h2m5 0h2m-48 1h2m1 0h2m1 0h2m-1 0h2m-2 0h2m0 0h2m-1 0h2m3 0h2m-1 0h2m0 0h2m0 0h2m4 0h2m-2 0h2m-1 0h2m1 0h2m1 0h2m-1 0h2m1 0h2m0 0h2m-1 0h2m-2 0h2m-43 1h2m-2 0h2m-2 0h2m0 0h2m2 0h2m-2 0h2m8 0h2m0 0h2m-2 0h2m0 0h2m-2 0h2m-2 0h2m-1 0h2m-1 0h2m-2 0h2m-1 0h2m-1 0h2m1 0h2m1 0h2m-2 0h2m-1 0h2m2 0h2m-1 0h2m-1 0h2m-1 0h2m3 0h2m-48 1h2m2 0h2m-1 0h2m-2 0h2m-1 0h2m-1 0h2m3 0h2m1 0h2m0 0h2m2 0h2m0 0h2m0 0h2m2 0h2m-2 0h2m-1 0h2m1 0h2m-2 0h2m0 0h2m1 0h2m-1 0h2m1 0h2m-2 0h2m-44 1h2m0 0h2m-1 0h2m4 0h2m-1 0h2m-2 0h2m-1 0h2m-1 0h2m-2 0h2m-1 0h2m-2 0h2m0 0h2m0 0h2m1 0h2m-1 0h2m-2 0h2m0 0h2m2 0h2m-1 0h2m0 0h2m0 0h2m0 0h2m-1 0h2m4 0h2m-1 0h2m0 0h2m-47 1h2m3 0h2m-1 0h2m7 0h2m-1 0h2m0 0h2m-1 0h2m-1 0h2m2 0h2m2 0h2m0 0h2m-2 0h2m2 0h2m-1 0h2m-1 0h2m-1 0h2m-2 0h2m-2 0h2m6 0h2m0 0h2m-49 1h2m2 0h2m-2 0h2m3 0h2m3 0h2m-2 0h2m1 0h2m-2 0h2m-1 0h2m1 0h2m-1 0h2m4 0h2m11 0h2m-41 1h2m1 0h2m-1 0h2m-2 0h2m-1 0h2m-1 0h2m-1 0h2m0 0h2m0 0h2m0 0h2m-2 0h2m-1 0h2m-2 0h2m4 0h2m-2 0h2m1 0h2m-1 0h2m-2 0h2m-2 0h2m-2 0h2m0 0h2m3 0h2m2 0h2m0 0h2m-2 0h2m-40 1h2m-1 0h2m-2 0h2m2 0h2m-1 0h2m0 0h2m2 0h2m2 0h2m0 0h2m-2 0h2m-2 0h2m3 0h2m-1 0h2m2 0h2m2 0h2m-2 0h2m-34 1h2m-1 0h2m1 0h2m5 0h2m-1 0h2m-2 0h2m1 0h2m0 0h2m21 0h2m-50 1h2m1 0h2m1 0h2m-1 0h2m2 0h2m0 0h2m5 0h2m2 0h2m-2 0h2m0 0h2m-1 0h2m4 0h2m-2 0h2m3 0h2m-1 0h2m1 0h2m-33 1h2m-1 0h2m3 0h2m-1 0h2m-1 0h2m-1 0h2m-1 0h2m-1 0h2m0 0h2m-1 0h2m0 0h2m-2 0h2m-1 0h2m3 0h2m-31 1h2m-1 0h2m4 0h2m-2 0h2m0 0h2m-2 0h2m0 0h2m-1 0h2m-2 0h2m-1 0h2m2 0h2m0 0h2m-1 0h2m-1 0h2m4 0h2m-19 1h2m-1 0h2m2 0h2m4 0h2m5 0h2m-26 1h2m3 0h2m-2 0h2m1 0h2m-1 0h2m2 1h2m-19 1h2m6 0h2m2 0h2m-7 1h2" stroke="#008000" stroke-opacity="0.55" stroke-width="2.0" fill="none"/><path d="M1183 52h2m11 0h2m-15 1h2m-2 0h2m5 0h2m-9 1h2m1 0h2m-1 0h2m1 0h2m-2 0h2m-2 0h2m-22 1h2m3 0h2m2 0h2m-1 0h2m-2 0h2m-1 0h2m0 0h2m-1 0h2m0 0h2m-23 1h2m8 0h2m-1 0h2m7 0h2m1 0h2m1 0h2m1 0h2m1 0h2m-30 1h2m-2 0h2m0 0h2m1 0h2m1 0h2m1 0h2m-1 0h2m0 0h2m5 0h2m-1 0h2m-2 0h2m0 0h2m-2 0h2m-31 1h2m6 0h2m2 0h2m-2 0h2m-2 0h2m0 0h2m-2 0h2m-1 0h2m-2 0h2m-1 0h2m-1 0h2m1 0h2m0 0h2m7 0h2m-2 0h2m1 0h2m-36 1h2m-1 0h2m5 0h2m6 0h2m0 0h2m-2 0h2m1 0h2m-1 0h2m2 0h2m1 0h2m1 0h2m1 0h2m-37 1h2m-1 0h2m1 0h2m-1 0h2m2 0h2m1 0h2m-2 0h2m-1 0h2m0 0h2m-1 0h2m-2 0h2m-2 0h2m0 0h2m-1 0h2m-1 0h2m-1 0h2m5 0h2m-2 0h2m-1 0h2m-2 0h2m-1 0h2m2 0h2m-42 1h2m2 0h2m-1 0h2m-2 0h2m-2 0h2m0 0h2m5 0h2m-2 0h2m-1 0h2m-1 0h2m0 0h2m-2 0h2m-2 0h2m-2 0h2m-1 0h2m-1 0h2m0 0h2m2 0h2m1 0h2m-1 0h2m8 0h2m-2 0h2m-52 1h2m10 0h2m-1 0h2m0 0h2m1 0h2m2 0h2m1 0h2m-2 0h2m1 0h2m1 0h2m0 0h2m7 0h2m-1 0h2m2 0h2m-2 0h2m0 0h2m-48 1h2m1 0h2m0 0h2m-1 0h2m0 0h2m-1 0h2m-1 0h2m-1 0h2m-1 0h2m0 0h2m-1 0h2m-1 0h2m-1 0h2m-2 0h2m-1 0h2m0 0h2m2 0h2m0 0h2m-1 0h2m0 0h2m0 0h2m1 0h2m2 0h2m2 0h2m-2 0h2m0 0h2m-1 0h2m0 0h2m0 0h2m-47 1h2m1 0h2m-2 0h2m3 0h2m-2 0h2m1 0h2m5 0h2m-2 0h2m-2 0h2m-1 0h2m-2 0h2m-1 0h2m1 0h2m-2 0h2m-1 0h2m0 0h2m-2 0h2m-2 0h2m-1 0h2m-2 0h2m-1 0h2m9 0h2m-1 0h2m-1 0h2m-2 0h2m-50 1h2m2 0h2m-1 0h2m-2 0h2m0 0h2m3 0h2m-1 0h2m0 0h2m-1 0h2m0 0h2m-2 0h2m0 0h2m-2 0h2m-1 0h2m0 0h2m-2 0h2m0 0h2m-1 0h2m-1 0h2m-2 0h2m1 0h2m-2 0h2m-2 0h2m-1 0h2m0 0h2m-2 0h2m-2 0h2m0 0h2m0 0h2m-1 0h2m3 0h2m1 0h2m-2 0h2m-2 0h2m-2 0h2m-1 0h2m-48 1h2m-1 0h2m1 0h2m1 0h2m-2 0h2m-1 0h2m-1 0h2m-1 0h2m-1 0h2m-1 0h2m0 0h2m0 0h2m-2 0h2m-1 0h2m3 0h2m2 0h2m-1 0h2m0 0h2m0 0h2m2 0h2m-2 0h2m0 0h2m1 0h2m-44 1h2m-1 0h2m1 0h2m-1 0h2m2 0h2m-2 0h2m-1 0h2m-2 0h2m-1 0h2m0 0h2m0 0h2m-1 0h2m-1 0h2m-1 0h2m-1 0h2m-1 0h2m5 0h2m0 0h2m1 0h2m2 0h2m-1 0h2m-2 0h2m1 0h2m0 0h2m-45 1h2m-1 0h2m-1 0h2m2 0h2m0 0h2m-1 0h2m-1 0h2m-1 0h2m-2 0h2m-1 0h2m-2 0h2m-1 0h2m-2 0h2m2 0h2m-1 0h2m0 0h2m-1 0h2m0 0h2m-2 0h2m-2 0h2m2 0h2m-2 0h2m4 0h2m1 0h2m5 0h2m-44 1h2m-2 0h2m-1 0h2m-1 0h2m-2 0h2m-2 0h2m-1 0h2m-1 0h2m-1 0h2m1 0h2m0 0h2m0 0h2m-1 0h2m1 0h2m1 0h2m0 0h2m-1 0h2m-1 0h2m-2 0h2m0 0h2m-1 0h2m-1 0h2m0 0h2m1 0h2m0 0h2m-2 0h2m0 0h2m-1 0h2m7 0h2m-51 1h2m-2 0h2m2 0h2m-2 0h2m-2 0h2m-1 0h2m-1 0h2m5 0h2m1 0h2m-2 0h2m2 0h2m-2 0h2m1 0h2m2 0h2m0 0h2m0 0h2m-1 0h2m0 0h2m-2 0h2m-2 0h2m-1 0h2m-1 0h2m-2 0h2m-1 0h2m1 0h2m-1 0h2m0 0h2m-50 1h2m0 0h2m1 0h2m0 0h2m0 0h2m-2 0h2m2 0h2m0 0h2m-1 0h2m2 0h2m-1 0h2m0 0h2m-2 0h2m1 0h2m0 0h2m9 0h2m-2 0h2m0 0h2m2 0h2m1 0h2m-49 1h2m0 0h2m0 0h2m1 0h2m1 0h2m2 0h2m-1 0h2m-1 0h2m0 0h2m-2 0h2m3 0h2m-1 0h2m-2 0h2m-1 0h2m-1 0h2m-2 0h2m1 0h2m-2 0h2m1 0h2m-1 0h2m-2 0h2m-1 0h2m-2 0h2m2 0h2m2 0h2m8 0h2m-56 1h2m1 0h2m0 0h2m7 0h2m0 0h2m-1 0h2m-1 0h2m-2 0h2m1 0h2m3 0h2m-1 0h2m-1 0h2m-1 0h2m0 0h2m6 0h2m-1 0h2m-45 1h2m2 0h2m-2 0h2m0 0h2m-2 0h2m1 0h2m-1 0h2m-2 0h2m0 0h2m0 0h2m-1 0h2m3 0h2m-1 0h2m2 0h2m-1 0h2m-1 0h2m2 0h2m-2 0h2m1 0h2m2 0h2m-2 0h2m8 0h2m-51 1h2m-1 0h2m5 0h2m-1 0h2m2 0h2m-1 0h2m1 0h2m-1 0h2m-1 0h2m0 0h2m3 0h2m-1 0h2m0 0h2m1 0h2m6 0h2m-1 0h2m-1 0h2m1 0h2m1 0h2m-45 1h2m-2 0h2m0 0h2m1 0h2m7 0h2m-1 0h2m0 0h2m-1 0h2m0 0h2m-2 0h2m0 0h2m0 0h2m-2 0h2m-1 0h2m-1 0h2m0 0h2m-1 0h2m1 0h2m-38 1h2m-1 0h2m-1 0h2m0 0h2m-2 0h2m9 0h2m0 0h2m-1 0h2m-1 0h2m0 0h2m-1 0h2m1 0h2m1 0h2m2 0h2m-2 0h2m12 0h2m-51 1h2m2 0h2m7 0h2m4 0h2m-1 0h2m0 0h2m-1 0h2m-2 0h2m1 0h2m-1 0h2m1 0h2m-1 0h2m1 0h2m0 0h2m-2 0h2m-1 0h2m-35 1h2m-1 0h2m0 0h2m-1 0h2m-2 0h2m6 0h2m-2 0h2m-1 0h2m-1 0h2m-2 0h2m0 0h2m-2 0h2m-1 0h2m-1 0h2m1 0h2m-1 0h2m-2 0h2m0 0h2m0 0h2m0 0h2m-2 0h2m-1 0h2m2 0h2m-39 1h2m-1 0h2m-2 0h2m0 0h2m0 0h2m4 0h2m0 0h2m-2 0h2m5 0h2m1 0h2m-1 0h2m-2 0h2m1 0h2m0 0h2m-1 0h2m1 0h2m3 0h2m-35 1h2m-1 0h2m0 0h2m2 0h2m5 0h2m-2 0h2m0 0h2m1 0h2m5 0h2m3 0h2m-34 1h2m-1 0h2m3 0h2m-1 0h2m5 0h2m12 0h2m-26 1h2m7 0h2m-1 0h2m0 0h2m-1 0h2m-1 0h2m-13 1h2m-2 0h2m-1 0h2m-1 0h2m-2 0h2m7 0h2m-1 0h2m-22 1h2m-1 0h2m5 0h2m-5 1h2m2 0h2m-1 2h2" stroke="#008000" stroke-opacity="0.55" stroke-width="2.0" fill="none"/><path d="M1199 51h2m-17 1h2m9 0h2m-17 1h2m13 0h2m-15 1h2m3 0h2m-1 0h2m1 0h2m0 0h2m1 0h2m-23 1h2m-1 0h2m1 0h2m0 0h2m0 0h2m-2 0h2m-1 0h2m4 0h2m-2 0h2m-1 0h2m-1 0h2m4 0h2m-2 0h2m-28 1h2m0 0h2m3 0h2m1 0h2m-2 0h2m-1 0h2m-1 0h2m0 0h2m-1 0h2m0 0h2m-1 0h2m-2 0h2m-1 0h2m1 0h2m1 0h2m-1 0h2m0 0h2m-2 0h2m-30 1h2m1 0h2m-1 0h2m2 0h2m-1 0h2m-1 0h2m-1 0h2m4 0h2m3 0h2m-1 0h2m3 0h2m-1 0h2m-41 1h2m0 0h2m5 0h2m0 0h2m1 0h2m-1 0h2m0 0h2m1 0h2m0 0h2m3 0h2m7 0h2m0 0h2m-1 0h2m-35 1h2m-1 0h2m-2 0h2m0 0h2m0 0h2m1 0h2m2 0h2m-1 0h2m2 0h2m1 0h2m-2 0h2m-1 0h2m3 0h2m3 0h2m-40 1h2m-1 0h2m-1 0h2m-1 0h2m4 0h2m-1 0h2m1 0h2m0 0h2m0 0h2m1 0h2m0 0h2m1 0h2m1 0h2m7 0h2m1 0h2m-43 1h2m2 0h2m-1 0h2m0 0h2m3 0h2m-2 0h2m1 0h2m-2 0h2m1 0h2m-1 0h2m0 0h2m-2 0h2m1 0h2m1 0h2m2 0h2m-2 0h2m0 0h2m-41 1h2m-2 0h2m8 0h2m-1 0h2m7 0h2m-1 0h2m0 0h2m3 0h2m0 0h2m-2 0h2m-1 0h2m2 0h2m0 0h2m1 0h2m2 0h2m-1 0h2m-42 1h2m1 0h2m-2 0h2m3 0h2m0 0h2m0 0h2m-1 0h2m-2 0h2m1 0h2m-1 0h2m0 0h2m-1 0h2m-1 0h2m-1 0h2m3 0h2m0 0h2m-1 0h2m1 0h2m-1 0h2m-37 1h2m-1 0h2m0 0h2m8 0h2m-2 0h2m-1 0h2m0 0h2m-2 0h2m-2 0h2m-1 0h2m-1 0h2m-2 0h2m-1 0h2m1 0h2m4 0h2m0 0h2m-1 0h2m0 0h2m-2 0h2m-1 0h2m2 0h2m-48 1h2m5 0h2m8 0h2m2 0h2m-2 0h2m-1 0h2m2 0h2m-1 0h2m-1 0h2m-1 0h2m0 0h2m-2 0h2m0 0h2m-2 0h2m-2 0h2m-1 0h2m-2 0h2m3 0h2m-2 0h2m-2 0h2m0 0h2m1 0h2m-1 0h2m-1 0h2m-48 1h2m-1 0h2m-2 0h2m0 0h2m0 0h2m0 0h2m-1 0h2m4 0h2m2 0h2m0 0h2m-1 0h2m-1 0h2m-1 0h2m2 0h2m0 0h2m-2 0h2m-1 0h2m0 0h2m0 0h2m0 0h2m5 0h2m-52 1h2m7 0h2m-1 0h2m2 0h2m0 0h2m0 0h2m0 0h2m-2 0h2m0 0h2m-1 0h2m-2 0h2m-1 0h2m-1 0h2m-2 0h2m-1 0h2m0 0h2m-1 0h2m-1 0h2m1 0h2m0 0h2m2 0h2m-2 0h2m-1 0h2m-2 0h2m-1 0h2m-2 0h2m1 0h2m-1 0h2m-1 0h2m0 0h2m-50 1h2m-2 0h2m-1 0h2m-1 0h2m1 0h2m-1 0h2m-1 0h2m-1 0h2m1 0h2m-2 0h2m-1 0h2m-2 0h2m-1 0h2m-2 0h2m3 0h2m5 0h2m-2 0h2m4 0h2m1 0h2m-2 0h2m-1 0h2m2 0h2m-1 0h2m3 0h2m-1 0h2m-44 1h2m1 0h2m1 0h2m2 0h2m0 0h2m0 0h2m-2 0h2m0 0h2m1 0h2m-2 0h2m0 0h2m3 0h2m-2 0h2m-1 0h2m-2 0h2m0 0h2m2 0h2m0 0h2m1 0h2m-46 1h2m1 0h2m-2 0h2m-1 0h2m6 0h2m-2 0h2m0 0h2m-1 0h2m-2 0h2m-2 0h2m0 0h2m-1 0h2m0 0h2m-1 0h2m-1 0h2m-2 0h2m-1 0h2m-1 0h2m-2 0h2m0 0h2m1 0h2m-1 0h2m-2 0h2m1 0h2m-2 0h2m0 0h2m-1 0h2m-1 0h2m-2 0h2m0 0h2m4 0h2m-1 0h2m1 0h2m-54 1h2m3 0h2m2 0h2m-1 0h2m-1 0h2m-2 0h2m2 0h2m1 0h2m1 0h2m0 0h2m-1 0h2m-1 0h2m-2 0h2m-2 0h2m-2 0h2m-1 0h2m-1 0h2m-2 0h2m-1 0h2m-2 0h2m-1 0h2m-2 0h2m-1 0h2m-1 0h2m-1 0h2m-1 0h2m-1 0h2m-1 0h2m-1 0h2m0 0h2m-2 0h2m-1 0h2m0 0h2m-2 0h2m-1 0h2m1 0h2m-1 0h2m-1 0h2m2 0h2m-48 1h2m-2 0h2m0 0h2m-1 0h2m-1 0h2m0 0h2m-1 0h2m1 0h2m-1 0h2m0 0h2m1 0h2m-2 0h2m-1 0h2m-2 0h2m0 0h2m-1 0h2m-1 0h2m-2 0h2m-2 0h2m-1 0h2m2 0h2m2 0h2m0 0h2m0 0h2m5 0h2m-2 0h2m-47 1h2m0 0h2m-1 0h2m1 0h2m-2 0h2m2 0h2m-1 0h2m-1 0h2m1 0h2m-1 0h2m-1 0h2m-2 0h2m-1 0h2m-1 0h2m0 0h2m-2 0h2m-1 0h2m-1 0h2m2 0h2m-1 0h2m-1 0h2m-1 0h2m0 0h2m0 0h2m0 0h2m-1 0h2m0 0h2m3 0h2m-37 1h2m-2 0h2m-1 0h2m0 0h2m2 0h2m3 0h2m-2 0h2m-1 0h2m-2 0h2m-2 0h2m0 0h2m3 0h2m-2 0h2m1 0h2m-2 0h2m0 0h2m0 0h2m3 0h2m-46 1h2m0 0h2m-2 0h2m-1 0h2m1 0h2m3 0h2m9 0h2m-1 0h2m4 0h2m-2 0h2m2 0h2m0 0h2m8 0h2m-48 1h2m-1 0h2m-2 0h2m2 0h2m2 0h2m3 0h2m-1 0h2m5 0h2m3 0h2m-2 0h2m-1 0h2m-29 1h2m-1 0h2m-1 0h2m0 0h2m-1 0h2m0 0h2m7 0h2m-1 0h2m-1 0h2m-2 0h2m-1 0h2m0 0h2m-1 0h2m-1 0h2m-2 0h2m0 0h2m1 0h2m0 0h2m3 0h2m1 0h2m-2 0h2m2 0h2m-44 1h2m2 0h2m-2 0h2m-2 0h2m6 0h2m0 0h2m1 0h2m-1 0h2m0 0h2m0 0h2m8 0h2m1 0h2m1 0h2m-2 0h2m-44 1h2m-1 0h2m5 0h2m2 0h2m-1 0h2m-1 0h2m-1 0h2m0 0h2m-2 0h2m0 0h2m-1 0h2m-1 0h2m-2 0h2m-1 0h2m4 0h2m0 0h2m-1 0h2m-2 0h2m-1 0h2m-2 0h2m4 0h2m-42 1h2m2 0h2m-2 0h2m1 0h2m5 0h2m-2 0h2m9 0h2m1 0h2m-1 0h2m-1 0h2m-2 0h2m0 0h2m-2 0h2m1 0h2m0 0h2m-33 1h2m-1 0h2m2 0h2m-1 0h2m-2 0h2m1 0h2m-1 0h2m-1 0h2m1 0h2m0 0h2m11 0h2m1 0h2m-2 0h2m-37 1h2m-2 0h2m-1 0h2m-1 0h2m4 0h2m0 0h2m-1 0h2m-2 0h2m-2 0h2m1 0h2m1 0h2m1 0h2m-2 0h2m2 0h2m-25 1h2m2 0h2m-1 0h2m3 0h2m1 0h2m2 0h2m3 0h2m1 0h2m-26 1h2m4 0h2m-1 0h2m-2 0h2m-1 0h2m1 0h2m0 0h2m6 0h2m-20 1h2m4 0h2m-10 2h2m1 0h2" stroke="#008000" stroke-opacity="0.55" stroke-width="2.0" fill="none"/></g>
<g transform="scale(0.5)"><path d="M1168 60h2m-13 1h2m2 3h2m5 0h2m-22 1h2m3 0h2m-1 0h2m-3 2h2m-15 1h2m11 0h2m-2 0h2m-12 1h2m5 0h2m8 0h2m-24 1h2m12 0h2m-2 0h2m0 0h2m1 0h2m-1 0h2m-34 1h2m6 0h2m25 0h2m-36 1h2m3 0h2m2 0h2m0 0h2m0 0h2m-19 1h2m10 0h2m0 0h2m5 0h2m-2 0h2m2 0h2m-29 1h2m2 0h2m2 0h2m1 0h2m0 0h2m0 0h2m3 0h2m3 0h2m-2 0h2m5 0h2m7 0h2m-44 1h2m-2 0h2m3 0h2m0 0h2m7 0h2m3 0h2m5 0h2m-2 0h2m-26 1h2m3 0h2m2 0h2m2 0h2m0 0h2m-1 0h2m-1 0h2m0 0h2m2 0h2m-27 1h2m3 0h2m-1 0h2m-1 0h2m0 0h2m-2 0h2m8 0h2m1 0h2m1 0h2m1 0h2m-40 1h2m8 0h2m-2 0h2m0 0h2m1 0h2m-2 0h2m-2 0h2m-1 0h2m0 0h2m0 0h2m5 0h2m1 0h2m-1 0h2m-1 0h2m-29 1h2m2 0h2m14 0h2m4 0h2m-2 0h2m-1 0h2m-2 0h2m0 0h2m-1 0h2m-43 1h2m1 0h2m18 0h2m0 0h2m-1 0h2m2 0h2m0 0h2m-2 0h2m0 0h2m0 0h2m-1 0h2m-1 0h2m-33 1h2m3 0h2m-1 0h2m-1 0h2m-1 0h2m-2 0h2m0 0h2m-1 0h2m1 0h2m-1 0h2m-1 0h2m-1 0h2m4 0h2m2 0h2m3 0h2m10 0h2m-47 1h2m-1 0h2m0 0h2m-2 0h2m6 0h2m4 0h2m-1 0h2m0 0h2m3 0h2m-2 0h2m12 0h2m-56 1h2m14 0h2m2 0h2m-1 0h2m-2 0h2m-1 0h2m1 0h2m-1 0h2m1 0h2m-1 0h2m-2 0h2m-1 0h2m-1 0h2m1 0h2m-2 0h2m-1 0h2m12 0h2m-37 1h2m5 0h2m2 0h2m2 0h2m-2 0h2m3 0h2m-1 0h2m-1 0h2m1 0h2m2 0h2m3 0h2m-35 1h2m-1 0h2m0 0h2m0 0h2m-1 0h2m5 0h2m0 0h2m0 0h2m3 0h2m3 0h2m11 0h2m-40 1h2m-1 0h2m-2 0h2m-2 0h2m13 0h2m0 0h2m2 0h2m2 0h2m-38 1h2m2 0h2m3 0h2m1 0h2m-2 0h2m19 0h2m-27 1h2m10 0h2m1 0h2m-1 0h2m-1 0h2m-1 0h2m2 0h2m-43 1h2m2 0h2m10 0h2m6 0h2m-6 1h2m-1 0h2m3 0h2m6 0h2m4 0h2m15 0h2m-44 1h2m0 0h2m-1 0h2m1 0h2m5 0h2m10 0h2m-19 1h2m2 0h2m4 0h2m3 0h2m-17 1h2m11 0h2m-20 1h2m3 1h2m-11 1h2m3 0h2m2 0h2m4 0h2m-10 1h2m0 3h2m-12 4h2" stroke="#008000" stroke-opacity="0.4" stroke-width="2.0" fill="none"/><path d="M1143 58h2m17 6h2m-18 1h2m-11 1h2m-1 0h2m4 0h2m-20 1h2m11 0h2m3 1h2m1 0h2m6 0h2m-1 0h2m-20 1h2m-2 0h2m-7 1h2m3 0h2m-2 0h2m2 0h2m5 0h2m-23 1h2m9 0h2m5 0h2m7 0h2m-22 1h2m-1 0h2m0 0h2m5 0h2m-1 0h2m-23 1h2m16 0h2m1 0h2m-23 1h2m1 0h2m9 0h2m0 0h2m-1 0h2m16 0h2m-36 1h2m6 0h2m-1 0h2m-2 0h2m2 0h2m4 0h2m0 0h2m-30 1h2m5 0h2m-1 0h2m0 0h2m-2 0h2m6 0h2m-1 0h2m-1 0h2m0 0h2m0 0h2m0 0h2m-2 0h2m-2 0h2m0 0h2m1 0h2m-28 1h2m-2 0h2m-1 0h2m-2 0h2m-1 0h2m5 0h2m-1 0h2m-2 0h2m12 0h2m-1 0h2m-27 1h2m-1 0h2m-2 0h2m-2 0h2m-1 0h2m-1 0h2m-1 0h2m-2 0h2m-1 0h2m-1 0h2m-1 0h2m1 0h2m1 0h2m4 0h2m3 0h2m1 0h2m-34 1h2m2 0h2m-2 0h2m1 0h2m13 0h2m-1 0h2m1 0h2m-24 1h2m-2 0h2m-1 0h2m3 0h2m-2 0h2m-2 0h2m5 0h2m5 0h2m-39 1h2m5 0h2m0 0h2m-2 0h2m5 0h2m-1 0h2m-2 0h2m1 0h2m4 0h2m-1 0h2m0 0h2m-1 0h2m1 0h2m0 0h2m3 0h2m-28 1h2m1 0h2m0 0h2m0 0h2m-1 0h2m0 0h2m0 0h2m-2 0h2m1 0h2m1 0h2m0 0h2m-30 1h2m5 0h2m4 0h2m2 0h2m-1 0h2m1 0h2m0 0h2m-2 0h2m0 0h2m0 0h2m-1 0h2m8 0h2m-38 1h2m-1 0h2m0 0h2m-1 0h2m4 0h2m3 0h2m0 0h2m-1 0h2m-2 0h2m10 0h2m0 0h2m3 0h2m-52 1h2m5 0h2m5 0h2m2 0h2m-1 0h2m0 0h2m0 0h2m0 0h2m-2 0h2m-1 0h2m0 0h2m11 0h2m-28 1h2m-1 0h2m4 0h2m-1 0h2m1 0h2m2 0h2m3 0h2m1 0h2m-35 1h2m-1 0h2m3 0h2m9 0h2m-1 0h2m0 0h2m3 0h2m-24 1h2m3 0h2m8 0h2m0 0h2m0 0h2m-1 0h2m0 0h2m0 0h2m2 0h2m5 0h2m-24 1h2m10 0h2m10 0h2m-38 1h2m0 0h2m3 0h2m2 0h2m-1 0h2m0 0h2m3 0h2m0 0h2m-2 0h2m3 0h2m-33 1h2m6 0h2m1 0h2m9 0h2m1 0h2m-1 0h2m-32 1h2m7 0h2m0 0h2m30 0h2m-25 1h2m9 0h2m-44 1h2m14 0h2m16 0h2m-12 1h2m2 0h2m-1 0h2m-1 0h2m1 0h2m-8 1h2m-14 1h2m15 1h2m-17 1h2m-19 2h2" stroke="#008000" stroke-opacity="0.4" stroke-width="2.0" fill="none"/></g>
<g transform="scale(0.5)"><path d="M1217 44h2m-14 2h2m1 0h2m-50 4h2m28 0h2m3 0h2m1 1h2m12 0h2m9 0h2m-80 1h2m17 0h2m39 0h2m-19 1h2m1 0h2m-9 2h2m-17 1h2m-1 0h2m16 0h2m21 0h2m-34 1h2m2 0h2m2 0h2m-42 1h2m9 0h2m16 0h2m6 0h2m-26 1h2m3 0h2m26 0h2m5 0h2m8 0h2m-70 1h2m23 0h2m7 0h2m2 0h2m0 0h2m17 0h2m9 0h2m-69 1h2m31 0h2m21 0h2m-46 1h2m15 0h2m-1 0h2m4 0h2m1 0h2m-2 0h2m9 0h2m24 0h2m-70 1h2m7 0h2m0 0h2m4 0h2m12 0h2m1 0h2m8 0h2m9 0h2m-80 1h2m25 0h2m-1 0h2m5 0h2m-1 0h2m-1 0h2m3 0h2m-1 0h2m1 0h2m2 0h2m10 0h2m-42 1h2m-1 0h2m0 0h2m7 0h2m6 0h2m9 0h2m-1 0h2m-1 0h2m27 0h2m-53 1h2m2 0h2m0 0h2m-2 0h2m3 0h2m8 0h2m-53 1h2m10 0h2m14 0h2m3 0h2m-2 0h2m1 0h2m3 0h2m-50 1h2m24 0h2m-2 0h2m10 0h2m5 0h2m0 0h2m-1 0h2m13 0h2m2 0h2m-55 1h2m12 0h2m7 0h2m7 0h2m16 0h2m-41 1h2m9 0h2m16 0h2m-37 1h2m4 0h2m3 0h2m0 0h2m5 0h2m1 0h2m2 0h2m-1 0h2m-1 0h2m2 0h2m11 0h2m-49 1h2m-1 0h2m6 0h2m3 0h2m12 0h2m3 0h2m7 0h2m8 0h2m-68 1h2m-2 0h2m17 0h2m-1 0h2m4 0h2m0 0h2m0 0h2m-1 0h2m6 0h2m-48 1h2m1 0h2m17 0h2m4 0h2m3 0h2m-2 0h2m0 0h2m19 0h2m6 0h2m-58 1h2m1 0h2m0 0h2m3 0h2m-2 0h2m2 0h2m3 0h2m0 0h2m-1 0h2m-1 0h2m1 0h2m5 0h2m6 0h2m3 0h2m-30 1h2m-2 0h2m-1 0h2m1 0h2m-1 0h2m-2 0h2m-1 0h2m1 0h2m2 0h2m1 0h2m1 0h2m-37 1h2m6 0h2m1 0h2m2 0h2m3 0h2m-1 0h2m13 0h2m-22 1h2m1 0h2m0 0h2m6 0h2m1 0h2m-22 1h2m2 0h2m-2 0h2m-1 0h2m2 0h2m3 0h2m0 0h2m8 0h2m-53 1h2m8 0h2m-1 0h2m5 0h2m4 0h2m-2 0h2m5 0h2m2 0h2m5 0h2m-40 1h2m17 0h2m2 0h2m-1 0h2m-14 1h2m10 0h2m-1 0h2m3 0h2m30 0h2m-79 1h2m16 0h2m5 0h2m7 0h2m-2 0h2m10 0h2m2 0h2m19 0h2m-67 1h2m41 0h2m2 0h2m2 0h2m-55 1h2m27 0h2m0 0h2m15 0h2m-22 1h2m9 0h2m-45 1h2m21 0h2m1 0h2m3 0h2m-1 0h2m-25 1h2m12 0h2m11 0h2m-15 1h2m2 0h2m6 0h2m-1 0h2m7 0h2m-29 1h2m-1 0h2m17 0h2m-17 1h2m3 0h2m-5 1h2m-21 2h2m1 0h2m-12 3h2m-40 6h2m66 0h2" stroke="#008000" stroke-opacity="0.45" stroke-width="2.0" fill="none"/></g>
<path d="M409.6 234.2v-5M409.6 19.6v5M421.9 234.2v-5M421.9 19.6v5M434.1 234.2v-5M434.1 19.6v5M446.4 234.2v-9.7M446.4 19.6v9.7M458.7 234.2v-5M458.7 19.6v5M470.9 234.2v-5M470.9 19.6v5M483.2 234.2v-5M483.2 19.6v5M495.5 234.2v-9.7M495.5 19.6v9.7M507.7 234.2v-5M507.7 19.6v5M520.0 234.2v-5M520.0 19.6v5M532.3 234.2v-5M532.3 19.6v5M544.5 234.2v-9.7M544.5 19.6v9.7M556.8 234.2v-5M556.8 19.6v5M569.0 234.2v-5M569.0 19.6v5M581.3 234.2v-5M581.3 19.6v5M593.6 234.2v-9.7M593.6 19.6v9.7M605.8 234.2v-5M605.8 19.6v5M618.1 234.2v-5M618.1 19.6v5M630.4 234.2v-5M630.4 19.6v5M642.6 234.2v-9.7M642.6 19.6v9.7M654.9 234.2v-5M654.9 19.6v5M667.2 234.2v-5M667.2 19.6v5M679.4 234.2v-5M679.4 19.6v5M691.7 234.2v-9.7M691.7 19.6v9.7M410.0 223.1h5M692.0 223.1h-5M410.0 213.5h5M692.0 213.5h-5M410.0 205.2h5M692.0 205.2h-5M410.0 197.9h5M692.0 197.9h-5M410.0 191.4h10M692.0 191.4h-10M410.0 148.4h5M692.0 148.4h-5M410.0 123.3h5M692.0 123.3h-5M410.0 105.4h5M692.0 105.4h-5M410.0 91.6h5M692.0 91.6h-5M410.0 80.3h5M692.0 80.3h-5M410.0 70.7h5M692.0 70.7h-5M410.0 62.4h5M692.0 62.4h-5M410.0 55.1h5M692.0 55.1h-5M410.0 48.6h10M692.0 48.6h-10" stroke="#555" stroke-width="1.1" fill="none"/>
<rect x="410.0" y="19.6" width="282.0" height="214.6" fill="none" stroke="#555" stroke-width="1.3"/>

<text x="-0.3" y="11.1" style="font-family:'Liberation Serif',serif;font-size:15.5px;letter-spacing:0.5px">a)</text>
<text x="357.8" y="11.1" style="font-family:'Liberation Serif',serif;font-size:15.5px;letter-spacing:0.5px">b)</text>
<g style="font-family:'Liberation Sans',sans-serif;font-size:11px" fill="#000" stroke="#000" stroke-width="0.2">
<text x="36.0" y="246.5" text-anchor="middle">2</text>
<text x="119.3" y="246.5" text-anchor="middle">5</text>
<text x="182.3" y="246.5" text-anchor="middle">10</text>
<text x="245.3" y="246.5" text-anchor="middle">20</text>
<text x="183.7" y="260" text-anchor="middle" font-size="11.5">Energy (keV)</text>
<text transform="translate(28.6,42.4) rotate(-90)" text-anchor="middle">1</text>
<text transform="translate(28.6,96.8) rotate(-90)" text-anchor="middle">0.1</text>
<text transform="translate(28.6,151.3) rotate(-90)" text-anchor="middle">0.01</text>
<text transform="translate(28.6,205.2) rotate(-90)" text-anchor="middle">10<tspan dy="-4" font-size="7.8">-3</tspan></text>
<text transform="translate(9,124.3) rotate(-90)" text-anchor="middle" font-size="11.2" letter-spacing="0.05">keV (Photons cm<tspan dy="-4" font-size="7.5">-2</tspan><tspan dy="4"> s</tspan><tspan dy="-4" font-size="7.5">-1</tspan><tspan dy="4"> keV</tspan><tspan dy="-4" font-size="7.5">-1</tspan><tspan dy="4">)</tspan></text>
</g>
<g style="font-family:'Liberation Sans',sans-serif;font-size:9.85px">
<path d="M48.6 193.9h14.3" stroke="#888" stroke-width="1"/>
<path d="M48.6 208.3h14.3" stroke="#6a6aff" stroke-width="1"/>
<path d="M48.6 221.6h14.3" stroke="#70f070" stroke-width="1"/>
<text x="66" y="197.6" fill="#000" stroke="#000" stroke-width="0.08">HSS</text>
<text x="66" y="211.3" fill="#0000ff" stroke="#0000ff" stroke-width="0.08">SPL Period 1</text>
<text x="66" y="224.8" fill="#00e000" stroke="#00e000" stroke-width="0.08">SPL Period 2</text>
</g>
<g style="font-family:'Liberation Serif',serif;font-size:13px" fill="#000" stroke="#000" stroke-width="0.15">
<text x="446.4" y="247.2" text-anchor="middle">0.4</text>
<text x="495.5" y="247.2" text-anchor="middle">0.6</text>
<text x="544.5" y="247.2" text-anchor="middle">0.8</text>
<text x="593.6" y="247.2" text-anchor="middle">1.0</text>
<text x="642.6" y="247.2" text-anchor="middle">1.2</text>
<text x="691.7" y="247.2" text-anchor="middle">1.4</text>
<text x="404" y="53.2" text-anchor="end">1000</text>
<text x="404" y="196.0" text-anchor="end">100</text>
<text x="551" y="260" text-anchor="middle">4-12 keV/1-4 keV Hardness</text>
<text transform="translate(368,127) rotate(-90)" text-anchor="middle">52-FPM Count Rate (s<tspan dy="-5" font-size="8">-1</tspan><tspan dy="5">)</tspan></text>
</g>
<g style="font-family:'Liberation Serif',serif;font-size:11.5px">
<circle cx="432.3" cy="39.9" r="2.4" fill="#000"/>
<circle cx="432.3" cy="52.5" r="2.4" fill="#0000ff"/>
<circle cx="432.3" cy="65.0" r="2.4" fill="#008000"/>
<text x="440" y="43.6" fill="#000">HSS</text>
<text x="440" y="56.5" fill="#0000ff">SPL Period 1</text>
<text x="440" y="69.5" fill="#008000">SPL Period 2</text>
</g>

</svg>
</body></html>
